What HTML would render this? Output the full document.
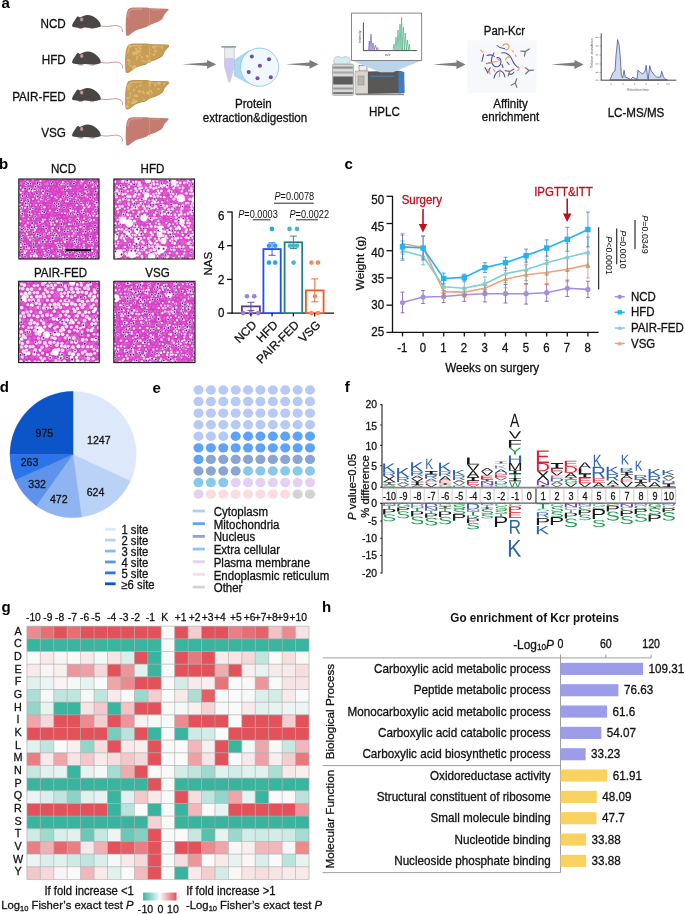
<!DOCTYPE html>
<html><head><meta charset="utf-8"><style>
html,body{margin:0;padding:0;background:#fff;}
body{width:685px;height:914px;overflow:hidden;position:relative;}
svg{position:absolute;left:0;top:0;will-change:transform;}
text{font-family:"Liberation Sans",sans-serif;}
</style></head><body>
<svg width="685" height="914" viewBox="0 0 685 914">
<text transform="translate(1.50,8.00) scale(1,1.0)" x="0" y="0" font-size="15" text-anchor="start" fill="#000" font-weight="bold" >a</text>
<text transform="translate(-1.00,168.80) scale(1,1.0)" x="0" y="0" font-size="15" text-anchor="start" fill="#000" font-weight="bold" >b</text>
<text transform="translate(344.50,169.30) scale(1,1.0)" x="0" y="0" font-size="15" text-anchor="start" fill="#000" font-weight="bold" >c</text>
<text transform="translate(-0.30,392.10) scale(1,1.0)" x="0" y="0" font-size="15" text-anchor="start" fill="#000" font-weight="bold" >d</text>
<text transform="translate(152.50,392.50) scale(1,1.0)" x="0" y="0" font-size="15" text-anchor="start" fill="#000" font-weight="bold" >e</text>
<text transform="translate(344.80,391.90) scale(1,1.0)" x="0" y="0" font-size="15" text-anchor="start" fill="#000" font-weight="bold" >f</text>
<text transform="translate(1.60,611.70) scale(1,1.0)" x="0" y="0" font-size="15" text-anchor="start" fill="#000" font-weight="bold" >g</text>
<text transform="translate(321.90,611.90) scale(1,1.0)" x="0" y="0" font-size="15" text-anchor="start" fill="#000" font-weight="bold" >h</text>
<text transform="translate(65.80,27.70) scale(1,1.08)" x="0" y="0" font-size="11.7" text-anchor="end" fill="#111" stroke="#111" stroke-width="0.28" >NCD</text>
<g transform="translate(72.0,14.6)"><path d="M28.5,11.3 C32,11.8 36,12.2 40,11.3 C44,10.6 47,11 49,12.6 C50.6,14 50.8,16 50.3,17.5" fill="none" stroke="#c4918e" stroke-width="0.9"/><path d="M0,11 C0.3,10 0.6,9 1,8.3 C1.8,7 2.4,6 3,5.3 C3.8,4 4.3,3 4.9,2.4 C5.3,1.8 5.7,1.7 6.2,1.8 C6.8,2 7.3,2.6 7.9,2.9 C9,2.2 10,1.8 11.4,1.4 C12.8,0.9 14,0.5 15.4,0.4 C17.3,0.4 18.8,0.8 20.3,1.4 C22,2.2 23.5,3.2 24.8,4.3 C26.2,5.5 27.2,6.7 27.8,7.8 C28.5,9 28.8,10.2 28.8,11.3 C28.5,12.3 27,12.6 25.8,12.8 L21.8,13.6 L12.9,12.8 L8.9,13.6 L4,12.8 L1,12.3 C0.3,12 0,11.6 0,11 Z" fill="#4b4646"/><ellipse cx="9.7" cy="4.8" rx="1.6" ry="2" fill="#c49492"/><path d="M6.5,13.7 L10.5,14.1 M18,13.8 L22,14.1" stroke="#c09392" stroke-width="0.9"/></g>
<g transform="translate(125.7,7.6)"><path d="M3.1,1.1 C5,0.2 7,0 8.3,0 L20.6,0 L25,0.6 L41.6,1.1 C42.5,1.2 43.2,1.6 42.9,2.2 C42,3.5 41,4 40.7,4.6 C39.5,6 38.6,7 38.1,8.1 C37.3,10 37,11 36.3,11.6 C35,12.8 34,13.3 32.8,13.8 L29.3,15.5 L24.1,17.3 C22.5,18 21.5,19 20.6,19.5 C18.5,20.5 17,20.7 15.3,21.2 C13.5,21.8 11.5,22.2 10.1,23 C8,24.2 7,25.2 5.7,26 C4.5,27 3.3,28.2 2.2,28.2 C1,28.4 0.5,28 0.4,27.3 C0,24 0,21 0,18.6 C0,15 0.2,12 0.4,9.8 C0.6,7 0.9,5.5 1.3,4.6 C1.8,3 2.3,1.8 3.1,1.1 Z" fill="#c57c70"/><path d="M2.2,9 C2.5,5 3.5,2.6 6,1.8 C9,1.2 13,1.3 16,1.4" stroke="#d6998f" stroke-width="1.5" fill="none" stroke-linecap="round" opacity="0.85"/><path d="M26.5,2.4 C29,1.9 32,2 34,2.2" stroke="#d6998f" stroke-width="1.1" fill="none" stroke-linecap="round" opacity="0.7"/><path d="M23.7,0.6 C24,6 23.8,12 24.1,19" stroke="#d6998f" stroke-width="0.7" fill="none" opacity="0.9"/></g>
<text transform="translate(65.80,64.25) scale(1,1.08)" x="0" y="0" font-size="11.7" text-anchor="end" fill="#111" stroke="#111" stroke-width="0.28" >HFD</text>
<g transform="translate(72.0,51.1)"><path d="M28.5,11.3 C32,11.8 36,12.2 40,11.3 C44,10.6 47,11 49,12.6 C50.6,14 50.8,16 50.3,17.5" fill="none" stroke="#c4918e" stroke-width="0.9"/><path d="M0,11 C0.3,10 0.6,9 1,8.3 C1.8,7 2.4,6 3,5.3 C3.8,4 4.3,3 4.9,2.4 C5.3,1.8 5.7,1.7 6.2,1.8 C6.8,2 7.3,2.6 7.9,2.9 C9,2.2 10,1.8 11.4,1.4 C12.8,0.9 14,0.5 15.4,0.4 C17.3,0.4 18.8,0.8 20.3,1.4 C22,2.2 23.5,3.2 24.8,4.3 C26.2,5.5 27.2,6.7 27.8,7.8 C28.5,9 28.8,10.2 28.8,11.3 C28.5,12.3 27,12.6 25.8,12.8 L21.8,13.6 L12.9,12.8 L8.9,13.6 L4,12.8 L1,12.3 C0.3,12 0,11.6 0,11 Z" fill="#4b4646"/><ellipse cx="9.7" cy="4.8" rx="1.6" ry="2" fill="#c49492"/><path d="M6.5,13.7 L10.5,14.1 M18,13.8 L22,14.1" stroke="#c09392" stroke-width="0.9"/></g>
<g transform="translate(125.7,44.1)"><path d="M3.1,1.1 C5,0.2 7,0 8.3,0 L20.6,0 L25,0.6 L41.6,1.1 C42.5,1.2 43.2,1.6 42.9,2.2 C42,3.5 41,4 40.7,4.6 C39.5,6 38.6,7 38.1,8.1 C37.3,10 37,11 36.3,11.6 C35,12.8 34,13.3 32.8,13.8 L29.3,15.5 L24.1,17.3 C22.5,18 21.5,19 20.6,19.5 C18.5,20.5 17,20.7 15.3,21.2 C13.5,21.8 11.5,22.2 10.1,23 C8,24.2 7,25.2 5.7,26 C4.5,27 3.3,28.2 2.2,28.2 C1,28.4 0.5,28 0.4,27.3 C0,24 0,21 0,18.6 C0,15 0.2,12 0.4,9.8 C0.6,7 0.9,5.5 1.3,4.6 C1.8,3 2.3,1.8 3.1,1.1 Z" fill="#c89d55" stroke="#c09550" stroke-width="1.2" stroke-linejoin="round"/><path d="M2.2,9 C2.5,5 3.5,2.6 6,1.8 C9,1.2 13,1.3 16,1.4" stroke="#dcb878" stroke-width="1.5" fill="none" stroke-linecap="round" opacity="0.85"/><path d="M26.5,2.4 C29,1.9 32,2 34,2.2" stroke="#dcb878" stroke-width="1.1" fill="none" stroke-linecap="round" opacity="0.7"/><circle cx="10.9" cy="15.4" r="1.0" fill="#dfbb72" opacity="0.85"/><circle cx="4.1" cy="1.8" r="1.5" fill="#dfbb72" opacity="0.85"/><circle cx="11.7" cy="7.5" r="1.7" fill="#dfbb72" opacity="0.85"/><circle cx="20.3" cy="17.8" r="0.8" fill="#dfbb72" opacity="0.85"/><circle cx="28.0" cy="3.1" r="1.4" fill="#dfbb72" opacity="0.85"/><circle cx="24.8" cy="9.2" r="0.6" fill="#dfbb72" opacity="0.85"/><circle cx="36.2" cy="4.0" r="0.7" fill="#dfbb72" opacity="0.85"/><circle cx="18.7" cy="17.5" r="0.9" fill="#dfbb72" opacity="0.85"/><circle cx="21.5" cy="11.3" r="1.0" fill="#dfbb72" opacity="0.85"/><circle cx="7.9" cy="23.4" r="1.7" fill="#dfbb72" opacity="0.85"/><circle cx="29.7" cy="6.9" r="1.5" fill="#dfbb72" opacity="0.85"/><circle cx="24.2" cy="8.8" r="0.7" fill="#dfbb72" opacity="0.85"/><circle cx="5.0" cy="21.9" r="1.1" fill="#dfbb72" opacity="0.85"/><circle cx="7.5" cy="9.0" r="1.4" fill="#dfbb72" opacity="0.85"/><circle cx="36.0" cy="2.6" r="1.3" fill="#dfbb72" opacity="0.85"/><circle cx="3.3" cy="19.8" r="1.0" fill="#dfbb72" opacity="0.85"/><circle cx="13.7" cy="3.5" r="1.3" fill="#dfbb72" opacity="0.85"/><circle cx="2.7" cy="6.5" r="1.0" fill="#dfbb72" opacity="0.85"/><circle cx="25.6" cy="5.5" r="0.6" fill="#dfbb72" opacity="0.85"/><circle cx="16.4" cy="13.2" r="1.2" fill="#dfbb72" opacity="0.85"/><circle cx="23.6" cy="17.3" r="1.6" fill="#dfbb72" opacity="0.85"/><circle cx="21.5" cy="12.5" r="1.4" fill="#dfbb72" opacity="0.85"/><circle cx="10.9" cy="9.2" r="1.7" fill="#dfbb72" opacity="0.85"/><circle cx="22.1" cy="15.5" r="0.6" fill="#dfbb72" opacity="0.85"/><circle cx="17.9" cy="16.3" r="0.6" fill="#dfbb72" opacity="0.85"/><circle cx="3.9" cy="17.5" r="1.1" fill="#dfbb72" opacity="0.85"/><circle cx="28.3" cy="10.5" r="1.4" fill="#dfbb72" opacity="0.85"/><circle cx="30.7" cy="2.1" r="0.7" fill="#dfbb72" opacity="0.85"/><circle cx="11.4" cy="13.1" r="1.3" fill="#dfbb72" opacity="0.85"/><circle cx="14.1" cy="10.8" r="0.9" fill="#dfbb72" opacity="0.85"/><circle cx="16.1" cy="16.7" r="0.9" fill="#dfbb72" opacity="0.85"/><circle cx="2.6" cy="16.0" r="1.4" fill="#dfbb72" opacity="0.85"/><circle cx="13.7" cy="7.2" r="1.5" fill="#dfbb72" opacity="0.85"/><circle cx="10.9" cy="6.3" r="1.1" fill="#dfbb72" opacity="0.85"/><circle cx="29.1" cy="4.1" r="1.0" fill="#dfbb72" opacity="0.85"/><circle cx="8.2" cy="10.1" r="1.3" fill="#dfbb72" opacity="0.85"/><circle cx="10.4" cy="4.6" r="1.2" fill="#dfbb72" opacity="0.85"/><circle cx="9.0" cy="22.1" r="1.5" fill="#dfbb72" opacity="0.85"/><circle cx="8.8" cy="8.6" r="1.5" fill="#dfbb72" opacity="0.85"/><circle cx="15.1" cy="4.8" r="0.9" fill="#dfbb72" opacity="0.85"/><path d="M17,20.2 C18,21.5 19,21 19.5,20" fill="#3aa060"/><path d="M23.7,0.6 C24,6 23.8,12 24.1,19" stroke="#dcb878" stroke-width="0.7" fill="none" opacity="0.9"/></g>
<text transform="translate(65.80,100.80) scale(1,1.08)" x="0" y="0" font-size="11.7" text-anchor="end" fill="#111" stroke="#111" stroke-width="0.28" >PAIR-FED</text>
<g transform="translate(72.0,87.7)"><path d="M28.5,11.3 C32,11.8 36,12.2 40,11.3 C44,10.6 47,11 49,12.6 C50.6,14 50.8,16 50.3,17.5" fill="none" stroke="#c4918e" stroke-width="0.9"/><path d="M0,11 C0.3,10 0.6,9 1,8.3 C1.8,7 2.4,6 3,5.3 C3.8,4 4.3,3 4.9,2.4 C5.3,1.8 5.7,1.7 6.2,1.8 C6.8,2 7.3,2.6 7.9,2.9 C9,2.2 10,1.8 11.4,1.4 C12.8,0.9 14,0.5 15.4,0.4 C17.3,0.4 18.8,0.8 20.3,1.4 C22,2.2 23.5,3.2 24.8,4.3 C26.2,5.5 27.2,6.7 27.8,7.8 C28.5,9 28.8,10.2 28.8,11.3 C28.5,12.3 27,12.6 25.8,12.8 L21.8,13.6 L12.9,12.8 L8.9,13.6 L4,12.8 L1,12.3 C0.3,12 0,11.6 0,11 Z" fill="#4b4646"/><ellipse cx="9.7" cy="4.8" rx="1.6" ry="2" fill="#c49492"/><path d="M6.5,13.7 L10.5,14.1 M18,13.8 L22,14.1" stroke="#c09392" stroke-width="0.9"/></g>
<g transform="translate(125.7,80.7)"><path d="M3.1,1.1 C5,0.2 7,0 8.3,0 L20.6,0 L25,0.6 L41.6,1.1 C42.5,1.2 43.2,1.6 42.9,2.2 C42,3.5 41,4 40.7,4.6 C39.5,6 38.6,7 38.1,8.1 C37.3,10 37,11 36.3,11.6 C35,12.8 34,13.3 32.8,13.8 L29.3,15.5 L24.1,17.3 C22.5,18 21.5,19 20.6,19.5 C18.5,20.5 17,20.7 15.3,21.2 C13.5,21.8 11.5,22.2 10.1,23 C8,24.2 7,25.2 5.7,26 C4.5,27 3.3,28.2 2.2,28.2 C1,28.4 0.5,28 0.4,27.3 C0,24 0,21 0,18.6 C0,15 0.2,12 0.4,9.8 C0.6,7 0.9,5.5 1.3,4.6 C1.8,3 2.3,1.8 3.1,1.1 Z" fill="#c89d55" stroke="#c09550" stroke-width="1.2" stroke-linejoin="round"/><path d="M2.2,9 C2.5,5 3.5,2.6 6,1.8 C9,1.2 13,1.3 16,1.4" stroke="#dcb878" stroke-width="1.5" fill="none" stroke-linecap="round" opacity="0.85"/><path d="M26.5,2.4 C29,1.9 32,2 34,2.2" stroke="#dcb878" stroke-width="1.1" fill="none" stroke-linecap="round" opacity="0.7"/><circle cx="32.9" cy="8.4" r="1.0" fill="#dfbb72" opacity="0.85"/><circle cx="18.0" cy="12.2" r="1.1" fill="#dfbb72" opacity="0.85"/><circle cx="1.7" cy="25.6" r="1.6" fill="#dfbb72" opacity="0.85"/><circle cx="10.3" cy="20.5" r="1.5" fill="#dfbb72" opacity="0.85"/><circle cx="12.9" cy="10.2" r="0.9" fill="#dfbb72" opacity="0.85"/><circle cx="4.2" cy="16.5" r="0.9" fill="#dfbb72" opacity="0.85"/><circle cx="33.5" cy="2.6" r="1.6" fill="#dfbb72" opacity="0.85"/><circle cx="24.3" cy="1.8" r="1.4" fill="#dfbb72" opacity="0.85"/><circle cx="8.3" cy="9.1" r="1.3" fill="#dfbb72" opacity="0.85"/><circle cx="22.2" cy="12.1" r="1.6" fill="#dfbb72" opacity="0.85"/><circle cx="25.7" cy="10.2" r="0.9" fill="#dfbb72" opacity="0.85"/><circle cx="9.3" cy="15.1" r="1.5" fill="#dfbb72" opacity="0.85"/><circle cx="8.3" cy="21.7" r="1.6" fill="#dfbb72" opacity="0.85"/><circle cx="1.8" cy="17.5" r="1.5" fill="#dfbb72" opacity="0.85"/><circle cx="3.5" cy="8.4" r="0.9" fill="#dfbb72" opacity="0.85"/><circle cx="22.3" cy="12.3" r="1.1" fill="#dfbb72" opacity="0.85"/><circle cx="32.2" cy="1.5" r="0.7" fill="#dfbb72" opacity="0.85"/><circle cx="6.5" cy="4.7" r="0.7" fill="#dfbb72" opacity="0.85"/><circle cx="4.9" cy="14.3" r="0.9" fill="#dfbb72" opacity="0.85"/><circle cx="13.9" cy="10.5" r="1.3" fill="#dfbb72" opacity="0.85"/><circle cx="24.7" cy="10.7" r="0.8" fill="#dfbb72" opacity="0.85"/><circle cx="14.5" cy="4.7" r="1.2" fill="#dfbb72" opacity="0.85"/><circle cx="4.7" cy="6.1" r="1.0" fill="#dfbb72" opacity="0.85"/><circle cx="26.1" cy="12.5" r="1.0" fill="#dfbb72" opacity="0.85"/><circle cx="18.1" cy="19.2" r="1.1" fill="#dfbb72" opacity="0.85"/><circle cx="11.2" cy="15.2" r="1.4" fill="#dfbb72" opacity="0.85"/><circle cx="4.3" cy="12.3" r="1.1" fill="#dfbb72" opacity="0.85"/><circle cx="32.7" cy="8.2" r="1.1" fill="#dfbb72" opacity="0.85"/><circle cx="6.4" cy="22.2" r="1.3" fill="#dfbb72" opacity="0.85"/><circle cx="23.8" cy="4.1" r="1.2" fill="#dfbb72" opacity="0.85"/><circle cx="1.7" cy="5.2" r="1.5" fill="#dfbb72" opacity="0.85"/><circle cx="3.3" cy="3.8" r="0.7" fill="#dfbb72" opacity="0.85"/><circle cx="2.4" cy="23.0" r="0.7" fill="#dfbb72" opacity="0.85"/><circle cx="2.9" cy="21.1" r="1.2" fill="#dfbb72" opacity="0.85"/><circle cx="29.7" cy="4.2" r="1.4" fill="#dfbb72" opacity="0.85"/><circle cx="38.4" cy="3.1" r="1.0" fill="#dfbb72" opacity="0.85"/><circle cx="11.1" cy="6.1" r="0.9" fill="#dfbb72" opacity="0.85"/><circle cx="17.1" cy="10.9" r="1.0" fill="#dfbb72" opacity="0.85"/><circle cx="15.3" cy="12.2" r="0.7" fill="#dfbb72" opacity="0.85"/><circle cx="7.8" cy="19.1" r="1.4" fill="#dfbb72" opacity="0.85"/><path d="M17,20.2 C18,21.5 19,21 19.5,20" fill="#3aa060"/><path d="M23.7,0.6 C24,6 23.8,12 24.1,19" stroke="#dcb878" stroke-width="0.7" fill="none" opacity="0.9"/></g>
<text transform="translate(65.80,137.35) scale(1,1.08)" x="0" y="0" font-size="11.7" text-anchor="end" fill="#111" stroke="#111" stroke-width="0.28" >VSG</text>
<g transform="translate(72.0,124.2)"><path d="M28.5,11.3 C32,11.8 36,12.2 40,11.3 C44,10.6 47,11 49,12.6 C50.6,14 50.8,16 50.3,17.5" fill="none" stroke="#c4918e" stroke-width="0.9"/><path d="M0,11 C0.3,10 0.6,9 1,8.3 C1.8,7 2.4,6 3,5.3 C3.8,4 4.3,3 4.9,2.4 C5.3,1.8 5.7,1.7 6.2,1.8 C6.8,2 7.3,2.6 7.9,2.9 C9,2.2 10,1.8 11.4,1.4 C12.8,0.9 14,0.5 15.4,0.4 C17.3,0.4 18.8,0.8 20.3,1.4 C22,2.2 23.5,3.2 24.8,4.3 C26.2,5.5 27.2,6.7 27.8,7.8 C28.5,9 28.8,10.2 28.8,11.3 C28.5,12.3 27,12.6 25.8,12.8 L21.8,13.6 L12.9,12.8 L8.9,13.6 L4,12.8 L1,12.3 C0.3,12 0,11.6 0,11 Z" fill="#4b4646"/><ellipse cx="9.7" cy="4.8" rx="1.6" ry="2" fill="#c49492"/><path d="M6.5,13.7 L10.5,14.1 M18,13.8 L22,14.1" stroke="#c09392" stroke-width="0.9"/></g>
<g transform="translate(125.7,117.2)"><path d="M3.1,1.1 C5,0.2 7,0 8.3,0 L20.6,0 L25,0.6 L41.6,1.1 C42.5,1.2 43.2,1.6 42.9,2.2 C42,3.5 41,4 40.7,4.6 C39.5,6 38.6,7 38.1,8.1 C37.3,10 37,11 36.3,11.6 C35,12.8 34,13.3 32.8,13.8 L29.3,15.5 L24.1,17.3 C22.5,18 21.5,19 20.6,19.5 C18.5,20.5 17,20.7 15.3,21.2 C13.5,21.8 11.5,22.2 10.1,23 C8,24.2 7,25.2 5.7,26 C4.5,27 3.3,28.2 2.2,28.2 C1,28.4 0.5,28 0.4,27.3 C0,24 0,21 0,18.6 C0,15 0.2,12 0.4,9.8 C0.6,7 0.9,5.5 1.3,4.6 C1.8,3 2.3,1.8 3.1,1.1 Z" fill="#c57c70"/><path d="M2.2,9 C2.5,5 3.5,2.6 6,1.8 C9,1.2 13,1.3 16,1.4" stroke="#d6998f" stroke-width="1.5" fill="none" stroke-linecap="round" opacity="0.85"/><path d="M26.5,2.4 C29,1.9 32,2 34,2.2" stroke="#d6998f" stroke-width="1.1" fill="none" stroke-linecap="round" opacity="0.7"/><path d="M23.7,0.6 C24,6 23.8,12 24.1,19" stroke="#d6998f" stroke-width="0.7" fill="none" opacity="0.9"/></g>
<path d="M182.6,64.2 L207.1,62.400000000000006 L207.1,59.900000000000006 L216.1,64.2 L207.1,68.8 L207.1,66.10000000000001 Z" fill="#7d7b7b"/>
<path d="M286,64.2 L309.5,62.400000000000006 L309.5,59.900000000000006 L318.5,64.2 L309.5,68.8 L309.5,66.10000000000001 Z" fill="#7d7b7b"/>
<path d="M433,64.4 L456.5,62.60000000000001 L456.5,60.10000000000001 L465.5,64.4 L456.5,69.0 L456.5,66.30000000000001 Z" fill="#7d7b7b"/>
<path d="M551,64.4 L574.5,62.60000000000001 L574.5,60.10000000000001 L583.5,64.4 L574.5,69.0 L574.5,66.30000000000001 Z" fill="#7d7b7b"/>
<path d="M233.8,60 L249,50 L249,84 L233.8,76 Z" fill="#a3d5ef" opacity="0.9"/>
<circle cx="259.6" cy="67.2" r="19.1" fill="#f1f8fd" stroke="#8cc7e6" stroke-width="0.9"/>
<circle cx="251.9" cy="56.5" r="2.05" fill="#6a54aa"/>
<circle cx="269" cy="59.3" r="2.05" fill="#6a54aa"/>
<circle cx="259.9" cy="65.7" r="2.05" fill="#6a54aa"/>
<circle cx="248.7" cy="72.1" r="2.05" fill="#6a54aa"/>
<circle cx="257.5" cy="78.2" r="2.05" fill="#6a54aa"/>
<circle cx="270.8" cy="77.3" r="2.05" fill="#6a54aa"/>
<path d="M224.6,47.6 L234.2,47.6 L234.2,66.5 L229.9,82.1 L228.9,82.1 L224.6,66.5 Z" fill="#e8eeee" stroke="#aab4b4" stroke-width="0.6"/>
<path d="M224.9,58 L233.9,58 L233.9,66.5 L229.8,81.6 L229,81.6 L224.9,66.5 Z" fill="#cec6f2"/>
<rect x="221.4" y="46" width="14.7" height="1.8" rx="0.5" fill="#9aa4a6"/>
<text transform="translate(253.30,108.20) scale(1,1.08)" x="0" y="0" font-size="11.6" text-anchor="middle" fill="#111" stroke="#111" stroke-width="0.28" >Protein</text>
<text transform="translate(255.00,122.40) scale(1,1.08)" x="0" y="0" font-size="11.6" text-anchor="middle" fill="#111" stroke="#111" stroke-width="0.28" >extraction&amp;digestion</text>
<g><path d="M334,59 C336,56 340,56 342,58 C344,56 348,56 350,59 L350,64 L334,64 Z" fill="#d6ecf4" stroke="#9ab" stroke-width="0.5"/><rect x="332.5" y="64.3" width="21" height="31" rx="1" fill="#d9d9d9" stroke="#8a8a8a" stroke-width="0.6"/><rect x="333.2" y="66.5" width="19.6" height="2.2" fill="#8f8f8f"/><rect x="333.2" y="71.5" width="19.6" height="2" fill="#a5a5a5"/><rect x="333.2" y="76.5" width="19.6" height="8" fill="#5c5c5c"/><rect x="333.2" y="87.5" width="19.6" height="2" fill="#9a9a9a"/><rect x="333.2" y="92" width="19.6" height="2" fill="#7a7a7a"/><rect x="359" y="65.5" width="8" height="5.5" fill="#eee" stroke="#666" stroke-width="0.6"/><rect x="355.1" y="71" width="13" height="23" fill="#d9d5d1" stroke="#8a8a8a" stroke-width="0.5"/><rect x="358" y="76" width="6" height="9" fill="#b8b4b0" stroke="#777" stroke-width="0.4"/><path d="M368,71.5 L399,70.8 L403.8,72 L404.4,93 L368,93.9 Z" fill="#5a5856"/><rect x="370" y="75.8" width="24" height="0.8" fill="#4a86c0"/><path d="M398.5,71 L404.3,72.2 L404.4,92.8 L398.5,93.5 Z" fill="#3f7dc2"/><rect x="356" y="93.6" width="48" height="1.6" fill="#8a8a8a"/></g>
<path d="M352,60.4 L421.5,60.4 L393,72.3 L380,72.3 Z" fill="#b9d4eb"/>
<rect x="351.6" y="13.1" width="70.1" height="47.3" fill="#fff" stroke="#6a6a6a" stroke-width="0.8"/>
<path d="M363.4,22.4 L363.4,50.6 L416.8,50.6" fill="none" stroke="#222" stroke-width="0.8"/>
<path d="M368.5,50.5 L369.3,41 L370,50 L371,34.2 L372,50 L373,43 L374,50 L375.5,45 L376.5,50 L377.5,47.5 L378.5,50.5" fill="none" stroke="#8272c2" stroke-width="0.8"/>
<path d="M393,50.5 L394,44 L395,50 L396,37 L397,50 L398,30 L399,50 L400,24 L401,50 L401.6,17.5 L402.4,50 L403.4,27 L404.3,50 L405.3,33 L406.3,50 L407.3,40 L408.3,50 L409.3,44 L410.2,50.5" fill="none" stroke="#5db68c" stroke-width="0.8"/>
<text transform="translate(360.5,43) rotate(-90)" x="0" y="0" font-size="3.3" fill="#444">Intensity</text>
<text x="385" y="55.5" font-size="3.3" font-style="italic" fill="#444">m/z</text>
<text transform="translate(384.40,116.30) scale(1,1.08)" x="0" y="0" font-size="11.6" text-anchor="middle" fill="#111" stroke="#111" stroke-width="0.28" >HPLC</text>
<text transform="translate(504.40,34.80) scale(1,1.08)" x="0" y="0" font-size="11.4" text-anchor="middle" fill="#111" stroke="#111" stroke-width="0.28" >Pan-Kcr</text>
<rect x="467.3" y="40.3" width="69.4" height="52.5" fill="#f6f8fc"/>
<path d="M483.6,54.3 L481.9,61.3" fill="none" stroke="#4651b0" stroke-width="1.05" stroke-linecap="round"/>
<path d="M487,55.4 C490,54.5 493,55 494.5,56.5" fill="none" stroke="#4651b0" stroke-width="1.05" stroke-linecap="round"/>
<path d="M494,53 C491,57 490,63 494,66 C497,68 501,66 501,62 C501,59 499,57.5 497,57.5" fill="none" stroke="#4651b0" stroke-width="1.05" stroke-linecap="round"/>
<path d="M497,45.5 C499,47.5 501.5,48.6 504.5,48.4" fill="none" stroke="#4651b0" stroke-width="1.05" stroke-linecap="round"/>
<path d="M501.7,53 C506,52 510.5,55 512,59.5 C513.5,63 515,66 518.5,67.5" fill="none" stroke="#4651b0" stroke-width="1.05" stroke-linecap="round"/>
<path d="M485,67.5 L487.8,72.8 L490.2,67.8" fill="none" stroke="#4651b0" stroke-width="1.05" stroke-linecap="round"/>
<path d="M494,78.2 C495,73 498,70.3 501,71 C503.5,72 504.5,75 504.8,77" fill="none" stroke="#4651b0" stroke-width="1.05" stroke-linecap="round"/>
<path d="M502,64.5 L503,67.5" fill="none" stroke="#4651b0" stroke-width="1.05" stroke-linecap="round"/>
<path d="M508.7,73.5 C510.5,75 512.5,74.5 513.8,72.2" fill="none" stroke="#4651b0" stroke-width="1.05" stroke-linecap="round"/>
<path d="M486.5,63.6 L491.5,62.6" fill="none" stroke="#4651b0" stroke-width="1.05" stroke-linecap="round"/>
<path d="M507,62 L509,64.5" fill="none" stroke="#4651b0" stroke-width="1.05" stroke-linecap="round"/>
<path d="M480.7,50.2 L483,52.5" fill="none" stroke="#ec9254" stroke-width="1.05" stroke-linecap="round"/>
<path d="M502.9,46 C503.5,43.5 507.5,43 508.8,45.6 C509.8,48.5 507,51 504.8,49.2" fill="none" stroke="#ec9254" stroke-width="1.05" stroke-linecap="round"/>
<path d="M487,63.8 C490,63 493.5,62 497,61.6" fill="none" stroke="#ec9254" stroke-width="1.05" stroke-linecap="round"/>
<path d="M487.9,69 L490.2,74.1" fill="none" stroke="#ec9254" stroke-width="1.05" stroke-linecap="round"/>
<path d="M497,58.4 L499.4,60.6" fill="none" stroke="#ec9254" stroke-width="1.05" stroke-linecap="round"/>
<path d="M505.6,60 C506.2,57.5 508.2,56.2 510.3,57.2" fill="none" stroke="#ec9254" stroke-width="1.05" stroke-linecap="round"/>
<path d="M515.2,55 L516.2,56.5" fill="none" stroke="#ec9254" stroke-width="1.05" stroke-linecap="round"/>
<path d="M499.4,76.8 L500,69.2" fill="none" stroke="#ec9254" stroke-width="1.05" stroke-linecap="round"/>
<path d="M517.6,66.3 C519.6,67.5 519.8,70.2 517.4,70.5" fill="none" stroke="#ec9254" stroke-width="1.05" stroke-linecap="round"/>
<path d="M512,50.5 L513.5,52" fill="none" stroke="#ec9254" stroke-width="1.05" stroke-linecap="round"/>
<path d="M493,69 L495,71.5" fill="none" stroke="#ec9254" stroke-width="1.05" stroke-linecap="round"/>
<g transform="translate(525.5,51.5) rotate(-125)" stroke="#7a7a7a" stroke-width="1.3" fill="none" stroke-linecap="round"><path d="M0,4.5 L0,0 L-3,-3.5 M0,0 L3,-3.5"/></g>
<g transform="translate(529,70.5) rotate(-95)" stroke="#7a7a7a" stroke-width="1.3" fill="none" stroke-linecap="round"><path d="M0,4.5 L0,0 L-3,-3.5 M0,0 L3,-3.5"/></g>
<g transform="translate(515.2,83) rotate(-160)" stroke="#7a7a7a" stroke-width="1.3" fill="none" stroke-linecap="round"><path d="M0,4.5 L0,0 L-3,-3.5 M0,0 L3,-3.5"/></g>
<g transform="translate(509.8,71.5) rotate(-120)" stroke="#7a7a7a" stroke-width="1.3" fill="none" stroke-linecap="round"><path d="M0,4.5 L0,0 L-3,-3.5 M0,0 L3,-3.5"/></g>
<text transform="translate(510.50,107.70) scale(1,1.08)" x="0" y="0" font-size="11.6" text-anchor="middle" fill="#111" stroke="#111" stroke-width="0.28" >Affinity</text>
<text transform="translate(510.50,121.30) scale(1,1.08)" x="0" y="0" font-size="11.6" text-anchor="middle" fill="#111" stroke="#111" stroke-width="0.28" >enrichment</text>
<path d="M609.9,79.9 L613,72.5 L615,71 L616,55.7 L617.6,39.6 L619.1,44.9 L620.2,55.7 L621.4,75.6 L622.6,77.9 L624.1,70.2 L625.2,77.1 L627.5,77.9 L630.6,79.4 L632.9,77.1 L634.4,77.9 L637,79.4 L637.9,70.2 L640.5,72.5 L642.8,74 L645.1,71 L646.2,65.2 L647.4,75.6 L648.2,79.4 L649.7,65.6 L651.3,71 L653.6,74 L656.6,77.1 L660.5,77.1 L661.7,71.3 L663.5,77.1 L665.8,79.4 L667.4,79.9 Z" fill="#cfd8ee" stroke="#3d4f94" stroke-width="0.75" stroke-linejoin="round"/>
<path d="M601.2,33.4 L601.2,80.2 L676.3,80.2" fill="none" stroke="#333" stroke-width="0.9"/>
<line x1="599.5" y1="37.5" x2="601.2" y2="37.5" stroke="#555" stroke-width="0.4"/>
<rect x="595.5" y="36.9" width="2.8" height="1.1" fill="#aaa"/>
<line x1="599.5" y1="46" x2="601.2" y2="46" stroke="#555" stroke-width="0.4"/>
<rect x="595.5" y="45.4" width="2.8" height="1.1" fill="#aaa"/>
<line x1="599.5" y1="55" x2="601.2" y2="55" stroke="#555" stroke-width="0.4"/>
<rect x="595.5" y="54.4" width="2.8" height="1.1" fill="#aaa"/>
<line x1="599.5" y1="64" x2="601.2" y2="64" stroke="#555" stroke-width="0.4"/>
<rect x="595.5" y="63.4" width="2.8" height="1.1" fill="#aaa"/>
<line x1="599.5" y1="72.5" x2="601.2" y2="72.5" stroke="#555" stroke-width="0.4"/>
<rect x="595.5" y="71.9" width="2.8" height="1.1" fill="#aaa"/>
<line x1="599.5" y1="80.2" x2="601.2" y2="80.2" stroke="#555" stroke-width="0.4"/>
<rect x="595.5" y="79.6" width="2.8" height="1.1" fill="#aaa"/>
<rect x="610.4" y="83.5" width="1.3" height="1.1" fill="#999"/>
<rect x="622.4" y="83.5" width="1.3" height="1.1" fill="#999"/>
<rect x="633.9" y="83.5" width="1.3" height="1.1" fill="#999"/>
<rect x="645.4" y="83.5" width="1.3" height="1.1" fill="#999"/>
<rect x="657.4" y="83.5" width="1.3" height="1.1" fill="#999"/>
<rect x="666" y="83.5" width="4" height="1" fill="#bbb"/>
<text transform="translate(592.6,68) rotate(-90)" x="0" y="0" font-size="3.4" fill="#666">Relative abundance</text>
<text x="627" y="90.5" font-size="3.4" fill="#666">Retention time</text>
<text transform="translate(636.00,116.50) scale(1,1.08)" x="0" y="0" font-size="11.6" text-anchor="middle" fill="#111" stroke="#111" stroke-width="0.28" >LC-MS/MS</text>
<text transform="translate(63.50,173.00) scale(1,1.08)" x="0" y="0" font-size="11.6" text-anchor="middle" fill="#111" stroke="#111" stroke-width="0.28" >NCD</text>
<text transform="translate(152.50,173.00) scale(1,1.08)" x="0" y="0" font-size="11.6" text-anchor="middle" fill="#111" stroke="#111" stroke-width="0.28" >HFD</text>
<text transform="translate(60.50,277.20) scale(1,1.08)" x="0" y="0" font-size="11.6" text-anchor="middle" fill="#111" stroke="#111" stroke-width="0.28" >PAIR-FED</text>
<text transform="translate(157.50,277.20) scale(1,1.08)" x="0" y="0" font-size="11.6" text-anchor="middle" fill="#111" stroke="#111" stroke-width="0.28" >VSG</text>
<clipPath id="clip1"><rect x="18.8" y="179" width="80.2" height="80"/></clipPath><g clip-path="url(#clip1)"><rect x="18.8" y="179" width="80.2" height="80" fill="#d63cc6"/><circle cx="17.4" cy="176.5" r="1.16" fill="#fffafe"/><circle cx="21.1" cy="175.4" r="1.01" fill="#fffafe"/><circle cx="24.4" cy="175.5" r="1.01" fill="#e062d2"/><circle cx="27.2" cy="175.3" r="0.90" fill="#e062d2"/><circle cx="30.8" cy="175.6" r="1.16" fill="#e062d2"/><circle cx="33.0" cy="175.3" r="1.19" fill="#e062d2"/><circle cx="36.6" cy="176.9" r="1.04" fill="#e062d2"/><circle cx="41.0" cy="176.8" r="0.93" fill="#e062d2"/><circle cx="43.2" cy="176.3" r="0.80" fill="#e062d2"/><circle cx="46.5" cy="176.7" r="1.02" fill="#e062d2"/><circle cx="50.5" cy="175.4" r="1.24" fill="#e062d2"/><circle cx="54.0" cy="175.3" r="1.15" fill="#e062d2"/><circle cx="55.9" cy="175.4" r="0.88" fill="#fffafe"/><circle cx="60.8" cy="175.9" r="0.96" fill="#e062d2"/><circle cx="62.7" cy="176.5" r="1.16" fill="#f8dcf1"/><circle cx="66.4" cy="176.3" r="1.21" fill="#e062d2"/><circle cx="70.0" cy="175.8" r="0.94" fill="#e062d2"/><circle cx="74.1" cy="175.6" r="0.82" fill="#fffafe"/><circle cx="76.4" cy="175.7" r="1.07" fill="#f8dcf1"/><circle cx="79.7" cy="175.4" r="1.21" fill="#e062d2"/><circle cx="83.7" cy="175.5" r="1.13" fill="#fffafe"/><circle cx="86.9" cy="175.5" r="1.00" fill="#e062d2"/><circle cx="89.4" cy="176.1" r="1.25" fill="#f8dcf1"/><circle cx="93.0" cy="176.1" r="1.13" fill="#e062d2"/><circle cx="96.1" cy="176.9" r="1.23" fill="#e062d2"/><circle cx="99.4" cy="175.5" r="0.92" fill="#f8dcf1"/><circle cx="102.7" cy="176.6" r="1.15" fill="#f8dcf1"/><circle cx="15.9" cy="178.8" r="1.12" fill="#e062d2"/><circle cx="19.2" cy="179.3" r="0.93" fill="#fffafe"/><circle cx="22.2" cy="178.2" r="1.05" fill="#e062d2"/><circle cx="25.3" cy="179.5" r="1.09" fill="#f8dcf1"/><circle cx="28.9" cy="179.4" r="1.17" fill="#e062d2"/><circle cx="32.6" cy="179.3" r="1.24" fill="#fffafe"/><circle cx="35.3" cy="178.4" r="1.18" fill="#fffafe"/><circle cx="38.9" cy="179.4" r="1.13" fill="#e062d2"/><circle cx="42.0" cy="179.3" r="0.99" fill="#e062d2"/><circle cx="45.4" cy="179.4" r="0.81" fill="#e062d2"/><circle cx="48.7" cy="178.5" r="1.11" fill="#e062d2"/><circle cx="51.1" cy="178.4" r="0.94" fill="#e062d2"/><circle cx="54.9" cy="179.2" r="1.07" fill="#e062d2"/><circle cx="57.6" cy="178.8" r="0.93" fill="#e062d2"/><circle cx="60.9" cy="179.2" r="0.84" fill="#e062d2"/><circle cx="65.1" cy="179.8" r="1.17" fill="#e062d2"/><circle cx="68.5" cy="178.8" r="0.86" fill="#e062d2"/><circle cx="72.4" cy="179.8" r="1.07" fill="#e062d2"/><circle cx="74.1" cy="178.4" r="1.05" fill="#e062d2"/><circle cx="78.0" cy="178.9" r="0.90" fill="#e062d2"/><circle cx="81.3" cy="179.8" r="1.21" fill="#e062d2"/><circle cx="84.7" cy="178.7" r="1.24" fill="#e062d2"/><circle cx="88.3" cy="178.9" r="0.93" fill="#f8dcf1"/><circle cx="90.6" cy="179.1" r="0.92" fill="#fffafe"/><circle cx="94.3" cy="178.6" r="0.87" fill="#fffafe"/><circle cx="98.2" cy="179.2" r="1.13" fill="#e062d2"/><circle cx="101.0" cy="179.1" r="0.95" fill="#e062d2"/><circle cx="17.1" cy="181.6" r="1.14" fill="#e062d2"/><circle cx="21.1" cy="182.5" r="1.05" fill="#e062d2"/><circle cx="23.6" cy="182.0" r="1.12" fill="#e062d2"/><circle cx="27.7" cy="181.7" r="0.98" fill="#f8dcf1"/><circle cx="29.6" cy="182.4" r="1.11" fill="#e062d2"/><circle cx="33.1" cy="181.8" r="1.05" fill="#e062d2"/><circle cx="36.4" cy="182.0" r="1.17" fill="#e062d2"/><circle cx="40.5" cy="181.1" r="1.13" fill="#fffafe"/><circle cx="43.9" cy="181.1" r="1.18" fill="#e062d2"/><circle cx="47.6" cy="182.2" r="0.86" fill="#e062d2"/><circle cx="49.6" cy="182.1" r="0.99" fill="#e062d2"/><circle cx="52.7" cy="181.2" r="0.97" fill="#e062d2"/><circle cx="57.4" cy="181.3" r="0.99" fill="#e062d2"/><circle cx="60.0" cy="182.6" r="0.97" fill="#e062d2"/><circle cx="62.8" cy="182.1" r="1.03" fill="#fffafe"/><circle cx="66.8" cy="181.5" r="1.05" fill="#e062d2"/><circle cx="70.0" cy="181.3" r="0.91" fill="#e062d2"/><circle cx="72.7" cy="182.2" r="1.09" fill="#e062d2"/><circle cx="75.9" cy="181.3" r="1.07" fill="#e062d2"/><circle cx="79.8" cy="181.6" r="1.16" fill="#e062d2"/><circle cx="82.4" cy="181.3" r="1.23" fill="#f8dcf1"/><circle cx="86.7" cy="182.4" r="0.86" fill="#e062d2"/><circle cx="89.3" cy="181.6" r="1.08" fill="#e062d2"/><circle cx="92.5" cy="182.4" r="1.09" fill="#f8dcf1"/><circle cx="96.9" cy="181.9" r="1.07" fill="#e062d2"/><circle cx="99.5" cy="181.2" r="0.81" fill="#e062d2"/><circle cx="103.4" cy="181.0" r="1.01" fill="#f8dcf1"/><circle cx="15.4" cy="184.7" r="0.84" fill="#e062d2"/><circle cx="19.4" cy="184.2" r="0.91" fill="#e062d2"/><circle cx="22.1" cy="184.0" r="1.22" fill="#e062d2"/><circle cx="25.7" cy="185.0" r="1.01" fill="#fffafe"/><circle cx="29.0" cy="185.1" r="0.87" fill="#e062d2"/><circle cx="31.8" cy="185.5" r="0.96" fill="#e062d2"/><circle cx="34.9" cy="185.1" r="1.12" fill="#e062d2"/><circle cx="38.8" cy="184.6" r="1.24" fill="#e062d2"/><circle cx="41.1" cy="184.8" r="1.25" fill="#e062d2"/><circle cx="44.5" cy="184.0" r="1.20" fill="#e062d2"/><circle cx="47.8" cy="184.3" r="0.82" fill="#e062d2"/><circle cx="51.5" cy="184.0" r="0.82" fill="#fffafe"/><circle cx="55.2" cy="184.1" r="0.94" fill="#e062d2"/><circle cx="59.1" cy="184.9" r="1.19" fill="#e062d2"/><circle cx="61.8" cy="184.5" r="1.08" fill="#f8dcf1"/><circle cx="64.7" cy="184.7" r="1.17" fill="#e062d2"/><circle cx="68.7" cy="185.3" r="0.94" fill="#e062d2"/><circle cx="71.5" cy="184.9" r="0.91" fill="#e062d2"/><circle cx="74.2" cy="184.2" r="0.93" fill="#e062d2"/><circle cx="78.6" cy="184.8" r="1.20" fill="#e062d2"/><circle cx="81.6" cy="184.6" r="1.17" fill="#e062d2"/><circle cx="85.2" cy="185.1" r="0.92" fill="#f8dcf1"/><circle cx="87.5" cy="184.0" r="0.88" fill="#e062d2"/><circle cx="91.0" cy="184.0" r="1.14" fill="#e062d2"/><circle cx="94.5" cy="185.3" r="1.23" fill="#e062d2"/><circle cx="97.7" cy="183.9" r="1.06" fill="#f8dcf1"/><circle cx="100.6" cy="184.8" r="0.88" fill="#f8dcf1"/><circle cx="17.9" cy="188.1" r="0.85" fill="#e062d2"/><circle cx="20.4" cy="187.5" r="1.00" fill="#f8dcf1"/><circle cx="23.8" cy="188.4" r="1.07" fill="#e062d2"/><circle cx="26.9" cy="186.9" r="1.24" fill="#e062d2"/><circle cx="30.3" cy="188.2" r="0.98" fill="#e062d2"/><circle cx="33.4" cy="188.0" r="0.91" fill="#e062d2"/><circle cx="37.5" cy="187.8" r="0.98" fill="#e062d2"/><circle cx="40.2" cy="186.9" r="0.88" fill="#e062d2"/><circle cx="44.2" cy="187.1" r="1.16" fill="#e062d2"/><circle cx="47.4" cy="187.8" r="1.16" fill="#e062d2"/><circle cx="49.6" cy="187.4" r="0.94" fill="#e062d2"/><circle cx="53.3" cy="187.6" r="1.12" fill="#e062d2"/><circle cx="57.3" cy="188.3" r="1.11" fill="#e062d2"/><circle cx="60.5" cy="187.4" r="1.07" fill="#e062d2"/><circle cx="63.0" cy="186.9" r="0.84" fill="#e062d2"/><circle cx="67.1" cy="188.0" r="0.94" fill="#fffafe"/><circle cx="70.4" cy="187.9" r="1.23" fill="#f8dcf1"/><circle cx="73.8" cy="188.0" r="1.07" fill="#e062d2"/><circle cx="77.2" cy="187.2" r="1.24" fill="#e062d2"/><circle cx="79.0" cy="187.4" r="0.88" fill="#e062d2"/><circle cx="83.8" cy="187.8" r="0.97" fill="#e062d2"/><circle cx="86.5" cy="188.0" r="0.97" fill="#f8dcf1"/><circle cx="90.0" cy="188.3" r="0.88" fill="#e062d2"/><circle cx="92.6" cy="186.9" r="1.05" fill="#f8dcf1"/><circle cx="96.7" cy="187.5" r="0.99" fill="#e062d2"/><circle cx="99.3" cy="187.3" r="1.07" fill="#fffafe"/><circle cx="103.1" cy="187.8" r="0.88" fill="#e062d2"/><circle cx="15.7" cy="190.8" r="1.13" fill="#e062d2"/><circle cx="19.4" cy="191.2" r="0.94" fill="#f8dcf1"/><circle cx="22.8" cy="190.0" r="1.11" fill="#f8dcf1"/><circle cx="24.7" cy="190.0" r="0.87" fill="#e062d2"/><circle cx="29.1" cy="190.9" r="1.17" fill="#f8dcf1"/><circle cx="32.7" cy="191.2" r="1.08" fill="#fffafe"/><circle cx="34.8" cy="190.3" r="1.01" fill="#f8dcf1"/><circle cx="37.9" cy="190.3" r="1.04" fill="#e062d2"/><circle cx="42.2" cy="190.5" r="1.23" fill="#fffafe"/><circle cx="44.9" cy="189.9" r="1.02" fill="#e062d2"/><circle cx="49.2" cy="190.3" r="0.93" fill="#e062d2"/><circle cx="52.3" cy="190.6" r="0.93" fill="#e062d2"/><circle cx="55.1" cy="189.7" r="0.99" fill="#e062d2"/><circle cx="57.7" cy="190.1" r="0.84" fill="#e062d2"/><circle cx="61.8" cy="190.3" r="1.22" fill="#e062d2"/><circle cx="65.5" cy="189.7" r="1.14" fill="#e062d2"/><circle cx="68.1" cy="190.5" r="0.82" fill="#e062d2"/><circle cx="71.5" cy="190.4" r="0.84" fill="#e062d2"/><circle cx="75.2" cy="190.5" r="0.82" fill="#e062d2"/><circle cx="78.1" cy="190.6" r="1.21" fill="#e062d2"/><circle cx="80.7" cy="189.7" r="1.15" fill="#e062d2"/><circle cx="85.3" cy="191.2" r="0.97" fill="#fffafe"/><circle cx="88.7" cy="189.9" r="1.15" fill="#e062d2"/><circle cx="92.2" cy="190.0" r="0.99" fill="#e062d2"/><circle cx="94.3" cy="190.8" r="0.86" fill="#e062d2"/><circle cx="97.3" cy="190.3" r="1.20" fill="#f8dcf1"/><circle cx="102.1" cy="190.6" r="0.86" fill="#e062d2"/><circle cx="17.9" cy="192.6" r="0.88" fill="#e062d2"/><circle cx="20.9" cy="192.8" r="1.03" fill="#fffafe"/><circle cx="23.1" cy="192.7" r="1.09" fill="#e062d2"/><circle cx="27.0" cy="193.5" r="1.23" fill="#e062d2"/><circle cx="30.0" cy="193.4" r="1.13" fill="#e062d2"/><circle cx="34.0" cy="192.5" r="1.15" fill="#e062d2"/><circle cx="37.1" cy="193.8" r="0.83" fill="#e062d2"/><circle cx="39.5" cy="193.0" r="1.00" fill="#e062d2"/><circle cx="43.3" cy="193.4" r="1.12" fill="#fffafe"/><circle cx="47.7" cy="193.0" r="0.87" fill="#fffafe"/><circle cx="50.2" cy="193.2" r="1.22" fill="#e062d2"/><circle cx="54.0" cy="192.8" r="0.96" fill="#e062d2"/><circle cx="56.3" cy="193.3" r="0.83" fill="#e062d2"/><circle cx="59.5" cy="194.1" r="0.92" fill="#e062d2"/><circle cx="63.7" cy="193.0" r="1.17" fill="#e062d2"/><circle cx="66.9" cy="192.9" r="0.92" fill="#f8dcf1"/><circle cx="70.6" cy="192.8" r="0.86" fill="#e062d2"/><circle cx="73.4" cy="192.5" r="0.82" fill="#f8dcf1"/><circle cx="77.2" cy="192.6" r="1.06" fill="#e062d2"/><circle cx="80.0" cy="193.5" r="0.90" fill="#fffafe"/><circle cx="82.5" cy="192.6" r="1.01" fill="#e062d2"/><circle cx="86.8" cy="192.6" r="1.09" fill="#f8dcf1"/><circle cx="89.4" cy="192.5" r="1.14" fill="#e062d2"/><circle cx="93.0" cy="192.8" r="0.90" fill="#e062d2"/><circle cx="95.9" cy="192.7" r="0.96" fill="#e062d2"/><circle cx="99.9" cy="193.6" r="0.88" fill="#e062d2"/><circle cx="103.3" cy="193.3" r="1.06" fill="#fffafe"/><circle cx="15.6" cy="196.9" r="1.05" fill="#e062d2"/><circle cx="19.3" cy="196.8" r="0.93" fill="#e062d2"/><circle cx="21.7" cy="196.4" r="1.09" fill="#fffafe"/><circle cx="24.7" cy="196.4" r="1.18" fill="#e062d2"/><circle cx="28.9" cy="196.6" r="0.92" fill="#e062d2"/><circle cx="31.3" cy="195.5" r="1.12" fill="#e062d2"/><circle cx="34.6" cy="195.9" r="0.88" fill="#fffafe"/><circle cx="39.3" cy="196.2" r="0.85" fill="#e062d2"/><circle cx="41.6" cy="195.6" r="1.03" fill="#fffafe"/><circle cx="45.1" cy="195.6" r="1.15" fill="#e062d2"/><circle cx="47.8" cy="197.0" r="1.04" fill="#e062d2"/><circle cx="51.7" cy="195.7" r="1.03" fill="#fffafe"/><circle cx="55.3" cy="196.9" r="0.95" fill="#f8dcf1"/><circle cx="57.8" cy="195.5" r="1.22" fill="#e062d2"/><circle cx="62.4" cy="196.3" r="1.03" fill="#e062d2"/><circle cx="64.6" cy="196.2" r="1.14" fill="#e062d2"/><circle cx="68.7" cy="195.6" r="1.25" fill="#e062d2"/><circle cx="71.8" cy="196.8" r="0.87" fill="#f8dcf1"/><circle cx="74.7" cy="195.5" r="1.12" fill="#e062d2"/><circle cx="77.9" cy="196.4" r="1.09" fill="#e062d2"/><circle cx="82.2" cy="195.9" r="0.95" fill="#f8dcf1"/><circle cx="85.6" cy="195.6" r="1.09" fill="#f8dcf1"/><circle cx="87.3" cy="197.0" r="0.94" fill="#f8dcf1"/><circle cx="91.3" cy="196.8" r="1.10" fill="#e062d2"/><circle cx="94.7" cy="196.6" r="1.08" fill="#f8dcf1"/><circle cx="98.5" cy="196.7" r="1.18" fill="#e062d2"/><circle cx="101.3" cy="195.6" r="0.89" fill="#fffafe"/><circle cx="16.7" cy="199.6" r="1.09" fill="#e062d2"/><circle cx="20.0" cy="198.7" r="0.80" fill="#e062d2"/><circle cx="24.2" cy="199.1" r="1.00" fill="#e062d2"/><circle cx="26.8" cy="199.3" r="1.14" fill="#e062d2"/><circle cx="29.6" cy="198.7" r="1.18" fill="#e062d2"/><circle cx="33.0" cy="199.0" r="1.00" fill="#f8dcf1"/><circle cx="37.0" cy="198.3" r="1.16" fill="#f8dcf1"/><circle cx="40.8" cy="199.3" r="1.12" fill="#f8dcf1"/><circle cx="42.8" cy="199.7" r="1.25" fill="#e062d2"/><circle cx="46.6" cy="198.4" r="0.90" fill="#e062d2"/><circle cx="49.8" cy="199.5" r="0.97" fill="#e062d2"/><circle cx="54.1" cy="199.4" r="0.90" fill="#e062d2"/><circle cx="56.6" cy="198.3" r="1.01" fill="#f8dcf1"/><circle cx="60.6" cy="199.4" r="1.14" fill="#f8dcf1"/><circle cx="63.8" cy="199.0" r="1.10" fill="#e062d2"/><circle cx="67.0" cy="199.0" r="0.89" fill="#e062d2"/><circle cx="69.4" cy="199.2" r="1.18" fill="#e062d2"/><circle cx="72.7" cy="198.7" r="0.80" fill="#e062d2"/><circle cx="75.9" cy="198.3" r="1.05" fill="#fffafe"/><circle cx="79.6" cy="199.8" r="0.84" fill="#e062d2"/><circle cx="83.6" cy="199.1" r="1.16" fill="#e062d2"/><circle cx="86.6" cy="199.2" r="0.88" fill="#e062d2"/><circle cx="90.3" cy="198.7" r="0.93" fill="#f8dcf1"/><circle cx="93.3" cy="199.3" r="0.84" fill="#f8dcf1"/><circle cx="96.1" cy="199.7" r="1.15" fill="#e062d2"/><circle cx="99.0" cy="199.1" r="0.84" fill="#e062d2"/><circle cx="103.2" cy="198.3" r="1.03" fill="#e062d2"/><circle cx="14.9" cy="201.6" r="1.00" fill="#e062d2"/><circle cx="18.4" cy="201.6" r="0.84" fill="#e062d2"/><circle cx="21.8" cy="201.3" r="0.96" fill="#fffafe"/><circle cx="25.7" cy="201.9" r="0.84" fill="#f8dcf1"/><circle cx="29.0" cy="201.9" r="1.19" fill="#e062d2"/><circle cx="32.5" cy="202.0" r="0.96" fill="#e062d2"/><circle cx="35.4" cy="201.9" r="1.10" fill="#e062d2"/><circle cx="38.5" cy="201.4" r="1.00" fill="#f8dcf1"/><circle cx="41.7" cy="202.1" r="1.07" fill="#e062d2"/><circle cx="45.6" cy="201.2" r="0.85" fill="#f8dcf1"/><circle cx="47.8" cy="201.3" r="1.08" fill="#e062d2"/><circle cx="51.0" cy="201.9" r="0.87" fill="#e062d2"/><circle cx="55.1" cy="202.6" r="1.18" fill="#e062d2"/><circle cx="57.9" cy="201.9" r="0.94" fill="#e062d2"/><circle cx="62.2" cy="202.7" r="1.22" fill="#e062d2"/><circle cx="65.8" cy="201.4" r="1.14" fill="#f8dcf1"/><circle cx="67.9" cy="201.4" r="0.99" fill="#fffafe"/><circle cx="71.2" cy="202.2" r="1.00" fill="#e062d2"/><circle cx="74.5" cy="201.2" r="1.17" fill="#e062d2"/><circle cx="78.2" cy="202.6" r="1.15" fill="#e062d2"/><circle cx="81.7" cy="201.4" r="1.22" fill="#e062d2"/><circle cx="84.4" cy="202.0" r="0.82" fill="#e062d2"/><circle cx="88.6" cy="201.5" r="1.01" fill="#e062d2"/><circle cx="91.1" cy="201.6" r="0.83" fill="#e062d2"/><circle cx="95.1" cy="202.7" r="1.18" fill="#f8dcf1"/><circle cx="97.3" cy="201.4" r="1.12" fill="#e062d2"/><circle cx="101.9" cy="202.3" r="1.13" fill="#fffafe"/><circle cx="17.0" cy="205.0" r="0.93" fill="#e062d2"/><circle cx="19.8" cy="204.4" r="0.97" fill="#fffafe"/><circle cx="24.3" cy="205.2" r="1.07" fill="#e062d2"/><circle cx="26.7" cy="205.1" r="1.18" fill="#f8dcf1"/><circle cx="30.5" cy="204.4" r="0.80" fill="#e062d2"/><circle cx="33.8" cy="204.5" r="1.13" fill="#e062d2"/><circle cx="36.3" cy="205.0" r="1.12" fill="#f8dcf1"/><circle cx="40.9" cy="205.1" r="1.11" fill="#e062d2"/><circle cx="42.9" cy="205.2" r="0.96" fill="#e062d2"/><circle cx="47.4" cy="204.5" r="1.05" fill="#e062d2"/><circle cx="49.8" cy="204.5" r="1.01" fill="#e062d2"/><circle cx="52.8" cy="204.8" r="1.05" fill="#e062d2"/><circle cx="56.7" cy="204.5" r="0.81" fill="#e062d2"/><circle cx="59.4" cy="204.6" r="1.11" fill="#e062d2"/><circle cx="64.0" cy="204.7" r="0.92" fill="#e062d2"/><circle cx="66.1" cy="205.1" r="1.12" fill="#e062d2"/><circle cx="70.4" cy="205.6" r="1.08" fill="#e062d2"/><circle cx="73.5" cy="204.6" r="1.11" fill="#e062d2"/><circle cx="76.7" cy="205.1" r="1.22" fill="#f8dcf1"/><circle cx="80.2" cy="204.4" r="1.08" fill="#e062d2"/><circle cx="83.1" cy="204.9" r="1.12" fill="#f8dcf1"/><circle cx="87.2" cy="204.7" r="1.05" fill="#fffafe"/><circle cx="90.1" cy="205.6" r="0.84" fill="#f8dcf1"/><circle cx="93.1" cy="205.3" r="1.19" fill="#e062d2"/><circle cx="96.5" cy="205.2" r="1.23" fill="#f8dcf1"/><circle cx="98.9" cy="204.7" r="1.21" fill="#fffafe"/><circle cx="102.7" cy="205.3" r="1.04" fill="#e062d2"/><circle cx="16.1" cy="208.1" r="1.24" fill="#e062d2"/><circle cx="19.1" cy="207.8" r="0.82" fill="#fffafe"/><circle cx="22.1" cy="207.0" r="0.89" fill="#fffafe"/><circle cx="25.0" cy="208.0" r="1.06" fill="#f8dcf1"/><circle cx="28.4" cy="207.3" r="0.96" fill="#e062d2"/><circle cx="32.4" cy="208.4" r="0.96" fill="#e062d2"/><circle cx="34.7" cy="207.7" r="0.92" fill="#e062d2"/><circle cx="37.9" cy="207.6" r="1.14" fill="#e062d2"/><circle cx="41.6" cy="208.4" r="0.82" fill="#f8dcf1"/><circle cx="44.4" cy="207.3" r="1.24" fill="#f8dcf1"/><circle cx="49.0" cy="206.9" r="0.94" fill="#e062d2"/><circle cx="52.5" cy="207.1" r="1.24" fill="#e062d2"/><circle cx="54.4" cy="207.6" r="1.03" fill="#e062d2"/><circle cx="59.1" cy="207.7" r="0.94" fill="#f8dcf1"/><circle cx="61.3" cy="208.5" r="1.08" fill="#e062d2"/><circle cx="65.3" cy="207.7" r="0.97" fill="#e062d2"/><circle cx="67.5" cy="208.0" r="0.95" fill="#e062d2"/><circle cx="71.6" cy="207.2" r="1.18" fill="#e062d2"/><circle cx="75.0" cy="207.4" r="1.12" fill="#e062d2"/><circle cx="78.9" cy="208.0" r="0.82" fill="#e062d2"/><circle cx="81.7" cy="207.2" r="0.91" fill="#e062d2"/><circle cx="84.3" cy="207.6" r="1.20" fill="#fffafe"/><circle cx="88.6" cy="207.1" r="1.23" fill="#f8dcf1"/><circle cx="92.0" cy="207.4" r="1.24" fill="#e062d2"/><circle cx="95.3" cy="208.4" r="1.13" fill="#e062d2"/><circle cx="98.3" cy="206.9" r="0.96" fill="#e062d2"/><circle cx="101.1" cy="207.3" r="0.99" fill="#fffafe"/><circle cx="17.6" cy="211.3" r="0.81" fill="#f8dcf1"/><circle cx="20.9" cy="210.8" r="1.01" fill="#f8dcf1"/><circle cx="23.2" cy="210.1" r="0.85" fill="#e062d2"/><circle cx="27.8" cy="210.3" r="0.99" fill="#e062d2"/><circle cx="30.3" cy="210.0" r="1.20" fill="#fffafe"/><circle cx="33.9" cy="210.3" r="0.93" fill="#e062d2"/><circle cx="37.0" cy="210.6" r="1.11" fill="#e062d2"/><circle cx="40.1" cy="211.1" r="1.22" fill="#e062d2"/><circle cx="44.0" cy="210.9" r="0.89" fill="#e062d2"/><circle cx="46.6" cy="210.2" r="0.81" fill="#e062d2"/><circle cx="49.9" cy="210.5" r="1.10" fill="#fffafe"/><circle cx="53.0" cy="211.4" r="0.88" fill="#e062d2"/><circle cx="56.4" cy="211.2" r="1.07" fill="#f8dcf1"/><circle cx="60.2" cy="211.0" r="0.94" fill="#e062d2"/><circle cx="64.1" cy="210.8" r="1.01" fill="#e062d2"/><circle cx="66.3" cy="209.9" r="0.85" fill="#e062d2"/><circle cx="70.7" cy="210.8" r="1.18" fill="#fffafe"/><circle cx="73.1" cy="210.5" r="0.97" fill="#f8dcf1"/><circle cx="75.9" cy="211.3" r="1.04" fill="#f8dcf1"/><circle cx="80.0" cy="210.7" r="0.85" fill="#e062d2"/><circle cx="82.9" cy="210.0" r="1.17" fill="#f8dcf1"/><circle cx="86.3" cy="210.0" r="1.14" fill="#e062d2"/><circle cx="90.1" cy="210.2" r="0.80" fill="#e062d2"/><circle cx="93.2" cy="211.4" r="0.90" fill="#f8dcf1"/><circle cx="96.5" cy="210.3" r="0.90" fill="#e062d2"/><circle cx="100.3" cy="210.8" r="1.02" fill="#e062d2"/><circle cx="102.8" cy="210.2" r="1.11" fill="#e062d2"/><circle cx="15.8" cy="213.7" r="1.02" fill="#f8dcf1"/><circle cx="18.6" cy="213.9" r="1.11" fill="#e062d2"/><circle cx="21.3" cy="213.5" r="1.19" fill="#f8dcf1"/><circle cx="26.1" cy="213.2" r="1.10" fill="#e062d2"/><circle cx="28.4" cy="213.3" r="0.86" fill="#f8dcf1"/><circle cx="31.5" cy="214.2" r="1.02" fill="#f8dcf1"/><circle cx="34.9" cy="213.2" r="1.24" fill="#e062d2"/><circle cx="39.2" cy="213.7" r="0.92" fill="#f8dcf1"/><circle cx="42.1" cy="213.0" r="1.07" fill="#fffafe"/><circle cx="44.6" cy="213.0" r="1.08" fill="#e062d2"/><circle cx="48.5" cy="212.7" r="1.05" fill="#e062d2"/><circle cx="51.9" cy="213.5" r="1.16" fill="#e062d2"/><circle cx="55.2" cy="214.0" r="0.84" fill="#e062d2"/><circle cx="59.0" cy="212.6" r="1.20" fill="#e062d2"/><circle cx="62.0" cy="213.2" r="0.85" fill="#f8dcf1"/><circle cx="65.0" cy="213.1" r="0.96" fill="#fffafe"/><circle cx="67.8" cy="214.3" r="1.24" fill="#e062d2"/><circle cx="71.6" cy="213.8" r="0.92" fill="#e062d2"/><circle cx="74.8" cy="214.1" r="0.86" fill="#fffafe"/><circle cx="77.9" cy="214.2" r="0.96" fill="#f8dcf1"/><circle cx="81.8" cy="212.9" r="0.99" fill="#e062d2"/><circle cx="85.1" cy="213.5" r="0.93" fill="#e062d2"/><circle cx="87.4" cy="213.5" r="0.91" fill="#f8dcf1"/><circle cx="92.1" cy="213.0" r="1.22" fill="#e062d2"/><circle cx="94.6" cy="213.5" r="0.92" fill="#f8dcf1"/><circle cx="98.6" cy="213.8" r="0.99" fill="#e062d2"/><circle cx="101.4" cy="212.6" r="1.01" fill="#f8dcf1"/><circle cx="17.5" cy="216.6" r="1.07" fill="#fffafe"/><circle cx="20.4" cy="216.3" r="1.22" fill="#e062d2"/><circle cx="23.4" cy="216.6" r="1.02" fill="#fffafe"/><circle cx="27.9" cy="217.1" r="0.82" fill="#e062d2"/><circle cx="30.9" cy="216.4" r="0.92" fill="#e062d2"/><circle cx="34.1" cy="215.8" r="0.88" fill="#e062d2"/><circle cx="37.6" cy="216.7" r="1.13" fill="#e062d2"/><circle cx="40.1" cy="216.1" r="1.21" fill="#e062d2"/><circle cx="43.8" cy="215.6" r="0.89" fill="#e062d2"/><circle cx="46.4" cy="215.9" r="0.97" fill="#e062d2"/><circle cx="50.9" cy="216.5" r="0.93" fill="#e062d2"/><circle cx="52.9" cy="216.1" r="0.83" fill="#e062d2"/><circle cx="57.4" cy="216.5" r="0.97" fill="#e062d2"/><circle cx="59.5" cy="216.4" r="1.02" fill="#e062d2"/><circle cx="63.9" cy="216.6" r="0.95" fill="#e062d2"/><circle cx="66.7" cy="216.0" r="1.01" fill="#e062d2"/><circle cx="70.6" cy="216.1" r="1.04" fill="#e062d2"/><circle cx="72.8" cy="215.9" r="1.22" fill="#e062d2"/><circle cx="76.2" cy="216.3" r="1.00" fill="#e062d2"/><circle cx="79.3" cy="216.7" r="0.97" fill="#e062d2"/><circle cx="83.9" cy="215.8" r="1.12" fill="#e062d2"/><circle cx="86.6" cy="217.0" r="1.10" fill="#e062d2"/><circle cx="90.1" cy="215.8" r="0.84" fill="#fffafe"/><circle cx="93.3" cy="215.6" r="1.12" fill="#fffafe"/><circle cx="96.7" cy="216.2" r="1.08" fill="#fffafe"/><circle cx="98.9" cy="215.7" r="1.23" fill="#f8dcf1"/><circle cx="102.4" cy="215.7" r="1.11" fill="#e062d2"/><circle cx="15.1" cy="219.6" r="1.15" fill="#f8dcf1"/><circle cx="18.8" cy="219.0" r="1.01" fill="#e062d2"/><circle cx="22.9" cy="219.7" r="0.86" fill="#e062d2"/><circle cx="25.1" cy="219.8" r="1.22" fill="#e062d2"/><circle cx="28.5" cy="219.1" r="1.05" fill="#f8dcf1"/><circle cx="32.6" cy="218.8" r="1.16" fill="#e062d2"/><circle cx="34.8" cy="219.8" r="1.02" fill="#e062d2"/><circle cx="38.3" cy="219.3" r="1.05" fill="#e062d2"/><circle cx="42.7" cy="219.5" r="0.92" fill="#f8dcf1"/><circle cx="45.0" cy="219.5" r="0.97" fill="#f8dcf1"/><circle cx="49.0" cy="218.9" r="0.88" fill="#e062d2"/><circle cx="51.7" cy="218.8" r="1.20" fill="#f8dcf1"/><circle cx="54.5" cy="218.7" r="0.98" fill="#e062d2"/><circle cx="59.1" cy="220.0" r="1.10" fill="#e062d2"/><circle cx="61.4" cy="219.8" r="0.99" fill="#f8dcf1"/><circle cx="65.3" cy="219.6" r="0.95" fill="#e062d2"/><circle cx="69.1" cy="218.4" r="0.93" fill="#e062d2"/><circle cx="72.2" cy="218.7" r="0.85" fill="#e062d2"/><circle cx="75.3" cy="219.1" r="1.09" fill="#e062d2"/><circle cx="78.0" cy="218.4" r="1.23" fill="#f8dcf1"/><circle cx="81.5" cy="219.6" r="1.14" fill="#e062d2"/><circle cx="84.3" cy="218.6" r="1.14" fill="#f8dcf1"/><circle cx="87.9" cy="219.6" r="0.93" fill="#e062d2"/><circle cx="90.8" cy="219.9" r="1.20" fill="#fffafe"/><circle cx="94.2" cy="219.9" r="1.06" fill="#f8dcf1"/><circle cx="98.0" cy="219.9" r="0.86" fill="#e062d2"/><circle cx="101.4" cy="219.7" r="1.25" fill="#f8dcf1"/><circle cx="17.6" cy="222.1" r="0.90" fill="#e062d2"/><circle cx="20.5" cy="221.3" r="1.09" fill="#fffafe"/><circle cx="23.7" cy="222.0" r="1.08" fill="#e062d2"/><circle cx="27.7" cy="222.7" r="1.15" fill="#f8dcf1"/><circle cx="29.9" cy="222.0" r="0.92" fill="#e062d2"/><circle cx="33.2" cy="222.6" r="1.18" fill="#e062d2"/><circle cx="37.3" cy="221.8" r="1.07" fill="#e062d2"/><circle cx="40.7" cy="222.5" r="1.05" fill="#e062d2"/><circle cx="42.8" cy="221.4" r="1.23" fill="#f8dcf1"/><circle cx="47.2" cy="222.7" r="1.09" fill="#e062d2"/><circle cx="50.9" cy="222.8" r="0.87" fill="#f8dcf1"/><circle cx="53.2" cy="222.4" r="0.92" fill="#f8dcf1"/><circle cx="56.9" cy="221.3" r="1.21" fill="#fffafe"/><circle cx="59.7" cy="222.4" r="0.85" fill="#e062d2"/><circle cx="63.3" cy="221.7" r="0.83" fill="#e062d2"/><circle cx="66.0" cy="221.3" r="1.24" fill="#e062d2"/><circle cx="69.8" cy="221.4" r="0.99" fill="#e062d2"/><circle cx="72.9" cy="222.4" r="1.18" fill="#e062d2"/><circle cx="77.3" cy="221.8" r="0.85" fill="#e062d2"/><circle cx="79.6" cy="222.3" r="1.22" fill="#e062d2"/><circle cx="83.1" cy="222.3" r="1.24" fill="#f8dcf1"/><circle cx="87.0" cy="222.1" r="0.89" fill="#e062d2"/><circle cx="89.7" cy="221.3" r="0.96" fill="#fffafe"/><circle cx="92.8" cy="222.0" r="1.11" fill="#e062d2"/><circle cx="96.5" cy="221.7" r="1.11" fill="#e062d2"/><circle cx="99.4" cy="222.3" r="0.89" fill="#e062d2"/><circle cx="102.2" cy="221.4" r="1.01" fill="#f8dcf1"/><circle cx="16.1" cy="225.4" r="1.24" fill="#e062d2"/><circle cx="18.3" cy="224.6" r="0.86" fill="#fffafe"/><circle cx="22.4" cy="224.2" r="1.06" fill="#e062d2"/><circle cx="25.4" cy="225.4" r="1.17" fill="#f8dcf1"/><circle cx="27.9" cy="224.9" r="0.81" fill="#e062d2"/><circle cx="32.4" cy="225.5" r="1.13" fill="#f8dcf1"/><circle cx="35.7" cy="225.2" r="0.90" fill="#f8dcf1"/><circle cx="38.7" cy="224.4" r="1.17" fill="#e062d2"/><circle cx="42.5" cy="225.0" r="1.06" fill="#e062d2"/><circle cx="44.4" cy="224.2" r="1.01" fill="#e062d2"/><circle cx="48.2" cy="224.5" r="1.15" fill="#e062d2"/><circle cx="51.3" cy="224.7" r="1.08" fill="#f8dcf1"/><circle cx="54.6" cy="224.7" r="1.06" fill="#fffafe"/><circle cx="59.0" cy="225.5" r="0.99" fill="#e062d2"/><circle cx="62.1" cy="224.8" r="0.88" fill="#f8dcf1"/><circle cx="65.3" cy="225.2" r="1.22" fill="#e062d2"/><circle cx="68.9" cy="224.3" r="1.07" fill="#fffafe"/><circle cx="71.0" cy="224.3" r="0.81" fill="#f8dcf1"/><circle cx="75.4" cy="225.5" r="0.81" fill="#e062d2"/><circle cx="77.8" cy="224.7" r="1.00" fill="#e062d2"/><circle cx="80.9" cy="224.3" r="1.21" fill="#e062d2"/><circle cx="84.5" cy="225.6" r="1.22" fill="#e062d2"/><circle cx="88.2" cy="224.6" r="0.98" fill="#e062d2"/><circle cx="91.9" cy="224.7" r="1.01" fill="#e062d2"/><circle cx="94.6" cy="224.7" r="1.15" fill="#e062d2"/><circle cx="97.3" cy="224.7" r="1.20" fill="#e062d2"/><circle cx="100.7" cy="224.6" r="1.06" fill="#fffafe"/><circle cx="17.9" cy="227.7" r="0.83" fill="#e062d2"/><circle cx="19.7" cy="227.1" r="1.21" fill="#f8dcf1"/><circle cx="23.2" cy="227.5" r="0.90" fill="#e062d2"/><circle cx="26.3" cy="227.8" r="0.86" fill="#f8dcf1"/><circle cx="31.0" cy="227.9" r="0.86" fill="#f8dcf1"/><circle cx="34.3" cy="227.5" r="1.13" fill="#e062d2"/><circle cx="36.4" cy="227.9" r="1.04" fill="#f8dcf1"/><circle cx="40.4" cy="227.3" r="1.03" fill="#e062d2"/><circle cx="43.0" cy="227.5" r="0.83" fill="#e062d2"/><circle cx="46.4" cy="227.2" r="1.20" fill="#e062d2"/><circle cx="50.6" cy="228.5" r="1.05" fill="#e062d2"/><circle cx="52.7" cy="228.1" r="1.18" fill="#fffafe"/><circle cx="57.0" cy="228.3" r="0.93" fill="#e062d2"/><circle cx="59.5" cy="228.6" r="1.08" fill="#e062d2"/><circle cx="63.6" cy="228.0" r="1.19" fill="#e062d2"/><circle cx="67.0" cy="227.8" r="0.89" fill="#e062d2"/><circle cx="70.4" cy="228.4" r="1.06" fill="#f8dcf1"/><circle cx="73.0" cy="228.5" r="0.92" fill="#e062d2"/><circle cx="75.8" cy="227.9" r="1.16" fill="#f8dcf1"/><circle cx="80.5" cy="227.0" r="1.21" fill="#f8dcf1"/><circle cx="83.1" cy="228.0" r="1.17" fill="#e062d2"/><circle cx="86.0" cy="227.9" r="1.03" fill="#e062d2"/><circle cx="89.4" cy="228.3" r="0.99" fill="#e062d2"/><circle cx="92.5" cy="227.1" r="0.81" fill="#e062d2"/><circle cx="95.9" cy="228.2" r="0.90" fill="#e062d2"/><circle cx="99.6" cy="227.4" r="0.82" fill="#e062d2"/><circle cx="102.4" cy="227.7" r="1.12" fill="#e062d2"/><circle cx="15.0" cy="230.8" r="0.82" fill="#fffafe"/><circle cx="18.9" cy="230.6" r="0.98" fill="#f8dcf1"/><circle cx="22.4" cy="230.6" r="0.98" fill="#f8dcf1"/><circle cx="24.9" cy="231.3" r="0.94" fill="#f8dcf1"/><circle cx="29.1" cy="230.0" r="1.07" fill="#f8dcf1"/><circle cx="32.4" cy="231.1" r="0.83" fill="#e062d2"/><circle cx="35.0" cy="230.0" r="1.19" fill="#f8dcf1"/><circle cx="38.9" cy="231.1" r="1.18" fill="#e062d2"/><circle cx="42.6" cy="231.2" r="1.03" fill="#e062d2"/><circle cx="46.0" cy="231.2" r="1.03" fill="#f8dcf1"/><circle cx="48.5" cy="230.1" r="1.08" fill="#e062d2"/><circle cx="51.9" cy="230.7" r="1.09" fill="#f8dcf1"/><circle cx="54.8" cy="231.4" r="0.95" fill="#e062d2"/><circle cx="59.2" cy="230.7" r="1.16" fill="#f8dcf1"/><circle cx="61.9" cy="231.4" r="0.81" fill="#e062d2"/><circle cx="65.1" cy="230.5" r="1.16" fill="#e062d2"/><circle cx="68.5" cy="230.7" r="0.81" fill="#fffafe"/><circle cx="72.3" cy="231.0" r="0.97" fill="#f8dcf1"/><circle cx="75.0" cy="231.1" r="1.05" fill="#e062d2"/><circle cx="77.5" cy="230.9" r="0.82" fill="#f8dcf1"/><circle cx="81.5" cy="230.9" r="0.89" fill="#e062d2"/><circle cx="84.2" cy="230.2" r="0.89" fill="#e062d2"/><circle cx="87.3" cy="231.2" r="1.06" fill="#e062d2"/><circle cx="90.8" cy="230.9" r="1.10" fill="#f8dcf1"/><circle cx="94.4" cy="230.9" r="1.13" fill="#e062d2"/><circle cx="98.8" cy="230.5" r="1.06" fill="#e062d2"/><circle cx="100.8" cy="230.0" r="1.03" fill="#e062d2"/><circle cx="16.7" cy="234.3" r="1.04" fill="#e062d2"/><circle cx="19.7" cy="234.2" r="1.18" fill="#e062d2"/><circle cx="23.0" cy="234.0" r="1.24" fill="#e062d2"/><circle cx="27.0" cy="234.2" r="1.18" fill="#fffafe"/><circle cx="30.4" cy="232.8" r="1.23" fill="#e062d2"/><circle cx="33.8" cy="233.0" r="0.96" fill="#e062d2"/><circle cx="37.3" cy="233.9" r="1.23" fill="#f8dcf1"/><circle cx="40.7" cy="233.0" r="0.95" fill="#e062d2"/><circle cx="44.2" cy="233.4" r="1.12" fill="#e062d2"/><circle cx="47.6" cy="234.3" r="0.95" fill="#f8dcf1"/><circle cx="49.5" cy="232.8" r="1.10" fill="#fffafe"/><circle cx="53.4" cy="233.0" r="1.03" fill="#e062d2"/><circle cx="56.2" cy="233.7" r="1.07" fill="#fffafe"/><circle cx="60.7" cy="232.8" r="0.99" fill="#e062d2"/><circle cx="62.7" cy="234.1" r="1.08" fill="#e062d2"/><circle cx="67.3" cy="233.9" r="1.08" fill="#e062d2"/><circle cx="69.2" cy="233.0" r="1.11" fill="#e062d2"/><circle cx="73.8" cy="233.4" r="1.13" fill="#f8dcf1"/><circle cx="76.1" cy="233.7" r="1.01" fill="#e062d2"/><circle cx="80.3" cy="234.0" r="0.97" fill="#e062d2"/><circle cx="83.2" cy="233.2" r="0.95" fill="#fffafe"/><circle cx="85.8" cy="232.9" r="1.19" fill="#e062d2"/><circle cx="89.9" cy="233.7" r="1.21" fill="#e062d2"/><circle cx="92.7" cy="232.8" r="0.93" fill="#e062d2"/><circle cx="96.5" cy="234.3" r="0.89" fill="#e062d2"/><circle cx="99.8" cy="233.9" r="1.03" fill="#e062d2"/><circle cx="103.4" cy="232.8" r="1.17" fill="#e062d2"/><circle cx="15.7" cy="236.1" r="0.84" fill="#e062d2"/><circle cx="18.9" cy="236.9" r="0.88" fill="#e062d2"/><circle cx="21.3" cy="235.9" r="0.85" fill="#e062d2"/><circle cx="25.8" cy="236.3" r="1.03" fill="#e062d2"/><circle cx="28.2" cy="237.2" r="1.15" fill="#f8dcf1"/><circle cx="32.1" cy="236.5" r="1.00" fill="#fffafe"/><circle cx="36.0" cy="235.8" r="1.04" fill="#f8dcf1"/><circle cx="38.0" cy="236.1" r="1.11" fill="#f8dcf1"/><circle cx="41.5" cy="237.0" r="1.06" fill="#e062d2"/><circle cx="45.1" cy="235.8" r="0.89" fill="#e062d2"/><circle cx="49.3" cy="236.3" r="1.08" fill="#e062d2"/><circle cx="52.3" cy="237.1" r="1.19" fill="#f8dcf1"/><circle cx="54.8" cy="236.6" r="0.95" fill="#fffafe"/><circle cx="58.1" cy="236.8" r="1.06" fill="#e062d2"/><circle cx="61.7" cy="237.0" r="1.02" fill="#e062d2"/><circle cx="65.3" cy="236.2" r="1.12" fill="#e062d2"/><circle cx="68.9" cy="236.4" r="1.10" fill="#fffafe"/><circle cx="72.4" cy="236.0" r="1.19" fill="#f8dcf1"/><circle cx="75.1" cy="235.9" r="0.81" fill="#e062d2"/><circle cx="78.0" cy="236.6" r="1.00" fill="#f8dcf1"/><circle cx="81.3" cy="236.6" r="0.90" fill="#fffafe"/><circle cx="84.2" cy="237.2" r="0.89" fill="#e062d2"/><circle cx="88.7" cy="237.1" r="1.10" fill="#e062d2"/><circle cx="91.6" cy="235.6" r="0.94" fill="#e062d2"/><circle cx="94.6" cy="236.2" r="0.81" fill="#e062d2"/><circle cx="97.4" cy="236.2" r="1.10" fill="#f8dcf1"/><circle cx="100.7" cy="236.6" r="1.07" fill="#e062d2"/><circle cx="16.9" cy="239.3" r="0.81" fill="#e062d2"/><circle cx="19.8" cy="240.0" r="1.06" fill="#e062d2"/><circle cx="23.4" cy="239.9" r="1.13" fill="#e062d2"/><circle cx="27.4" cy="238.5" r="1.00" fill="#e062d2"/><circle cx="30.0" cy="240.0" r="1.23" fill="#f8dcf1"/><circle cx="34.4" cy="239.6" r="0.90" fill="#e062d2"/><circle cx="37.1" cy="238.8" r="0.84" fill="#e062d2"/><circle cx="40.9" cy="239.9" r="1.17" fill="#e062d2"/><circle cx="43.2" cy="239.4" r="1.04" fill="#e062d2"/><circle cx="46.5" cy="239.8" r="0.91" fill="#f8dcf1"/><circle cx="50.8" cy="239.5" r="0.91" fill="#e062d2"/><circle cx="53.7" cy="238.9" r="0.88" fill="#fffafe"/><circle cx="56.5" cy="239.4" r="1.02" fill="#e062d2"/><circle cx="60.4" cy="238.8" r="0.88" fill="#e062d2"/><circle cx="63.6" cy="239.7" r="0.91" fill="#f8dcf1"/><circle cx="66.6" cy="238.7" r="0.88" fill="#f8dcf1"/><circle cx="69.2" cy="238.7" r="0.91" fill="#e062d2"/><circle cx="73.7" cy="239.1" r="0.81" fill="#e062d2"/><circle cx="76.2" cy="239.1" r="1.10" fill="#fffafe"/><circle cx="79.2" cy="238.6" r="0.95" fill="#e062d2"/><circle cx="83.9" cy="239.6" r="0.99" fill="#fffafe"/><circle cx="86.4" cy="239.2" r="1.03" fill="#e062d2"/><circle cx="90.1" cy="239.3" r="1.06" fill="#fffafe"/><circle cx="93.4" cy="239.9" r="1.13" fill="#e062d2"/><circle cx="97.1" cy="238.6" r="1.25" fill="#e062d2"/><circle cx="99.9" cy="239.8" r="0.96" fill="#e062d2"/><circle cx="102.4" cy="239.8" r="1.04" fill="#f8dcf1"/><circle cx="15.4" cy="241.6" r="1.20" fill="#e062d2"/><circle cx="19.4" cy="241.5" r="0.92" fill="#e062d2"/><circle cx="22.2" cy="242.6" r="0.86" fill="#f8dcf1"/><circle cx="25.2" cy="242.7" r="1.01" fill="#e062d2"/><circle cx="27.9" cy="242.3" r="0.90" fill="#e062d2"/><circle cx="32.3" cy="242.4" r="0.96" fill="#e062d2"/><circle cx="34.6" cy="242.3" r="1.13" fill="#e062d2"/><circle cx="39.1" cy="242.4" r="1.24" fill="#f8dcf1"/><circle cx="42.7" cy="241.7" r="0.85" fill="#e062d2"/><circle cx="44.7" cy="242.3" r="1.01" fill="#f8dcf1"/><circle cx="49.0" cy="242.5" r="0.84" fill="#e062d2"/><circle cx="51.3" cy="242.0" r="1.03" fill="#e062d2"/><circle cx="55.6" cy="243.0" r="1.18" fill="#f8dcf1"/><circle cx="58.4" cy="242.4" r="0.81" fill="#f8dcf1"/><circle cx="61.4" cy="242.3" r="0.84" fill="#fffafe"/><circle cx="64.9" cy="241.7" r="1.19" fill="#fffafe"/><circle cx="68.3" cy="241.8" r="1.12" fill="#e062d2"/><circle cx="70.8" cy="242.2" r="1.24" fill="#e062d2"/><circle cx="74.7" cy="241.5" r="0.94" fill="#fffafe"/><circle cx="77.6" cy="241.4" r="1.07" fill="#e062d2"/><circle cx="81.7" cy="241.7" r="1.22" fill="#e062d2"/><circle cx="84.9" cy="242.8" r="1.05" fill="#e062d2"/><circle cx="88.0" cy="241.9" r="1.24" fill="#fffafe"/><circle cx="90.9" cy="241.7" r="0.83" fill="#f8dcf1"/><circle cx="95.5" cy="241.5" r="1.16" fill="#e062d2"/><circle cx="98.4" cy="243.0" r="1.02" fill="#e062d2"/><circle cx="101.5" cy="243.0" r="1.11" fill="#e062d2"/><circle cx="16.6" cy="245.3" r="0.92" fill="#e062d2"/><circle cx="20.8" cy="245.4" r="1.18" fill="#fffafe"/><circle cx="23.3" cy="245.5" r="1.13" fill="#e062d2"/><circle cx="27.7" cy="245.8" r="0.99" fill="#e062d2"/><circle cx="30.6" cy="244.6" r="0.89" fill="#e062d2"/><circle cx="33.3" cy="244.3" r="1.17" fill="#e062d2"/><circle cx="37.0" cy="245.0" r="1.04" fill="#e062d2"/><circle cx="41.0" cy="244.6" r="0.99" fill="#e062d2"/><circle cx="43.3" cy="245.2" r="1.22" fill="#e062d2"/><circle cx="47.6" cy="244.2" r="1.11" fill="#e062d2"/><circle cx="50.5" cy="244.6" r="0.83" fill="#e062d2"/><circle cx="53.4" cy="245.8" r="1.03" fill="#e062d2"/><circle cx="57.2" cy="245.3" r="1.11" fill="#f8dcf1"/><circle cx="60.1" cy="245.2" r="0.96" fill="#e062d2"/><circle cx="62.9" cy="244.8" r="1.07" fill="#e062d2"/><circle cx="66.1" cy="245.0" r="0.85" fill="#e062d2"/><circle cx="69.9" cy="245.0" r="0.83" fill="#e062d2"/><circle cx="74.0" cy="245.8" r="0.98" fill="#e062d2"/><circle cx="76.2" cy="244.5" r="1.13" fill="#f8dcf1"/><circle cx="79.6" cy="245.7" r="0.84" fill="#f8dcf1"/><circle cx="83.8" cy="244.6" r="1.19" fill="#f8dcf1"/><circle cx="86.0" cy="245.3" r="0.83" fill="#e062d2"/><circle cx="90.0" cy="244.4" r="1.11" fill="#e062d2"/><circle cx="93.4" cy="244.5" r="0.95" fill="#f8dcf1"/><circle cx="97.0" cy="244.3" r="0.98" fill="#e062d2"/><circle cx="99.6" cy="244.7" r="0.87" fill="#e062d2"/><circle cx="102.2" cy="245.2" r="1.20" fill="#e062d2"/><circle cx="16.1" cy="248.7" r="1.23" fill="#f8dcf1"/><circle cx="19.3" cy="248.4" r="1.17" fill="#e062d2"/><circle cx="22.3" cy="247.8" r="1.12" fill="#e062d2"/><circle cx="26.1" cy="248.2" r="0.96" fill="#f8dcf1"/><circle cx="28.9" cy="248.3" r="1.11" fill="#f8dcf1"/><circle cx="32.4" cy="248.6" r="1.12" fill="#e062d2"/><circle cx="35.9" cy="248.3" r="0.86" fill="#f8dcf1"/><circle cx="38.1" cy="247.6" r="1.11" fill="#e062d2"/><circle cx="42.5" cy="247.6" r="1.19" fill="#fffafe"/><circle cx="45.1" cy="247.5" r="1.03" fill="#e062d2"/><circle cx="47.8" cy="247.6" r="0.84" fill="#e062d2"/><circle cx="51.9" cy="248.4" r="0.97" fill="#f8dcf1"/><circle cx="55.9" cy="247.6" r="0.95" fill="#e062d2"/><circle cx="58.6" cy="248.6" r="1.02" fill="#f8dcf1"/><circle cx="61.2" cy="248.7" r="0.83" fill="#fffafe"/><circle cx="64.3" cy="247.8" r="1.16" fill="#fffafe"/><circle cx="69.0" cy="247.8" r="1.14" fill="#e062d2"/><circle cx="71.1" cy="248.3" r="0.93" fill="#e062d2"/><circle cx="74.5" cy="247.9" r="0.80" fill="#e062d2"/><circle cx="78.6" cy="247.9" r="0.99" fill="#e062d2"/><circle cx="81.9" cy="247.5" r="0.86" fill="#f8dcf1"/><circle cx="84.1" cy="247.6" r="1.22" fill="#f8dcf1"/><circle cx="88.9" cy="248.7" r="1.15" fill="#f8dcf1"/><circle cx="92.0" cy="247.6" r="1.22" fill="#fffafe"/><circle cx="95.5" cy="248.2" r="1.11" fill="#e062d2"/><circle cx="97.3" cy="248.6" r="1.16" fill="#f8dcf1"/><circle cx="100.9" cy="248.1" r="1.02" fill="#f8dcf1"/><circle cx="17.0" cy="251.1" r="1.15" fill="#e062d2"/><circle cx="20.7" cy="250.9" r="0.85" fill="#e062d2"/><circle cx="24.2" cy="250.9" r="0.86" fill="#f8dcf1"/><circle cx="26.3" cy="251.2" r="1.01" fill="#f8dcf1"/><circle cx="30.5" cy="251.3" r="0.88" fill="#f8dcf1"/><circle cx="34.1" cy="250.7" r="0.91" fill="#e062d2"/><circle cx="37.1" cy="251.2" r="0.93" fill="#e062d2"/><circle cx="40.5" cy="250.2" r="0.93" fill="#e062d2"/><circle cx="43.9" cy="250.6" r="0.89" fill="#fffafe"/><circle cx="47.5" cy="250.7" r="0.85" fill="#e062d2"/><circle cx="49.4" cy="250.1" r="1.07" fill="#e062d2"/><circle cx="52.9" cy="250.6" r="0.91" fill="#e062d2"/><circle cx="56.9" cy="251.2" r="1.17" fill="#e062d2"/><circle cx="59.9" cy="251.4" r="0.91" fill="#e062d2"/><circle cx="63.7" cy="250.1" r="0.92" fill="#f8dcf1"/><circle cx="66.5" cy="251.4" r="1.04" fill="#f8dcf1"/><circle cx="69.1" cy="251.0" r="1.03" fill="#e062d2"/><circle cx="73.1" cy="251.0" r="1.24" fill="#f8dcf1"/><circle cx="76.2" cy="250.0" r="0.87" fill="#f8dcf1"/><circle cx="80.3" cy="250.8" r="0.89" fill="#f8dcf1"/><circle cx="83.8" cy="251.6" r="1.03" fill="#e062d2"/><circle cx="86.3" cy="251.0" r="0.97" fill="#e062d2"/><circle cx="90.2" cy="250.4" r="1.05" fill="#e062d2"/><circle cx="92.2" cy="251.0" r="0.97" fill="#fffafe"/><circle cx="95.8" cy="251.2" r="0.98" fill="#e062d2"/><circle cx="99.5" cy="250.8" r="0.82" fill="#e062d2"/><circle cx="102.5" cy="250.5" r="0.80" fill="#fffafe"/><circle cx="15.2" cy="254.5" r="1.13" fill="#e062d2"/><circle cx="19.1" cy="254.2" r="1.16" fill="#e062d2"/><circle cx="21.6" cy="254.1" r="1.24" fill="#e062d2"/><circle cx="24.8" cy="252.9" r="1.22" fill="#fffafe"/><circle cx="28.0" cy="254.1" r="1.00" fill="#e062d2"/><circle cx="32.3" cy="253.5" r="0.87" fill="#e062d2"/><circle cx="35.4" cy="254.4" r="1.20" fill="#f8dcf1"/><circle cx="38.6" cy="254.0" r="1.09" fill="#e062d2"/><circle cx="41.8" cy="253.6" r="1.02" fill="#e062d2"/><circle cx="44.9" cy="253.1" r="1.25" fill="#f8dcf1"/><circle cx="48.2" cy="253.3" r="0.89" fill="#e062d2"/><circle cx="52.0" cy="254.4" r="0.82" fill="#e062d2"/><circle cx="54.7" cy="252.9" r="1.22" fill="#e062d2"/><circle cx="57.7" cy="254.2" r="1.06" fill="#f8dcf1"/><circle cx="60.9" cy="253.9" r="0.95" fill="#e062d2"/><circle cx="65.5" cy="253.0" r="0.89" fill="#f8dcf1"/><circle cx="68.8" cy="253.8" r="0.84" fill="#e062d2"/><circle cx="71.2" cy="253.0" r="0.98" fill="#e062d2"/><circle cx="75.4" cy="254.3" r="0.98" fill="#f8dcf1"/><circle cx="79.0" cy="253.2" r="1.12" fill="#f8dcf1"/><circle cx="80.7" cy="254.2" r="1.15" fill="#e062d2"/><circle cx="84.9" cy="253.8" r="0.85" fill="#f8dcf1"/><circle cx="87.5" cy="253.8" r="0.92" fill="#e062d2"/><circle cx="91.0" cy="253.1" r="1.10" fill="#e062d2"/><circle cx="94.1" cy="252.9" r="1.22" fill="#e062d2"/><circle cx="97.5" cy="254.4" r="0.88" fill="#e062d2"/><circle cx="102.1" cy="253.6" r="1.13" fill="#f8dcf1"/><circle cx="16.9" cy="256.0" r="0.87" fill="#fffafe"/><circle cx="19.9" cy="257.3" r="0.95" fill="#f8dcf1"/><circle cx="23.7" cy="256.4" r="0.81" fill="#e062d2"/><circle cx="26.7" cy="257.1" r="1.06" fill="#e062d2"/><circle cx="30.7" cy="256.0" r="1.19" fill="#f8dcf1"/><circle cx="34.1" cy="256.1" r="1.24" fill="#f8dcf1"/><circle cx="36.6" cy="256.2" r="1.20" fill="#fffafe"/><circle cx="39.7" cy="256.2" r="1.04" fill="#e062d2"/><circle cx="43.7" cy="257.2" r="1.11" fill="#f8dcf1"/><circle cx="46.4" cy="256.8" r="0.91" fill="#e062d2"/><circle cx="49.4" cy="256.7" r="0.85" fill="#e062d2"/><circle cx="53.3" cy="256.0" r="1.20" fill="#fffafe"/><circle cx="57.1" cy="256.1" r="0.81" fill="#e062d2"/><circle cx="60.5" cy="255.9" r="0.86" fill="#e062d2"/><circle cx="63.1" cy="256.9" r="1.09" fill="#fffafe"/><circle cx="67.4" cy="256.3" r="1.05" fill="#e062d2"/><circle cx="70.6" cy="256.4" r="0.96" fill="#e062d2"/><circle cx="73.2" cy="257.3" r="1.11" fill="#e062d2"/><circle cx="76.5" cy="257.3" r="0.88" fill="#f8dcf1"/><circle cx="79.4" cy="256.2" r="0.92" fill="#e062d2"/><circle cx="83.2" cy="256.7" r="0.88" fill="#e062d2"/><circle cx="87.3" cy="256.0" r="0.84" fill="#f8dcf1"/><circle cx="89.6" cy="257.3" r="1.07" fill="#fffafe"/><circle cx="93.0" cy="255.9" r="1.15" fill="#e062d2"/><circle cx="96.4" cy="256.7" r="1.07" fill="#e062d2"/><circle cx="99.9" cy="256.1" r="1.16" fill="#fffafe"/><circle cx="102.4" cy="256.2" r="1.06" fill="#e062d2"/><circle cx="14.7" cy="259.2" r="0.97" fill="#e062d2"/><circle cx="19.3" cy="260.2" r="0.91" fill="#f8dcf1"/><circle cx="21.7" cy="259.5" r="1.13" fill="#e062d2"/><circle cx="25.0" cy="259.0" r="0.94" fill="#e062d2"/><circle cx="28.2" cy="258.7" r="1.25" fill="#e062d2"/><circle cx="32.7" cy="258.8" r="0.88" fill="#e062d2"/><circle cx="35.6" cy="258.8" r="1.04" fill="#e062d2"/><circle cx="38.9" cy="259.8" r="0.84" fill="#e062d2"/><circle cx="41.8" cy="259.7" r="1.13" fill="#f8dcf1"/><circle cx="45.1" cy="260.1" r="1.10" fill="#e062d2"/><circle cx="48.2" cy="259.1" r="1.07" fill="#fffafe"/><circle cx="52.0" cy="259.4" r="1.02" fill="#e062d2"/><circle cx="55.2" cy="258.8" r="1.02" fill="#e062d2"/><circle cx="58.4" cy="259.2" r="0.94" fill="#f8dcf1"/><circle cx="61.5" cy="259.3" r="1.11" fill="#e062d2"/><circle cx="65.6" cy="259.0" r="1.03" fill="#e062d2"/><circle cx="68.5" cy="258.9" r="0.93" fill="#e062d2"/><circle cx="71.3" cy="259.1" r="1.23" fill="#e062d2"/><circle cx="74.2" cy="259.6" r="1.07" fill="#e062d2"/><circle cx="78.3" cy="259.7" r="0.96" fill="#e062d2"/><circle cx="81.6" cy="259.4" r="0.93" fill="#fffafe"/><circle cx="85.3" cy="260.2" r="1.06" fill="#f8dcf1"/><circle cx="88.7" cy="258.6" r="0.95" fill="#f8dcf1"/><circle cx="91.7" cy="260.0" r="0.88" fill="#e062d2"/><circle cx="95.1" cy="259.6" r="1.02" fill="#e062d2"/><circle cx="98.3" cy="259.0" r="1.08" fill="#e062d2"/><circle cx="101.9" cy="260.0" r="0.99" fill="#fffafe"/><circle cx="34.6" cy="176.5" r="1.42" fill="#f3d2f1"/><circle cx="34.6" cy="176.5" r="0.82" fill="#50288a"/><circle cx="38.1" cy="177.5" r="1.32" fill="#f3d2f1"/><circle cx="38.1" cy="177.5" r="0.72" fill="#50288a"/><circle cx="39.9" cy="175.3" r="1.41" fill="#f3d2f1"/><circle cx="39.9" cy="175.3" r="0.81" fill="#50288a"/><circle cx="56.8" cy="176.8" r="1.48" fill="#f3d2f1"/><circle cx="56.8" cy="176.8" r="0.88" fill="#50288a"/><circle cx="64.2" cy="175.2" r="1.53" fill="#f3d2f1"/><circle cx="64.2" cy="175.2" r="0.93" fill="#50288a"/><circle cx="68.9" cy="176.4" r="1.43" fill="#f3d2f1"/><circle cx="68.9" cy="176.4" r="0.83" fill="#50288a"/><circle cx="92.7" cy="174.9" r="1.58" fill="#f3d2f1"/><circle cx="92.7" cy="174.9" r="0.98" fill="#50288a"/><circle cx="48.7" cy="177.6" r="1.50" fill="#f3d2f1"/><circle cx="48.7" cy="177.6" r="0.90" fill="#50288a"/><circle cx="49.5" cy="178.3" r="1.52" fill="#f3d2f1"/><circle cx="49.5" cy="178.3" r="0.92" fill="#50288a"/><circle cx="58.7" cy="178.4" r="1.55" fill="#f3d2f1"/><circle cx="58.7" cy="178.4" r="0.95" fill="#50288a"/><circle cx="74.5" cy="179.6" r="1.41" fill="#f3d2f1"/><circle cx="74.5" cy="179.6" r="0.81" fill="#50288a"/><circle cx="82.9" cy="179.7" r="1.53" fill="#f3d2f1"/><circle cx="82.9" cy="179.7" r="0.93" fill="#50288a"/><circle cx="84.6" cy="177.5" r="1.44" fill="#f3d2f1"/><circle cx="84.6" cy="177.5" r="0.84" fill="#50288a"/><circle cx="94.6" cy="178.5" r="1.39" fill="#f3d2f1"/><circle cx="94.6" cy="178.5" r="0.79" fill="#50288a"/><circle cx="16.3" cy="181.5" r="1.50" fill="#f3d2f1"/><circle cx="16.3" cy="181.5" r="0.90" fill="#50288a"/><circle cx="27.1" cy="182.8" r="1.51" fill="#f3d2f1"/><circle cx="27.1" cy="182.8" r="0.91" fill="#50288a"/><circle cx="30.6" cy="183.8" r="1.31" fill="#f3d2f1"/><circle cx="30.6" cy="183.8" r="0.71" fill="#50288a"/><circle cx="37.4" cy="183.0" r="1.51" fill="#f3d2f1"/><circle cx="37.4" cy="183.0" r="0.91" fill="#50288a"/><circle cx="52.9" cy="182.0" r="1.59" fill="#f3d2f1"/><circle cx="52.9" cy="182.0" r="0.99" fill="#50288a"/><circle cx="81.1" cy="182.9" r="1.31" fill="#f3d2f1"/><circle cx="81.1" cy="182.9" r="0.71" fill="#50288a"/><circle cx="100.8" cy="181.1" r="1.58" fill="#f3d2f1"/><circle cx="100.8" cy="181.1" r="0.98" fill="#50288a"/><circle cx="15.0" cy="184.3" r="1.43" fill="#f3d2f1"/><circle cx="15.0" cy="184.3" r="0.83" fill="#50288a"/><circle cx="18.7" cy="183.3" r="1.58" fill="#f3d2f1"/><circle cx="18.7" cy="183.3" r="0.98" fill="#50288a"/><circle cx="26.3" cy="184.3" r="1.42" fill="#f3d2f1"/><circle cx="26.3" cy="184.3" r="0.82" fill="#50288a"/><circle cx="28.1" cy="183.7" r="1.44" fill="#f3d2f1"/><circle cx="28.1" cy="183.7" r="0.84" fill="#50288a"/><circle cx="35.5" cy="186.6" r="1.50" fill="#f3d2f1"/><circle cx="35.5" cy="186.6" r="0.90" fill="#50288a"/><circle cx="39.8" cy="184.3" r="1.39" fill="#f3d2f1"/><circle cx="39.8" cy="184.3" r="0.79" fill="#50288a"/><circle cx="47.0" cy="184.0" r="1.37" fill="#f3d2f1"/><circle cx="47.0" cy="184.0" r="0.77" fill="#50288a"/><circle cx="51.5" cy="183.7" r="1.50" fill="#f3d2f1"/><circle cx="51.5" cy="183.7" r="0.90" fill="#50288a"/><circle cx="59.2" cy="184.9" r="1.40" fill="#f3d2f1"/><circle cx="59.2" cy="184.9" r="0.80" fill="#50288a"/><circle cx="64.1" cy="183.3" r="1.31" fill="#f3d2f1"/><circle cx="64.1" cy="183.3" r="0.71" fill="#50288a"/><circle cx="67.9" cy="183.9" r="1.39" fill="#f3d2f1"/><circle cx="67.9" cy="183.9" r="0.79" fill="#50288a"/><circle cx="73.9" cy="183.6" r="1.57" fill="#f3d2f1"/><circle cx="73.9" cy="183.6" r="0.97" fill="#50288a"/><circle cx="89.6" cy="182.8" r="1.52" fill="#f3d2f1"/><circle cx="89.6" cy="182.8" r="0.92" fill="#50288a"/><circle cx="94.2" cy="184.9" r="1.34" fill="#f3d2f1"/><circle cx="94.2" cy="184.9" r="0.74" fill="#50288a"/><circle cx="29.3" cy="188.4" r="1.45" fill="#f3d2f1"/><circle cx="29.3" cy="188.4" r="0.85" fill="#50288a"/><circle cx="35.0" cy="189.1" r="1.48" fill="#f3d2f1"/><circle cx="35.0" cy="189.1" r="0.88" fill="#50288a"/><circle cx="47.5" cy="188.1" r="1.35" fill="#f3d2f1"/><circle cx="47.5" cy="188.1" r="0.75" fill="#50288a"/><circle cx="67.8" cy="186.6" r="1.55" fill="#f3d2f1"/><circle cx="67.8" cy="186.6" r="0.95" fill="#50288a"/><circle cx="85.9" cy="187.2" r="1.59" fill="#f3d2f1"/><circle cx="85.9" cy="187.2" r="0.99" fill="#50288a"/><circle cx="97.8" cy="186.0" r="1.50" fill="#f3d2f1"/><circle cx="97.8" cy="186.0" r="0.90" fill="#50288a"/><circle cx="25.1" cy="188.7" r="1.54" fill="#f3d2f1"/><circle cx="25.1" cy="188.7" r="0.94" fill="#50288a"/><circle cx="31.4" cy="189.8" r="1.42" fill="#f3d2f1"/><circle cx="31.4" cy="189.8" r="0.82" fill="#50288a"/><circle cx="38.2" cy="189.9" r="1.37" fill="#f3d2f1"/><circle cx="38.2" cy="189.9" r="0.77" fill="#50288a"/><circle cx="43.1" cy="191.2" r="1.50" fill="#f3d2f1"/><circle cx="43.1" cy="191.2" r="0.90" fill="#50288a"/><circle cx="64.7" cy="189.5" r="1.56" fill="#f3d2f1"/><circle cx="64.7" cy="189.5" r="0.96" fill="#50288a"/><circle cx="95.7" cy="191.4" r="1.52" fill="#f3d2f1"/><circle cx="95.7" cy="191.4" r="0.92" fill="#50288a"/><circle cx="18.7" cy="192.2" r="1.35" fill="#f3d2f1"/><circle cx="18.7" cy="192.2" r="0.75" fill="#50288a"/><circle cx="36.8" cy="193.3" r="1.60" fill="#f3d2f1"/><circle cx="36.8" cy="193.3" r="1.00" fill="#50288a"/><circle cx="47.5" cy="193.8" r="1.57" fill="#f3d2f1"/><circle cx="47.5" cy="193.8" r="0.97" fill="#50288a"/><circle cx="78.6" cy="194.1" r="1.51" fill="#f3d2f1"/><circle cx="78.6" cy="194.1" r="0.91" fill="#50288a"/><circle cx="87.7" cy="191.8" r="1.36" fill="#f3d2f1"/><circle cx="87.7" cy="191.8" r="0.76" fill="#50288a"/><circle cx="102.5" cy="193.2" r="1.35" fill="#f3d2f1"/><circle cx="102.5" cy="193.2" r="0.75" fill="#50288a"/><circle cx="18.8" cy="198.1" r="1.34" fill="#f3d2f1"/><circle cx="18.8" cy="198.1" r="0.74" fill="#50288a"/><circle cx="22.6" cy="195.9" r="1.53" fill="#f3d2f1"/><circle cx="22.6" cy="195.9" r="0.93" fill="#50288a"/><circle cx="26.3" cy="196.1" r="1.46" fill="#f3d2f1"/><circle cx="26.3" cy="196.1" r="0.86" fill="#50288a"/><circle cx="37.7" cy="196.5" r="1.60" fill="#f3d2f1"/><circle cx="37.7" cy="196.5" r="1.00" fill="#50288a"/><circle cx="48.0" cy="198.6" r="1.35" fill="#f3d2f1"/><circle cx="48.0" cy="198.6" r="0.75" fill="#50288a"/><circle cx="63.6" cy="196.8" r="1.41" fill="#f3d2f1"/><circle cx="63.6" cy="196.8" r="0.81" fill="#50288a"/><circle cx="67.3" cy="195.4" r="1.38" fill="#f3d2f1"/><circle cx="67.3" cy="195.4" r="0.78" fill="#50288a"/><circle cx="72.1" cy="196.0" r="1.56" fill="#f3d2f1"/><circle cx="72.1" cy="196.0" r="0.96" fill="#50288a"/><circle cx="81.9" cy="195.6" r="1.53" fill="#f3d2f1"/><circle cx="81.9" cy="195.6" r="0.93" fill="#50288a"/><circle cx="94.7" cy="194.9" r="1.52" fill="#f3d2f1"/><circle cx="94.7" cy="194.9" r="0.92" fill="#50288a"/><circle cx="28.0" cy="199.6" r="1.45" fill="#f3d2f1"/><circle cx="28.0" cy="199.6" r="0.85" fill="#50288a"/><circle cx="42.2" cy="198.4" r="1.38" fill="#f3d2f1"/><circle cx="42.2" cy="198.4" r="0.78" fill="#50288a"/><circle cx="67.6" cy="199.9" r="1.42" fill="#f3d2f1"/><circle cx="67.6" cy="199.9" r="0.82" fill="#50288a"/><circle cx="69.8" cy="198.7" r="1.33" fill="#f3d2f1"/><circle cx="69.8" cy="198.7" r="0.73" fill="#50288a"/><circle cx="78.1" cy="200.1" r="1.51" fill="#f3d2f1"/><circle cx="78.1" cy="200.1" r="0.91" fill="#50288a"/><circle cx="90.4" cy="197.7" r="1.48" fill="#f3d2f1"/><circle cx="90.4" cy="197.7" r="0.88" fill="#50288a"/><circle cx="21.2" cy="200.3" r="1.46" fill="#f3d2f1"/><circle cx="21.2" cy="200.3" r="0.86" fill="#50288a"/><circle cx="28.3" cy="201.1" r="1.56" fill="#f3d2f1"/><circle cx="28.3" cy="201.1" r="0.96" fill="#50288a"/><circle cx="59.1" cy="201.5" r="1.34" fill="#f3d2f1"/><circle cx="59.1" cy="201.5" r="0.74" fill="#50288a"/><circle cx="74.5" cy="201.5" r="1.49" fill="#f3d2f1"/><circle cx="74.5" cy="201.5" r="0.89" fill="#50288a"/><circle cx="87.6" cy="203.1" r="1.33" fill="#f3d2f1"/><circle cx="87.6" cy="203.1" r="0.73" fill="#50288a"/><circle cx="94.0" cy="201.9" r="1.38" fill="#f3d2f1"/><circle cx="94.0" cy="201.9" r="0.78" fill="#50288a"/><circle cx="96.6" cy="202.6" r="1.50" fill="#f3d2f1"/><circle cx="96.6" cy="202.6" r="0.90" fill="#50288a"/><circle cx="16.8" cy="203.7" r="1.45" fill="#f3d2f1"/><circle cx="16.8" cy="203.7" r="0.85" fill="#50288a"/><circle cx="25.6" cy="203.4" r="1.56" fill="#f3d2f1"/><circle cx="25.6" cy="203.4" r="0.96" fill="#50288a"/><circle cx="29.5" cy="204.9" r="1.37" fill="#f3d2f1"/><circle cx="29.5" cy="204.9" r="0.77" fill="#50288a"/><circle cx="40.8" cy="205.2" r="1.41" fill="#f3d2f1"/><circle cx="40.8" cy="205.2" r="0.81" fill="#50288a"/><circle cx="54.3" cy="203.2" r="1.41" fill="#f3d2f1"/><circle cx="54.3" cy="203.2" r="0.81" fill="#50288a"/><circle cx="56.4" cy="205.9" r="1.39" fill="#f3d2f1"/><circle cx="56.4" cy="205.9" r="0.79" fill="#50288a"/><circle cx="58.5" cy="203.9" r="1.50" fill="#f3d2f1"/><circle cx="58.5" cy="203.9" r="0.90" fill="#50288a"/><circle cx="81.0" cy="203.5" r="1.40" fill="#f3d2f1"/><circle cx="81.0" cy="203.5" r="0.80" fill="#50288a"/><circle cx="21.4" cy="208.0" r="1.42" fill="#f3d2f1"/><circle cx="21.4" cy="208.0" r="0.82" fill="#50288a"/><circle cx="27.3" cy="206.7" r="1.54" fill="#f3d2f1"/><circle cx="27.3" cy="206.7" r="0.94" fill="#50288a"/><circle cx="32.9" cy="208.4" r="1.32" fill="#f3d2f1"/><circle cx="32.9" cy="208.4" r="0.72" fill="#50288a"/><circle cx="58.9" cy="206.4" r="1.50" fill="#f3d2f1"/><circle cx="58.9" cy="206.4" r="0.90" fill="#50288a"/><circle cx="64.0" cy="207.4" r="1.45" fill="#f3d2f1"/><circle cx="64.0" cy="207.4" r="0.85" fill="#50288a"/><circle cx="70.2" cy="208.5" r="1.42" fill="#f3d2f1"/><circle cx="70.2" cy="208.5" r="0.82" fill="#50288a"/><circle cx="95.8" cy="209.8" r="1.43" fill="#f3d2f1"/><circle cx="95.8" cy="209.8" r="0.83" fill="#50288a"/><circle cx="97.4" cy="207.0" r="1.35" fill="#f3d2f1"/><circle cx="97.4" cy="207.0" r="0.75" fill="#50288a"/><circle cx="16.6" cy="212.1" r="1.34" fill="#f3d2f1"/><circle cx="16.6" cy="212.1" r="0.74" fill="#50288a"/><circle cx="30.2" cy="209.1" r="1.52" fill="#f3d2f1"/><circle cx="30.2" cy="209.1" r="0.92" fill="#50288a"/><circle cx="42.4" cy="211.5" r="1.40" fill="#f3d2f1"/><circle cx="42.4" cy="211.5" r="0.80" fill="#50288a"/><circle cx="57.5" cy="210.5" r="1.37" fill="#f3d2f1"/><circle cx="57.5" cy="210.5" r="0.77" fill="#50288a"/><circle cx="101.7" cy="209.7" r="1.36" fill="#f3d2f1"/><circle cx="101.7" cy="209.7" r="0.76" fill="#50288a"/><circle cx="22.3" cy="213.6" r="1.49" fill="#f3d2f1"/><circle cx="22.3" cy="213.6" r="0.89" fill="#50288a"/><circle cx="29.6" cy="212.1" r="1.51" fill="#f3d2f1"/><circle cx="29.6" cy="212.1" r="0.91" fill="#50288a"/><circle cx="44.2" cy="212.2" r="1.48" fill="#f3d2f1"/><circle cx="44.2" cy="212.2" r="0.88" fill="#50288a"/><circle cx="68.6" cy="213.9" r="1.31" fill="#f3d2f1"/><circle cx="68.6" cy="213.9" r="0.71" fill="#50288a"/><circle cx="70.6" cy="213.9" r="1.43" fill="#f3d2f1"/><circle cx="70.6" cy="213.9" r="0.83" fill="#50288a"/><circle cx="74.3" cy="212.8" r="1.42" fill="#f3d2f1"/><circle cx="74.3" cy="212.8" r="0.82" fill="#50288a"/><circle cx="81.3" cy="211.8" r="1.35" fill="#f3d2f1"/><circle cx="81.3" cy="211.8" r="0.75" fill="#50288a"/><circle cx="83.8" cy="213.3" r="1.52" fill="#f3d2f1"/><circle cx="83.8" cy="213.3" r="0.92" fill="#50288a"/><circle cx="88.6" cy="215.0" r="1.42" fill="#f3d2f1"/><circle cx="88.6" cy="215.0" r="0.82" fill="#50288a"/><circle cx="98.4" cy="213.4" r="1.55" fill="#f3d2f1"/><circle cx="98.4" cy="213.4" r="0.95" fill="#50288a"/><circle cx="29.7" cy="215.2" r="1.45" fill="#f3d2f1"/><circle cx="29.7" cy="215.2" r="0.85" fill="#50288a"/><circle cx="35.2" cy="216.3" r="1.37" fill="#f3d2f1"/><circle cx="35.2" cy="216.3" r="0.77" fill="#50288a"/><circle cx="77.7" cy="214.8" r="1.56" fill="#f3d2f1"/><circle cx="77.7" cy="214.8" r="0.96" fill="#50288a"/><circle cx="33.6" cy="219.0" r="1.32" fill="#f3d2f1"/><circle cx="33.6" cy="219.0" r="0.72" fill="#50288a"/><circle cx="50.3" cy="220.5" r="1.40" fill="#f3d2f1"/><circle cx="50.3" cy="220.5" r="0.80" fill="#50288a"/><circle cx="51.0" cy="218.8" r="1.41" fill="#f3d2f1"/><circle cx="51.0" cy="218.8" r="0.81" fill="#50288a"/><circle cx="54.8" cy="218.1" r="1.33" fill="#f3d2f1"/><circle cx="54.8" cy="218.1" r="0.73" fill="#50288a"/><circle cx="77.1" cy="219.4" r="1.49" fill="#f3d2f1"/><circle cx="77.1" cy="219.4" r="0.89" fill="#50288a"/><circle cx="89.8" cy="219.7" r="1.39" fill="#f3d2f1"/><circle cx="89.8" cy="219.7" r="0.79" fill="#50288a"/><circle cx="32.1" cy="223.1" r="1.58" fill="#f3d2f1"/><circle cx="32.1" cy="223.1" r="0.98" fill="#50288a"/><circle cx="39.9" cy="222.2" r="1.57" fill="#f3d2f1"/><circle cx="39.9" cy="222.2" r="0.97" fill="#50288a"/><circle cx="62.2" cy="221.2" r="1.31" fill="#f3d2f1"/><circle cx="62.2" cy="221.2" r="0.71" fill="#50288a"/><circle cx="70.0" cy="219.8" r="1.36" fill="#f3d2f1"/><circle cx="70.0" cy="219.8" r="0.76" fill="#50288a"/><circle cx="79.5" cy="221.8" r="1.50" fill="#f3d2f1"/><circle cx="79.5" cy="221.8" r="0.90" fill="#50288a"/><circle cx="86.0" cy="221.7" r="1.51" fill="#f3d2f1"/><circle cx="86.0" cy="221.7" r="0.91" fill="#50288a"/><circle cx="14.9" cy="226.4" r="1.37" fill="#f3d2f1"/><circle cx="14.9" cy="226.4" r="0.77" fill="#50288a"/><circle cx="17.4" cy="224.9" r="1.40" fill="#f3d2f1"/><circle cx="17.4" cy="224.9" r="0.80" fill="#50288a"/><circle cx="43.5" cy="226.4" r="1.60" fill="#f3d2f1"/><circle cx="43.5" cy="226.4" r="1.00" fill="#50288a"/><circle cx="61.3" cy="223.9" r="1.58" fill="#f3d2f1"/><circle cx="61.3" cy="223.9" r="0.98" fill="#50288a"/><circle cx="74.6" cy="223.9" r="1.41" fill="#f3d2f1"/><circle cx="74.6" cy="223.9" r="0.81" fill="#50288a"/><circle cx="84.1" cy="226.3" r="1.51" fill="#f3d2f1"/><circle cx="84.1" cy="226.3" r="0.91" fill="#50288a"/><circle cx="95.0" cy="225.5" r="1.59" fill="#f3d2f1"/><circle cx="95.0" cy="225.5" r="0.99" fill="#50288a"/><circle cx="18.3" cy="228.7" r="1.50" fill="#f3d2f1"/><circle cx="18.3" cy="228.7" r="0.90" fill="#50288a"/><circle cx="23.1" cy="228.4" r="1.43" fill="#f3d2f1"/><circle cx="23.1" cy="228.4" r="0.83" fill="#50288a"/><circle cx="31.9" cy="227.2" r="1.58" fill="#f3d2f1"/><circle cx="31.9" cy="227.2" r="0.98" fill="#50288a"/><circle cx="34.3" cy="227.2" r="1.47" fill="#f3d2f1"/><circle cx="34.3" cy="227.2" r="0.87" fill="#50288a"/><circle cx="46.1" cy="228.3" r="1.50" fill="#f3d2f1"/><circle cx="46.1" cy="228.3" r="0.90" fill="#50288a"/><circle cx="58.4" cy="228.3" r="1.57" fill="#f3d2f1"/><circle cx="58.4" cy="228.3" r="0.97" fill="#50288a"/><circle cx="63.8" cy="227.0" r="1.32" fill="#f3d2f1"/><circle cx="63.8" cy="227.0" r="0.72" fill="#50288a"/><circle cx="67.2" cy="229.1" r="1.33" fill="#f3d2f1"/><circle cx="67.2" cy="229.1" r="0.73" fill="#50288a"/><circle cx="83.9" cy="229.2" r="1.32" fill="#f3d2f1"/><circle cx="83.9" cy="229.2" r="0.72" fill="#50288a"/><circle cx="91.3" cy="228.6" r="1.38" fill="#f3d2f1"/><circle cx="91.3" cy="228.6" r="0.78" fill="#50288a"/><circle cx="94.7" cy="229.7" r="1.59" fill="#f3d2f1"/><circle cx="94.7" cy="229.7" r="0.99" fill="#50288a"/><circle cx="21.9" cy="229.7" r="1.51" fill="#f3d2f1"/><circle cx="21.9" cy="229.7" r="0.91" fill="#50288a"/><circle cx="26.3" cy="231.2" r="1.41" fill="#f3d2f1"/><circle cx="26.3" cy="231.2" r="0.81" fill="#50288a"/><circle cx="27.8" cy="229.6" r="1.48" fill="#f3d2f1"/><circle cx="27.8" cy="229.6" r="0.88" fill="#50288a"/><circle cx="64.6" cy="231.4" r="1.43" fill="#f3d2f1"/><circle cx="64.6" cy="231.4" r="0.83" fill="#50288a"/><circle cx="67.8" cy="231.6" r="1.45" fill="#f3d2f1"/><circle cx="67.8" cy="231.6" r="0.85" fill="#50288a"/><circle cx="75.9" cy="229.9" r="1.40" fill="#f3d2f1"/><circle cx="75.9" cy="229.9" r="0.80" fill="#50288a"/><circle cx="77.4" cy="230.1" r="1.58" fill="#f3d2f1"/><circle cx="77.4" cy="230.1" r="0.98" fill="#50288a"/><circle cx="85.7" cy="231.7" r="1.52" fill="#f3d2f1"/><circle cx="85.7" cy="231.7" r="0.92" fill="#50288a"/><circle cx="89.6" cy="231.3" r="1.32" fill="#f3d2f1"/><circle cx="89.6" cy="231.3" r="0.72" fill="#50288a"/><circle cx="33.5" cy="232.6" r="1.48" fill="#f3d2f1"/><circle cx="33.5" cy="232.6" r="0.88" fill="#50288a"/><circle cx="37.7" cy="234.5" r="1.58" fill="#f3d2f1"/><circle cx="37.7" cy="234.5" r="0.98" fill="#50288a"/><circle cx="50.6" cy="233.4" r="1.42" fill="#f3d2f1"/><circle cx="50.6" cy="233.4" r="0.82" fill="#50288a"/><circle cx="54.7" cy="233.8" r="1.34" fill="#f3d2f1"/><circle cx="54.7" cy="233.8" r="0.74" fill="#50288a"/><circle cx="75.1" cy="232.9" r="1.32" fill="#f3d2f1"/><circle cx="75.1" cy="232.9" r="0.72" fill="#50288a"/><circle cx="22.9" cy="235.4" r="1.46" fill="#f3d2f1"/><circle cx="22.9" cy="235.4" r="0.86" fill="#50288a"/><circle cx="29.8" cy="237.7" r="1.41" fill="#f3d2f1"/><circle cx="29.8" cy="237.7" r="0.81" fill="#50288a"/><circle cx="37.3" cy="236.7" r="1.46" fill="#f3d2f1"/><circle cx="37.3" cy="236.7" r="0.86" fill="#50288a"/><circle cx="40.2" cy="235.4" r="1.51" fill="#f3d2f1"/><circle cx="40.2" cy="235.4" r="0.91" fill="#50288a"/><circle cx="44.1" cy="235.0" r="1.43" fill="#f3d2f1"/><circle cx="44.1" cy="235.0" r="0.83" fill="#50288a"/><circle cx="56.5" cy="235.7" r="1.48" fill="#f3d2f1"/><circle cx="56.5" cy="235.7" r="0.88" fill="#50288a"/><circle cx="59.4" cy="235.9" r="1.48" fill="#f3d2f1"/><circle cx="59.4" cy="235.9" r="0.88" fill="#50288a"/><circle cx="63.2" cy="237.3" r="1.47" fill="#f3d2f1"/><circle cx="63.2" cy="237.3" r="0.87" fill="#50288a"/><circle cx="64.8" cy="237.1" r="1.46" fill="#f3d2f1"/><circle cx="64.8" cy="237.1" r="0.86" fill="#50288a"/><circle cx="82.7" cy="236.8" r="1.36" fill="#f3d2f1"/><circle cx="82.7" cy="236.8" r="0.76" fill="#50288a"/><circle cx="83.0" cy="238.2" r="1.38" fill="#f3d2f1"/><circle cx="83.0" cy="238.2" r="0.78" fill="#50288a"/><circle cx="90.4" cy="236.5" r="1.50" fill="#f3d2f1"/><circle cx="90.4" cy="236.5" r="0.90" fill="#50288a"/><circle cx="15.9" cy="238.3" r="1.58" fill="#f3d2f1"/><circle cx="15.9" cy="238.3" r="0.98" fill="#50288a"/><circle cx="21.7" cy="238.4" r="1.33" fill="#f3d2f1"/><circle cx="21.7" cy="238.4" r="0.73" fill="#50288a"/><circle cx="33.1" cy="239.3" r="1.32" fill="#f3d2f1"/><circle cx="33.1" cy="239.3" r="0.72" fill="#50288a"/><circle cx="44.8" cy="239.6" r="1.44" fill="#f3d2f1"/><circle cx="44.8" cy="239.6" r="0.84" fill="#50288a"/><circle cx="52.5" cy="238.3" r="1.58" fill="#f3d2f1"/><circle cx="52.5" cy="238.3" r="0.98" fill="#50288a"/><circle cx="67.0" cy="239.4" r="1.56" fill="#f3d2f1"/><circle cx="67.0" cy="239.4" r="0.96" fill="#50288a"/><circle cx="73.0" cy="240.5" r="1.37" fill="#f3d2f1"/><circle cx="73.0" cy="240.5" r="0.77" fill="#50288a"/><circle cx="76.5" cy="239.7" r="1.48" fill="#f3d2f1"/><circle cx="76.5" cy="239.7" r="0.88" fill="#50288a"/><circle cx="98.6" cy="238.5" r="1.32" fill="#f3d2f1"/><circle cx="98.6" cy="238.5" r="0.72" fill="#50288a"/><circle cx="20.6" cy="242.4" r="1.54" fill="#f3d2f1"/><circle cx="20.6" cy="242.4" r="0.94" fill="#50288a"/><circle cx="33.2" cy="242.8" r="1.32" fill="#f3d2f1"/><circle cx="33.2" cy="242.8" r="0.72" fill="#50288a"/><circle cx="42.9" cy="241.8" r="1.58" fill="#f3d2f1"/><circle cx="42.9" cy="241.8" r="0.98" fill="#50288a"/><circle cx="50.6" cy="241.7" r="1.41" fill="#f3d2f1"/><circle cx="50.6" cy="241.7" r="0.81" fill="#50288a"/><circle cx="74.6" cy="242.7" r="1.39" fill="#f3d2f1"/><circle cx="74.6" cy="242.7" r="0.79" fill="#50288a"/><circle cx="78.7" cy="242.3" r="1.40" fill="#f3d2f1"/><circle cx="78.7" cy="242.3" r="0.80" fill="#50288a"/><circle cx="89.2" cy="242.7" r="1.33" fill="#f3d2f1"/><circle cx="89.2" cy="242.7" r="0.73" fill="#50288a"/><circle cx="92.0" cy="242.7" r="1.41" fill="#f3d2f1"/><circle cx="92.0" cy="242.7" r="0.81" fill="#50288a"/><circle cx="96.6" cy="240.3" r="1.36" fill="#f3d2f1"/><circle cx="96.6" cy="240.3" r="0.76" fill="#50288a"/><circle cx="102.8" cy="243.8" r="1.31" fill="#f3d2f1"/><circle cx="102.8" cy="243.8" r="0.71" fill="#50288a"/><circle cx="15.2" cy="245.2" r="1.44" fill="#f3d2f1"/><circle cx="15.2" cy="245.2" r="0.84" fill="#50288a"/><circle cx="24.7" cy="244.4" r="1.55" fill="#f3d2f1"/><circle cx="24.7" cy="244.4" r="0.95" fill="#50288a"/><circle cx="26.3" cy="246.9" r="1.53" fill="#f3d2f1"/><circle cx="26.3" cy="246.9" r="0.93" fill="#50288a"/><circle cx="33.5" cy="243.9" r="1.46" fill="#f3d2f1"/><circle cx="33.5" cy="243.9" r="0.86" fill="#50288a"/><circle cx="58.5" cy="245.6" r="1.34" fill="#f3d2f1"/><circle cx="58.5" cy="245.6" r="0.74" fill="#50288a"/><circle cx="62.1" cy="245.7" r="1.44" fill="#f3d2f1"/><circle cx="62.1" cy="245.7" r="0.84" fill="#50288a"/><circle cx="75.1" cy="244.6" r="1.38" fill="#f3d2f1"/><circle cx="75.1" cy="244.6" r="0.78" fill="#50288a"/><circle cx="15.7" cy="248.1" r="1.44" fill="#f3d2f1"/><circle cx="15.7" cy="248.1" r="0.84" fill="#50288a"/><circle cx="20.9" cy="247.8" r="1.56" fill="#f3d2f1"/><circle cx="20.9" cy="247.8" r="0.96" fill="#50288a"/><circle cx="27.0" cy="249.2" r="1.36" fill="#f3d2f1"/><circle cx="27.0" cy="249.2" r="0.76" fill="#50288a"/><circle cx="33.8" cy="247.2" r="1.46" fill="#f3d2f1"/><circle cx="33.8" cy="247.2" r="0.86" fill="#50288a"/><circle cx="60.0" cy="247.2" r="1.44" fill="#f3d2f1"/><circle cx="60.0" cy="247.2" r="0.84" fill="#50288a"/><circle cx="74.0" cy="248.3" r="1.43" fill="#f3d2f1"/><circle cx="74.0" cy="248.3" r="0.83" fill="#50288a"/><circle cx="82.7" cy="247.7" r="1.32" fill="#f3d2f1"/><circle cx="82.7" cy="247.7" r="0.72" fill="#50288a"/><circle cx="20.8" cy="249.6" r="1.57" fill="#f3d2f1"/><circle cx="20.8" cy="249.6" r="0.97" fill="#50288a"/><circle cx="34.6" cy="251.3" r="1.57" fill="#f3d2f1"/><circle cx="34.6" cy="251.3" r="0.97" fill="#50288a"/><circle cx="48.8" cy="250.4" r="1.37" fill="#f3d2f1"/><circle cx="48.8" cy="250.4" r="0.77" fill="#50288a"/><circle cx="57.9" cy="251.2" r="1.56" fill="#f3d2f1"/><circle cx="57.9" cy="251.2" r="0.96" fill="#50288a"/><circle cx="66.9" cy="251.0" r="1.44" fill="#f3d2f1"/><circle cx="66.9" cy="251.0" r="0.84" fill="#50288a"/><circle cx="77.1" cy="251.6" r="1.56" fill="#f3d2f1"/><circle cx="77.1" cy="251.6" r="0.96" fill="#50288a"/><circle cx="78.7" cy="250.7" r="1.39" fill="#f3d2f1"/><circle cx="78.7" cy="250.7" r="0.79" fill="#50288a"/><circle cx="99.5" cy="250.8" r="1.32" fill="#f3d2f1"/><circle cx="99.5" cy="250.8" r="0.72" fill="#50288a"/><circle cx="22.2" cy="254.7" r="1.60" fill="#f3d2f1"/><circle cx="22.2" cy="254.7" r="1.00" fill="#50288a"/><circle cx="32.1" cy="254.2" r="1.41" fill="#f3d2f1"/><circle cx="32.1" cy="254.2" r="0.81" fill="#50288a"/><circle cx="46.0" cy="254.0" r="1.31" fill="#f3d2f1"/><circle cx="46.0" cy="254.0" r="0.71" fill="#50288a"/><circle cx="49.6" cy="254.8" r="1.37" fill="#f3d2f1"/><circle cx="49.6" cy="254.8" r="0.77" fill="#50288a"/><circle cx="59.6" cy="254.2" r="1.40" fill="#f3d2f1"/><circle cx="59.6" cy="254.2" r="0.80" fill="#50288a"/><circle cx="65.7" cy="251.9" r="1.55" fill="#f3d2f1"/><circle cx="65.7" cy="251.9" r="0.95" fill="#50288a"/><circle cx="69.9" cy="252.4" r="1.59" fill="#f3d2f1"/><circle cx="69.9" cy="252.4" r="0.99" fill="#50288a"/><circle cx="79.4" cy="252.6" r="1.38" fill="#f3d2f1"/><circle cx="79.4" cy="252.6" r="0.78" fill="#50288a"/><circle cx="88.5" cy="252.5" r="1.34" fill="#f3d2f1"/><circle cx="88.5" cy="252.5" r="0.74" fill="#50288a"/><circle cx="94.6" cy="254.0" r="1.34" fill="#f3d2f1"/><circle cx="94.6" cy="254.0" r="0.74" fill="#50288a"/><circle cx="101.9" cy="253.5" r="1.60" fill="#f3d2f1"/><circle cx="101.9" cy="253.5" r="1.00" fill="#50288a"/><circle cx="25.1" cy="256.8" r="1.44" fill="#f3d2f1"/><circle cx="25.1" cy="256.8" r="0.84" fill="#50288a"/><circle cx="44.9" cy="256.3" r="1.34" fill="#f3d2f1"/><circle cx="44.9" cy="256.3" r="0.74" fill="#50288a"/><circle cx="60.0" cy="256.8" r="1.39" fill="#f3d2f1"/><circle cx="60.0" cy="256.8" r="0.79" fill="#50288a"/><circle cx="66.9" cy="257.5" r="1.45" fill="#f3d2f1"/><circle cx="66.9" cy="257.5" r="0.85" fill="#50288a"/><circle cx="76.1" cy="255.8" r="1.49" fill="#f3d2f1"/><circle cx="76.1" cy="255.8" r="0.89" fill="#50288a"/><circle cx="78.8" cy="256.4" r="1.46" fill="#f3d2f1"/><circle cx="78.8" cy="256.4" r="0.86" fill="#50288a"/><circle cx="88.0" cy="258.4" r="1.53" fill="#f3d2f1"/><circle cx="88.0" cy="258.4" r="0.93" fill="#50288a"/><circle cx="93.8" cy="256.7" r="1.43" fill="#f3d2f1"/><circle cx="93.8" cy="256.7" r="0.83" fill="#50288a"/><circle cx="31.7" cy="259.2" r="1.55" fill="#f3d2f1"/><circle cx="31.7" cy="259.2" r="0.95" fill="#50288a"/><circle cx="47.5" cy="257.8" r="1.51" fill="#f3d2f1"/><circle cx="47.5" cy="257.8" r="0.91" fill="#50288a"/><circle cx="58.5" cy="260.8" r="1.48" fill="#f3d2f1"/><circle cx="58.5" cy="260.8" r="0.88" fill="#50288a"/><circle cx="74.6" cy="260.6" r="1.33" fill="#f3d2f1"/><circle cx="74.6" cy="260.6" r="0.73" fill="#50288a"/><circle cx="79.2" cy="260.5" r="1.40" fill="#f3d2f1"/><circle cx="79.2" cy="260.5" r="0.80" fill="#50288a"/><circle cx="81.8" cy="258.8" r="1.38" fill="#f3d2f1"/><circle cx="81.8" cy="258.8" r="0.78" fill="#50288a"/><circle cx="86.9" cy="260.0" r="1.56" fill="#f3d2f1"/><circle cx="86.9" cy="260.0" r="0.96" fill="#50288a"/><circle cx="87.1" cy="258.0" r="1.56" fill="#f3d2f1"/><circle cx="87.1" cy="258.0" r="0.96" fill="#50288a"/><circle cx="95.3" cy="259.0" r="1.51" fill="#f3d2f1"/><circle cx="95.3" cy="259.0" r="0.91" fill="#50288a"/><circle cx="101.6" cy="259.3" r="1.50" fill="#f3d2f1"/><circle cx="101.6" cy="259.3" r="0.90" fill="#50288a"/></g><rect x="18.8" y="179" width="80.2" height="80" fill="none" stroke="#1a1a1a" stroke-width="1.1"/>
<clipPath id="clip2"><rect x="113.9" y="179" width="80.6" height="80"/></clipPath><g clip-path="url(#clip2)"><rect x="113.9" y="179" width="80.6" height="80" fill="#d744c8"/><circle cx="111.6" cy="175.2" r="1.05" fill="#f8dcf1"/><circle cx="116.4" cy="175.4" r="1.40" fill="#e062d2"/><circle cx="119.5" cy="176.6" r="1.31" fill="#f8dcf1"/><circle cx="123.1" cy="176.6" r="1.52" fill="#e062d2"/><circle cx="125.1" cy="175.6" r="1.35" fill="#f8dcf1"/><circle cx="129.4" cy="176.4" r="1.26" fill="#e062d2"/><circle cx="132.7" cy="176.4" r="1.26" fill="#f8dcf1"/><circle cx="136.2" cy="176.0" r="1.26" fill="#e062d2"/><circle cx="140.2" cy="176.1" r="1.30" fill="#f8dcf1"/><circle cx="142.7" cy="175.6" r="1.34" fill="#f8dcf1"/><circle cx="146.6" cy="175.8" r="1.64" fill="#f8dcf1"/><circle cx="149.0" cy="175.2" r="1.23" fill="#f8dcf1"/><circle cx="152.4" cy="176.0" r="1.08" fill="#e062d2"/><circle cx="156.8" cy="175.8" r="1.45" fill="#e062d2"/><circle cx="160.3" cy="176.3" r="1.43" fill="#f8dcf1"/><circle cx="162.5" cy="175.4" r="1.35" fill="#f8dcf1"/><circle cx="166.8" cy="176.7" r="1.32" fill="#f8dcf1"/><circle cx="170.5" cy="176.8" r="1.26" fill="#e062d2"/><circle cx="174.2" cy="176.8" r="1.56" fill="#e062d2"/><circle cx="177.5" cy="175.7" r="1.40" fill="#f8dcf1"/><circle cx="180.9" cy="175.4" r="1.11" fill="#f8dcf1"/><circle cx="183.6" cy="176.7" r="1.13" fill="#e062d2"/><circle cx="187.2" cy="176.0" r="1.35" fill="#e062d2"/><circle cx="190.9" cy="175.9" r="1.23" fill="#f8dcf1"/><circle cx="193.5" cy="175.6" r="1.03" fill="#f8dcf1"/><circle cx="197.7" cy="176.0" r="1.56" fill="#f8dcf1"/><circle cx="111.0" cy="178.7" r="1.31" fill="#f8dcf1"/><circle cx="114.4" cy="178.2" r="1.59" fill="#e062d2"/><circle cx="117.1" cy="178.2" r="1.49" fill="#e062d2"/><circle cx="120.1" cy="179.6" r="1.03" fill="#e062d2"/><circle cx="124.3" cy="179.4" r="1.08" fill="#f8dcf1"/><circle cx="128.0" cy="179.6" r="1.45" fill="#fffafe"/><circle cx="130.9" cy="179.2" r="1.53" fill="#e062d2"/><circle cx="134.9" cy="178.6" r="1.08" fill="#f8dcf1"/><circle cx="137.1" cy="178.2" r="1.33" fill="#f8dcf1"/><circle cx="141.3" cy="179.0" r="1.07" fill="#f8dcf1"/><circle cx="145.3" cy="179.0" r="1.42" fill="#f8dcf1"/><circle cx="148.2" cy="178.3" r="1.15" fill="#e062d2"/><circle cx="151.0" cy="179.7" r="1.06" fill="#e062d2"/><circle cx="154.0" cy="178.2" r="1.17" fill="#f8dcf1"/><circle cx="158.3" cy="179.4" r="1.60" fill="#e062d2"/><circle cx="161.3" cy="178.5" r="1.36" fill="#fffafe"/><circle cx="164.3" cy="178.3" r="1.26" fill="#fffafe"/><circle cx="167.6" cy="179.8" r="1.14" fill="#f8dcf1"/><circle cx="172.5" cy="179.6" r="1.22" fill="#fffafe"/><circle cx="175.6" cy="178.7" r="1.41" fill="#f8dcf1"/><circle cx="179.1" cy="179.2" r="1.05" fill="#f8dcf1"/><circle cx="182.6" cy="179.8" r="1.56" fill="#e062d2"/><circle cx="185.5" cy="179.5" r="1.56" fill="#e062d2"/><circle cx="187.9" cy="179.8" r="1.31" fill="#f8dcf1"/><circle cx="191.6" cy="178.7" r="1.42" fill="#e062d2"/><circle cx="195.3" cy="179.1" r="1.36" fill="#f8dcf1"/><circle cx="112.8" cy="181.6" r="1.36" fill="#f8dcf1"/><circle cx="115.0" cy="181.8" r="1.38" fill="#fffafe"/><circle cx="119.0" cy="181.9" r="1.03" fill="#e062d2"/><circle cx="122.6" cy="181.3" r="1.58" fill="#fffafe"/><circle cx="126.2" cy="181.7" r="1.17" fill="#f8dcf1"/><circle cx="128.4" cy="181.4" r="1.45" fill="#fffafe"/><circle cx="133.2" cy="181.9" r="1.19" fill="#f8dcf1"/><circle cx="136.1" cy="182.1" r="1.52" fill="#f8dcf1"/><circle cx="139.3" cy="182.6" r="1.61" fill="#f8dcf1"/><circle cx="143.5" cy="181.3" r="1.23" fill="#e062d2"/><circle cx="146.7" cy="182.1" r="1.37" fill="#f8dcf1"/><circle cx="149.9" cy="182.4" r="1.30" fill="#f8dcf1"/><circle cx="153.3" cy="181.3" r="1.34" fill="#f8dcf1"/><circle cx="157.2" cy="181.3" r="1.14" fill="#f8dcf1"/><circle cx="160.0" cy="182.2" r="1.07" fill="#e062d2"/><circle cx="162.9" cy="181.9" r="1.38" fill="#e062d2"/><circle cx="166.1" cy="182.7" r="1.28" fill="#e062d2"/><circle cx="169.3" cy="181.5" r="1.38" fill="#f8dcf1"/><circle cx="174.2" cy="181.4" r="1.11" fill="#e062d2"/><circle cx="177.4" cy="182.5" r="1.15" fill="#f8dcf1"/><circle cx="180.2" cy="182.7" r="1.50" fill="#f8dcf1"/><circle cx="184.4" cy="182.8" r="1.53" fill="#f8dcf1"/><circle cx="187.7" cy="182.4" r="1.38" fill="#f8dcf1"/><circle cx="189.6" cy="182.2" r="1.06" fill="#fffafe"/><circle cx="193.2" cy="181.4" r="1.32" fill="#fffafe"/><circle cx="196.5" cy="181.1" r="1.11" fill="#f8dcf1"/><circle cx="111.1" cy="184.9" r="1.28" fill="#fffafe"/><circle cx="114.4" cy="185.1" r="1.07" fill="#e062d2"/><circle cx="117.0" cy="185.7" r="1.03" fill="#f8dcf1"/><circle cx="120.4" cy="185.2" r="1.25" fill="#e062d2"/><circle cx="124.2" cy="184.6" r="1.07" fill="#e062d2"/><circle cx="127.3" cy="185.1" r="1.11" fill="#e062d2"/><circle cx="130.8" cy="184.3" r="1.29" fill="#fffafe"/><circle cx="133.5" cy="184.8" r="1.40" fill="#e062d2"/><circle cx="138.4" cy="185.7" r="1.40" fill="#f8dcf1"/><circle cx="140.4" cy="185.1" r="1.50" fill="#f8dcf1"/><circle cx="144.9" cy="185.4" r="1.54" fill="#e062d2"/><circle cx="148.5" cy="184.2" r="1.19" fill="#e062d2"/><circle cx="150.7" cy="184.8" r="1.23" fill="#f8dcf1"/><circle cx="154.0" cy="184.1" r="1.59" fill="#f8dcf1"/><circle cx="157.4" cy="184.2" r="1.35" fill="#f8dcf1"/><circle cx="161.1" cy="185.6" r="1.63" fill="#f8dcf1"/><circle cx="164.2" cy="185.2" r="1.52" fill="#fffafe"/><circle cx="168.0" cy="184.3" r="1.28" fill="#f8dcf1"/><circle cx="171.9" cy="185.6" r="1.08" fill="#f8dcf1"/><circle cx="175.3" cy="185.7" r="1.41" fill="#fffafe"/><circle cx="178.0" cy="185.5" r="1.44" fill="#f8dcf1"/><circle cx="181.3" cy="185.4" r="1.56" fill="#e062d2"/><circle cx="185.3" cy="184.8" r="1.21" fill="#e062d2"/><circle cx="189.3" cy="185.4" r="1.01" fill="#f8dcf1"/><circle cx="192.8" cy="185.4" r="1.25" fill="#e062d2"/><circle cx="196.0" cy="184.9" r="1.33" fill="#e062d2"/><circle cx="111.7" cy="187.3" r="1.08" fill="#e062d2"/><circle cx="115.6" cy="187.7" r="1.33" fill="#e062d2"/><circle cx="119.3" cy="187.1" r="1.43" fill="#fffafe"/><circle cx="123.2" cy="187.6" r="1.20" fill="#e062d2"/><circle cx="125.0" cy="188.3" r="1.55" fill="#f8dcf1"/><circle cx="128.9" cy="187.1" r="1.17" fill="#fffafe"/><circle cx="132.0" cy="188.5" r="1.01" fill="#e062d2"/><circle cx="135.5" cy="188.4" r="1.51" fill="#f8dcf1"/><circle cx="139.6" cy="188.6" r="1.52" fill="#f8dcf1"/><circle cx="142.0" cy="187.8" r="1.33" fill="#f8dcf1"/><circle cx="146.1" cy="187.9" r="1.40" fill="#f8dcf1"/><circle cx="150.4" cy="187.3" r="1.56" fill="#f8dcf1"/><circle cx="153.7" cy="188.4" r="1.56" fill="#f8dcf1"/><circle cx="156.3" cy="187.9" r="1.35" fill="#f8dcf1"/><circle cx="159.0" cy="187.3" r="1.16" fill="#f8dcf1"/><circle cx="162.4" cy="187.3" r="1.14" fill="#f8dcf1"/><circle cx="167.2" cy="187.0" r="1.46" fill="#f8dcf1"/><circle cx="169.5" cy="188.6" r="1.13" fill="#e062d2"/><circle cx="173.7" cy="188.3" r="1.29" fill="#fffafe"/><circle cx="177.3" cy="188.4" r="1.61" fill="#e062d2"/><circle cx="179.6" cy="188.1" r="1.18" fill="#f8dcf1"/><circle cx="183.0" cy="187.9" r="1.57" fill="#f8dcf1"/><circle cx="187.5" cy="187.5" r="1.07" fill="#e062d2"/><circle cx="191.2" cy="188.2" r="1.37" fill="#f8dcf1"/><circle cx="194.6" cy="188.1" r="1.10" fill="#fffafe"/><circle cx="197.0" cy="188.5" r="1.58" fill="#f8dcf1"/><circle cx="109.9" cy="191.6" r="1.46" fill="#f8dcf1"/><circle cx="114.3" cy="191.6" r="1.56" fill="#f8dcf1"/><circle cx="117.2" cy="190.7" r="1.61" fill="#f8dcf1"/><circle cx="120.8" cy="191.1" r="1.16" fill="#f8dcf1"/><circle cx="124.8" cy="191.5" r="1.19" fill="#e062d2"/><circle cx="127.8" cy="191.2" r="1.21" fill="#f8dcf1"/><circle cx="131.1" cy="190.5" r="1.07" fill="#f8dcf1"/><circle cx="135.0" cy="191.4" r="1.29" fill="#e062d2"/><circle cx="137.0" cy="190.7" r="1.24" fill="#f8dcf1"/><circle cx="141.0" cy="191.2" r="1.15" fill="#f8dcf1"/><circle cx="144.6" cy="191.0" r="1.59" fill="#fffafe"/><circle cx="148.1" cy="190.4" r="1.29" fill="#f8dcf1"/><circle cx="152.0" cy="190.5" r="1.29" fill="#e062d2"/><circle cx="154.3" cy="190.6" r="1.10" fill="#e062d2"/><circle cx="158.0" cy="190.8" r="1.41" fill="#f8dcf1"/><circle cx="161.4" cy="190.9" r="1.42" fill="#f8dcf1"/><circle cx="165.4" cy="191.4" r="1.09" fill="#e062d2"/><circle cx="168.9" cy="190.7" r="1.53" fill="#f8dcf1"/><circle cx="171.5" cy="191.4" r="1.13" fill="#f8dcf1"/><circle cx="174.9" cy="191.4" r="1.08" fill="#e062d2"/><circle cx="178.9" cy="190.0" r="1.44" fill="#e062d2"/><circle cx="181.9" cy="191.2" r="1.26" fill="#f8dcf1"/><circle cx="186.1" cy="190.6" r="1.11" fill="#e062d2"/><circle cx="189.0" cy="190.5" r="1.07" fill="#f8dcf1"/><circle cx="191.5" cy="190.6" r="1.53" fill="#f8dcf1"/><circle cx="195.7" cy="190.3" r="1.33" fill="#f8dcf1"/><circle cx="111.9" cy="193.2" r="1.54" fill="#f8dcf1"/><circle cx="115.6" cy="194.6" r="1.29" fill="#f8dcf1"/><circle cx="119.1" cy="193.5" r="1.61" fill="#f8dcf1"/><circle cx="122.9" cy="194.3" r="1.33" fill="#fffafe"/><circle cx="125.5" cy="193.8" r="1.36" fill="#f8dcf1"/><circle cx="129.1" cy="194.3" r="1.56" fill="#e062d2"/><circle cx="132.0" cy="193.6" r="1.49" fill="#e062d2"/><circle cx="135.5" cy="194.4" r="1.37" fill="#f8dcf1"/><circle cx="139.1" cy="194.6" r="1.48" fill="#f8dcf1"/><circle cx="143.3" cy="193.0" r="1.15" fill="#f8dcf1"/><circle cx="146.9" cy="194.1" r="1.10" fill="#fffafe"/><circle cx="150.1" cy="193.4" r="1.51" fill="#e062d2"/><circle cx="153.4" cy="193.9" r="1.21" fill="#f8dcf1"/><circle cx="156.3" cy="193.4" r="1.12" fill="#fffafe"/><circle cx="159.2" cy="193.3" r="1.36" fill="#fffafe"/><circle cx="164.0" cy="193.5" r="1.26" fill="#e062d2"/><circle cx="166.1" cy="193.3" r="1.60" fill="#e062d2"/><circle cx="170.6" cy="193.4" r="1.14" fill="#fffafe"/><circle cx="173.2" cy="194.1" r="1.40" fill="#f8dcf1"/><circle cx="176.2" cy="194.1" r="1.10" fill="#fffafe"/><circle cx="180.7" cy="193.5" r="1.25" fill="#e062d2"/><circle cx="183.3" cy="193.5" r="1.01" fill="#e062d2"/><circle cx="186.3" cy="193.3" r="1.54" fill="#f8dcf1"/><circle cx="190.5" cy="193.8" r="1.37" fill="#f8dcf1"/><circle cx="193.4" cy="194.0" r="1.43" fill="#f8dcf1"/><circle cx="197.8" cy="193.2" r="1.07" fill="#f8dcf1"/><circle cx="110.2" cy="197.5" r="1.19" fill="#e062d2"/><circle cx="114.0" cy="195.9" r="1.05" fill="#e062d2"/><circle cx="116.5" cy="197.2" r="1.42" fill="#f8dcf1"/><circle cx="120.1" cy="197.5" r="1.30" fill="#e062d2"/><circle cx="124.2" cy="197.4" r="1.34" fill="#e062d2"/><circle cx="127.8" cy="196.3" r="1.58" fill="#f8dcf1"/><circle cx="130.1" cy="196.8" r="1.51" fill="#fffafe"/><circle cx="134.2" cy="196.3" r="1.56" fill="#fffafe"/><circle cx="137.7" cy="197.5" r="1.01" fill="#fffafe"/><circle cx="140.6" cy="196.6" r="1.42" fill="#e062d2"/><circle cx="145.1" cy="196.9" r="1.29" fill="#f8dcf1"/><circle cx="148.6" cy="196.6" r="1.10" fill="#e062d2"/><circle cx="151.0" cy="196.0" r="1.35" fill="#f8dcf1"/><circle cx="154.3" cy="196.5" r="1.60" fill="#f8dcf1"/><circle cx="157.9" cy="196.2" r="1.46" fill="#f8dcf1"/><circle cx="160.7" cy="196.8" r="1.16" fill="#f8dcf1"/><circle cx="164.2" cy="197.4" r="1.40" fill="#fffafe"/><circle cx="167.5" cy="197.6" r="1.16" fill="#e062d2"/><circle cx="171.0" cy="196.6" r="1.45" fill="#f8dcf1"/><circle cx="175.9" cy="196.7" r="1.62" fill="#f8dcf1"/><circle cx="179.1" cy="196.3" r="1.13" fill="#fffafe"/><circle cx="181.8" cy="197.0" r="1.60" fill="#f8dcf1"/><circle cx="185.6" cy="197.0" r="1.40" fill="#e062d2"/><circle cx="188.2" cy="197.5" r="1.47" fill="#e062d2"/><circle cx="192.6" cy="197.0" r="1.55" fill="#e062d2"/><circle cx="195.0" cy="196.8" r="1.49" fill="#f8dcf1"/><circle cx="112.7" cy="200.5" r="1.34" fill="#e062d2"/><circle cx="114.8" cy="198.9" r="1.12" fill="#e062d2"/><circle cx="119.6" cy="200.3" r="1.55" fill="#f8dcf1"/><circle cx="123.2" cy="199.3" r="1.25" fill="#fffafe"/><circle cx="125.5" cy="199.3" r="1.52" fill="#e062d2"/><circle cx="128.7" cy="200.2" r="1.40" fill="#f8dcf1"/><circle cx="132.2" cy="200.1" r="1.15" fill="#f8dcf1"/><circle cx="136.3" cy="200.2" r="1.30" fill="#f8dcf1"/><circle cx="140.1" cy="199.9" r="1.04" fill="#f8dcf1"/><circle cx="143.1" cy="199.1" r="1.50" fill="#f8dcf1"/><circle cx="145.7" cy="198.9" r="1.55" fill="#fffafe"/><circle cx="149.2" cy="200.5" r="1.05" fill="#f8dcf1"/><circle cx="153.0" cy="200.5" r="1.47" fill="#f8dcf1"/><circle cx="156.2" cy="199.8" r="1.04" fill="#fffafe"/><circle cx="160.1" cy="200.1" r="1.07" fill="#e062d2"/><circle cx="163.9" cy="199.2" r="1.10" fill="#e062d2"/><circle cx="167.4" cy="200.4" r="1.02" fill="#f8dcf1"/><circle cx="169.3" cy="200.3" r="1.19" fill="#e062d2"/><circle cx="173.9" cy="199.1" r="1.65" fill="#f8dcf1"/><circle cx="177.3" cy="200.1" r="1.44" fill="#e062d2"/><circle cx="179.5" cy="199.5" r="1.61" fill="#f8dcf1"/><circle cx="184.4" cy="200.0" r="1.05" fill="#f8dcf1"/><circle cx="187.7" cy="199.0" r="1.34" fill="#e062d2"/><circle cx="189.8" cy="199.2" r="1.54" fill="#f8dcf1"/><circle cx="193.0" cy="199.0" r="1.39" fill="#e062d2"/><circle cx="196.8" cy="200.4" r="1.61" fill="#e062d2"/><circle cx="110.4" cy="202.9" r="1.62" fill="#e062d2"/><circle cx="113.8" cy="202.4" r="1.45" fill="#e062d2"/><circle cx="118.1" cy="202.1" r="1.46" fill="#f8dcf1"/><circle cx="120.2" cy="202.1" r="1.13" fill="#f8dcf1"/><circle cx="124.4" cy="203.1" r="1.55" fill="#e062d2"/><circle cx="128.3" cy="203.4" r="1.19" fill="#f8dcf1"/><circle cx="131.5" cy="202.7" r="1.19" fill="#e062d2"/><circle cx="133.7" cy="202.0" r="1.58" fill="#fffafe"/><circle cx="138.3" cy="202.0" r="1.58" fill="#e062d2"/><circle cx="140.9" cy="203.2" r="1.30" fill="#fffafe"/><circle cx="145.2" cy="202.1" r="1.09" fill="#f8dcf1"/><circle cx="148.2" cy="202.9" r="1.62" fill="#e062d2"/><circle cx="152.1" cy="202.9" r="1.16" fill="#fffafe"/><circle cx="155.1" cy="202.4" r="1.47" fill="#fffafe"/><circle cx="158.2" cy="202.4" r="1.10" fill="#f8dcf1"/><circle cx="162.1" cy="202.2" r="1.23" fill="#f8dcf1"/><circle cx="165.0" cy="202.0" r="1.01" fill="#e062d2"/><circle cx="168.5" cy="202.7" r="1.43" fill="#e062d2"/><circle cx="172.5" cy="203.4" r="1.54" fill="#e062d2"/><circle cx="175.9" cy="201.8" r="1.04" fill="#e062d2"/><circle cx="178.5" cy="202.8" r="1.16" fill="#e062d2"/><circle cx="182.5" cy="203.0" r="1.49" fill="#e062d2"/><circle cx="186.1" cy="203.4" r="1.34" fill="#f8dcf1"/><circle cx="188.1" cy="203.5" r="1.49" fill="#f8dcf1"/><circle cx="192.3" cy="203.4" r="1.29" fill="#f8dcf1"/><circle cx="196.1" cy="202.6" r="1.28" fill="#e062d2"/><circle cx="113.0" cy="206.1" r="1.27" fill="#e062d2"/><circle cx="115.8" cy="206.3" r="1.15" fill="#fffafe"/><circle cx="119.5" cy="205.9" r="1.17" fill="#f8dcf1"/><circle cx="122.3" cy="206.2" r="1.55" fill="#f8dcf1"/><circle cx="126.0" cy="204.8" r="1.10" fill="#e062d2"/><circle cx="129.0" cy="205.1" r="1.24" fill="#f8dcf1"/><circle cx="132.1" cy="206.4" r="1.11" fill="#fffafe"/><circle cx="136.1" cy="206.2" r="1.07" fill="#fffafe"/><circle cx="138.7" cy="205.3" r="1.52" fill="#f8dcf1"/><circle cx="143.4" cy="206.2" r="1.41" fill="#f8dcf1"/><circle cx="146.8" cy="206.4" r="1.03" fill="#fffafe"/><circle cx="149.4" cy="205.9" r="1.56" fill="#f8dcf1"/><circle cx="153.4" cy="205.3" r="1.55" fill="#e062d2"/><circle cx="155.8" cy="206.4" r="1.62" fill="#f8dcf1"/><circle cx="160.0" cy="205.4" r="1.31" fill="#e062d2"/><circle cx="163.3" cy="205.5" r="1.49" fill="#f8dcf1"/><circle cx="167.0" cy="206.1" r="1.54" fill="#fffafe"/><circle cx="169.6" cy="206.1" r="1.25" fill="#e062d2"/><circle cx="174.1" cy="205.6" r="1.61" fill="#f8dcf1"/><circle cx="176.6" cy="205.2" r="1.41" fill="#f8dcf1"/><circle cx="179.5" cy="206.1" r="1.01" fill="#f8dcf1"/><circle cx="182.8" cy="205.6" r="1.58" fill="#f8dcf1"/><circle cx="187.8" cy="204.9" r="1.36" fill="#e062d2"/><circle cx="191.0" cy="205.8" r="1.41" fill="#f8dcf1"/><circle cx="194.0" cy="205.7" r="1.60" fill="#f8dcf1"/><circle cx="196.8" cy="205.4" r="1.60" fill="#f8dcf1"/><circle cx="111.1" cy="208.9" r="1.59" fill="#e062d2"/><circle cx="113.1" cy="209.4" r="1.15" fill="#e062d2"/><circle cx="117.6" cy="209.2" r="1.33" fill="#fffafe"/><circle cx="119.9" cy="208.2" r="1.15" fill="#f8dcf1"/><circle cx="124.7" cy="208.7" r="1.05" fill="#f8dcf1"/><circle cx="127.9" cy="207.8" r="1.14" fill="#f8dcf1"/><circle cx="131.7" cy="209.3" r="1.48" fill="#f8dcf1"/><circle cx="134.2" cy="208.0" r="1.40" fill="#f8dcf1"/><circle cx="137.1" cy="208.4" r="1.44" fill="#f8dcf1"/><circle cx="140.8" cy="208.4" r="1.19" fill="#e062d2"/><circle cx="144.7" cy="208.4" r="1.29" fill="#f8dcf1"/><circle cx="148.1" cy="208.3" r="1.02" fill="#e062d2"/><circle cx="151.5" cy="208.3" r="1.35" fill="#f8dcf1"/><circle cx="154.0" cy="207.9" r="1.27" fill="#f8dcf1"/><circle cx="157.5" cy="208.5" r="1.05" fill="#f8dcf1"/><circle cx="161.4" cy="208.7" r="1.37" fill="#e062d2"/><circle cx="164.8" cy="208.1" r="1.29" fill="#f8dcf1"/><circle cx="168.6" cy="209.3" r="1.34" fill="#f8dcf1"/><circle cx="172.3" cy="208.9" r="1.61" fill="#f8dcf1"/><circle cx="174.7" cy="208.1" r="1.09" fill="#e062d2"/><circle cx="179.0" cy="209.2" r="1.25" fill="#e062d2"/><circle cx="182.0" cy="208.4" r="1.59" fill="#f8dcf1"/><circle cx="186.0" cy="208.7" r="1.33" fill="#e062d2"/><circle cx="188.7" cy="209.2" r="1.51" fill="#e062d2"/><circle cx="191.7" cy="208.3" r="1.17" fill="#fffafe"/><circle cx="194.9" cy="208.0" r="1.16" fill="#e062d2"/><circle cx="112.0" cy="211.8" r="1.58" fill="#fffafe"/><circle cx="115.6" cy="211.5" r="1.12" fill="#e062d2"/><circle cx="118.2" cy="212.3" r="1.13" fill="#f8dcf1"/><circle cx="123.2" cy="211.3" r="1.37" fill="#e062d2"/><circle cx="125.2" cy="211.9" r="1.39" fill="#e062d2"/><circle cx="128.6" cy="210.8" r="1.18" fill="#fffafe"/><circle cx="133.2" cy="212.1" r="1.03" fill="#f8dcf1"/><circle cx="135.2" cy="212.2" r="1.34" fill="#e062d2"/><circle cx="139.1" cy="212.0" r="1.52" fill="#f8dcf1"/><circle cx="142.6" cy="211.3" r="1.20" fill="#f8dcf1"/><circle cx="146.7" cy="210.8" r="1.65" fill="#f8dcf1"/><circle cx="149.5" cy="211.0" r="1.10" fill="#e062d2"/><circle cx="152.3" cy="211.6" r="1.47" fill="#e062d2"/><circle cx="156.1" cy="212.4" r="1.30" fill="#f8dcf1"/><circle cx="159.9" cy="210.7" r="1.44" fill="#e062d2"/><circle cx="162.4" cy="211.2" r="1.45" fill="#f8dcf1"/><circle cx="167.1" cy="211.9" r="1.12" fill="#fffafe"/><circle cx="170.3" cy="211.4" r="1.31" fill="#fffafe"/><circle cx="174.2" cy="211.9" r="1.28" fill="#e062d2"/><circle cx="177.3" cy="211.6" r="1.10" fill="#f8dcf1"/><circle cx="180.9" cy="211.7" r="1.38" fill="#f8dcf1"/><circle cx="183.6" cy="210.8" r="1.04" fill="#e062d2"/><circle cx="187.2" cy="212.3" r="1.62" fill="#e062d2"/><circle cx="190.7" cy="212.1" r="1.49" fill="#f8dcf1"/><circle cx="194.4" cy="210.9" r="1.61" fill="#f8dcf1"/><circle cx="197.7" cy="211.4" r="1.64" fill="#e062d2"/><circle cx="110.5" cy="214.6" r="1.37" fill="#e062d2"/><circle cx="113.3" cy="214.3" r="1.34" fill="#e062d2"/><circle cx="117.5" cy="213.8" r="1.18" fill="#e062d2"/><circle cx="120.5" cy="214.4" r="1.22" fill="#e062d2"/><circle cx="123.4" cy="214.0" r="1.39" fill="#fffafe"/><circle cx="127.8" cy="214.9" r="1.39" fill="#fffafe"/><circle cx="130.5" cy="214.9" r="1.09" fill="#f8dcf1"/><circle cx="133.5" cy="214.7" r="1.55" fill="#e062d2"/><circle cx="138.0" cy="214.7" r="1.38" fill="#f8dcf1"/><circle cx="140.8" cy="215.2" r="1.15" fill="#e062d2"/><circle cx="144.5" cy="215.0" r="1.49" fill="#fffafe"/><circle cx="148.6" cy="215.1" r="1.18" fill="#e062d2"/><circle cx="151.4" cy="214.1" r="1.38" fill="#e062d2"/><circle cx="154.4" cy="215.0" r="1.40" fill="#fffafe"/><circle cx="158.9" cy="214.4" r="1.14" fill="#e062d2"/><circle cx="161.9" cy="214.6" r="1.51" fill="#f8dcf1"/><circle cx="164.8" cy="213.9" r="1.46" fill="#f8dcf1"/><circle cx="168.6" cy="214.2" r="1.59" fill="#f8dcf1"/><circle cx="171.3" cy="214.9" r="1.01" fill="#fffafe"/><circle cx="175.1" cy="214.8" r="1.45" fill="#f8dcf1"/><circle cx="179.1" cy="214.9" r="1.21" fill="#fffafe"/><circle cx="181.2" cy="213.9" r="1.57" fill="#f8dcf1"/><circle cx="184.8" cy="214.4" r="1.20" fill="#f8dcf1"/><circle cx="188.1" cy="213.7" r="1.47" fill="#f8dcf1"/><circle cx="191.9" cy="214.0" r="1.22" fill="#f8dcf1"/><circle cx="196.0" cy="214.5" r="1.44" fill="#fffafe"/><circle cx="113.0" cy="216.9" r="1.44" fill="#f8dcf1"/><circle cx="115.7" cy="217.7" r="1.52" fill="#e062d2"/><circle cx="119.7" cy="217.7" r="1.29" fill="#f8dcf1"/><circle cx="121.7" cy="216.7" r="1.65" fill="#e062d2"/><circle cx="125.4" cy="217.6" r="1.19" fill="#f8dcf1"/><circle cx="129.8" cy="217.9" r="1.32" fill="#f8dcf1"/><circle cx="132.3" cy="218.1" r="1.14" fill="#f8dcf1"/><circle cx="136.3" cy="216.7" r="1.48" fill="#f8dcf1"/><circle cx="139.8" cy="218.2" r="1.38" fill="#e062d2"/><circle cx="142.7" cy="216.7" r="1.09" fill="#f8dcf1"/><circle cx="146.9" cy="217.2" r="1.62" fill="#f8dcf1"/><circle cx="149.5" cy="218.2" r="1.05" fill="#fffafe"/><circle cx="153.5" cy="218.1" r="1.39" fill="#f8dcf1"/><circle cx="156.3" cy="217.9" r="1.25" fill="#f8dcf1"/><circle cx="159.9" cy="218.0" r="1.40" fill="#e062d2"/><circle cx="162.5" cy="216.8" r="1.05" fill="#e062d2"/><circle cx="166.9" cy="217.6" r="1.07" fill="#e062d2"/><circle cx="170.2" cy="217.3" r="1.24" fill="#e062d2"/><circle cx="173.8" cy="217.5" r="1.50" fill="#e062d2"/><circle cx="176.1" cy="217.6" r="1.32" fill="#f8dcf1"/><circle cx="180.7" cy="217.6" r="1.38" fill="#e062d2"/><circle cx="183.2" cy="216.9" r="1.17" fill="#e062d2"/><circle cx="187.3" cy="217.9" r="1.02" fill="#f8dcf1"/><circle cx="191.0" cy="216.7" r="1.20" fill="#e062d2"/><circle cx="193.2" cy="217.0" r="1.08" fill="#e062d2"/><circle cx="197.8" cy="217.9" r="1.57" fill="#e062d2"/><circle cx="110.1" cy="220.1" r="1.03" fill="#f8dcf1"/><circle cx="113.4" cy="220.4" r="1.24" fill="#e062d2"/><circle cx="117.5" cy="219.8" r="1.09" fill="#fffafe"/><circle cx="120.1" cy="220.5" r="1.22" fill="#e062d2"/><circle cx="123.8" cy="220.6" r="1.40" fill="#f8dcf1"/><circle cx="126.8" cy="221.2" r="1.03" fill="#e062d2"/><circle cx="131.6" cy="220.5" r="1.22" fill="#e062d2"/><circle cx="134.5" cy="221.2" r="1.62" fill="#fffafe"/><circle cx="137.3" cy="219.7" r="1.43" fill="#e062d2"/><circle cx="141.6" cy="220.0" r="1.15" fill="#e062d2"/><circle cx="144.7" cy="220.0" r="1.52" fill="#f8dcf1"/><circle cx="147.1" cy="220.3" r="1.22" fill="#e062d2"/><circle cx="151.9" cy="220.0" r="1.13" fill="#f8dcf1"/><circle cx="155.4" cy="221.1" r="1.42" fill="#e062d2"/><circle cx="158.3" cy="221.0" r="1.19" fill="#f8dcf1"/><circle cx="162.0" cy="220.1" r="1.25" fill="#e062d2"/><circle cx="164.3" cy="221.2" r="1.04" fill="#e062d2"/><circle cx="168.1" cy="221.1" r="1.62" fill="#e062d2"/><circle cx="171.3" cy="220.6" r="1.13" fill="#e062d2"/><circle cx="175.6" cy="221.2" r="1.40" fill="#f8dcf1"/><circle cx="178.4" cy="220.4" r="1.15" fill="#e062d2"/><circle cx="181.8" cy="220.7" r="1.49" fill="#e062d2"/><circle cx="185.8" cy="220.0" r="1.53" fill="#e062d2"/><circle cx="188.3" cy="220.6" r="1.23" fill="#f8dcf1"/><circle cx="191.5" cy="220.7" r="1.04" fill="#e062d2"/><circle cx="195.1" cy="220.9" r="1.63" fill="#f8dcf1"/><circle cx="113.0" cy="223.8" r="1.54" fill="#f8dcf1"/><circle cx="115.3" cy="223.7" r="1.46" fill="#fffafe"/><circle cx="119.5" cy="223.7" r="1.30" fill="#fffafe"/><circle cx="121.8" cy="222.7" r="1.39" fill="#e062d2"/><circle cx="125.1" cy="222.8" r="1.46" fill="#e062d2"/><circle cx="129.1" cy="223.6" r="1.52" fill="#e062d2"/><circle cx="132.6" cy="224.0" r="1.11" fill="#f8dcf1"/><circle cx="136.2" cy="223.4" r="1.13" fill="#e062d2"/><circle cx="139.2" cy="223.4" r="1.12" fill="#e062d2"/><circle cx="142.9" cy="223.2" r="1.07" fill="#e062d2"/><circle cx="146.8" cy="222.7" r="1.07" fill="#e062d2"/><circle cx="150.1" cy="223.9" r="1.16" fill="#f8dcf1"/><circle cx="152.9" cy="223.5" r="1.02" fill="#e062d2"/><circle cx="155.9" cy="223.3" r="1.16" fill="#f8dcf1"/><circle cx="159.2" cy="224.0" r="1.57" fill="#f8dcf1"/><circle cx="163.2" cy="224.0" r="1.29" fill="#e062d2"/><circle cx="166.3" cy="222.7" r="1.00" fill="#f8dcf1"/><circle cx="169.6" cy="224.2" r="1.10" fill="#fffafe"/><circle cx="173.1" cy="224.2" r="1.06" fill="#f8dcf1"/><circle cx="177.1" cy="223.5" r="1.04" fill="#f8dcf1"/><circle cx="180.7" cy="223.3" r="1.62" fill="#fffafe"/><circle cx="183.6" cy="223.2" r="1.19" fill="#f8dcf1"/><circle cx="187.4" cy="223.0" r="1.31" fill="#f8dcf1"/><circle cx="189.9" cy="223.3" r="1.39" fill="#f8dcf1"/><circle cx="193.2" cy="223.3" r="1.58" fill="#e062d2"/><circle cx="196.8" cy="223.7" r="1.16" fill="#e062d2"/><circle cx="111.1" cy="226.2" r="1.56" fill="#e062d2"/><circle cx="114.0" cy="225.7" r="1.00" fill="#f8dcf1"/><circle cx="117.2" cy="226.3" r="1.06" fill="#e062d2"/><circle cx="120.8" cy="226.0" r="1.48" fill="#e062d2"/><circle cx="124.2" cy="227.1" r="1.49" fill="#e062d2"/><circle cx="128.1" cy="226.8" r="1.55" fill="#e062d2"/><circle cx="131.0" cy="225.7" r="1.53" fill="#e062d2"/><circle cx="134.1" cy="226.0" r="1.06" fill="#f8dcf1"/><circle cx="137.1" cy="226.4" r="1.34" fill="#fffafe"/><circle cx="141.8" cy="226.7" r="1.20" fill="#f8dcf1"/><circle cx="145.3" cy="226.8" r="1.31" fill="#e062d2"/><circle cx="147.5" cy="226.9" r="1.17" fill="#f8dcf1"/><circle cx="151.2" cy="226.6" r="1.54" fill="#f8dcf1"/><circle cx="155.3" cy="226.7" r="1.36" fill="#fffafe"/><circle cx="157.8" cy="227.1" r="1.30" fill="#f8dcf1"/><circle cx="162.3" cy="225.6" r="1.55" fill="#e062d2"/><circle cx="165.5" cy="225.5" r="1.18" fill="#e062d2"/><circle cx="168.6" cy="225.6" r="1.35" fill="#f8dcf1"/><circle cx="171.6" cy="227.2" r="1.14" fill="#e062d2"/><circle cx="174.8" cy="226.5" r="1.01" fill="#f8dcf1"/><circle cx="178.5" cy="227.0" r="1.59" fill="#fffafe"/><circle cx="182.6" cy="225.6" r="1.49" fill="#fffafe"/><circle cx="184.9" cy="227.0" r="1.61" fill="#f8dcf1"/><circle cx="188.6" cy="226.1" r="1.22" fill="#f8dcf1"/><circle cx="191.9" cy="226.6" r="1.48" fill="#e062d2"/><circle cx="196.1" cy="225.7" r="1.13" fill="#f8dcf1"/><circle cx="112.5" cy="230.0" r="1.35" fill="#f8dcf1"/><circle cx="116.3" cy="229.8" r="1.22" fill="#f8dcf1"/><circle cx="118.9" cy="229.0" r="1.34" fill="#fffafe"/><circle cx="121.8" cy="229.3" r="1.56" fill="#f8dcf1"/><circle cx="126.1" cy="229.2" r="1.13" fill="#f8dcf1"/><circle cx="129.0" cy="229.3" r="1.00" fill="#fffafe"/><circle cx="132.8" cy="228.6" r="1.08" fill="#f8dcf1"/><circle cx="135.3" cy="229.5" r="1.50" fill="#f8dcf1"/><circle cx="138.7" cy="229.3" r="1.27" fill="#f8dcf1"/><circle cx="142.8" cy="229.4" r="1.12" fill="#e062d2"/><circle cx="145.8" cy="229.8" r="1.08" fill="#f8dcf1"/><circle cx="150.2" cy="228.5" r="1.22" fill="#e062d2"/><circle cx="153.6" cy="229.4" r="1.51" fill="#e062d2"/><circle cx="156.4" cy="229.5" r="1.35" fill="#e062d2"/><circle cx="160.3" cy="229.4" r="1.50" fill="#f8dcf1"/><circle cx="162.9" cy="229.5" r="1.46" fill="#e062d2"/><circle cx="167.2" cy="230.0" r="1.03" fill="#fffafe"/><circle cx="170.7" cy="228.6" r="1.38" fill="#fffafe"/><circle cx="173.2" cy="229.5" r="1.43" fill="#e062d2"/><circle cx="176.3" cy="228.8" r="1.59" fill="#f8dcf1"/><circle cx="179.8" cy="228.7" r="1.36" fill="#fffafe"/><circle cx="183.7" cy="229.3" r="1.40" fill="#e062d2"/><circle cx="186.5" cy="229.9" r="1.54" fill="#f8dcf1"/><circle cx="190.4" cy="229.6" r="1.45" fill="#f8dcf1"/><circle cx="193.8" cy="229.2" r="1.00" fill="#e062d2"/><circle cx="197.7" cy="230.0" r="1.36" fill="#f8dcf1"/><circle cx="111.0" cy="231.9" r="1.46" fill="#f8dcf1"/><circle cx="113.1" cy="232.4" r="1.37" fill="#e062d2"/><circle cx="117.9" cy="233.0" r="1.20" fill="#fffafe"/><circle cx="120.4" cy="231.8" r="1.56" fill="#e062d2"/><circle cx="124.6" cy="231.5" r="1.59" fill="#f8dcf1"/><circle cx="127.4" cy="231.7" r="1.62" fill="#e062d2"/><circle cx="130.5" cy="231.7" r="1.34" fill="#f8dcf1"/><circle cx="133.7" cy="232.4" r="1.24" fill="#e062d2"/><circle cx="137.3" cy="233.0" r="1.54" fill="#f8dcf1"/><circle cx="140.8" cy="232.6" r="1.26" fill="#f8dcf1"/><circle cx="145.1" cy="231.7" r="1.46" fill="#fffafe"/><circle cx="148.5" cy="232.4" r="1.48" fill="#e062d2"/><circle cx="151.0" cy="232.8" r="1.43" fill="#fffafe"/><circle cx="154.7" cy="231.9" r="1.14" fill="#f8dcf1"/><circle cx="157.7" cy="232.0" r="1.45" fill="#f8dcf1"/><circle cx="161.8" cy="231.4" r="1.29" fill="#f8dcf1"/><circle cx="164.7" cy="231.7" r="1.57" fill="#fffafe"/><circle cx="168.9" cy="232.4" r="1.59" fill="#fffafe"/><circle cx="170.9" cy="232.5" r="1.26" fill="#f8dcf1"/><circle cx="175.1" cy="232.2" r="1.02" fill="#fffafe"/><circle cx="178.0" cy="232.7" r="1.09" fill="#f8dcf1"/><circle cx="182.0" cy="232.2" r="1.07" fill="#f8dcf1"/><circle cx="185.7" cy="231.9" r="1.41" fill="#fffafe"/><circle cx="189.3" cy="233.0" r="1.52" fill="#e062d2"/><circle cx="192.6" cy="232.3" r="1.03" fill="#fffafe"/><circle cx="195.4" cy="231.8" r="1.31" fill="#fffafe"/><circle cx="113.0" cy="235.6" r="1.37" fill="#e062d2"/><circle cx="115.0" cy="235.4" r="1.60" fill="#fffafe"/><circle cx="118.2" cy="234.6" r="1.47" fill="#e062d2"/><circle cx="122.2" cy="235.8" r="1.46" fill="#fffafe"/><circle cx="126.3" cy="236.0" r="1.61" fill="#f8dcf1"/><circle cx="129.7" cy="235.8" r="1.36" fill="#f8dcf1"/><circle cx="132.6" cy="234.7" r="1.02" fill="#fffafe"/><circle cx="135.2" cy="235.3" r="1.44" fill="#f8dcf1"/><circle cx="139.4" cy="234.9" r="1.36" fill="#fffafe"/><circle cx="142.4" cy="234.4" r="1.21" fill="#fffafe"/><circle cx="146.5" cy="234.8" r="1.43" fill="#e062d2"/><circle cx="150.1" cy="235.9" r="1.62" fill="#e062d2"/><circle cx="152.4" cy="234.7" r="1.53" fill="#f8dcf1"/><circle cx="157.0" cy="235.1" r="1.61" fill="#e062d2"/><circle cx="159.9" cy="235.5" r="1.56" fill="#f8dcf1"/><circle cx="163.0" cy="235.6" r="1.62" fill="#f8dcf1"/><circle cx="166.1" cy="236.0" r="1.24" fill="#fffafe"/><circle cx="170.7" cy="234.7" r="1.65" fill="#f8dcf1"/><circle cx="174.0" cy="235.8" r="1.20" fill="#f8dcf1"/><circle cx="176.5" cy="235.1" r="1.00" fill="#e062d2"/><circle cx="180.4" cy="234.6" r="1.31" fill="#e062d2"/><circle cx="182.8" cy="234.8" r="1.17" fill="#fffafe"/><circle cx="187.5" cy="235.9" r="1.08" fill="#f8dcf1"/><circle cx="191.0" cy="235.5" r="1.62" fill="#f8dcf1"/><circle cx="193.3" cy="234.7" r="1.17" fill="#f8dcf1"/><circle cx="197.4" cy="234.8" r="1.45" fill="#fffafe"/><circle cx="111.3" cy="238.1" r="1.06" fill="#fffafe"/><circle cx="114.4" cy="238.2" r="1.22" fill="#f8dcf1"/><circle cx="117.0" cy="238.5" r="1.04" fill="#e062d2"/><circle cx="120.9" cy="237.9" r="1.29" fill="#f8dcf1"/><circle cx="123.9" cy="238.7" r="1.37" fill="#fffafe"/><circle cx="127.2" cy="238.3" r="1.49" fill="#e062d2"/><circle cx="131.5" cy="237.5" r="1.32" fill="#fffafe"/><circle cx="134.9" cy="238.3" r="1.14" fill="#fffafe"/><circle cx="138.3" cy="239.0" r="1.38" fill="#fffafe"/><circle cx="140.7" cy="238.4" r="1.64" fill="#f8dcf1"/><circle cx="144.4" cy="237.7" r="1.21" fill="#f8dcf1"/><circle cx="148.4" cy="238.4" r="1.54" fill="#f8dcf1"/><circle cx="150.8" cy="237.4" r="1.05" fill="#f8dcf1"/><circle cx="155.0" cy="238.7" r="1.27" fill="#f8dcf1"/><circle cx="158.8" cy="238.5" r="1.17" fill="#fffafe"/><circle cx="162.0" cy="237.8" r="1.11" fill="#e062d2"/><circle cx="165.6" cy="237.7" r="1.33" fill="#f8dcf1"/><circle cx="167.6" cy="238.2" r="1.02" fill="#f8dcf1"/><circle cx="172.1" cy="238.9" r="1.32" fill="#f8dcf1"/><circle cx="175.6" cy="238.7" r="1.58" fill="#f8dcf1"/><circle cx="178.0" cy="238.1" r="1.51" fill="#f8dcf1"/><circle cx="181.4" cy="238.1" r="1.23" fill="#f8dcf1"/><circle cx="185.9" cy="237.6" r="1.35" fill="#fffafe"/><circle cx="188.5" cy="238.0" r="1.29" fill="#fffafe"/><circle cx="192.3" cy="238.0" r="1.09" fill="#f8dcf1"/><circle cx="195.5" cy="238.4" r="1.06" fill="#fffafe"/><circle cx="111.9" cy="240.3" r="1.08" fill="#e062d2"/><circle cx="115.4" cy="241.8" r="1.49" fill="#e062d2"/><circle cx="118.3" cy="241.6" r="1.15" fill="#f8dcf1"/><circle cx="122.9" cy="241.0" r="1.47" fill="#e062d2"/><circle cx="125.2" cy="241.0" r="1.21" fill="#fffafe"/><circle cx="129.1" cy="240.8" r="1.54" fill="#e062d2"/><circle cx="133.4" cy="240.6" r="1.41" fill="#e062d2"/><circle cx="135.5" cy="241.8" r="1.07" fill="#f8dcf1"/><circle cx="138.6" cy="240.3" r="1.53" fill="#f8dcf1"/><circle cx="142.2" cy="241.9" r="1.62" fill="#f8dcf1"/><circle cx="145.7" cy="241.6" r="1.34" fill="#e062d2"/><circle cx="149.6" cy="241.6" r="1.50" fill="#fffafe"/><circle cx="153.8" cy="240.6" r="1.11" fill="#e062d2"/><circle cx="156.6" cy="241.0" r="1.25" fill="#fffafe"/><circle cx="159.5" cy="240.3" r="1.11" fill="#f8dcf1"/><circle cx="162.5" cy="240.7" r="1.43" fill="#e062d2"/><circle cx="167.0" cy="240.8" r="1.26" fill="#e062d2"/><circle cx="170.3" cy="240.8" r="1.19" fill="#f8dcf1"/><circle cx="172.6" cy="241.6" r="1.01" fill="#f8dcf1"/><circle cx="176.3" cy="240.5" r="1.04" fill="#f8dcf1"/><circle cx="180.8" cy="241.2" r="1.22" fill="#e062d2"/><circle cx="183.5" cy="241.7" r="1.58" fill="#e062d2"/><circle cx="186.5" cy="241.9" r="1.20" fill="#e062d2"/><circle cx="190.1" cy="241.8" r="1.28" fill="#f8dcf1"/><circle cx="194.3" cy="241.0" r="1.64" fill="#f8dcf1"/><circle cx="196.6" cy="240.7" r="1.09" fill="#fffafe"/><circle cx="110.9" cy="244.8" r="1.30" fill="#e062d2"/><circle cx="114.7" cy="243.8" r="1.26" fill="#f8dcf1"/><circle cx="117.8" cy="243.6" r="1.09" fill="#fffafe"/><circle cx="121.0" cy="243.6" r="1.58" fill="#e062d2"/><circle cx="124.0" cy="243.7" r="1.01" fill="#e062d2"/><circle cx="126.8" cy="243.4" r="1.46" fill="#e062d2"/><circle cx="130.1" cy="243.9" r="1.16" fill="#f8dcf1"/><circle cx="134.3" cy="243.9" r="1.17" fill="#f8dcf1"/><circle cx="137.4" cy="243.2" r="1.50" fill="#f8dcf1"/><circle cx="140.8" cy="243.8" r="1.50" fill="#e062d2"/><circle cx="143.7" cy="243.4" r="1.15" fill="#fffafe"/><circle cx="148.2" cy="244.8" r="1.38" fill="#e062d2"/><circle cx="151.1" cy="243.3" r="1.46" fill="#fffafe"/><circle cx="154.9" cy="243.4" r="1.30" fill="#f8dcf1"/><circle cx="157.7" cy="244.4" r="1.52" fill="#f8dcf1"/><circle cx="160.9" cy="244.6" r="1.18" fill="#e062d2"/><circle cx="164.8" cy="244.6" r="1.25" fill="#e062d2"/><circle cx="167.8" cy="244.2" r="1.62" fill="#e062d2"/><circle cx="172.2" cy="243.3" r="1.07" fill="#f8dcf1"/><circle cx="174.7" cy="243.4" r="1.37" fill="#fffafe"/><circle cx="178.2" cy="243.9" r="1.09" fill="#e062d2"/><circle cx="182.3" cy="243.2" r="1.57" fill="#e062d2"/><circle cx="185.9" cy="243.8" r="1.29" fill="#e062d2"/><circle cx="188.4" cy="243.5" r="1.63" fill="#fffafe"/><circle cx="191.3" cy="243.2" r="1.59" fill="#e062d2"/><circle cx="194.7" cy="244.3" r="1.10" fill="#fffafe"/><circle cx="112.5" cy="246.7" r="1.64" fill="#e062d2"/><circle cx="116.1" cy="246.3" r="1.28" fill="#f8dcf1"/><circle cx="119.0" cy="247.0" r="1.23" fill="#e062d2"/><circle cx="123.1" cy="247.2" r="1.20" fill="#e062d2"/><circle cx="125.0" cy="246.9" r="1.06" fill="#fffafe"/><circle cx="129.8" cy="246.7" r="1.59" fill="#e062d2"/><circle cx="132.8" cy="246.9" r="1.37" fill="#f8dcf1"/><circle cx="135.5" cy="247.2" r="1.06" fill="#e062d2"/><circle cx="138.7" cy="246.8" r="1.19" fill="#f8dcf1"/><circle cx="142.4" cy="246.4" r="1.14" fill="#f8dcf1"/><circle cx="145.5" cy="247.7" r="1.58" fill="#f8dcf1"/><circle cx="149.3" cy="246.6" r="1.29" fill="#f8dcf1"/><circle cx="152.7" cy="246.6" r="1.53" fill="#f8dcf1"/><circle cx="156.6" cy="246.9" r="1.59" fill="#f8dcf1"/><circle cx="159.4" cy="246.6" r="1.34" fill="#f8dcf1"/><circle cx="163.5" cy="247.6" r="1.64" fill="#fffafe"/><circle cx="165.9" cy="247.7" r="1.36" fill="#fffafe"/><circle cx="170.6" cy="247.3" r="1.51" fill="#e062d2"/><circle cx="174.1" cy="247.0" r="1.10" fill="#f8dcf1"/><circle cx="176.6" cy="247.3" r="1.02" fill="#f8dcf1"/><circle cx="179.5" cy="246.6" r="1.61" fill="#f8dcf1"/><circle cx="183.5" cy="246.8" r="1.18" fill="#fffafe"/><circle cx="186.4" cy="246.9" r="1.25" fill="#e062d2"/><circle cx="190.5" cy="247.0" r="1.58" fill="#fffafe"/><circle cx="193.4" cy="247.6" r="1.25" fill="#fffafe"/><circle cx="196.8" cy="247.1" r="1.20" fill="#f8dcf1"/><circle cx="111.1" cy="249.5" r="1.39" fill="#fffafe"/><circle cx="113.8" cy="250.3" r="1.43" fill="#e062d2"/><circle cx="117.9" cy="249.8" r="1.26" fill="#e062d2"/><circle cx="121.2" cy="250.8" r="1.48" fill="#f8dcf1"/><circle cx="123.9" cy="250.1" r="1.12" fill="#f8dcf1"/><circle cx="126.8" cy="250.1" r="1.01" fill="#e062d2"/><circle cx="130.2" cy="249.8" r="1.34" fill="#f8dcf1"/><circle cx="133.6" cy="249.7" r="1.23" fill="#f8dcf1"/><circle cx="137.9" cy="250.0" r="1.54" fill="#f8dcf1"/><circle cx="141.8" cy="250.6" r="1.20" fill="#f8dcf1"/><circle cx="144.3" cy="250.1" r="1.09" fill="#fffafe"/><circle cx="148.6" cy="249.6" r="1.15" fill="#e062d2"/><circle cx="151.0" cy="250.3" r="1.51" fill="#f8dcf1"/><circle cx="154.3" cy="249.7" r="1.63" fill="#fffafe"/><circle cx="157.8" cy="249.2" r="1.45" fill="#f8dcf1"/><circle cx="161.4" cy="249.2" r="1.05" fill="#e062d2"/><circle cx="164.7" cy="249.7" r="1.37" fill="#fffafe"/><circle cx="168.2" cy="249.5" r="1.41" fill="#e062d2"/><circle cx="171.5" cy="249.5" r="1.19" fill="#f8dcf1"/><circle cx="174.3" cy="250.1" r="1.42" fill="#f8dcf1"/><circle cx="177.7" cy="250.6" r="1.08" fill="#e062d2"/><circle cx="181.6" cy="249.5" r="1.50" fill="#e062d2"/><circle cx="184.7" cy="250.3" r="1.15" fill="#fffafe"/><circle cx="188.2" cy="249.7" r="1.45" fill="#e062d2"/><circle cx="192.5" cy="250.8" r="1.42" fill="#e062d2"/><circle cx="195.0" cy="249.3" r="1.52" fill="#fffafe"/><circle cx="111.9" cy="253.5" r="1.34" fill="#f8dcf1"/><circle cx="115.8" cy="252.3" r="1.50" fill="#e062d2"/><circle cx="118.5" cy="253.0" r="1.49" fill="#fffafe"/><circle cx="122.8" cy="253.5" r="1.52" fill="#e062d2"/><circle cx="125.8" cy="253.6" r="1.54" fill="#fffafe"/><circle cx="130.0" cy="253.0" r="1.11" fill="#f8dcf1"/><circle cx="132.4" cy="252.9" r="1.13" fill="#e062d2"/><circle cx="136.6" cy="252.3" r="1.07" fill="#f8dcf1"/><circle cx="139.8" cy="253.1" r="1.64" fill="#f8dcf1"/><circle cx="142.2" cy="252.2" r="1.40" fill="#e062d2"/><circle cx="146.6" cy="252.6" r="1.43" fill="#fffafe"/><circle cx="149.2" cy="252.3" r="1.09" fill="#f8dcf1"/><circle cx="153.7" cy="253.2" r="1.27" fill="#f8dcf1"/><circle cx="156.3" cy="253.1" r="1.56" fill="#fffafe"/><circle cx="159.2" cy="253.8" r="1.30" fill="#fffafe"/><circle cx="164.0" cy="253.0" r="1.39" fill="#e062d2"/><circle cx="167.3" cy="253.3" r="1.05" fill="#e062d2"/><circle cx="169.7" cy="253.1" r="1.19" fill="#fffafe"/><circle cx="173.1" cy="253.3" r="1.42" fill="#e062d2"/><circle cx="177.0" cy="253.3" r="1.36" fill="#f8dcf1"/><circle cx="179.7" cy="253.1" r="1.27" fill="#e062d2"/><circle cx="184.3" cy="253.7" r="1.41" fill="#f8dcf1"/><circle cx="186.9" cy="253.3" r="1.29" fill="#e062d2"/><circle cx="190.1" cy="253.3" r="1.20" fill="#e062d2"/><circle cx="193.6" cy="252.5" r="1.37" fill="#e062d2"/><circle cx="197.6" cy="252.7" r="1.43" fill="#f8dcf1"/><circle cx="109.9" cy="256.7" r="1.20" fill="#e062d2"/><circle cx="113.8" cy="255.4" r="1.23" fill="#e062d2"/><circle cx="118.0" cy="256.0" r="1.60" fill="#e062d2"/><circle cx="121.0" cy="256.1" r="1.00" fill="#fffafe"/><circle cx="123.3" cy="255.3" r="1.23" fill="#e062d2"/><circle cx="127.1" cy="255.7" r="1.12" fill="#fffafe"/><circle cx="131.6" cy="255.8" r="1.23" fill="#e062d2"/><circle cx="134.6" cy="256.0" r="1.56" fill="#f8dcf1"/><circle cx="137.5" cy="255.3" r="1.37" fill="#fffafe"/><circle cx="141.9" cy="256.3" r="1.43" fill="#f8dcf1"/><circle cx="145.3" cy="255.3" r="1.03" fill="#e062d2"/><circle cx="147.7" cy="256.3" r="1.52" fill="#e062d2"/><circle cx="151.5" cy="255.4" r="1.47" fill="#e062d2"/><circle cx="154.8" cy="255.2" r="1.41" fill="#e062d2"/><circle cx="157.5" cy="256.1" r="1.07" fill="#f8dcf1"/><circle cx="161.4" cy="256.4" r="1.11" fill="#e062d2"/><circle cx="164.5" cy="255.5" r="1.38" fill="#e062d2"/><circle cx="167.9" cy="256.5" r="1.60" fill="#f8dcf1"/><circle cx="171.9" cy="256.5" r="1.10" fill="#e062d2"/><circle cx="175.3" cy="256.3" r="1.21" fill="#e062d2"/><circle cx="179.0" cy="256.4" r="1.08" fill="#fffafe"/><circle cx="182.3" cy="256.2" r="1.47" fill="#f8dcf1"/><circle cx="185.7" cy="255.2" r="1.50" fill="#e062d2"/><circle cx="188.6" cy="256.4" r="1.45" fill="#e062d2"/><circle cx="192.5" cy="255.6" r="1.62" fill="#e062d2"/><circle cx="196.2" cy="255.4" r="1.55" fill="#fffafe"/><circle cx="112.7" cy="259.1" r="1.52" fill="#f8dcf1"/><circle cx="116.3" cy="258.2" r="1.61" fill="#fffafe"/><circle cx="118.6" cy="258.7" r="1.15" fill="#e062d2"/><circle cx="122.5" cy="259.3" r="1.37" fill="#f8dcf1"/><circle cx="125.7" cy="259.4" r="1.65" fill="#f8dcf1"/><circle cx="129.1" cy="258.7" r="1.62" fill="#e062d2"/><circle cx="132.1" cy="259.1" r="1.58" fill="#f8dcf1"/><circle cx="136.4" cy="259.7" r="1.61" fill="#f8dcf1"/><circle cx="138.9" cy="259.1" r="1.33" fill="#f8dcf1"/><circle cx="142.2" cy="258.7" r="1.41" fill="#fffafe"/><circle cx="146.4" cy="258.9" r="1.39" fill="#f8dcf1"/><circle cx="150.1" cy="258.8" r="1.38" fill="#f8dcf1"/><circle cx="152.8" cy="259.0" r="1.63" fill="#fffafe"/><circle cx="155.9" cy="259.2" r="1.19" fill="#fffafe"/><circle cx="160.2" cy="259.2" r="1.15" fill="#f8dcf1"/><circle cx="162.6" cy="258.9" r="1.24" fill="#f8dcf1"/><circle cx="166.9" cy="258.4" r="1.31" fill="#fffafe"/><circle cx="170.7" cy="259.2" r="1.23" fill="#e062d2"/><circle cx="173.8" cy="258.3" r="1.42" fill="#f8dcf1"/><circle cx="177.4" cy="259.1" r="1.13" fill="#fffafe"/><circle cx="180.2" cy="259.2" r="1.50" fill="#fffafe"/><circle cx="182.9" cy="258.3" r="1.35" fill="#e062d2"/><circle cx="186.5" cy="259.2" r="1.47" fill="#e062d2"/><circle cx="190.4" cy="258.4" r="1.42" fill="#f8dcf1"/><circle cx="194.1" cy="258.8" r="1.21" fill="#fffafe"/><circle cx="197.9" cy="259.5" r="1.35" fill="#e062d2"/><circle cx="110.0" cy="261.8" r="1.37" fill="#e062d2"/><circle cx="114.7" cy="262.6" r="1.32" fill="#f8dcf1"/><circle cx="116.7" cy="262.3" r="1.47" fill="#e062d2"/><circle cx="121.4" cy="262.3" r="1.15" fill="#f8dcf1"/><circle cx="124.5" cy="262.5" r="1.55" fill="#f8dcf1"/><circle cx="127.2" cy="261.6" r="1.44" fill="#f8dcf1"/><circle cx="130.7" cy="262.2" r="1.63" fill="#e062d2"/><circle cx="133.5" cy="261.5" r="1.50" fill="#f8dcf1"/><circle cx="137.9" cy="262.1" r="1.47" fill="#f8dcf1"/><circle cx="140.8" cy="262.4" r="1.58" fill="#e062d2"/><circle cx="144.9" cy="262.4" r="1.51" fill="#f8dcf1"/><circle cx="147.1" cy="261.2" r="1.50" fill="#f8dcf1"/><circle cx="152.1" cy="261.2" r="1.05" fill="#fffafe"/><circle cx="154.8" cy="261.8" r="1.54" fill="#e062d2"/><circle cx="158.8" cy="262.0" r="1.52" fill="#e062d2"/><circle cx="161.3" cy="261.2" r="1.64" fill="#f8dcf1"/><circle cx="164.6" cy="262.0" r="1.29" fill="#e062d2"/><circle cx="168.0" cy="261.0" r="1.45" fill="#f8dcf1"/><circle cx="172.0" cy="261.2" r="1.01" fill="#f8dcf1"/><circle cx="174.8" cy="262.2" r="1.58" fill="#fffafe"/><circle cx="179.2" cy="261.9" r="1.41" fill="#e062d2"/><circle cx="182.1" cy="261.1" r="1.05" fill="#f8dcf1"/><circle cx="185.2" cy="261.7" r="1.63" fill="#e062d2"/><circle cx="187.9" cy="261.9" r="1.20" fill="#e062d2"/><circle cx="192.2" cy="261.8" r="1.42" fill="#fffafe"/><circle cx="195.7" cy="261.5" r="1.41" fill="#fffafe"/><circle cx="173.9" cy="182.6" r="2.9" fill="#fff8fe"/><circle cx="182.0" cy="220.5" r="2.7" fill="#fff8fe"/><circle cx="151.6" cy="256.6" r="3.7" fill="#fff8fe"/><circle cx="118.7" cy="253.8" r="4.2" fill="#fff8fe"/><circle cx="129.0" cy="223.1" r="3.9" fill="#fff8fe"/><circle cx="160.8" cy="249.6" r="3.9" fill="#fff8fe"/><circle cx="146.7" cy="195.1" r="2.8" fill="#fff8fe"/><circle cx="143.6" cy="218.1" r="3.3" fill="#fff8fe"/><circle cx="161.0" cy="228.6" r="3.0" fill="#fff8fe"/><circle cx="136.9" cy="240.4" r="2.7" fill="#fff8fe"/><circle cx="131.8" cy="254.1" r="4.1" fill="#fff8fe"/><circle cx="163.4" cy="240.9" r="3.1" fill="#fff8fe"/><circle cx="159.7" cy="234.6" r="2.8" fill="#fff8fe"/><circle cx="180.8" cy="198.3" r="4.0" fill="#fff8fe"/><circle cx="114.9" cy="237.1" r="3.4" fill="#fff8fe"/><circle cx="194.2" cy="199.8" r="2.8" fill="#fff8fe"/><circle cx="148.0" cy="180.2" r="2.9" fill="#fff8fe"/><circle cx="122.8" cy="220.3" r="3.8" fill="#fff8fe"/><circle cx="136.6" cy="230.5" r="2.7" fill="#fff8fe"/><circle cx="128.0" cy="233.1" r="2.5" fill="#fff8fe"/><circle cx="119.9" cy="177.4" r="1.55" fill="#f3d2f1"/><circle cx="119.9" cy="177.4" r="0.95" fill="#50288a"/><circle cx="163.3" cy="176.9" r="1.53" fill="#f3d2f1"/><circle cx="163.3" cy="176.9" r="0.93" fill="#50288a"/><circle cx="166.9" cy="177.5" r="1.55" fill="#f3d2f1"/><circle cx="166.9" cy="177.5" r="0.95" fill="#50288a"/><circle cx="184.7" cy="176.0" r="1.47" fill="#f3d2f1"/><circle cx="184.7" cy="176.0" r="0.87" fill="#50288a"/><circle cx="191.7" cy="175.4" r="1.53" fill="#f3d2f1"/><circle cx="191.7" cy="175.4" r="0.93" fill="#50288a"/><circle cx="112.6" cy="179.8" r="1.41" fill="#f3d2f1"/><circle cx="112.6" cy="179.8" r="0.81" fill="#50288a"/><circle cx="127.3" cy="180.6" r="1.48" fill="#f3d2f1"/><circle cx="127.3" cy="180.6" r="0.88" fill="#50288a"/><circle cx="150.3" cy="183.2" r="1.34" fill="#f3d2f1"/><circle cx="150.3" cy="183.2" r="0.74" fill="#50288a"/><circle cx="157.0" cy="179.8" r="1.39" fill="#f3d2f1"/><circle cx="157.0" cy="179.8" r="0.79" fill="#50288a"/><circle cx="161.4" cy="183.1" r="1.38" fill="#f3d2f1"/><circle cx="161.4" cy="183.1" r="0.78" fill="#50288a"/><circle cx="169.8" cy="180.7" r="1.56" fill="#f3d2f1"/><circle cx="169.8" cy="180.7" r="0.96" fill="#50288a"/><circle cx="188.9" cy="183.0" r="1.40" fill="#f3d2f1"/><circle cx="188.9" cy="183.0" r="0.80" fill="#50288a"/><circle cx="120.7" cy="185.8" r="1.51" fill="#f3d2f1"/><circle cx="120.7" cy="185.8" r="0.91" fill="#50288a"/><circle cx="129.0" cy="184.3" r="1.38" fill="#f3d2f1"/><circle cx="129.0" cy="184.3" r="0.78" fill="#50288a"/><circle cx="134.1" cy="184.5" r="1.59" fill="#f3d2f1"/><circle cx="134.1" cy="184.5" r="0.99" fill="#50288a"/><circle cx="167.4" cy="185.5" r="1.34" fill="#f3d2f1"/><circle cx="167.4" cy="185.5" r="0.74" fill="#50288a"/><circle cx="192.5" cy="184.3" r="1.54" fill="#f3d2f1"/><circle cx="192.5" cy="184.3" r="0.94" fill="#50288a"/><circle cx="123.8" cy="187.5" r="1.42" fill="#f3d2f1"/><circle cx="123.8" cy="187.5" r="0.82" fill="#50288a"/><circle cx="114.8" cy="190.1" r="1.41" fill="#f3d2f1"/><circle cx="114.8" cy="190.1" r="0.81" fill="#50288a"/><circle cx="121.6" cy="191.4" r="1.46" fill="#f3d2f1"/><circle cx="121.6" cy="191.4" r="0.86" fill="#50288a"/><circle cx="135.2" cy="192.2" r="1.41" fill="#f3d2f1"/><circle cx="135.2" cy="192.2" r="0.81" fill="#50288a"/><circle cx="145.4" cy="191.1" r="1.44" fill="#f3d2f1"/><circle cx="145.4" cy="191.1" r="0.84" fill="#50288a"/><circle cx="170.5" cy="192.1" r="1.36" fill="#f3d2f1"/><circle cx="170.5" cy="192.1" r="0.76" fill="#50288a"/><circle cx="117.2" cy="194.1" r="1.49" fill="#f3d2f1"/><circle cx="117.2" cy="194.1" r="0.89" fill="#50288a"/><circle cx="175.1" cy="194.1" r="1.41" fill="#f3d2f1"/><circle cx="175.1" cy="194.1" r="0.81" fill="#50288a"/><circle cx="125.4" cy="198.5" r="1.32" fill="#f3d2f1"/><circle cx="125.4" cy="198.5" r="0.72" fill="#50288a"/><circle cx="194.9" cy="196.6" r="1.51" fill="#f3d2f1"/><circle cx="194.9" cy="196.6" r="0.91" fill="#50288a"/><circle cx="141.9" cy="199.4" r="1.49" fill="#f3d2f1"/><circle cx="141.9" cy="199.4" r="0.89" fill="#50288a"/><circle cx="154.6" cy="198.9" r="1.50" fill="#f3d2f1"/><circle cx="154.6" cy="198.9" r="0.90" fill="#50288a"/><circle cx="112.2" cy="200.9" r="1.43" fill="#f3d2f1"/><circle cx="112.2" cy="200.9" r="0.83" fill="#50288a"/><circle cx="119.9" cy="201.9" r="1.36" fill="#f3d2f1"/><circle cx="119.9" cy="201.9" r="0.76" fill="#50288a"/><circle cx="134.5" cy="203.4" r="1.41" fill="#f3d2f1"/><circle cx="134.5" cy="203.4" r="0.81" fill="#50288a"/><circle cx="142.4" cy="204.0" r="1.41" fill="#f3d2f1"/><circle cx="142.4" cy="204.0" r="0.81" fill="#50288a"/><circle cx="111.8" cy="206.5" r="1.43" fill="#f3d2f1"/><circle cx="111.8" cy="206.5" r="0.83" fill="#50288a"/><circle cx="150.6" cy="205.0" r="1.58" fill="#f3d2f1"/><circle cx="150.6" cy="205.0" r="0.98" fill="#50288a"/><circle cx="153.2" cy="204.8" r="1.45" fill="#f3d2f1"/><circle cx="153.2" cy="204.8" r="0.85" fill="#50288a"/><circle cx="161.1" cy="205.6" r="1.52" fill="#f3d2f1"/><circle cx="161.1" cy="205.6" r="0.92" fill="#50288a"/><circle cx="171.1" cy="204.5" r="1.49" fill="#f3d2f1"/><circle cx="171.1" cy="204.5" r="0.89" fill="#50288a"/><circle cx="182.4" cy="206.4" r="1.31" fill="#f3d2f1"/><circle cx="182.4" cy="206.4" r="0.71" fill="#50288a"/><circle cx="198.3" cy="206.3" r="1.35" fill="#f3d2f1"/><circle cx="198.3" cy="206.3" r="0.75" fill="#50288a"/><circle cx="135.4" cy="207.2" r="1.37" fill="#f3d2f1"/><circle cx="135.4" cy="207.2" r="0.77" fill="#50288a"/><circle cx="149.2" cy="208.7" r="1.37" fill="#f3d2f1"/><circle cx="149.2" cy="208.7" r="0.77" fill="#50288a"/><circle cx="170.9" cy="210.5" r="1.31" fill="#f3d2f1"/><circle cx="170.9" cy="210.5" r="0.71" fill="#50288a"/><circle cx="174.9" cy="208.2" r="1.35" fill="#f3d2f1"/><circle cx="174.9" cy="208.2" r="0.75" fill="#50288a"/><circle cx="193.4" cy="209.4" r="1.42" fill="#f3d2f1"/><circle cx="193.4" cy="209.4" r="0.82" fill="#50288a"/><circle cx="126.6" cy="212.2" r="1.50" fill="#f3d2f1"/><circle cx="126.6" cy="212.2" r="0.90" fill="#50288a"/><circle cx="157.2" cy="211.7" r="1.34" fill="#f3d2f1"/><circle cx="157.2" cy="211.7" r="0.74" fill="#50288a"/><circle cx="164.0" cy="211.8" r="1.45" fill="#f3d2f1"/><circle cx="164.0" cy="211.8" r="0.85" fill="#50288a"/><circle cx="192.7" cy="210.4" r="1.36" fill="#f3d2f1"/><circle cx="192.7" cy="210.4" r="0.76" fill="#50288a"/><circle cx="123.6" cy="214.7" r="1.43" fill="#f3d2f1"/><circle cx="123.6" cy="214.7" r="0.83" fill="#50288a"/><circle cx="137.8" cy="216.3" r="1.52" fill="#f3d2f1"/><circle cx="137.8" cy="216.3" r="0.92" fill="#50288a"/><circle cx="148.0" cy="213.9" r="1.50" fill="#f3d2f1"/><circle cx="148.0" cy="213.9" r="0.90" fill="#50288a"/><circle cx="160.6" cy="213.1" r="1.41" fill="#f3d2f1"/><circle cx="160.6" cy="213.1" r="0.81" fill="#50288a"/><circle cx="168.3" cy="212.8" r="1.58" fill="#f3d2f1"/><circle cx="168.3" cy="212.8" r="0.98" fill="#50288a"/><circle cx="113.8" cy="216.6" r="1.33" fill="#f3d2f1"/><circle cx="113.8" cy="216.6" r="0.73" fill="#50288a"/><circle cx="150.6" cy="218.3" r="1.41" fill="#f3d2f1"/><circle cx="150.6" cy="218.3" r="0.81" fill="#50288a"/><circle cx="160.0" cy="218.2" r="1.31" fill="#f3d2f1"/><circle cx="160.0" cy="218.2" r="0.71" fill="#50288a"/><circle cx="171.0" cy="218.5" r="1.32" fill="#f3d2f1"/><circle cx="171.0" cy="218.5" r="0.72" fill="#50288a"/><circle cx="179.0" cy="217.3" r="1.41" fill="#f3d2f1"/><circle cx="179.0" cy="217.3" r="0.81" fill="#50288a"/><circle cx="183.3" cy="218.4" r="1.40" fill="#f3d2f1"/><circle cx="183.3" cy="218.4" r="0.80" fill="#50288a"/><circle cx="178.7" cy="220.6" r="1.43" fill="#f3d2f1"/><circle cx="178.7" cy="220.6" r="0.83" fill="#50288a"/><circle cx="114.8" cy="225.2" r="1.59" fill="#f3d2f1"/><circle cx="114.8" cy="225.2" r="0.99" fill="#50288a"/><circle cx="147.0" cy="222.8" r="1.42" fill="#f3d2f1"/><circle cx="147.0" cy="222.8" r="0.82" fill="#50288a"/><circle cx="120.2" cy="224.3" r="1.36" fill="#f3d2f1"/><circle cx="120.2" cy="224.3" r="0.76" fill="#50288a"/><circle cx="135.7" cy="224.9" r="1.42" fill="#f3d2f1"/><circle cx="135.7" cy="224.9" r="0.82" fill="#50288a"/><circle cx="129.0" cy="228.5" r="1.59" fill="#f3d2f1"/><circle cx="129.0" cy="228.5" r="0.99" fill="#50288a"/><circle cx="137.2" cy="229.5" r="1.56" fill="#f3d2f1"/><circle cx="137.2" cy="229.5" r="0.96" fill="#50288a"/><circle cx="143.8" cy="228.6" r="1.43" fill="#f3d2f1"/><circle cx="143.8" cy="228.6" r="0.83" fill="#50288a"/><circle cx="163.0" cy="228.9" r="1.42" fill="#f3d2f1"/><circle cx="163.0" cy="228.9" r="0.82" fill="#50288a"/><circle cx="169.2" cy="230.1" r="1.46" fill="#f3d2f1"/><circle cx="169.2" cy="230.1" r="0.86" fill="#50288a"/><circle cx="172.4" cy="230.9" r="1.50" fill="#f3d2f1"/><circle cx="172.4" cy="230.9" r="0.90" fill="#50288a"/><circle cx="111.1" cy="231.0" r="1.32" fill="#f3d2f1"/><circle cx="111.1" cy="231.0" r="0.72" fill="#50288a"/><circle cx="129.3" cy="231.8" r="1.34" fill="#f3d2f1"/><circle cx="129.3" cy="231.8" r="0.74" fill="#50288a"/><circle cx="158.1" cy="230.5" r="1.45" fill="#f3d2f1"/><circle cx="158.1" cy="230.5" r="0.85" fill="#50288a"/><circle cx="117.1" cy="234.3" r="1.48" fill="#f3d2f1"/><circle cx="117.1" cy="234.3" r="0.88" fill="#50288a"/><circle cx="127.0" cy="236.3" r="1.53" fill="#f3d2f1"/><circle cx="127.0" cy="236.3" r="0.93" fill="#50288a"/><circle cx="141.5" cy="233.8" r="1.56" fill="#f3d2f1"/><circle cx="141.5" cy="233.8" r="0.96" fill="#50288a"/><circle cx="170.3" cy="234.4" r="1.56" fill="#f3d2f1"/><circle cx="170.3" cy="234.4" r="0.96" fill="#50288a"/><circle cx="173.4" cy="236.5" r="1.33" fill="#f3d2f1"/><circle cx="173.4" cy="236.5" r="0.73" fill="#50288a"/><circle cx="188.4" cy="235.8" r="1.56" fill="#f3d2f1"/><circle cx="188.4" cy="235.8" r="0.96" fill="#50288a"/><circle cx="112.2" cy="238.8" r="1.34" fill="#f3d2f1"/><circle cx="112.2" cy="238.8" r="0.74" fill="#50288a"/><circle cx="113.3" cy="241.7" r="1.42" fill="#f3d2f1"/><circle cx="113.3" cy="241.7" r="0.82" fill="#50288a"/><circle cx="138.5" cy="238.9" r="1.59" fill="#f3d2f1"/><circle cx="138.5" cy="238.9" r="0.99" fill="#50288a"/><circle cx="129.4" cy="245.0" r="1.38" fill="#f3d2f1"/><circle cx="129.4" cy="245.0" r="0.78" fill="#50288a"/><circle cx="136.5" cy="244.0" r="1.51" fill="#f3d2f1"/><circle cx="136.5" cy="244.0" r="0.91" fill="#50288a"/><circle cx="147.3" cy="244.4" r="1.60" fill="#f3d2f1"/><circle cx="147.3" cy="244.4" r="1.00" fill="#50288a"/><circle cx="191.2" cy="243.4" r="1.30" fill="#f3d2f1"/><circle cx="191.2" cy="243.4" r="0.70" fill="#50288a"/><circle cx="136.8" cy="248.4" r="1.38" fill="#f3d2f1"/><circle cx="136.8" cy="248.4" r="0.78" fill="#50288a"/><circle cx="142.8" cy="247.5" r="1.42" fill="#f3d2f1"/><circle cx="142.8" cy="247.5" r="0.82" fill="#50288a"/><circle cx="163.6" cy="248.7" r="1.52" fill="#f3d2f1"/><circle cx="163.6" cy="248.7" r="0.92" fill="#50288a"/><circle cx="115.3" cy="251.3" r="1.47" fill="#f3d2f1"/><circle cx="115.3" cy="251.3" r="0.87" fill="#50288a"/><circle cx="126.7" cy="250.1" r="1.55" fill="#f3d2f1"/><circle cx="126.7" cy="250.1" r="0.95" fill="#50288a"/><circle cx="131.4" cy="250.6" r="1.48" fill="#f3d2f1"/><circle cx="131.4" cy="250.6" r="0.88" fill="#50288a"/><circle cx="158.8" cy="248.5" r="1.53" fill="#f3d2f1"/><circle cx="158.8" cy="248.5" r="0.93" fill="#50288a"/><circle cx="171.9" cy="248.3" r="1.42" fill="#f3d2f1"/><circle cx="171.9" cy="248.3" r="0.82" fill="#50288a"/><circle cx="181.7" cy="248.5" r="1.33" fill="#f3d2f1"/><circle cx="181.7" cy="248.5" r="0.73" fill="#50288a"/><circle cx="135.4" cy="250.7" r="1.57" fill="#f3d2f1"/><circle cx="135.4" cy="250.7" r="0.97" fill="#50288a"/><circle cx="191.1" cy="252.6" r="1.33" fill="#f3d2f1"/><circle cx="191.1" cy="252.6" r="0.73" fill="#50288a"/><circle cx="121.6" cy="254.5" r="1.51" fill="#f3d2f1"/><circle cx="121.6" cy="254.5" r="0.91" fill="#50288a"/><circle cx="165.4" cy="255.0" r="1.47" fill="#f3d2f1"/><circle cx="165.4" cy="255.0" r="0.87" fill="#50288a"/><circle cx="157.2" cy="258.1" r="1.44" fill="#f3d2f1"/><circle cx="157.2" cy="258.1" r="0.84" fill="#50288a"/><circle cx="163.4" cy="258.0" r="1.39" fill="#f3d2f1"/><circle cx="163.4" cy="258.0" r="0.79" fill="#50288a"/><circle cx="108.7" cy="263.5" r="1.46" fill="#f3d2f1"/><circle cx="108.7" cy="263.5" r="0.86" fill="#50288a"/><circle cx="117.6" cy="261.9" r="1.56" fill="#f3d2f1"/><circle cx="117.6" cy="261.9" r="0.96" fill="#50288a"/><circle cx="120.6" cy="261.9" r="1.32" fill="#f3d2f1"/><circle cx="120.6" cy="261.9" r="0.72" fill="#50288a"/><circle cx="126.8" cy="261.7" r="1.48" fill="#f3d2f1"/><circle cx="126.8" cy="261.7" r="0.88" fill="#50288a"/></g><rect x="113.9" y="179" width="80.6" height="80" fill="none" stroke="#1a1a1a" stroke-width="1.1"/>
<clipPath id="clip3"><rect x="18.6" y="281.3" width="80.6" height="81.3"/></clipPath><g clip-path="url(#clip3)"><rect x="18.6" y="281.3" width="80.6" height="81.3" fill="#d640c6"/><circle cx="17.4" cy="277.9" r="2.04" fill="#e062d2"/><circle cx="19.9" cy="278.4" r="1.65" fill="#fffafe"/><circle cx="24.6" cy="277.9" r="1.67" fill="#f8dcf1"/><circle cx="30.6" cy="277.6" r="1.94" fill="#f8dcf1"/><circle cx="34.9" cy="276.4" r="1.66" fill="#fffafe"/><circle cx="39.2" cy="277.6" r="1.70" fill="#fffafe"/><circle cx="42.3" cy="276.8" r="1.62" fill="#f8dcf1"/><circle cx="47.0" cy="277.5" r="1.76" fill="#f8dcf1"/><circle cx="51.7" cy="278.0" r="1.59" fill="#f8dcf1"/><circle cx="57.1" cy="277.4" r="1.79" fill="#e062d2"/><circle cx="61.1" cy="276.4" r="1.56" fill="#f8dcf1"/><circle cx="64.8" cy="277.5" r="1.64" fill="#f8dcf1"/><circle cx="68.5" cy="278.1" r="1.73" fill="#f8dcf1"/><circle cx="73.9" cy="278.1" r="1.49" fill="#f8dcf1"/><circle cx="78.1" cy="278.1" r="1.52" fill="#f8dcf1"/><circle cx="82.3" cy="278.0" r="1.41" fill="#e062d2"/><circle cx="87.9" cy="278.5" r="1.66" fill="#f8dcf1"/><circle cx="91.2" cy="276.7" r="1.49" fill="#f8dcf1"/><circle cx="94.5" cy="277.4" r="1.54" fill="#f8dcf1"/><circle cx="99.3" cy="278.0" r="1.71" fill="#f8dcf1"/><circle cx="103.8" cy="278.0" r="1.81" fill="#f8dcf1"/><circle cx="14.7" cy="282.3" r="1.83" fill="#f8dcf1"/><circle cx="18.5" cy="281.2" r="1.41" fill="#f8dcf1"/><circle cx="22.4" cy="280.6" r="1.80" fill="#f8dcf1"/><circle cx="28.3" cy="280.9" r="1.60" fill="#f8dcf1"/><circle cx="30.9" cy="280.7" r="1.57" fill="#fffafe"/><circle cx="36.2" cy="281.6" r="1.80" fill="#e062d2"/><circle cx="39.8" cy="280.7" r="1.58" fill="#f8dcf1"/><circle cx="45.2" cy="282.1" r="1.79" fill="#f8dcf1"/><circle cx="49.8" cy="282.2" r="1.45" fill="#f8dcf1"/><circle cx="53.7" cy="281.5" r="1.45" fill="#f8dcf1"/><circle cx="58.3" cy="282.0" r="2.02" fill="#f8dcf1"/><circle cx="61.6" cy="280.9" r="1.84" fill="#f8dcf1"/><circle cx="67.4" cy="280.4" r="1.69" fill="#fffafe"/><circle cx="71.4" cy="280.3" r="1.98" fill="#f8dcf1"/><circle cx="74.8" cy="280.2" r="1.98" fill="#fffafe"/><circle cx="80.7" cy="281.6" r="1.59" fill="#f8dcf1"/><circle cx="83.7" cy="281.1" r="1.60" fill="#f8dcf1"/><circle cx="89.5" cy="281.6" r="1.90" fill="#e062d2"/><circle cx="93.9" cy="280.5" r="1.76" fill="#f8dcf1"/><circle cx="97.3" cy="281.4" r="1.46" fill="#f8dcf1"/><circle cx="102.1" cy="281.0" r="1.58" fill="#fffafe"/><circle cx="15.3" cy="284.8" r="1.60" fill="#fffafe"/><circle cx="21.5" cy="284.1" r="1.66" fill="#f8dcf1"/><circle cx="24.3" cy="285.1" r="1.87" fill="#fffafe"/><circle cx="28.8" cy="285.5" r="1.56" fill="#e062d2"/><circle cx="34.2" cy="285.6" r="1.58" fill="#fffafe"/><circle cx="37.7" cy="285.4" r="1.48" fill="#f8dcf1"/><circle cx="42.9" cy="284.1" r="2.00" fill="#f8dcf1"/><circle cx="48.0" cy="286.1" r="1.77" fill="#f8dcf1"/><circle cx="51.5" cy="285.1" r="1.43" fill="#f8dcf1"/><circle cx="55.3" cy="285.0" r="1.52" fill="#fffafe"/><circle cx="61.5" cy="284.6" r="1.42" fill="#f8dcf1"/><circle cx="65.5" cy="286.2" r="1.89" fill="#f8dcf1"/><circle cx="70.1" cy="284.2" r="1.98" fill="#e062d2"/><circle cx="72.7" cy="285.2" r="1.87" fill="#e062d2"/><circle cx="77.4" cy="284.7" r="1.41" fill="#fffafe"/><circle cx="81.4" cy="284.9" r="1.80" fill="#f8dcf1"/><circle cx="87.7" cy="285.4" r="2.01" fill="#f8dcf1"/><circle cx="90.7" cy="284.3" r="1.43" fill="#f8dcf1"/><circle cx="96.5" cy="286.1" r="1.71" fill="#e062d2"/><circle cx="100.1" cy="285.7" r="1.41" fill="#f8dcf1"/><circle cx="104.0" cy="285.8" r="1.43" fill="#fffafe"/><circle cx="14.2" cy="288.5" r="1.62" fill="#f8dcf1"/><circle cx="18.9" cy="288.1" r="1.92" fill="#f8dcf1"/><circle cx="22.7" cy="288.6" r="1.93" fill="#f8dcf1"/><circle cx="27.7" cy="289.3" r="1.88" fill="#f8dcf1"/><circle cx="31.6" cy="289.1" r="1.90" fill="#f8dcf1"/><circle cx="35.6" cy="288.9" r="1.53" fill="#e062d2"/><circle cx="39.9" cy="289.1" r="1.48" fill="#f8dcf1"/><circle cx="45.3" cy="289.8" r="1.71" fill="#f8dcf1"/><circle cx="49.5" cy="288.7" r="1.83" fill="#e062d2"/><circle cx="52.9" cy="287.9" r="1.83" fill="#f8dcf1"/><circle cx="58.7" cy="289.7" r="1.89" fill="#fffafe"/><circle cx="61.6" cy="289.6" r="1.67" fill="#f8dcf1"/><circle cx="66.2" cy="289.5" r="1.42" fill="#f8dcf1"/><circle cx="71.5" cy="288.9" r="2.05" fill="#f8dcf1"/><circle cx="76.6" cy="288.6" r="1.98" fill="#f8dcf1"/><circle cx="79.6" cy="289.6" r="1.49" fill="#f8dcf1"/><circle cx="84.8" cy="288.1" r="1.89" fill="#f8dcf1"/><circle cx="88.4" cy="288.8" r="1.90" fill="#f8dcf1"/><circle cx="94.2" cy="289.9" r="1.57" fill="#f8dcf1"/><circle cx="98.8" cy="288.3" r="1.67" fill="#f8dcf1"/><circle cx="101.4" cy="288.0" r="1.48" fill="#f8dcf1"/><circle cx="16.3" cy="291.7" r="1.46" fill="#f8dcf1"/><circle cx="21.4" cy="293.8" r="1.59" fill="#f8dcf1"/><circle cx="25.6" cy="293.3" r="1.91" fill="#fffafe"/><circle cx="29.7" cy="293.0" r="1.91" fill="#f8dcf1"/><circle cx="34.1" cy="292.6" r="1.59" fill="#f8dcf1"/><circle cx="37.5" cy="292.7" r="1.83" fill="#f8dcf1"/><circle cx="43.6" cy="293.6" r="1.68" fill="#f8dcf1"/><circle cx="47.6" cy="291.9" r="1.74" fill="#f8dcf1"/><circle cx="52.0" cy="292.3" r="1.74" fill="#f8dcf1"/><circle cx="56.5" cy="292.5" r="2.00" fill="#e062d2"/><circle cx="61.1" cy="293.6" r="1.59" fill="#f8dcf1"/><circle cx="64.6" cy="293.1" r="1.63" fill="#f8dcf1"/><circle cx="68.6" cy="292.9" r="2.03" fill="#f8dcf1"/><circle cx="73.1" cy="292.3" r="1.82" fill="#f8dcf1"/><circle cx="78.0" cy="292.3" r="1.93" fill="#f8dcf1"/><circle cx="82.1" cy="292.2" r="1.58" fill="#f8dcf1"/><circle cx="86.3" cy="292.7" r="1.94" fill="#fffafe"/><circle cx="91.0" cy="293.5" r="1.50" fill="#f8dcf1"/><circle cx="94.7" cy="292.2" r="1.78" fill="#fffafe"/><circle cx="99.5" cy="292.4" r="2.01" fill="#e062d2"/><circle cx="104.3" cy="292.6" r="1.61" fill="#f8dcf1"/><circle cx="14.0" cy="297.7" r="1.90" fill="#fffafe"/><circle cx="18.4" cy="295.9" r="1.46" fill="#e062d2"/><circle cx="24.0" cy="296.2" r="1.85" fill="#f8dcf1"/><circle cx="27.1" cy="296.2" r="1.86" fill="#f8dcf1"/><circle cx="31.4" cy="297.0" r="1.48" fill="#fffafe"/><circle cx="37.0" cy="296.7" r="1.88" fill="#fffafe"/><circle cx="40.4" cy="296.4" r="2.02" fill="#f8dcf1"/><circle cx="44.7" cy="296.7" r="1.89" fill="#f8dcf1"/><circle cx="49.2" cy="296.0" r="1.83" fill="#f8dcf1"/><circle cx="54.8" cy="296.0" r="2.04" fill="#e062d2"/><circle cx="58.1" cy="296.0" r="1.93" fill="#e062d2"/><circle cx="62.0" cy="296.3" r="1.64" fill="#fffafe"/><circle cx="67.6" cy="296.0" r="1.50" fill="#fffafe"/><circle cx="71.8" cy="297.0" r="1.76" fill="#f8dcf1"/><circle cx="75.2" cy="295.7" r="1.49" fill="#f8dcf1"/><circle cx="79.7" cy="296.1" r="1.56" fill="#e062d2"/><circle cx="85.0" cy="297.6" r="1.53" fill="#fffafe"/><circle cx="89.7" cy="295.8" r="1.86" fill="#f8dcf1"/><circle cx="94.2" cy="296.8" r="2.03" fill="#fffafe"/><circle cx="98.5" cy="295.6" r="1.64" fill="#f8dcf1"/><circle cx="101.4" cy="297.5" r="1.85" fill="#f8dcf1"/><circle cx="16.7" cy="300.9" r="1.86" fill="#e062d2"/><circle cx="21.3" cy="300.8" r="1.86" fill="#e062d2"/><circle cx="25.5" cy="301.1" r="1.43" fill="#fffafe"/><circle cx="29.2" cy="299.9" r="1.61" fill="#f8dcf1"/><circle cx="33.0" cy="300.2" r="1.98" fill="#f8dcf1"/><circle cx="38.6" cy="300.4" r="1.78" fill="#f8dcf1"/><circle cx="42.1" cy="300.7" r="2.02" fill="#e062d2"/><circle cx="47.4" cy="300.2" r="1.58" fill="#f8dcf1"/><circle cx="52.2" cy="300.4" r="1.77" fill="#f8dcf1"/><circle cx="56.1" cy="299.6" r="1.63" fill="#e062d2"/><circle cx="60.8" cy="301.1" r="1.48" fill="#fffafe"/><circle cx="65.3" cy="300.5" r="1.85" fill="#f8dcf1"/><circle cx="68.8" cy="300.9" r="1.65" fill="#f8dcf1"/><circle cx="73.7" cy="301.5" r="1.46" fill="#e062d2"/><circle cx="78.5" cy="300.2" r="1.97" fill="#f8dcf1"/><circle cx="82.3" cy="301.5" r="1.82" fill="#fffafe"/><circle cx="87.7" cy="301.2" r="1.82" fill="#f8dcf1"/><circle cx="92.2" cy="300.0" r="1.93" fill="#fffafe"/><circle cx="96.3" cy="301.2" r="1.84" fill="#f8dcf1"/><circle cx="99.7" cy="299.5" r="1.76" fill="#e062d2"/><circle cx="105.3" cy="300.4" r="1.67" fill="#f8dcf1"/><circle cx="14.2" cy="304.7" r="1.94" fill="#fffafe"/><circle cx="17.5" cy="304.5" r="1.60" fill="#fffafe"/><circle cx="23.7" cy="303.7" r="1.52" fill="#e062d2"/><circle cx="27.8" cy="304.8" r="1.45" fill="#f8dcf1"/><circle cx="31.7" cy="305.2" r="2.01" fill="#fffafe"/><circle cx="36.3" cy="303.3" r="1.79" fill="#f8dcf1"/><circle cx="39.7" cy="303.9" r="1.54" fill="#f8dcf1"/><circle cx="44.8" cy="305.1" r="1.75" fill="#f8dcf1"/><circle cx="50.1" cy="304.5" r="1.57" fill="#fffafe"/><circle cx="54.6" cy="304.3" r="1.97" fill="#f8dcf1"/><circle cx="58.4" cy="304.2" r="1.94" fill="#f8dcf1"/><circle cx="63.4" cy="303.8" r="1.54" fill="#f8dcf1"/><circle cx="66.9" cy="304.6" r="2.02" fill="#fffafe"/><circle cx="71.9" cy="303.6" r="2.03" fill="#f8dcf1"/><circle cx="75.3" cy="304.6" r="1.86" fill="#f8dcf1"/><circle cx="80.0" cy="304.5" r="1.45" fill="#fffafe"/><circle cx="84.2" cy="304.5" r="1.83" fill="#f8dcf1"/><circle cx="88.7" cy="303.9" r="1.99" fill="#e062d2"/><circle cx="93.5" cy="304.8" r="1.50" fill="#f8dcf1"/><circle cx="97.4" cy="304.3" r="2.01" fill="#e062d2"/><circle cx="102.5" cy="304.3" r="1.47" fill="#e062d2"/><circle cx="15.7" cy="308.4" r="1.65" fill="#f8dcf1"/><circle cx="21.7" cy="307.7" r="1.83" fill="#f8dcf1"/><circle cx="25.9" cy="309.1" r="1.59" fill="#e062d2"/><circle cx="30.7" cy="307.8" r="1.88" fill="#e062d2"/><circle cx="35.0" cy="308.4" r="2.02" fill="#e062d2"/><circle cx="37.9" cy="307.4" r="1.42" fill="#fffafe"/><circle cx="43.7" cy="308.0" r="1.84" fill="#f8dcf1"/><circle cx="47.5" cy="307.7" r="1.57" fill="#f8dcf1"/><circle cx="51.0" cy="307.4" r="1.73" fill="#f8dcf1"/><circle cx="55.9" cy="307.3" r="1.86" fill="#f8dcf1"/><circle cx="60.4" cy="307.3" r="1.87" fill="#f8dcf1"/><circle cx="64.4" cy="307.9" r="1.68" fill="#e062d2"/><circle cx="69.6" cy="308.4" r="2.02" fill="#e062d2"/><circle cx="73.5" cy="308.9" r="1.46" fill="#f8dcf1"/><circle cx="77.6" cy="308.5" r="1.70" fill="#f8dcf1"/><circle cx="82.4" cy="307.3" r="1.93" fill="#f8dcf1"/><circle cx="87.5" cy="308.5" r="1.88" fill="#e062d2"/><circle cx="91.2" cy="307.0" r="2.03" fill="#f8dcf1"/><circle cx="95.3" cy="309.0" r="1.89" fill="#fffafe"/><circle cx="100.1" cy="308.8" r="1.49" fill="#f8dcf1"/><circle cx="105.1" cy="307.8" r="1.51" fill="#fffafe"/><circle cx="15.0" cy="311.8" r="1.99" fill="#e062d2"/><circle cx="19.1" cy="311.1" r="1.85" fill="#e062d2"/><circle cx="23.3" cy="313.0" r="1.97" fill="#f8dcf1"/><circle cx="27.1" cy="311.9" r="1.66" fill="#f8dcf1"/><circle cx="31.0" cy="311.6" r="1.48" fill="#fffafe"/><circle cx="35.8" cy="312.4" r="1.82" fill="#e062d2"/><circle cx="40.5" cy="312.3" r="1.84" fill="#fffafe"/><circle cx="44.6" cy="310.9" r="1.57" fill="#e062d2"/><circle cx="48.4" cy="312.5" r="1.58" fill="#e062d2"/><circle cx="54.2" cy="311.2" r="1.72" fill="#f8dcf1"/><circle cx="58.2" cy="312.4" r="1.62" fill="#e062d2"/><circle cx="63.2" cy="311.6" r="1.62" fill="#f8dcf1"/><circle cx="67.3" cy="311.4" r="2.01" fill="#f8dcf1"/><circle cx="71.8" cy="312.6" r="1.66" fill="#e062d2"/><circle cx="74.8" cy="311.1" r="1.90" fill="#fffafe"/><circle cx="79.2" cy="312.6" r="1.95" fill="#f8dcf1"/><circle cx="85.5" cy="312.1" r="1.84" fill="#fffafe"/><circle cx="89.0" cy="312.4" r="1.46" fill="#fffafe"/><circle cx="93.6" cy="311.5" r="1.82" fill="#fffafe"/><circle cx="98.4" cy="313.0" r="1.59" fill="#f8dcf1"/><circle cx="103.1" cy="311.1" r="1.53" fill="#fffafe"/><circle cx="15.3" cy="315.4" r="1.53" fill="#f8dcf1"/><circle cx="20.3" cy="316.0" r="1.87" fill="#f8dcf1"/><circle cx="24.4" cy="316.7" r="1.75" fill="#f8dcf1"/><circle cx="29.1" cy="315.2" r="1.87" fill="#f8dcf1"/><circle cx="33.6" cy="315.7" r="1.40" fill="#f8dcf1"/><circle cx="37.6" cy="316.5" r="2.01" fill="#f8dcf1"/><circle cx="42.5" cy="315.7" r="1.70" fill="#f8dcf1"/><circle cx="47.0" cy="315.0" r="2.02" fill="#f8dcf1"/><circle cx="51.3" cy="315.2" r="1.65" fill="#f8dcf1"/><circle cx="56.3" cy="316.4" r="1.88" fill="#e062d2"/><circle cx="60.4" cy="315.5" r="1.89" fill="#f8dcf1"/><circle cx="65.8" cy="315.0" r="1.45" fill="#fffafe"/><circle cx="68.9" cy="316.3" r="1.62" fill="#f8dcf1"/><circle cx="74.7" cy="316.5" r="1.74" fill="#e062d2"/><circle cx="77.1" cy="315.9" r="2.01" fill="#f8dcf1"/><circle cx="82.8" cy="315.0" r="1.85" fill="#f8dcf1"/><circle cx="86.9" cy="316.8" r="1.96" fill="#f8dcf1"/><circle cx="91.6" cy="316.8" r="2.02" fill="#e062d2"/><circle cx="95.5" cy="315.9" r="1.76" fill="#e062d2"/><circle cx="100.9" cy="315.8" r="2.04" fill="#e062d2"/><circle cx="105.4" cy="316.4" r="1.48" fill="#f8dcf1"/><circle cx="14.2" cy="320.3" r="2.03" fill="#f8dcf1"/><circle cx="19.5" cy="319.9" r="1.79" fill="#f8dcf1"/><circle cx="23.2" cy="319.7" r="1.93" fill="#e062d2"/><circle cx="27.9" cy="320.3" r="1.51" fill="#e062d2"/><circle cx="31.3" cy="320.2" r="1.58" fill="#fffafe"/><circle cx="37.3" cy="320.3" r="1.71" fill="#e062d2"/><circle cx="41.2" cy="320.5" r="1.48" fill="#f8dcf1"/><circle cx="45.9" cy="320.7" r="1.66" fill="#e062d2"/><circle cx="50.1" cy="318.9" r="1.69" fill="#e062d2"/><circle cx="53.6" cy="318.8" r="2.00" fill="#f8dcf1"/><circle cx="57.4" cy="319.3" r="1.84" fill="#fffafe"/><circle cx="63.2" cy="319.9" r="1.52" fill="#f8dcf1"/><circle cx="67.1" cy="320.1" r="1.90" fill="#fffafe"/><circle cx="71.5" cy="320.4" r="1.89" fill="#f8dcf1"/><circle cx="75.9" cy="319.7" r="1.56" fill="#fffafe"/><circle cx="81.1" cy="319.4" r="1.70" fill="#e062d2"/><circle cx="84.5" cy="320.6" r="2.00" fill="#f8dcf1"/><circle cx="89.4" cy="318.9" r="1.67" fill="#fffafe"/><circle cx="94.0" cy="320.2" r="1.65" fill="#f8dcf1"/><circle cx="98.1" cy="319.8" r="1.93" fill="#f8dcf1"/><circle cx="102.8" cy="318.8" r="1.79" fill="#f8dcf1"/><circle cx="17.3" cy="322.9" r="1.51" fill="#f8dcf1"/><circle cx="19.7" cy="324.1" r="1.59" fill="#e062d2"/><circle cx="25.7" cy="323.8" r="1.69" fill="#e062d2"/><circle cx="30.3" cy="323.5" r="2.04" fill="#f8dcf1"/><circle cx="34.3" cy="322.7" r="1.77" fill="#fffafe"/><circle cx="37.6" cy="323.9" r="1.74" fill="#f8dcf1"/><circle cx="43.6" cy="323.1" r="1.87" fill="#f8dcf1"/><circle cx="47.4" cy="324.4" r="1.69" fill="#e062d2"/><circle cx="51.1" cy="324.5" r="1.67" fill="#f8dcf1"/><circle cx="54.9" cy="323.6" r="1.82" fill="#e062d2"/><circle cx="60.7" cy="322.4" r="1.41" fill="#f8dcf1"/><circle cx="64.9" cy="323.4" r="2.01" fill="#f8dcf1"/><circle cx="70.2" cy="323.0" r="1.62" fill="#f8dcf1"/><circle cx="73.2" cy="322.7" r="1.59" fill="#fffafe"/><circle cx="78.7" cy="322.7" r="1.52" fill="#f8dcf1"/><circle cx="83.4" cy="324.2" r="1.76" fill="#f8dcf1"/><circle cx="86.2" cy="324.0" r="1.54" fill="#e062d2"/><circle cx="92.0" cy="324.1" r="1.97" fill="#fffafe"/><circle cx="95.6" cy="323.6" r="1.66" fill="#f8dcf1"/><circle cx="100.2" cy="323.9" r="1.89" fill="#f8dcf1"/><circle cx="105.1" cy="323.6" r="1.90" fill="#e062d2"/><circle cx="14.9" cy="326.5" r="1.46" fill="#f8dcf1"/><circle cx="18.7" cy="326.4" r="1.58" fill="#f8dcf1"/><circle cx="23.1" cy="326.4" r="1.43" fill="#f8dcf1"/><circle cx="28.5" cy="327.7" r="1.43" fill="#f8dcf1"/><circle cx="31.7" cy="327.6" r="1.44" fill="#fffafe"/><circle cx="36.2" cy="327.1" r="1.89" fill="#f8dcf1"/><circle cx="40.2" cy="328.3" r="2.04" fill="#f8dcf1"/><circle cx="44.7" cy="326.9" r="1.61" fill="#fffafe"/><circle cx="49.7" cy="326.2" r="1.57" fill="#f8dcf1"/><circle cx="54.8" cy="327.9" r="1.77" fill="#f8dcf1"/><circle cx="57.3" cy="326.8" r="1.54" fill="#f8dcf1"/><circle cx="62.5" cy="328.1" r="2.00" fill="#fffafe"/><circle cx="66.5" cy="326.6" r="1.80" fill="#f8dcf1"/><circle cx="71.4" cy="327.3" r="1.46" fill="#f8dcf1"/><circle cx="76.7" cy="326.8" r="1.80" fill="#f8dcf1"/><circle cx="80.6" cy="328.1" r="1.47" fill="#f8dcf1"/><circle cx="83.5" cy="326.6" r="1.82" fill="#f8dcf1"/><circle cx="89.2" cy="326.7" r="1.46" fill="#e062d2"/><circle cx="93.0" cy="328.3" r="1.67" fill="#f8dcf1"/><circle cx="98.4" cy="327.7" r="1.68" fill="#f8dcf1"/><circle cx="101.2" cy="327.4" r="1.68" fill="#e062d2"/><circle cx="16.9" cy="331.7" r="2.01" fill="#f8dcf1"/><circle cx="21.3" cy="331.9" r="1.97" fill="#f8dcf1"/><circle cx="26.2" cy="330.3" r="1.44" fill="#f8dcf1"/><circle cx="29.4" cy="331.7" r="1.82" fill="#f8dcf1"/><circle cx="34.9" cy="330.7" r="1.65" fill="#f8dcf1"/><circle cx="38.8" cy="330.1" r="1.91" fill="#f8dcf1"/><circle cx="43.3" cy="330.4" r="1.64" fill="#f8dcf1"/><circle cx="47.6" cy="330.3" r="2.04" fill="#e062d2"/><circle cx="50.8" cy="331.9" r="1.75" fill="#e062d2"/><circle cx="55.8" cy="331.9" r="1.77" fill="#f8dcf1"/><circle cx="60.8" cy="330.8" r="2.05" fill="#f8dcf1"/><circle cx="64.0" cy="330.1" r="1.44" fill="#fffafe"/><circle cx="69.4" cy="331.5" r="1.86" fill="#f8dcf1"/><circle cx="74.4" cy="330.3" r="1.43" fill="#f8dcf1"/><circle cx="77.7" cy="331.1" r="1.68" fill="#f8dcf1"/><circle cx="82.0" cy="331.8" r="1.49" fill="#f8dcf1"/><circle cx="87.8" cy="330.1" r="1.64" fill="#f8dcf1"/><circle cx="91.4" cy="330.4" r="1.85" fill="#fffafe"/><circle cx="94.6" cy="330.4" r="1.66" fill="#e062d2"/><circle cx="100.0" cy="332.1" r="1.88" fill="#e062d2"/><circle cx="104.4" cy="331.2" r="1.77" fill="#fffafe"/><circle cx="13.8" cy="335.9" r="1.40" fill="#f8dcf1"/><circle cx="19.2" cy="335.7" r="1.62" fill="#f8dcf1"/><circle cx="23.6" cy="335.9" r="2.04" fill="#f8dcf1"/><circle cx="27.5" cy="334.7" r="1.57" fill="#e062d2"/><circle cx="30.8" cy="334.4" r="1.65" fill="#e062d2"/><circle cx="36.2" cy="333.8" r="1.77" fill="#f8dcf1"/><circle cx="39.5" cy="333.9" r="2.02" fill="#f8dcf1"/><circle cx="45.0" cy="334.7" r="1.41" fill="#f8dcf1"/><circle cx="48.7" cy="334.0" r="1.47" fill="#f8dcf1"/><circle cx="54.5" cy="334.3" r="1.73" fill="#fffafe"/><circle cx="58.2" cy="334.5" r="2.03" fill="#fffafe"/><circle cx="62.6" cy="334.2" r="1.78" fill="#fffafe"/><circle cx="67.3" cy="335.5" r="1.41" fill="#f8dcf1"/><circle cx="72.1" cy="335.9" r="1.71" fill="#e062d2"/><circle cx="75.6" cy="335.8" r="1.83" fill="#e062d2"/><circle cx="79.5" cy="334.1" r="1.41" fill="#e062d2"/><circle cx="83.9" cy="335.8" r="1.47" fill="#e062d2"/><circle cx="88.3" cy="335.5" r="1.49" fill="#f8dcf1"/><circle cx="94.1" cy="334.2" r="1.41" fill="#f8dcf1"/><circle cx="98.2" cy="334.6" r="1.63" fill="#fffafe"/><circle cx="103.1" cy="334.3" r="1.47" fill="#f8dcf1"/><circle cx="16.3" cy="339.6" r="1.95" fill="#f8dcf1"/><circle cx="21.7" cy="339.0" r="1.87" fill="#fffafe"/><circle cx="25.4" cy="337.7" r="1.63" fill="#f8dcf1"/><circle cx="29.5" cy="338.9" r="1.84" fill="#e062d2"/><circle cx="34.2" cy="337.9" r="1.61" fill="#e062d2"/><circle cx="38.4" cy="338.2" r="1.64" fill="#f8dcf1"/><circle cx="42.7" cy="338.3" r="1.81" fill="#f8dcf1"/><circle cx="46.7" cy="339.0" r="1.93" fill="#e062d2"/><circle cx="51.9" cy="337.7" r="1.59" fill="#f8dcf1"/><circle cx="54.9" cy="338.3" r="1.90" fill="#fffafe"/><circle cx="59.7" cy="339.1" r="1.97" fill="#e062d2"/><circle cx="65.2" cy="337.9" r="1.68" fill="#f8dcf1"/><circle cx="69.3" cy="338.0" r="1.65" fill="#f8dcf1"/><circle cx="73.8" cy="338.0" r="1.99" fill="#f8dcf1"/><circle cx="77.8" cy="338.7" r="2.01" fill="#e062d2"/><circle cx="82.6" cy="339.8" r="1.94" fill="#fffafe"/><circle cx="86.4" cy="339.8" r="1.68" fill="#f8dcf1"/><circle cx="92.1" cy="339.4" r="1.58" fill="#fffafe"/><circle cx="95.4" cy="339.6" r="1.94" fill="#f8dcf1"/><circle cx="100.6" cy="338.0" r="1.62" fill="#f8dcf1"/><circle cx="104.2" cy="338.1" r="2.00" fill="#f8dcf1"/><circle cx="15.2" cy="343.3" r="1.85" fill="#f8dcf1"/><circle cx="18.7" cy="341.9" r="2.04" fill="#f8dcf1"/><circle cx="22.3" cy="343.5" r="1.84" fill="#f8dcf1"/><circle cx="27.8" cy="342.1" r="1.90" fill="#f8dcf1"/><circle cx="31.5" cy="342.9" r="1.68" fill="#e062d2"/><circle cx="36.5" cy="343.4" r="1.40" fill="#f8dcf1"/><circle cx="39.8" cy="342.1" r="1.97" fill="#f8dcf1"/><circle cx="44.9" cy="343.1" r="2.02" fill="#f8dcf1"/><circle cx="50.1" cy="342.5" r="1.92" fill="#f8dcf1"/><circle cx="54.1" cy="342.2" r="1.53" fill="#fffafe"/><circle cx="58.0" cy="343.0" r="1.56" fill="#f8dcf1"/><circle cx="62.0" cy="343.3" r="1.61" fill="#f8dcf1"/><circle cx="67.1" cy="342.8" r="1.91" fill="#e062d2"/><circle cx="71.8" cy="342.2" r="1.55" fill="#f8dcf1"/><circle cx="75.9" cy="342.0" r="1.95" fill="#fffafe"/><circle cx="79.3" cy="341.9" r="1.42" fill="#e062d2"/><circle cx="85.6" cy="342.4" r="1.92" fill="#e062d2"/><circle cx="89.1" cy="343.6" r="1.58" fill="#e062d2"/><circle cx="93.1" cy="343.3" r="1.97" fill="#e062d2"/><circle cx="98.5" cy="341.5" r="1.92" fill="#e062d2"/><circle cx="101.3" cy="342.2" r="1.58" fill="#f8dcf1"/><circle cx="15.5" cy="345.3" r="1.88" fill="#e062d2"/><circle cx="21.7" cy="347.0" r="1.84" fill="#f8dcf1"/><circle cx="26.2" cy="346.3" r="1.91" fill="#fffafe"/><circle cx="30.1" cy="346.8" r="1.78" fill="#f8dcf1"/><circle cx="32.9" cy="346.5" r="1.80" fill="#f8dcf1"/><circle cx="38.6" cy="345.3" r="1.44" fill="#e062d2"/><circle cx="42.1" cy="347.2" r="1.76" fill="#f8dcf1"/><circle cx="46.7" cy="346.0" r="1.68" fill="#f8dcf1"/><circle cx="51.4" cy="345.5" r="1.45" fill="#e062d2"/><circle cx="56.8" cy="345.3" r="1.86" fill="#f8dcf1"/><circle cx="61.5" cy="346.0" r="1.53" fill="#fffafe"/><circle cx="65.0" cy="346.4" r="1.87" fill="#f8dcf1"/><circle cx="68.3" cy="346.4" r="1.57" fill="#f8dcf1"/><circle cx="73.0" cy="347.2" r="1.87" fill="#f8dcf1"/><circle cx="78.4" cy="346.2" r="1.99" fill="#fffafe"/><circle cx="83.0" cy="346.7" r="1.74" fill="#f8dcf1"/><circle cx="87.8" cy="347.1" r="1.74" fill="#fffafe"/><circle cx="91.6" cy="346.7" r="1.65" fill="#f8dcf1"/><circle cx="95.8" cy="346.8" r="2.05" fill="#e062d2"/><circle cx="99.5" cy="347.0" r="1.47" fill="#fffafe"/><circle cx="104.4" cy="347.0" r="1.43" fill="#e062d2"/><circle cx="13.9" cy="351.1" r="1.44" fill="#e062d2"/><circle cx="18.1" cy="351.0" r="1.82" fill="#e062d2"/><circle cx="23.6" cy="351.2" r="1.98" fill="#f8dcf1"/><circle cx="26.5" cy="350.0" r="1.54" fill="#f8dcf1"/><circle cx="31.5" cy="351.2" r="1.95" fill="#e062d2"/><circle cx="35.3" cy="350.1" r="2.04" fill="#f8dcf1"/><circle cx="40.1" cy="350.1" r="1.60" fill="#fffafe"/><circle cx="45.4" cy="349.8" r="1.62" fill="#e062d2"/><circle cx="48.5" cy="349.2" r="1.72" fill="#e062d2"/><circle cx="54.2" cy="350.1" r="1.45" fill="#fffafe"/><circle cx="58.4" cy="349.7" r="2.03" fill="#f8dcf1"/><circle cx="62.4" cy="350.2" r="1.93" fill="#f8dcf1"/><circle cx="67.2" cy="350.1" r="1.90" fill="#e062d2"/><circle cx="70.4" cy="351.0" r="1.68" fill="#e062d2"/><circle cx="75.1" cy="350.8" r="1.90" fill="#fffafe"/><circle cx="81.2" cy="350.4" r="1.95" fill="#e062d2"/><circle cx="85.1" cy="351.3" r="1.70" fill="#f8dcf1"/><circle cx="88.1" cy="349.2" r="1.48" fill="#e062d2"/><circle cx="93.9" cy="349.3" r="1.52" fill="#f8dcf1"/><circle cx="98.0" cy="350.5" r="1.86" fill="#f8dcf1"/><circle cx="101.1" cy="350.3" r="1.77" fill="#fffafe"/><circle cx="16.1" cy="353.0" r="1.66" fill="#f8dcf1"/><circle cx="19.9" cy="354.6" r="1.59" fill="#f8dcf1"/><circle cx="25.6" cy="354.0" r="1.93" fill="#fffafe"/><circle cx="28.5" cy="353.3" r="1.99" fill="#fffafe"/><circle cx="34.3" cy="353.7" r="2.03" fill="#fffafe"/><circle cx="38.2" cy="355.1" r="1.72" fill="#f8dcf1"/><circle cx="42.5" cy="353.1" r="1.63" fill="#f8dcf1"/><circle cx="47.4" cy="354.8" r="1.49" fill="#fffafe"/><circle cx="52.3" cy="353.3" r="1.86" fill="#fffafe"/><circle cx="56.5" cy="353.9" r="1.53" fill="#f8dcf1"/><circle cx="61.2" cy="354.1" r="1.58" fill="#f8dcf1"/><circle cx="63.8" cy="354.9" r="1.93" fill="#e062d2"/><circle cx="69.7" cy="353.3" r="2.05" fill="#f8dcf1"/><circle cx="73.0" cy="354.3" r="1.93" fill="#fffafe"/><circle cx="78.3" cy="354.6" r="1.78" fill="#f8dcf1"/><circle cx="82.5" cy="353.1" r="1.81" fill="#f8dcf1"/><circle cx="87.3" cy="354.3" r="1.84" fill="#f8dcf1"/><circle cx="90.7" cy="354.4" r="1.97" fill="#f8dcf1"/><circle cx="94.8" cy="353.2" r="1.52" fill="#f8dcf1"/><circle cx="100.4" cy="353.9" r="1.69" fill="#f8dcf1"/><circle cx="103.4" cy="354.8" r="2.03" fill="#f8dcf1"/><circle cx="13.6" cy="358.8" r="1.44" fill="#f8dcf1"/><circle cx="18.1" cy="357.7" r="1.42" fill="#f8dcf1"/><circle cx="22.3" cy="357.1" r="1.64" fill="#f8dcf1"/><circle cx="26.5" cy="357.6" r="1.41" fill="#e062d2"/><circle cx="32.1" cy="357.1" r="1.66" fill="#e062d2"/><circle cx="36.9" cy="356.8" r="1.87" fill="#e062d2"/><circle cx="40.8" cy="357.8" r="1.63" fill="#fffafe"/><circle cx="44.6" cy="358.5" r="1.61" fill="#f8dcf1"/><circle cx="50.3" cy="357.7" r="1.90" fill="#f8dcf1"/><circle cx="53.1" cy="358.5" r="1.55" fill="#e062d2"/><circle cx="59.1" cy="357.6" r="1.88" fill="#f8dcf1"/><circle cx="61.8" cy="357.4" r="1.53" fill="#f8dcf1"/><circle cx="67.0" cy="357.6" r="1.42" fill="#e062d2"/><circle cx="71.6" cy="357.4" r="1.80" fill="#fffafe"/><circle cx="76.5" cy="357.4" r="1.54" fill="#fffafe"/><circle cx="80.2" cy="357.3" r="1.81" fill="#e062d2"/><circle cx="84.0" cy="358.5" r="2.02" fill="#e062d2"/><circle cx="88.4" cy="358.5" r="2.03" fill="#f8dcf1"/><circle cx="93.1" cy="358.7" r="1.72" fill="#f8dcf1"/><circle cx="98.3" cy="356.9" r="1.70" fill="#e062d2"/><circle cx="101.2" cy="359.0" r="1.64" fill="#f8dcf1"/><circle cx="17.2" cy="362.3" r="1.48" fill="#f8dcf1"/><circle cx="20.7" cy="361.6" r="1.77" fill="#f8dcf1"/><circle cx="25.6" cy="362.4" r="1.68" fill="#f8dcf1"/><circle cx="29.1" cy="361.6" r="1.57" fill="#fffafe"/><circle cx="35.0" cy="361.6" r="1.43" fill="#f8dcf1"/><circle cx="38.8" cy="362.5" r="2.04" fill="#f8dcf1"/><circle cx="42.5" cy="360.8" r="1.43" fill="#fffafe"/><circle cx="47.1" cy="362.5" r="1.43" fill="#fffafe"/><circle cx="52.5" cy="362.7" r="1.48" fill="#e062d2"/><circle cx="55.9" cy="360.7" r="1.78" fill="#f8dcf1"/><circle cx="59.6" cy="362.3" r="1.94" fill="#f8dcf1"/><circle cx="64.4" cy="361.5" r="1.98" fill="#fffafe"/><circle cx="69.5" cy="362.6" r="1.63" fill="#e062d2"/><circle cx="72.5" cy="360.9" r="1.67" fill="#fffafe"/><circle cx="77.6" cy="361.0" r="2.05" fill="#fffafe"/><circle cx="82.3" cy="361.6" r="1.94" fill="#f8dcf1"/><circle cx="87.3" cy="362.3" r="1.88" fill="#f8dcf1"/><circle cx="91.5" cy="361.6" r="2.04" fill="#e062d2"/><circle cx="96.2" cy="362.4" r="1.99" fill="#f8dcf1"/><circle cx="99.0" cy="361.4" r="1.77" fill="#f8dcf1"/><circle cx="104.1" cy="360.8" r="1.71" fill="#e062d2"/><circle cx="14.3" cy="364.8" r="1.84" fill="#fffafe"/><circle cx="18.2" cy="364.5" r="1.83" fill="#f8dcf1"/><circle cx="22.9" cy="365.8" r="2.00" fill="#f8dcf1"/><circle cx="28.1" cy="366.3" r="1.84" fill="#f8dcf1"/><circle cx="32.4" cy="365.9" r="1.89" fill="#fffafe"/><circle cx="36.6" cy="366.3" r="1.43" fill="#f8dcf1"/><circle cx="39.9" cy="364.8" r="1.71" fill="#f8dcf1"/><circle cx="45.6" cy="366.3" r="1.80" fill="#fffafe"/><circle cx="50.4" cy="365.3" r="1.94" fill="#f8dcf1"/><circle cx="54.5" cy="366.0" r="1.79" fill="#f8dcf1"/><circle cx="57.9" cy="366.4" r="1.75" fill="#f8dcf1"/><circle cx="62.1" cy="365.5" r="1.80" fill="#e062d2"/><circle cx="67.4" cy="364.4" r="1.50" fill="#f8dcf1"/><circle cx="72.4" cy="364.5" r="2.00" fill="#f8dcf1"/><circle cx="75.7" cy="366.6" r="1.47" fill="#f8dcf1"/><circle cx="80.9" cy="365.6" r="1.88" fill="#fffafe"/><circle cx="85.5" cy="366.0" r="1.61" fill="#e062d2"/><circle cx="89.7" cy="366.5" r="1.99" fill="#f8dcf1"/><circle cx="92.8" cy="364.7" r="1.77" fill="#f8dcf1"/><circle cx="96.9" cy="364.8" r="1.48" fill="#f8dcf1"/><circle cx="102.8" cy="364.4" r="1.52" fill="#f8dcf1"/><circle cx="55.3" cy="352.0" r="3.5" fill="#fff8fe"/><circle cx="24.0" cy="298.6" r="2.7" fill="#fff8fe"/><circle cx="39.6" cy="329.9" r="3.4" fill="#fff8fe"/><circle cx="72.2" cy="282.8" r="3.0" fill="#fff8fe"/><circle cx="46.4" cy="334.8" r="3.5" fill="#fff8fe"/><circle cx="26.5" cy="279.3" r="1.31" fill="#f3d2f1"/><circle cx="26.5" cy="279.3" r="0.71" fill="#50288a"/><circle cx="29.3" cy="278.5" r="1.41" fill="#f3d2f1"/><circle cx="29.3" cy="278.5" r="0.81" fill="#50288a"/><circle cx="41.4" cy="277.5" r="1.50" fill="#f3d2f1"/><circle cx="41.4" cy="277.5" r="0.90" fill="#50288a"/><circle cx="66.5" cy="279.0" r="1.54" fill="#f3d2f1"/><circle cx="66.5" cy="279.0" r="0.94" fill="#50288a"/><circle cx="91.3" cy="277.5" r="1.56" fill="#f3d2f1"/><circle cx="91.3" cy="277.5" r="0.96" fill="#50288a"/><circle cx="97.7" cy="280.2" r="1.47" fill="#f3d2f1"/><circle cx="97.7" cy="280.2" r="0.87" fill="#50288a"/><circle cx="74.1" cy="278.6" r="1.47" fill="#f3d2f1"/><circle cx="74.1" cy="278.6" r="0.87" fill="#50288a"/><circle cx="90.2" cy="282.5" r="1.51" fill="#f3d2f1"/><circle cx="90.2" cy="282.5" r="0.91" fill="#50288a"/><circle cx="94.5" cy="278.9" r="1.42" fill="#f3d2f1"/><circle cx="94.5" cy="278.9" r="0.82" fill="#50288a"/><circle cx="45.8" cy="286.8" r="1.41" fill="#f3d2f1"/><circle cx="45.8" cy="286.8" r="0.81" fill="#50288a"/><circle cx="61.3" cy="284.9" r="1.52" fill="#f3d2f1"/><circle cx="61.3" cy="284.9" r="0.92" fill="#50288a"/><circle cx="67.5" cy="285.9" r="1.45" fill="#f3d2f1"/><circle cx="67.5" cy="285.9" r="0.85" fill="#50288a"/><circle cx="51.1" cy="287.4" r="1.30" fill="#f3d2f1"/><circle cx="51.1" cy="287.4" r="0.70" fill="#50288a"/><circle cx="79.9" cy="290.3" r="1.33" fill="#f3d2f1"/><circle cx="79.9" cy="290.3" r="0.73" fill="#50288a"/><circle cx="97.7" cy="288.6" r="1.34" fill="#f3d2f1"/><circle cx="97.7" cy="288.6" r="0.74" fill="#50288a"/><circle cx="102.6" cy="288.2" r="1.37" fill="#f3d2f1"/><circle cx="102.6" cy="288.2" r="0.77" fill="#50288a"/><circle cx="69.9" cy="294.2" r="1.58" fill="#f3d2f1"/><circle cx="69.9" cy="294.2" r="0.98" fill="#50288a"/><circle cx="80.9" cy="297.0" r="1.59" fill="#f3d2f1"/><circle cx="80.9" cy="297.0" r="0.99" fill="#50288a"/><circle cx="84.6" cy="298.0" r="1.30" fill="#f3d2f1"/><circle cx="84.6" cy="298.0" r="0.70" fill="#50288a"/><circle cx="14.7" cy="299.6" r="1.41" fill="#f3d2f1"/><circle cx="14.7" cy="299.6" r="0.81" fill="#50288a"/><circle cx="21.2" cy="299.7" r="1.54" fill="#f3d2f1"/><circle cx="21.2" cy="299.7" r="0.94" fill="#50288a"/><circle cx="33.1" cy="301.3" r="1.50" fill="#f3d2f1"/><circle cx="33.1" cy="301.3" r="0.90" fill="#50288a"/><circle cx="67.1" cy="300.0" r="1.45" fill="#f3d2f1"/><circle cx="67.1" cy="300.0" r="0.85" fill="#50288a"/><circle cx="100.7" cy="306.1" r="1.38" fill="#f3d2f1"/><circle cx="100.7" cy="306.1" r="0.78" fill="#50288a"/><circle cx="39.9" cy="308.0" r="1.43" fill="#f3d2f1"/><circle cx="39.9" cy="308.0" r="0.83" fill="#50288a"/><circle cx="46.5" cy="308.9" r="1.38" fill="#f3d2f1"/><circle cx="46.5" cy="308.9" r="0.78" fill="#50288a"/><circle cx="51.9" cy="306.7" r="1.54" fill="#f3d2f1"/><circle cx="51.9" cy="306.7" r="0.94" fill="#50288a"/><circle cx="94.2" cy="317.1" r="1.48" fill="#f3d2f1"/><circle cx="94.2" cy="317.1" r="0.88" fill="#50288a"/><circle cx="42.5" cy="319.8" r="1.31" fill="#f3d2f1"/><circle cx="42.5" cy="319.8" r="0.71" fill="#50288a"/><circle cx="58.7" cy="318.6" r="1.47" fill="#f3d2f1"/><circle cx="58.7" cy="318.6" r="0.87" fill="#50288a"/><circle cx="76.0" cy="317.8" r="1.45" fill="#f3d2f1"/><circle cx="76.0" cy="317.8" r="0.85" fill="#50288a"/><circle cx="95.3" cy="318.8" r="1.37" fill="#f3d2f1"/><circle cx="95.3" cy="318.8" r="0.77" fill="#50288a"/><circle cx="98.7" cy="318.9" r="1.47" fill="#f3d2f1"/><circle cx="98.7" cy="318.9" r="0.87" fill="#50288a"/><circle cx="21.4" cy="322.2" r="1.60" fill="#f3d2f1"/><circle cx="21.4" cy="322.2" r="1.00" fill="#50288a"/><circle cx="62.3" cy="321.6" r="1.57" fill="#f3d2f1"/><circle cx="62.3" cy="321.6" r="0.97" fill="#50288a"/><circle cx="66.1" cy="322.1" r="1.50" fill="#f3d2f1"/><circle cx="66.1" cy="322.1" r="0.90" fill="#50288a"/><circle cx="83.3" cy="325.2" r="1.50" fill="#f3d2f1"/><circle cx="83.3" cy="325.2" r="0.90" fill="#50288a"/><circle cx="93.8" cy="325.6" r="1.41" fill="#f3d2f1"/><circle cx="93.8" cy="325.6" r="0.81" fill="#50288a"/><circle cx="104.5" cy="323.5" r="1.49" fill="#f3d2f1"/><circle cx="104.5" cy="323.5" r="0.89" fill="#50288a"/><circle cx="15.9" cy="327.8" r="1.48" fill="#f3d2f1"/><circle cx="15.9" cy="327.8" r="0.88" fill="#50288a"/><circle cx="78.5" cy="329.4" r="1.37" fill="#f3d2f1"/><circle cx="78.5" cy="329.4" r="0.77" fill="#50288a"/><circle cx="27.4" cy="331.8" r="1.45" fill="#f3d2f1"/><circle cx="27.4" cy="331.8" r="0.85" fill="#50288a"/><circle cx="29.4" cy="331.9" r="1.36" fill="#f3d2f1"/><circle cx="29.4" cy="331.9" r="0.76" fill="#50288a"/><circle cx="37.4" cy="329.8" r="1.37" fill="#f3d2f1"/><circle cx="37.4" cy="329.8" r="0.77" fill="#50288a"/><circle cx="51.1" cy="333.3" r="1.53" fill="#f3d2f1"/><circle cx="51.1" cy="333.3" r="0.93" fill="#50288a"/><circle cx="102.3" cy="329.3" r="1.58" fill="#f3d2f1"/><circle cx="102.3" cy="329.3" r="0.98" fill="#50288a"/><circle cx="25.5" cy="334.4" r="1.43" fill="#f3d2f1"/><circle cx="25.5" cy="334.4" r="0.83" fill="#50288a"/><circle cx="50.6" cy="333.7" r="1.41" fill="#f3d2f1"/><circle cx="50.6" cy="333.7" r="0.81" fill="#50288a"/><circle cx="54.9" cy="332.4" r="1.54" fill="#f3d2f1"/><circle cx="54.9" cy="332.4" r="0.94" fill="#50288a"/><circle cx="81.6" cy="334.4" r="1.52" fill="#f3d2f1"/><circle cx="81.6" cy="334.4" r="0.92" fill="#50288a"/><circle cx="43.5" cy="337.9" r="1.56" fill="#f3d2f1"/><circle cx="43.5" cy="337.9" r="0.96" fill="#50288a"/><circle cx="69.7" cy="339.7" r="1.57" fill="#f3d2f1"/><circle cx="69.7" cy="339.7" r="0.97" fill="#50288a"/><circle cx="96.0" cy="338.3" r="1.45" fill="#f3d2f1"/><circle cx="96.0" cy="338.3" r="0.85" fill="#50288a"/><circle cx="99.1" cy="339.6" r="1.60" fill="#f3d2f1"/><circle cx="99.1" cy="339.6" r="1.00" fill="#50288a"/><circle cx="15.0" cy="342.6" r="1.56" fill="#f3d2f1"/><circle cx="15.0" cy="342.6" r="0.96" fill="#50288a"/><circle cx="35.4" cy="342.3" r="1.35" fill="#f3d2f1"/><circle cx="35.4" cy="342.3" r="0.75" fill="#50288a"/><circle cx="76.1" cy="341.1" r="1.43" fill="#f3d2f1"/><circle cx="76.1" cy="341.1" r="0.83" fill="#50288a"/><circle cx="84.8" cy="343.8" r="1.59" fill="#f3d2f1"/><circle cx="84.8" cy="343.8" r="0.99" fill="#50288a"/><circle cx="100.1" cy="342.2" r="1.60" fill="#f3d2f1"/><circle cx="100.1" cy="342.2" r="1.00" fill="#50288a"/><circle cx="28.1" cy="348.1" r="1.42" fill="#f3d2f1"/><circle cx="28.1" cy="348.1" r="0.82" fill="#50288a"/><circle cx="50.9" cy="345.5" r="1.37" fill="#f3d2f1"/><circle cx="50.9" cy="345.5" r="0.77" fill="#50288a"/><circle cx="69.1" cy="347.8" r="1.51" fill="#f3d2f1"/><circle cx="69.1" cy="347.8" r="0.91" fill="#50288a"/><circle cx="101.5" cy="347.5" r="1.48" fill="#f3d2f1"/><circle cx="101.5" cy="347.5" r="0.88" fill="#50288a"/><circle cx="102.5" cy="346.6" r="1.58" fill="#f3d2f1"/><circle cx="102.5" cy="346.6" r="0.98" fill="#50288a"/><circle cx="14.6" cy="350.5" r="1.31" fill="#f3d2f1"/><circle cx="14.6" cy="350.5" r="0.71" fill="#50288a"/><circle cx="67.7" cy="348.2" r="1.40" fill="#f3d2f1"/><circle cx="67.7" cy="348.2" r="0.80" fill="#50288a"/><circle cx="75.0" cy="350.2" r="1.34" fill="#f3d2f1"/><circle cx="75.0" cy="350.2" r="0.74" fill="#50288a"/><circle cx="24.3" cy="354.6" r="1.44" fill="#f3d2f1"/><circle cx="24.3" cy="354.6" r="0.84" fill="#50288a"/><circle cx="34.4" cy="352.1" r="1.55" fill="#f3d2f1"/><circle cx="34.4" cy="352.1" r="0.95" fill="#50288a"/><circle cx="62.1" cy="354.7" r="1.45" fill="#f3d2f1"/><circle cx="62.1" cy="354.7" r="0.85" fill="#50288a"/><circle cx="85.9" cy="356.4" r="1.44" fill="#f3d2f1"/><circle cx="85.9" cy="356.4" r="0.84" fill="#50288a"/><circle cx="20.5" cy="354.9" r="1.47" fill="#f3d2f1"/><circle cx="20.5" cy="354.9" r="0.87" fill="#50288a"/><circle cx="50.1" cy="357.8" r="1.48" fill="#f3d2f1"/><circle cx="50.1" cy="357.8" r="0.88" fill="#50288a"/><circle cx="57.9" cy="356.9" r="1.48" fill="#f3d2f1"/><circle cx="57.9" cy="356.9" r="0.88" fill="#50288a"/><circle cx="60.8" cy="358.1" r="1.57" fill="#f3d2f1"/><circle cx="60.8" cy="358.1" r="0.97" fill="#50288a"/><circle cx="67.0" cy="357.5" r="1.54" fill="#f3d2f1"/><circle cx="67.0" cy="357.5" r="0.94" fill="#50288a"/><circle cx="100.3" cy="359.3" r="1.42" fill="#f3d2f1"/><circle cx="100.3" cy="359.3" r="0.82" fill="#50288a"/><circle cx="23.9" cy="361.2" r="1.50" fill="#f3d2f1"/><circle cx="23.9" cy="361.2" r="0.90" fill="#50288a"/><circle cx="28.1" cy="362.4" r="1.38" fill="#f3d2f1"/><circle cx="28.1" cy="362.4" r="0.78" fill="#50288a"/><circle cx="71.5" cy="362.6" r="1.54" fill="#f3d2f1"/><circle cx="71.5" cy="362.6" r="0.94" fill="#50288a"/><circle cx="72.1" cy="359.6" r="1.60" fill="#f3d2f1"/><circle cx="72.1" cy="359.6" r="1.00" fill="#50288a"/><circle cx="79.6" cy="362.7" r="1.56" fill="#f3d2f1"/><circle cx="79.6" cy="362.7" r="0.96" fill="#50288a"/><circle cx="89.5" cy="363.4" r="1.52" fill="#f3d2f1"/><circle cx="89.5" cy="363.4" r="0.92" fill="#50288a"/><circle cx="55.6" cy="367.6" r="1.48" fill="#f3d2f1"/><circle cx="55.6" cy="367.6" r="0.88" fill="#50288a"/><circle cx="57.4" cy="368.6" r="1.50" fill="#f3d2f1"/><circle cx="57.4" cy="368.6" r="0.90" fill="#50288a"/><circle cx="96.7" cy="364.6" r="1.58" fill="#f3d2f1"/><circle cx="96.7" cy="364.6" r="0.98" fill="#50288a"/></g><rect x="18.6" y="281.3" width="80.6" height="81.3" fill="none" stroke="#1a1a1a" stroke-width="1.1"/>
<clipPath id="clip4"><rect x="113.8" y="281.3" width="81.2" height="81.3"/></clipPath><g clip-path="url(#clip4)"><rect x="113.8" y="281.3" width="81.2" height="81.3" fill="#d63ec6"/><circle cx="112.4" cy="279.0" r="1.21" fill="#e062d2"/><circle cx="115.0" cy="278.9" r="1.21" fill="#fffafe"/><circle cx="119.6" cy="277.6" r="1.00" fill="#f8dcf1"/><circle cx="123.1" cy="279.0" r="1.12" fill="#f8dcf1"/><circle cx="125.3" cy="278.9" r="1.00" fill="#f8dcf1"/><circle cx="129.7" cy="279.0" r="1.19" fill="#e062d2"/><circle cx="132.9" cy="277.7" r="1.25" fill="#fffafe"/><circle cx="135.3" cy="277.6" r="1.06" fill="#e062d2"/><circle cx="139.1" cy="278.0" r="1.35" fill="#f8dcf1"/><circle cx="143.0" cy="277.6" r="1.02" fill="#f8dcf1"/><circle cx="146.4" cy="277.6" r="1.07" fill="#fffafe"/><circle cx="149.2" cy="278.0" r="0.97" fill="#e062d2"/><circle cx="152.8" cy="278.3" r="1.22" fill="#f8dcf1"/><circle cx="156.2" cy="277.5" r="0.99" fill="#e062d2"/><circle cx="159.6" cy="279.1" r="1.08" fill="#e062d2"/><circle cx="163.4" cy="278.2" r="0.92" fill="#fffafe"/><circle cx="166.8" cy="278.4" r="1.00" fill="#e062d2"/><circle cx="169.9" cy="279.0" r="0.93" fill="#f8dcf1"/><circle cx="173.4" cy="278.1" r="1.11" fill="#e062d2"/><circle cx="176.6" cy="278.1" r="0.93" fill="#fffafe"/><circle cx="180.4" cy="278.9" r="1.31" fill="#e062d2"/><circle cx="184.3" cy="278.5" r="0.99" fill="#e062d2"/><circle cx="187.1" cy="278.2" r="1.10" fill="#f8dcf1"/><circle cx="189.5" cy="278.2" r="1.01" fill="#fffafe"/><circle cx="193.0" cy="277.7" r="1.26" fill="#e062d2"/><circle cx="197.7" cy="277.8" r="1.09" fill="#e062d2"/><circle cx="110.8" cy="281.9" r="1.13" fill="#e062d2"/><circle cx="113.4" cy="281.8" r="1.10" fill="#e062d2"/><circle cx="116.6" cy="281.2" r="1.32" fill="#fffafe"/><circle cx="121.1" cy="280.7" r="1.02" fill="#e062d2"/><circle cx="124.1" cy="280.6" r="1.23" fill="#e062d2"/><circle cx="126.6" cy="280.9" r="1.18" fill="#e062d2"/><circle cx="130.6" cy="281.9" r="0.93" fill="#e062d2"/><circle cx="134.6" cy="281.3" r="1.20" fill="#e062d2"/><circle cx="138.4" cy="281.8" r="0.99" fill="#e062d2"/><circle cx="141.8" cy="280.8" r="1.13" fill="#e062d2"/><circle cx="144.6" cy="280.9" r="0.91" fill="#e062d2"/><circle cx="148.6" cy="281.6" r="1.15" fill="#e062d2"/><circle cx="150.7" cy="281.6" r="0.92" fill="#f8dcf1"/><circle cx="155.3" cy="280.7" r="0.94" fill="#e062d2"/><circle cx="158.1" cy="281.6" r="1.23" fill="#e062d2"/><circle cx="161.4" cy="281.1" r="1.27" fill="#f8dcf1"/><circle cx="164.4" cy="282.1" r="0.98" fill="#e062d2"/><circle cx="168.1" cy="281.3" r="0.99" fill="#e062d2"/><circle cx="171.2" cy="281.0" r="1.19" fill="#f8dcf1"/><circle cx="175.6" cy="280.9" r="1.08" fill="#e062d2"/><circle cx="177.9" cy="280.7" r="1.27" fill="#e062d2"/><circle cx="181.4" cy="280.6" r="1.09" fill="#e062d2"/><circle cx="185.0" cy="282.0" r="0.95" fill="#e062d2"/><circle cx="188.5" cy="281.1" r="1.18" fill="#fffafe"/><circle cx="191.2" cy="280.6" r="1.19" fill="#e062d2"/><circle cx="194.6" cy="281.3" r="1.29" fill="#fffafe"/><circle cx="111.5" cy="285.0" r="1.27" fill="#f8dcf1"/><circle cx="115.2" cy="284.8" r="1.12" fill="#f8dcf1"/><circle cx="119.0" cy="283.8" r="0.93" fill="#e062d2"/><circle cx="122.6" cy="283.7" r="0.99" fill="#e062d2"/><circle cx="126.5" cy="283.9" r="1.11" fill="#f8dcf1"/><circle cx="129.3" cy="283.5" r="1.18" fill="#fffafe"/><circle cx="132.2" cy="283.9" r="1.14" fill="#e062d2"/><circle cx="136.6" cy="284.5" r="1.11" fill="#f8dcf1"/><circle cx="139.0" cy="284.0" r="0.95" fill="#e062d2"/><circle cx="142.1" cy="283.5" r="1.29" fill="#f8dcf1"/><circle cx="146.9" cy="283.5" r="0.93" fill="#e062d2"/><circle cx="149.8" cy="285.0" r="0.99" fill="#fffafe"/><circle cx="152.6" cy="283.5" r="0.91" fill="#e062d2"/><circle cx="156.8" cy="284.7" r="1.19" fill="#e062d2"/><circle cx="159.4" cy="283.6" r="1.01" fill="#e062d2"/><circle cx="163.8" cy="284.9" r="1.14" fill="#fffafe"/><circle cx="166.6" cy="284.5" r="0.96" fill="#f8dcf1"/><circle cx="170.7" cy="284.6" r="1.01" fill="#e062d2"/><circle cx="174.1" cy="283.7" r="0.90" fill="#fffafe"/><circle cx="176.1" cy="284.2" r="1.01" fill="#fffafe"/><circle cx="179.3" cy="283.7" r="1.03" fill="#e062d2"/><circle cx="182.8" cy="284.1" r="1.20" fill="#f8dcf1"/><circle cx="187.3" cy="284.4" r="1.00" fill="#f8dcf1"/><circle cx="190.2" cy="284.3" r="1.01" fill="#fffafe"/><circle cx="193.4" cy="285.1" r="0.94" fill="#f8dcf1"/><circle cx="196.7" cy="284.4" r="1.12" fill="#e062d2"/><circle cx="110.0" cy="286.8" r="1.09" fill="#e062d2"/><circle cx="113.4" cy="286.4" r="1.34" fill="#e062d2"/><circle cx="117.8" cy="286.4" r="1.04" fill="#e062d2"/><circle cx="120.2" cy="286.4" r="1.25" fill="#e062d2"/><circle cx="123.7" cy="286.9" r="1.01" fill="#e062d2"/><circle cx="126.7" cy="288.0" r="1.16" fill="#e062d2"/><circle cx="131.6" cy="287.1" r="0.99" fill="#fffafe"/><circle cx="135.0" cy="287.5" r="0.94" fill="#e062d2"/><circle cx="136.9" cy="287.5" r="0.95" fill="#e062d2"/><circle cx="141.5" cy="287.4" r="1.01" fill="#fffafe"/><circle cx="143.6" cy="287.8" r="1.31" fill="#e062d2"/><circle cx="148.3" cy="287.7" r="1.13" fill="#f8dcf1"/><circle cx="150.8" cy="286.5" r="1.31" fill="#e062d2"/><circle cx="155.1" cy="287.5" r="1.06" fill="#e062d2"/><circle cx="158.1" cy="287.0" r="1.19" fill="#fffafe"/><circle cx="161.9" cy="287.0" r="1.32" fill="#f8dcf1"/><circle cx="165.4" cy="287.2" r="0.95" fill="#e062d2"/><circle cx="168.1" cy="288.0" r="1.01" fill="#fffafe"/><circle cx="172.0" cy="287.8" r="0.91" fill="#e062d2"/><circle cx="175.3" cy="287.0" r="1.12" fill="#e062d2"/><circle cx="179.1" cy="287.3" r="1.10" fill="#fffafe"/><circle cx="182.0" cy="286.6" r="1.31" fill="#e062d2"/><circle cx="185.1" cy="287.7" r="1.34" fill="#e062d2"/><circle cx="188.9" cy="286.9" r="0.92" fill="#e062d2"/><circle cx="192.0" cy="286.6" r="1.15" fill="#e062d2"/><circle cx="195.5" cy="287.1" r="0.98" fill="#e062d2"/><circle cx="112.5" cy="289.4" r="1.05" fill="#e062d2"/><circle cx="115.6" cy="290.3" r="1.24" fill="#fffafe"/><circle cx="119.4" cy="289.7" r="1.04" fill="#f8dcf1"/><circle cx="122.2" cy="291.0" r="1.00" fill="#e062d2"/><circle cx="125.0" cy="289.6" r="1.17" fill="#f8dcf1"/><circle cx="128.9" cy="290.5" r="1.32" fill="#e062d2"/><circle cx="132.7" cy="290.9" r="1.24" fill="#f8dcf1"/><circle cx="135.9" cy="289.9" r="1.02" fill="#e062d2"/><circle cx="139.5" cy="290.2" r="1.10" fill="#e062d2"/><circle cx="143.5" cy="290.4" r="1.08" fill="#f8dcf1"/><circle cx="146.6" cy="290.2" r="1.20" fill="#f8dcf1"/><circle cx="148.7" cy="289.9" r="1.26" fill="#f8dcf1"/><circle cx="153.4" cy="290.8" r="1.12" fill="#e062d2"/><circle cx="157.0" cy="289.8" r="1.28" fill="#e062d2"/><circle cx="159.4" cy="290.3" r="1.20" fill="#f8dcf1"/><circle cx="163.1" cy="289.4" r="1.28" fill="#fffafe"/><circle cx="166.2" cy="290.9" r="1.04" fill="#e062d2"/><circle cx="169.8" cy="289.4" r="0.96" fill="#fffafe"/><circle cx="173.6" cy="290.1" r="0.96" fill="#e062d2"/><circle cx="176.0" cy="290.6" r="1.24" fill="#f8dcf1"/><circle cx="179.7" cy="290.4" r="0.98" fill="#e062d2"/><circle cx="183.0" cy="290.8" r="0.93" fill="#f8dcf1"/><circle cx="187.3" cy="290.6" r="1.18" fill="#e062d2"/><circle cx="189.7" cy="289.5" r="0.91" fill="#fffafe"/><circle cx="194.0" cy="289.7" r="1.14" fill="#e062d2"/><circle cx="196.9" cy="290.2" r="1.34" fill="#e062d2"/><circle cx="111.0" cy="292.6" r="1.35" fill="#e062d2"/><circle cx="113.5" cy="292.3" r="1.25" fill="#e062d2"/><circle cx="118.0" cy="292.4" r="1.27" fill="#e062d2"/><circle cx="120.6" cy="293.6" r="1.06" fill="#f8dcf1"/><circle cx="124.8" cy="293.6" r="1.13" fill="#f8dcf1"/><circle cx="126.9" cy="293.6" r="1.17" fill="#e062d2"/><circle cx="130.6" cy="293.7" r="1.21" fill="#e062d2"/><circle cx="134.4" cy="292.4" r="0.99" fill="#f8dcf1"/><circle cx="137.0" cy="293.1" r="1.29" fill="#f8dcf1"/><circle cx="140.2" cy="292.3" r="1.04" fill="#e062d2"/><circle cx="145.2" cy="292.9" r="0.95" fill="#fffafe"/><circle cx="147.3" cy="293.6" r="1.24" fill="#f8dcf1"/><circle cx="150.5" cy="293.8" r="1.15" fill="#e062d2"/><circle cx="154.4" cy="293.3" r="0.92" fill="#e062d2"/><circle cx="157.9" cy="292.3" r="1.02" fill="#fffafe"/><circle cx="161.2" cy="293.9" r="0.95" fill="#e062d2"/><circle cx="165.4" cy="293.9" r="1.05" fill="#fffafe"/><circle cx="167.4" cy="292.3" r="1.34" fill="#e062d2"/><circle cx="171.4" cy="294.0" r="0.99" fill="#f8dcf1"/><circle cx="174.5" cy="294.0" r="1.24" fill="#e062d2"/><circle cx="179.1" cy="293.7" r="0.97" fill="#e062d2"/><circle cx="181.7" cy="292.4" r="1.14" fill="#e062d2"/><circle cx="184.9" cy="293.8" r="1.12" fill="#f8dcf1"/><circle cx="188.3" cy="292.5" r="1.35" fill="#f8dcf1"/><circle cx="191.5" cy="292.8" r="1.23" fill="#f8dcf1"/><circle cx="195.0" cy="293.5" r="1.22" fill="#f8dcf1"/><circle cx="111.4" cy="296.6" r="1.08" fill="#fffafe"/><circle cx="115.6" cy="296.8" r="1.14" fill="#e062d2"/><circle cx="118.2" cy="295.5" r="1.33" fill="#e062d2"/><circle cx="121.8" cy="296.7" r="0.99" fill="#f8dcf1"/><circle cx="125.5" cy="296.7" r="1.06" fill="#f8dcf1"/><circle cx="129.3" cy="296.6" r="1.33" fill="#e062d2"/><circle cx="132.3" cy="296.1" r="0.94" fill="#f8dcf1"/><circle cx="135.3" cy="296.3" r="0.92" fill="#fffafe"/><circle cx="139.4" cy="296.2" r="0.92" fill="#fffafe"/><circle cx="143.1" cy="295.9" r="1.25" fill="#e062d2"/><circle cx="145.5" cy="295.5" r="1.17" fill="#e062d2"/><circle cx="148.9" cy="295.3" r="1.32" fill="#e062d2"/><circle cx="152.2" cy="296.3" r="0.92" fill="#f8dcf1"/><circle cx="155.8" cy="295.7" r="1.17" fill="#fffafe"/><circle cx="160.2" cy="295.3" r="1.26" fill="#e062d2"/><circle cx="162.3" cy="296.5" r="0.95" fill="#e062d2"/><circle cx="166.6" cy="295.6" r="1.30" fill="#f8dcf1"/><circle cx="170.0" cy="295.4" r="1.11" fill="#e062d2"/><circle cx="173.8" cy="296.2" r="1.14" fill="#e062d2"/><circle cx="177.2" cy="295.9" r="1.17" fill="#e062d2"/><circle cx="180.9" cy="296.7" r="1.29" fill="#e062d2"/><circle cx="184.3" cy="296.1" r="1.30" fill="#e062d2"/><circle cx="187.3" cy="296.8" r="1.14" fill="#e062d2"/><circle cx="190.7" cy="296.1" r="1.33" fill="#e062d2"/><circle cx="192.9" cy="296.3" r="1.23" fill="#fffafe"/><circle cx="197.3" cy="295.8" r="0.93" fill="#e062d2"/><circle cx="110.2" cy="299.2" r="1.15" fill="#f8dcf1"/><circle cx="113.5" cy="298.3" r="1.33" fill="#e062d2"/><circle cx="117.1" cy="298.2" r="1.10" fill="#f8dcf1"/><circle cx="120.0" cy="299.1" r="0.97" fill="#f8dcf1"/><circle cx="123.3" cy="298.5" r="1.20" fill="#e062d2"/><circle cx="128.0" cy="298.7" r="1.30" fill="#e062d2"/><circle cx="131.0" cy="298.9" r="1.29" fill="#e062d2"/><circle cx="135.0" cy="298.7" r="1.01" fill="#e062d2"/><circle cx="137.0" cy="298.4" r="1.27" fill="#f8dcf1"/><circle cx="141.0" cy="299.9" r="0.95" fill="#fffafe"/><circle cx="145.0" cy="299.7" r="1.32" fill="#e062d2"/><circle cx="148.1" cy="299.4" r="0.93" fill="#f8dcf1"/><circle cx="151.1" cy="298.4" r="0.95" fill="#f8dcf1"/><circle cx="154.5" cy="298.4" r="0.95" fill="#e062d2"/><circle cx="158.0" cy="298.9" r="1.08" fill="#e062d2"/><circle cx="161.5" cy="298.7" r="0.99" fill="#e062d2"/><circle cx="164.6" cy="299.3" r="1.11" fill="#e062d2"/><circle cx="167.6" cy="299.7" r="1.15" fill="#e062d2"/><circle cx="170.9" cy="298.8" r="1.27" fill="#e062d2"/><circle cx="174.3" cy="298.5" r="1.07" fill="#e062d2"/><circle cx="177.8" cy="299.7" r="1.03" fill="#e062d2"/><circle cx="182.2" cy="298.6" r="1.09" fill="#e062d2"/><circle cx="184.6" cy="299.7" r="1.23" fill="#f8dcf1"/><circle cx="188.4" cy="298.8" r="0.92" fill="#f8dcf1"/><circle cx="191.2" cy="298.8" r="1.05" fill="#e062d2"/><circle cx="194.6" cy="298.7" r="1.15" fill="#e062d2"/><circle cx="111.8" cy="302.8" r="1.15" fill="#f8dcf1"/><circle cx="116.1" cy="302.3" r="1.11" fill="#e062d2"/><circle cx="119.4" cy="302.0" r="1.11" fill="#e062d2"/><circle cx="122.8" cy="302.6" r="0.93" fill="#f8dcf1"/><circle cx="125.5" cy="302.8" r="1.09" fill="#e062d2"/><circle cx="129.4" cy="301.2" r="0.92" fill="#e062d2"/><circle cx="132.3" cy="301.9" r="1.25" fill="#e062d2"/><circle cx="135.1" cy="301.5" r="0.95" fill="#f8dcf1"/><circle cx="140.1" cy="302.0" r="1.12" fill="#e062d2"/><circle cx="143.0" cy="302.0" r="1.19" fill="#f8dcf1"/><circle cx="145.6" cy="301.3" r="1.04" fill="#e062d2"/><circle cx="150.0" cy="301.9" r="1.24" fill="#fffafe"/><circle cx="152.1" cy="301.4" r="1.22" fill="#e062d2"/><circle cx="155.8" cy="302.8" r="1.32" fill="#e062d2"/><circle cx="159.0" cy="301.8" r="1.30" fill="#e062d2"/><circle cx="162.8" cy="302.8" r="0.91" fill="#fffafe"/><circle cx="166.6" cy="302.2" r="1.01" fill="#e062d2"/><circle cx="169.3" cy="301.7" r="1.22" fill="#fffafe"/><circle cx="173.0" cy="302.2" r="1.12" fill="#f8dcf1"/><circle cx="176.4" cy="302.8" r="1.10" fill="#e062d2"/><circle cx="179.6" cy="302.1" r="1.10" fill="#e062d2"/><circle cx="183.3" cy="301.8" r="0.95" fill="#e062d2"/><circle cx="187.1" cy="302.8" r="1.24" fill="#e062d2"/><circle cx="190.4" cy="302.6" r="0.90" fill="#e062d2"/><circle cx="193.3" cy="302.3" r="1.06" fill="#e062d2"/><circle cx="196.9" cy="301.7" r="1.05" fill="#e062d2"/><circle cx="109.8" cy="304.3" r="1.13" fill="#fffafe"/><circle cx="113.5" cy="304.5" r="1.16" fill="#f8dcf1"/><circle cx="116.7" cy="305.3" r="1.23" fill="#e062d2"/><circle cx="120.5" cy="305.2" r="1.32" fill="#fffafe"/><circle cx="124.3" cy="304.8" r="1.26" fill="#e062d2"/><circle cx="127.9" cy="304.8" r="1.30" fill="#e062d2"/><circle cx="131.1" cy="304.9" r="1.04" fill="#f8dcf1"/><circle cx="134.8" cy="304.1" r="1.16" fill="#e062d2"/><circle cx="138.0" cy="304.8" r="1.07" fill="#e062d2"/><circle cx="140.8" cy="305.0" r="1.19" fill="#f8dcf1"/><circle cx="145.2" cy="305.2" r="1.33" fill="#e062d2"/><circle cx="147.3" cy="304.4" r="1.01" fill="#e062d2"/><circle cx="150.4" cy="305.4" r="1.02" fill="#e062d2"/><circle cx="154.3" cy="305.8" r="1.00" fill="#e062d2"/><circle cx="157.2" cy="305.6" r="1.02" fill="#e062d2"/><circle cx="161.1" cy="305.5" r="1.21" fill="#f8dcf1"/><circle cx="164.9" cy="305.5" r="1.10" fill="#f8dcf1"/><circle cx="167.9" cy="305.7" r="1.23" fill="#f8dcf1"/><circle cx="171.7" cy="304.4" r="1.27" fill="#e062d2"/><circle cx="174.6" cy="304.2" r="1.16" fill="#e062d2"/><circle cx="178.1" cy="304.2" r="1.11" fill="#e062d2"/><circle cx="182.3" cy="304.4" r="0.92" fill="#fffafe"/><circle cx="185.6" cy="305.7" r="1.22" fill="#e062d2"/><circle cx="188.0" cy="304.2" r="1.11" fill="#f8dcf1"/><circle cx="191.2" cy="305.4" r="1.17" fill="#f8dcf1"/><circle cx="195.0" cy="304.6" r="0.93" fill="#f8dcf1"/><circle cx="111.9" cy="308.5" r="0.91" fill="#fffafe"/><circle cx="115.1" cy="308.8" r="0.91" fill="#e062d2"/><circle cx="118.1" cy="308.0" r="1.11" fill="#e062d2"/><circle cx="122.1" cy="308.1" r="1.28" fill="#e062d2"/><circle cx="126.5" cy="307.4" r="1.30" fill="#e062d2"/><circle cx="129.1" cy="307.4" r="1.27" fill="#f8dcf1"/><circle cx="133.1" cy="307.7" r="0.96" fill="#e062d2"/><circle cx="136.4" cy="308.7" r="1.31" fill="#e062d2"/><circle cx="138.9" cy="308.6" r="1.13" fill="#e062d2"/><circle cx="142.2" cy="307.3" r="1.16" fill="#f8dcf1"/><circle cx="146.9" cy="308.0" r="1.10" fill="#f8dcf1"/><circle cx="149.0" cy="307.9" r="1.08" fill="#e062d2"/><circle cx="153.0" cy="307.2" r="1.01" fill="#e062d2"/><circle cx="156.9" cy="307.9" r="1.29" fill="#e062d2"/><circle cx="158.9" cy="308.1" r="1.15" fill="#f8dcf1"/><circle cx="163.1" cy="308.2" r="1.20" fill="#f8dcf1"/><circle cx="165.7" cy="307.9" r="1.16" fill="#f8dcf1"/><circle cx="169.6" cy="307.6" r="1.08" fill="#e062d2"/><circle cx="172.7" cy="308.4" r="1.24" fill="#f8dcf1"/><circle cx="176.3" cy="307.5" r="1.26" fill="#f8dcf1"/><circle cx="179.9" cy="307.8" r="1.09" fill="#e062d2"/><circle cx="183.1" cy="308.0" r="0.96" fill="#fffafe"/><circle cx="187.0" cy="308.3" r="1.17" fill="#f8dcf1"/><circle cx="189.8" cy="308.6" r="1.27" fill="#f8dcf1"/><circle cx="194.4" cy="307.6" r="1.11" fill="#e062d2"/><circle cx="197.5" cy="308.2" r="0.93" fill="#f8dcf1"/><circle cx="110.1" cy="311.6" r="0.92" fill="#e062d2"/><circle cx="114.0" cy="311.4" r="1.07" fill="#f8dcf1"/><circle cx="117.5" cy="311.1" r="1.34" fill="#e062d2"/><circle cx="120.4" cy="310.8" r="1.16" fill="#e062d2"/><circle cx="123.9" cy="310.6" r="1.00" fill="#fffafe"/><circle cx="128.2" cy="310.6" r="1.12" fill="#f8dcf1"/><circle cx="130.5" cy="311.7" r="0.95" fill="#e062d2"/><circle cx="134.2" cy="310.4" r="1.31" fill="#fffafe"/><circle cx="137.2" cy="311.3" r="0.99" fill="#f8dcf1"/><circle cx="140.6" cy="310.8" r="1.23" fill="#e062d2"/><circle cx="145.1" cy="310.8" r="1.26" fill="#e062d2"/><circle cx="147.5" cy="311.0" r="1.06" fill="#e062d2"/><circle cx="150.6" cy="311.2" r="1.27" fill="#e062d2"/><circle cx="155.2" cy="311.2" r="1.34" fill="#e062d2"/><circle cx="158.0" cy="311.5" r="1.00" fill="#e062d2"/><circle cx="160.7" cy="310.5" r="0.98" fill="#e062d2"/><circle cx="165.1" cy="311.5" r="1.35" fill="#f8dcf1"/><circle cx="168.4" cy="311.7" r="1.21" fill="#f8dcf1"/><circle cx="171.5" cy="311.5" r="1.25" fill="#fffafe"/><circle cx="175.2" cy="310.4" r="1.01" fill="#e062d2"/><circle cx="178.7" cy="310.4" r="1.17" fill="#e062d2"/><circle cx="181.3" cy="311.2" r="1.09" fill="#f8dcf1"/><circle cx="185.5" cy="311.6" r="1.15" fill="#e062d2"/><circle cx="188.3" cy="310.9" r="1.30" fill="#e062d2"/><circle cx="192.5" cy="310.2" r="1.14" fill="#e062d2"/><circle cx="195.1" cy="310.4" r="1.01" fill="#f8dcf1"/><circle cx="112.7" cy="314.1" r="1.00" fill="#e062d2"/><circle cx="115.0" cy="313.9" r="1.05" fill="#f8dcf1"/><circle cx="119.6" cy="313.3" r="1.25" fill="#e062d2"/><circle cx="121.8" cy="314.1" r="1.14" fill="#f8dcf1"/><circle cx="125.2" cy="314.1" r="1.02" fill="#f8dcf1"/><circle cx="129.5" cy="313.1" r="1.15" fill="#f8dcf1"/><circle cx="132.3" cy="313.3" r="1.34" fill="#f8dcf1"/><circle cx="136.4" cy="313.8" r="1.17" fill="#f8dcf1"/><circle cx="139.1" cy="314.3" r="1.27" fill="#f8dcf1"/><circle cx="142.7" cy="313.6" r="1.12" fill="#fffafe"/><circle cx="146.5" cy="313.3" r="1.13" fill="#e062d2"/><circle cx="149.1" cy="314.5" r="1.01" fill="#fffafe"/><circle cx="152.8" cy="313.7" r="1.32" fill="#f8dcf1"/><circle cx="157.1" cy="313.9" r="1.08" fill="#e062d2"/><circle cx="160.5" cy="314.1" r="1.05" fill="#e062d2"/><circle cx="162.4" cy="313.1" r="1.23" fill="#fffafe"/><circle cx="166.7" cy="313.2" r="1.14" fill="#e062d2"/><circle cx="169.6" cy="314.3" r="1.14" fill="#f8dcf1"/><circle cx="173.5" cy="313.3" r="1.32" fill="#f8dcf1"/><circle cx="176.0" cy="314.1" r="1.28" fill="#e062d2"/><circle cx="179.7" cy="314.0" r="1.14" fill="#e062d2"/><circle cx="183.2" cy="313.3" r="1.12" fill="#fffafe"/><circle cx="186.5" cy="313.5" r="1.24" fill="#fffafe"/><circle cx="191.1" cy="314.2" r="1.23" fill="#e062d2"/><circle cx="194.2" cy="313.8" r="1.24" fill="#e062d2"/><circle cx="197.5" cy="314.2" r="1.11" fill="#e062d2"/><circle cx="110.5" cy="317.5" r="1.06" fill="#e062d2"/><circle cx="113.2" cy="316.6" r="1.26" fill="#e062d2"/><circle cx="117.9" cy="316.9" r="0.99" fill="#e062d2"/><circle cx="120.9" cy="316.1" r="1.02" fill="#f8dcf1"/><circle cx="123.2" cy="316.0" r="1.12" fill="#fffafe"/><circle cx="127.4" cy="316.4" r="1.19" fill="#e062d2"/><circle cx="130.1" cy="317.3" r="1.31" fill="#f8dcf1"/><circle cx="134.2" cy="317.3" r="1.01" fill="#e062d2"/><circle cx="137.5" cy="316.2" r="1.31" fill="#e062d2"/><circle cx="141.4" cy="317.2" r="1.05" fill="#f8dcf1"/><circle cx="145.1" cy="317.0" r="0.95" fill="#e062d2"/><circle cx="148.6" cy="317.2" r="0.96" fill="#fffafe"/><circle cx="152.0" cy="317.6" r="1.25" fill="#f8dcf1"/><circle cx="154.6" cy="317.0" r="0.96" fill="#e062d2"/><circle cx="158.3" cy="317.0" r="1.24" fill="#f8dcf1"/><circle cx="160.9" cy="316.8" r="1.05" fill="#e062d2"/><circle cx="164.3" cy="317.6" r="1.07" fill="#e062d2"/><circle cx="167.5" cy="317.2" r="1.04" fill="#fffafe"/><circle cx="170.9" cy="317.5" r="0.92" fill="#fffafe"/><circle cx="175.6" cy="316.1" r="1.09" fill="#f8dcf1"/><circle cx="178.8" cy="317.3" r="1.00" fill="#f8dcf1"/><circle cx="181.3" cy="317.0" r="1.21" fill="#fffafe"/><circle cx="185.4" cy="316.8" r="0.91" fill="#e062d2"/><circle cx="187.8" cy="316.9" r="1.26" fill="#e062d2"/><circle cx="192.1" cy="316.1" r="1.13" fill="#e062d2"/><circle cx="195.6" cy="316.0" r="0.96" fill="#fffafe"/><circle cx="111.9" cy="318.9" r="0.97" fill="#fffafe"/><circle cx="115.6" cy="318.9" r="1.17" fill="#e062d2"/><circle cx="118.1" cy="319.6" r="1.09" fill="#e062d2"/><circle cx="122.2" cy="319.1" r="1.32" fill="#f8dcf1"/><circle cx="125.7" cy="319.7" r="0.93" fill="#e062d2"/><circle cx="128.8" cy="319.7" r="1.04" fill="#e062d2"/><circle cx="132.9" cy="319.3" r="0.94" fill="#f8dcf1"/><circle cx="135.2" cy="318.9" r="1.34" fill="#f8dcf1"/><circle cx="139.6" cy="319.2" r="1.06" fill="#fffafe"/><circle cx="142.1" cy="319.0" r="0.91" fill="#fffafe"/><circle cx="146.3" cy="320.3" r="1.09" fill="#fffafe"/><circle cx="149.5" cy="319.7" r="0.90" fill="#fffafe"/><circle cx="152.6" cy="319.2" r="1.30" fill="#e062d2"/><circle cx="156.6" cy="320.0" r="1.07" fill="#e062d2"/><circle cx="159.4" cy="319.6" r="1.34" fill="#f8dcf1"/><circle cx="163.6" cy="318.9" r="1.03" fill="#e062d2"/><circle cx="167.2" cy="319.8" r="1.08" fill="#e062d2"/><circle cx="170.5" cy="320.6" r="1.30" fill="#e062d2"/><circle cx="173.3" cy="320.1" r="1.02" fill="#e062d2"/><circle cx="177.0" cy="319.9" r="1.23" fill="#fffafe"/><circle cx="180.7" cy="319.3" r="1.31" fill="#e062d2"/><circle cx="183.8" cy="320.1" r="1.03" fill="#fffafe"/><circle cx="186.7" cy="319.0" r="1.14" fill="#e062d2"/><circle cx="190.8" cy="320.4" r="1.16" fill="#f8dcf1"/><circle cx="194.2" cy="320.2" r="1.23" fill="#fffafe"/><circle cx="197.7" cy="320.3" r="0.97" fill="#fffafe"/><circle cx="110.9" cy="322.8" r="1.14" fill="#f8dcf1"/><circle cx="113.2" cy="322.1" r="1.35" fill="#e062d2"/><circle cx="117.0" cy="322.6" r="1.29" fill="#e062d2"/><circle cx="121.1" cy="323.4" r="0.94" fill="#e062d2"/><circle cx="123.3" cy="322.7" r="1.20" fill="#e062d2"/><circle cx="126.8" cy="322.8" r="1.28" fill="#f8dcf1"/><circle cx="131.5" cy="323.3" r="1.10" fill="#e062d2"/><circle cx="134.3" cy="321.9" r="1.03" fill="#fffafe"/><circle cx="137.8" cy="322.4" r="1.02" fill="#e062d2"/><circle cx="141.2" cy="322.4" r="1.30" fill="#f8dcf1"/><circle cx="143.9" cy="322.2" r="1.18" fill="#e062d2"/><circle cx="148.3" cy="322.5" r="1.27" fill="#e062d2"/><circle cx="150.5" cy="323.5" r="1.29" fill="#e062d2"/><circle cx="154.1" cy="323.5" r="0.91" fill="#e062d2"/><circle cx="158.7" cy="322.8" r="1.09" fill="#e062d2"/><circle cx="161.8" cy="323.1" r="1.03" fill="#fffafe"/><circle cx="165.1" cy="323.3" r="1.17" fill="#e062d2"/><circle cx="168.2" cy="322.3" r="1.34" fill="#e062d2"/><circle cx="171.4" cy="322.3" r="0.93" fill="#e062d2"/><circle cx="174.8" cy="322.4" r="0.99" fill="#f8dcf1"/><circle cx="178.6" cy="322.7" r="0.97" fill="#e062d2"/><circle cx="182.5" cy="322.4" r="0.91" fill="#e062d2"/><circle cx="185.0" cy="322.8" r="1.07" fill="#e062d2"/><circle cx="188.3" cy="322.3" r="1.15" fill="#fffafe"/><circle cx="192.2" cy="322.8" r="1.11" fill="#e062d2"/><circle cx="195.6" cy="323.2" r="0.92" fill="#e062d2"/><circle cx="111.3" cy="325.0" r="1.29" fill="#fffafe"/><circle cx="114.7" cy="326.4" r="1.27" fill="#e062d2"/><circle cx="118.2" cy="325.3" r="1.01" fill="#e062d2"/><circle cx="122.0" cy="325.9" r="1.14" fill="#f8dcf1"/><circle cx="125.9" cy="325.9" r="1.01" fill="#e062d2"/><circle cx="129.9" cy="326.4" r="0.95" fill="#fffafe"/><circle cx="132.4" cy="325.1" r="1.29" fill="#e062d2"/><circle cx="136.4" cy="326.4" r="1.30" fill="#e062d2"/><circle cx="138.6" cy="325.3" r="1.06" fill="#e062d2"/><circle cx="142.6" cy="325.1" r="1.33" fill="#e062d2"/><circle cx="146.1" cy="325.1" r="1.13" fill="#e062d2"/><circle cx="150.0" cy="325.3" r="1.30" fill="#e062d2"/><circle cx="152.3" cy="325.2" r="0.93" fill="#e062d2"/><circle cx="156.0" cy="325.5" r="1.28" fill="#fffafe"/><circle cx="160.2" cy="324.9" r="1.24" fill="#e062d2"/><circle cx="163.5" cy="325.8" r="1.25" fill="#e062d2"/><circle cx="166.8" cy="325.5" r="1.20" fill="#f8dcf1"/><circle cx="169.8" cy="325.1" r="1.15" fill="#f8dcf1"/><circle cx="173.4" cy="326.1" r="1.05" fill="#fffafe"/><circle cx="176.0" cy="326.4" r="0.92" fill="#f8dcf1"/><circle cx="180.4" cy="326.3" r="1.05" fill="#f8dcf1"/><circle cx="183.3" cy="325.4" r="0.95" fill="#f8dcf1"/><circle cx="187.6" cy="326.2" r="0.93" fill="#e062d2"/><circle cx="190.5" cy="325.4" r="1.00" fill="#e062d2"/><circle cx="193.4" cy="325.1" r="1.14" fill="#e062d2"/><circle cx="197.3" cy="326.5" r="1.03" fill="#e062d2"/><circle cx="110.2" cy="327.8" r="0.91" fill="#e062d2"/><circle cx="114.4" cy="328.6" r="1.10" fill="#e062d2"/><circle cx="117.9" cy="329.0" r="1.31" fill="#e062d2"/><circle cx="119.9" cy="328.0" r="1.02" fill="#e062d2"/><circle cx="124.0" cy="328.9" r="1.18" fill="#e062d2"/><circle cx="127.5" cy="328.6" r="1.19" fill="#fffafe"/><circle cx="130.9" cy="329.0" r="1.27" fill="#e062d2"/><circle cx="133.9" cy="328.4" r="1.25" fill="#f8dcf1"/><circle cx="137.7" cy="328.6" r="1.22" fill="#e062d2"/><circle cx="140.2" cy="327.9" r="1.15" fill="#f8dcf1"/><circle cx="144.5" cy="328.5" r="1.05" fill="#e062d2"/><circle cx="147.4" cy="328.1" r="1.29" fill="#f8dcf1"/><circle cx="150.8" cy="328.7" r="0.93" fill="#fffafe"/><circle cx="155.0" cy="328.1" r="1.26" fill="#e062d2"/><circle cx="158.5" cy="328.2" r="1.24" fill="#fffafe"/><circle cx="161.2" cy="329.3" r="0.98" fill="#e062d2"/><circle cx="165.3" cy="328.2" r="1.03" fill="#fffafe"/><circle cx="168.0" cy="329.1" r="1.12" fill="#e062d2"/><circle cx="171.2" cy="328.4" r="1.11" fill="#e062d2"/><circle cx="175.7" cy="328.9" r="0.99" fill="#f8dcf1"/><circle cx="179.1" cy="328.2" r="1.29" fill="#f8dcf1"/><circle cx="182.0" cy="328.2" r="1.20" fill="#e062d2"/><circle cx="185.4" cy="328.9" r="1.19" fill="#fffafe"/><circle cx="188.4" cy="328.0" r="1.17" fill="#fffafe"/><circle cx="191.5" cy="328.7" r="1.00" fill="#e062d2"/><circle cx="195.1" cy="329.0" r="1.01" fill="#f8dcf1"/><circle cx="112.0" cy="332.0" r="1.23" fill="#f8dcf1"/><circle cx="115.6" cy="331.3" r="0.93" fill="#e062d2"/><circle cx="118.6" cy="331.4" r="1.06" fill="#e062d2"/><circle cx="122.9" cy="332.2" r="1.11" fill="#e062d2"/><circle cx="125.3" cy="330.8" r="1.14" fill="#e062d2"/><circle cx="129.6" cy="331.3" r="0.95" fill="#f8dcf1"/><circle cx="131.9" cy="332.0" r="1.06" fill="#fffafe"/><circle cx="135.6" cy="331.7" r="1.13" fill="#e062d2"/><circle cx="140.1" cy="332.1" r="1.20" fill="#e062d2"/><circle cx="143.2" cy="331.0" r="1.20" fill="#fffafe"/><circle cx="146.4" cy="331.7" r="1.28" fill="#e062d2"/><circle cx="149.8" cy="331.8" r="1.28" fill="#e062d2"/><circle cx="152.7" cy="330.9" r="1.13" fill="#e062d2"/><circle cx="156.7" cy="332.0" r="1.08" fill="#e062d2"/><circle cx="160.2" cy="331.7" r="1.12" fill="#e062d2"/><circle cx="163.5" cy="331.1" r="1.16" fill="#f8dcf1"/><circle cx="166.6" cy="331.7" r="1.32" fill="#e062d2"/><circle cx="170.2" cy="332.2" r="1.07" fill="#e062d2"/><circle cx="174.0" cy="330.9" r="1.04" fill="#f8dcf1"/><circle cx="176.8" cy="331.0" r="1.14" fill="#fffafe"/><circle cx="179.4" cy="332.2" r="1.05" fill="#f8dcf1"/><circle cx="183.3" cy="331.4" r="1.07" fill="#f8dcf1"/><circle cx="186.1" cy="331.8" r="0.97" fill="#f8dcf1"/><circle cx="191.1" cy="331.2" r="1.10" fill="#e062d2"/><circle cx="194.0" cy="331.1" r="0.92" fill="#f8dcf1"/><circle cx="197.3" cy="331.5" r="1.21" fill="#fffafe"/><circle cx="110.5" cy="334.9" r="0.92" fill="#fffafe"/><circle cx="113.1" cy="335.3" r="0.92" fill="#e062d2"/><circle cx="117.4" cy="335.3" r="1.03" fill="#e062d2"/><circle cx="119.8" cy="334.0" r="1.00" fill="#e062d2"/><circle cx="123.6" cy="333.7" r="1.21" fill="#e062d2"/><circle cx="126.8" cy="333.9" r="1.24" fill="#f8dcf1"/><circle cx="131.6" cy="333.8" r="1.23" fill="#f8dcf1"/><circle cx="133.9" cy="334.4" r="1.11" fill="#e062d2"/><circle cx="137.4" cy="334.3" r="1.21" fill="#f8dcf1"/><circle cx="141.3" cy="333.8" r="1.15" fill="#e062d2"/><circle cx="143.6" cy="335.4" r="0.91" fill="#e062d2"/><circle cx="147.5" cy="333.8" r="0.92" fill="#f8dcf1"/><circle cx="150.8" cy="335.4" r="1.30" fill="#f8dcf1"/><circle cx="153.8" cy="335.2" r="1.11" fill="#e062d2"/><circle cx="158.8" cy="334.1" r="1.03" fill="#fffafe"/><circle cx="161.8" cy="334.6" r="0.94" fill="#e062d2"/><circle cx="164.6" cy="334.1" r="1.27" fill="#e062d2"/><circle cx="169.0" cy="334.2" r="0.91" fill="#f8dcf1"/><circle cx="170.8" cy="334.4" r="1.32" fill="#fffafe"/><circle cx="175.7" cy="333.8" r="1.03" fill="#f8dcf1"/><circle cx="179.0" cy="334.9" r="1.03" fill="#e062d2"/><circle cx="181.5" cy="333.8" r="0.91" fill="#f8dcf1"/><circle cx="184.9" cy="334.3" r="1.34" fill="#f8dcf1"/><circle cx="189.3" cy="334.3" r="0.96" fill="#e062d2"/><circle cx="191.7" cy="335.3" r="1.14" fill="#fffafe"/><circle cx="194.7" cy="334.7" r="1.06" fill="#e062d2"/><circle cx="112.1" cy="337.8" r="1.33" fill="#e062d2"/><circle cx="116.1" cy="337.1" r="1.33" fill="#e062d2"/><circle cx="119.3" cy="336.8" r="1.22" fill="#e062d2"/><circle cx="122.3" cy="338.1" r="1.33" fill="#e062d2"/><circle cx="125.1" cy="337.6" r="1.32" fill="#e062d2"/><circle cx="129.1" cy="337.5" r="1.30" fill="#e062d2"/><circle cx="132.9" cy="338.3" r="0.96" fill="#f8dcf1"/><circle cx="135.6" cy="337.2" r="1.10" fill="#fffafe"/><circle cx="139.3" cy="337.9" r="1.01" fill="#e062d2"/><circle cx="142.7" cy="337.6" r="0.96" fill="#f8dcf1"/><circle cx="146.8" cy="337.0" r="1.04" fill="#e062d2"/><circle cx="149.7" cy="338.3" r="0.99" fill="#f8dcf1"/><circle cx="153.1" cy="337.3" r="1.31" fill="#f8dcf1"/><circle cx="156.4" cy="338.3" r="1.15" fill="#e062d2"/><circle cx="158.9" cy="337.3" r="1.09" fill="#e062d2"/><circle cx="163.6" cy="337.2" r="0.90" fill="#f8dcf1"/><circle cx="167.2" cy="338.2" r="1.25" fill="#e062d2"/><circle cx="169.1" cy="338.2" r="0.94" fill="#f8dcf1"/><circle cx="172.9" cy="337.4" r="1.14" fill="#e062d2"/><circle cx="175.9" cy="336.9" r="1.21" fill="#fffafe"/><circle cx="179.4" cy="337.6" r="1.00" fill="#e062d2"/><circle cx="184.3" cy="337.4" r="1.14" fill="#fffafe"/><circle cx="186.4" cy="337.2" r="1.25" fill="#e062d2"/><circle cx="190.4" cy="337.3" r="1.32" fill="#fffafe"/><circle cx="193.1" cy="336.8" r="0.97" fill="#e062d2"/><circle cx="197.7" cy="337.0" r="1.32" fill="#e062d2"/><circle cx="110.9" cy="341.2" r="1.03" fill="#f8dcf1"/><circle cx="113.1" cy="340.6" r="1.26" fill="#e062d2"/><circle cx="116.4" cy="340.1" r="0.98" fill="#e062d2"/><circle cx="120.9" cy="340.8" r="1.31" fill="#f8dcf1"/><circle cx="123.2" cy="340.8" r="1.08" fill="#e062d2"/><circle cx="126.7" cy="340.9" r="1.18" fill="#f8dcf1"/><circle cx="130.3" cy="339.8" r="1.33" fill="#e062d2"/><circle cx="133.9" cy="341.2" r="1.15" fill="#e062d2"/><circle cx="137.9" cy="340.0" r="0.92" fill="#f8dcf1"/><circle cx="140.4" cy="340.4" r="1.33" fill="#f8dcf1"/><circle cx="144.9" cy="341.1" r="1.16" fill="#e062d2"/><circle cx="147.5" cy="339.9" r="1.22" fill="#e062d2"/><circle cx="151.9" cy="341.2" r="1.18" fill="#e062d2"/><circle cx="154.3" cy="340.5" r="0.99" fill="#f8dcf1"/><circle cx="157.8" cy="341.0" r="0.93" fill="#e062d2"/><circle cx="161.5" cy="339.7" r="1.33" fill="#f8dcf1"/><circle cx="164.6" cy="341.2" r="1.00" fill="#e062d2"/><circle cx="168.9" cy="339.9" r="1.05" fill="#f8dcf1"/><circle cx="172.4" cy="340.7" r="1.21" fill="#f8dcf1"/><circle cx="174.8" cy="341.1" r="0.91" fill="#e062d2"/><circle cx="178.7" cy="339.9" r="1.30" fill="#e062d2"/><circle cx="182.0" cy="341.2" r="1.14" fill="#fffafe"/><circle cx="184.4" cy="340.2" r="1.13" fill="#fffafe"/><circle cx="188.1" cy="340.4" r="1.30" fill="#e062d2"/><circle cx="191.2" cy="341.2" r="1.00" fill="#e062d2"/><circle cx="195.2" cy="340.9" r="1.16" fill="#fffafe"/><circle cx="111.8" cy="344.1" r="1.28" fill="#e062d2"/><circle cx="114.9" cy="343.7" r="0.95" fill="#f8dcf1"/><circle cx="118.4" cy="343.0" r="1.02" fill="#e062d2"/><circle cx="122.5" cy="344.1" r="1.20" fill="#e062d2"/><circle cx="125.3" cy="343.4" r="1.32" fill="#e062d2"/><circle cx="128.5" cy="343.6" r="1.28" fill="#e062d2"/><circle cx="133.1" cy="342.6" r="0.92" fill="#e062d2"/><circle cx="136.0" cy="344.1" r="1.27" fill="#e062d2"/><circle cx="138.9" cy="342.6" r="1.14" fill="#e062d2"/><circle cx="143.0" cy="342.8" r="1.23" fill="#fffafe"/><circle cx="146.2" cy="342.8" r="1.23" fill="#e062d2"/><circle cx="148.8" cy="344.2" r="1.14" fill="#f8dcf1"/><circle cx="153.6" cy="343.3" r="0.99" fill="#e062d2"/><circle cx="156.7" cy="343.7" r="1.04" fill="#e062d2"/><circle cx="159.5" cy="343.8" r="0.94" fill="#f8dcf1"/><circle cx="162.7" cy="344.1" r="1.03" fill="#fffafe"/><circle cx="166.2" cy="344.1" r="0.93" fill="#e062d2"/><circle cx="170.5" cy="343.5" r="1.28" fill="#e062d2"/><circle cx="173.7" cy="343.1" r="1.28" fill="#f8dcf1"/><circle cx="176.9" cy="343.8" r="1.00" fill="#fffafe"/><circle cx="180.6" cy="343.8" r="1.27" fill="#f8dcf1"/><circle cx="184.1" cy="343.1" r="1.34" fill="#e062d2"/><circle cx="186.2" cy="342.6" r="1.12" fill="#fffafe"/><circle cx="190.0" cy="342.9" r="0.91" fill="#f8dcf1"/><circle cx="192.9" cy="343.1" r="0.91" fill="#e062d2"/><circle cx="196.3" cy="343.3" r="1.13" fill="#f8dcf1"/><circle cx="110.3" cy="345.6" r="0.91" fill="#e062d2"/><circle cx="114.6" cy="346.9" r="1.25" fill="#e062d2"/><circle cx="118.0" cy="346.3" r="1.02" fill="#f8dcf1"/><circle cx="121.0" cy="346.3" r="1.24" fill="#f8dcf1"/><circle cx="124.6" cy="346.6" r="1.05" fill="#f8dcf1"/><circle cx="126.8" cy="346.0" r="1.11" fill="#e062d2"/><circle cx="131.1" cy="346.3" r="1.13" fill="#e062d2"/><circle cx="133.9" cy="345.8" r="1.20" fill="#f8dcf1"/><circle cx="138.1" cy="346.3" r="1.01" fill="#f8dcf1"/><circle cx="140.3" cy="346.0" r="1.26" fill="#f8dcf1"/><circle cx="144.7" cy="345.9" r="0.97" fill="#fffafe"/><circle cx="147.9" cy="346.3" r="0.91" fill="#e062d2"/><circle cx="150.7" cy="346.5" r="1.22" fill="#e062d2"/><circle cx="154.1" cy="346.6" r="1.23" fill="#e062d2"/><circle cx="158.3" cy="346.6" r="0.99" fill="#e062d2"/><circle cx="161.8" cy="347.2" r="1.31" fill="#e062d2"/><circle cx="165.4" cy="346.8" r="0.96" fill="#e062d2"/><circle cx="168.6" cy="346.1" r="1.23" fill="#e062d2"/><circle cx="172.0" cy="346.2" r="1.04" fill="#e062d2"/><circle cx="174.4" cy="347.1" r="0.93" fill="#e062d2"/><circle cx="178.8" cy="346.3" r="1.20" fill="#e062d2"/><circle cx="182.2" cy="346.9" r="1.13" fill="#f8dcf1"/><circle cx="185.6" cy="345.8" r="1.08" fill="#fffafe"/><circle cx="188.0" cy="347.2" r="0.96" fill="#fffafe"/><circle cx="192.1" cy="346.3" r="1.24" fill="#f8dcf1"/><circle cx="195.5" cy="347.1" r="1.14" fill="#f8dcf1"/><circle cx="111.9" cy="349.7" r="1.28" fill="#e062d2"/><circle cx="114.8" cy="348.6" r="1.25" fill="#fffafe"/><circle cx="118.1" cy="349.5" r="1.29" fill="#fffafe"/><circle cx="122.1" cy="348.9" r="0.92" fill="#e062d2"/><circle cx="125.1" cy="350.1" r="1.34" fill="#fffafe"/><circle cx="128.5" cy="350.0" r="1.07" fill="#f8dcf1"/><circle cx="132.9" cy="349.8" r="1.19" fill="#f8dcf1"/><circle cx="135.6" cy="349.9" r="1.26" fill="#e062d2"/><circle cx="139.4" cy="349.2" r="1.04" fill="#f8dcf1"/><circle cx="142.7" cy="349.0" r="1.33" fill="#e062d2"/><circle cx="146.1" cy="349.2" r="0.99" fill="#f8dcf1"/><circle cx="149.3" cy="348.5" r="1.25" fill="#e062d2"/><circle cx="153.4" cy="349.6" r="1.23" fill="#f8dcf1"/><circle cx="156.9" cy="348.8" r="1.07" fill="#f8dcf1"/><circle cx="160.1" cy="349.6" r="1.34" fill="#e062d2"/><circle cx="162.6" cy="349.3" r="0.97" fill="#fffafe"/><circle cx="166.6" cy="349.1" r="1.20" fill="#e062d2"/><circle cx="170.6" cy="348.9" r="0.90" fill="#fffafe"/><circle cx="173.1" cy="348.9" r="1.01" fill="#e062d2"/><circle cx="176.3" cy="349.8" r="0.91" fill="#e062d2"/><circle cx="179.9" cy="349.4" r="0.91" fill="#f8dcf1"/><circle cx="184.0" cy="349.5" r="1.20" fill="#e062d2"/><circle cx="186.1" cy="349.3" r="0.92" fill="#f8dcf1"/><circle cx="189.5" cy="350.2" r="1.14" fill="#e062d2"/><circle cx="194.5" cy="349.6" r="1.26" fill="#f8dcf1"/><circle cx="197.6" cy="349.3" r="1.04" fill="#fffafe"/><circle cx="110.3" cy="353.0" r="1.05" fill="#f8dcf1"/><circle cx="113.7" cy="353.0" r="1.24" fill="#fffafe"/><circle cx="116.8" cy="352.3" r="1.06" fill="#e062d2"/><circle cx="121.0" cy="352.0" r="1.17" fill="#e062d2"/><circle cx="124.6" cy="351.6" r="0.95" fill="#f8dcf1"/><circle cx="126.8" cy="352.1" r="1.02" fill="#e062d2"/><circle cx="131.1" cy="353.0" r="1.21" fill="#e062d2"/><circle cx="133.4" cy="352.1" r="1.23" fill="#f8dcf1"/><circle cx="137.9" cy="351.7" r="1.24" fill="#f8dcf1"/><circle cx="140.8" cy="352.1" r="1.09" fill="#e062d2"/><circle cx="145.2" cy="352.9" r="1.20" fill="#f8dcf1"/><circle cx="147.0" cy="351.5" r="0.94" fill="#e062d2"/><circle cx="151.3" cy="352.9" r="1.22" fill="#e062d2"/><circle cx="155.1" cy="351.7" r="1.08" fill="#e062d2"/><circle cx="158.6" cy="352.0" r="1.28" fill="#e062d2"/><circle cx="160.9" cy="352.8" r="1.32" fill="#fffafe"/><circle cx="164.2" cy="351.7" r="1.18" fill="#fffafe"/><circle cx="167.8" cy="352.6" r="1.20" fill="#fffafe"/><circle cx="171.3" cy="351.9" r="1.32" fill="#fffafe"/><circle cx="174.3" cy="352.5" r="1.34" fill="#e062d2"/><circle cx="177.6" cy="352.2" r="1.22" fill="#f8dcf1"/><circle cx="181.5" cy="351.8" r="1.02" fill="#f8dcf1"/><circle cx="185.1" cy="351.5" r="0.96" fill="#e062d2"/><circle cx="188.0" cy="352.4" r="1.28" fill="#e062d2"/><circle cx="191.9" cy="351.9" r="0.96" fill="#e062d2"/><circle cx="195.1" cy="352.2" r="1.33" fill="#f8dcf1"/><circle cx="111.5" cy="355.7" r="1.22" fill="#f8dcf1"/><circle cx="115.7" cy="354.7" r="1.12" fill="#e062d2"/><circle cx="119.1" cy="356.0" r="1.09" fill="#f8dcf1"/><circle cx="122.1" cy="355.9" r="1.32" fill="#e062d2"/><circle cx="126.3" cy="355.7" r="1.23" fill="#f8dcf1"/><circle cx="129.4" cy="355.3" r="1.29" fill="#e062d2"/><circle cx="133.2" cy="355.8" r="1.03" fill="#f8dcf1"/><circle cx="136.3" cy="355.2" r="1.18" fill="#e062d2"/><circle cx="138.6" cy="354.5" r="1.24" fill="#e062d2"/><circle cx="143.0" cy="356.0" r="1.29" fill="#fffafe"/><circle cx="146.0" cy="354.8" r="0.92" fill="#e062d2"/><circle cx="149.5" cy="354.5" r="0.96" fill="#e062d2"/><circle cx="153.6" cy="355.2" r="1.24" fill="#e062d2"/><circle cx="156.3" cy="355.8" r="1.28" fill="#f8dcf1"/><circle cx="159.0" cy="355.4" r="1.14" fill="#f8dcf1"/><circle cx="162.8" cy="355.2" r="1.19" fill="#e062d2"/><circle cx="167.1" cy="355.1" r="1.20" fill="#fffafe"/><circle cx="170.7" cy="354.8" r="1.25" fill="#f8dcf1"/><circle cx="172.6" cy="354.6" r="1.16" fill="#fffafe"/><circle cx="175.9" cy="355.0" r="1.34" fill="#fffafe"/><circle cx="180.2" cy="356.0" r="1.25" fill="#e062d2"/><circle cx="183.4" cy="354.7" r="0.99" fill="#fffafe"/><circle cx="186.3" cy="355.1" r="1.35" fill="#f8dcf1"/><circle cx="189.9" cy="355.6" r="1.22" fill="#e062d2"/><circle cx="194.1" cy="354.9" r="1.15" fill="#f8dcf1"/><circle cx="196.8" cy="355.2" r="1.13" fill="#e062d2"/><circle cx="110.3" cy="357.9" r="1.32" fill="#e062d2"/><circle cx="113.8" cy="358.6" r="1.20" fill="#f8dcf1"/><circle cx="117.5" cy="358.9" r="1.00" fill="#e062d2"/><circle cx="120.3" cy="358.5" r="1.18" fill="#e062d2"/><circle cx="123.9" cy="358.9" r="1.20" fill="#f8dcf1"/><circle cx="127.6" cy="358.6" r="1.35" fill="#f8dcf1"/><circle cx="131.0" cy="357.4" r="1.30" fill="#e062d2"/><circle cx="134.2" cy="358.4" r="1.10" fill="#e062d2"/><circle cx="137.9" cy="358.6" r="1.21" fill="#e062d2"/><circle cx="140.9" cy="358.0" r="1.20" fill="#e062d2"/><circle cx="144.0" cy="358.6" r="1.27" fill="#f8dcf1"/><circle cx="147.5" cy="359.0" r="1.28" fill="#fffafe"/><circle cx="150.5" cy="358.1" r="1.33" fill="#f8dcf1"/><circle cx="154.6" cy="358.7" r="1.30" fill="#fffafe"/><circle cx="157.6" cy="359.0" r="1.03" fill="#e062d2"/><circle cx="161.2" cy="358.7" r="1.16" fill="#f8dcf1"/><circle cx="165.1" cy="358.0" r="1.00" fill="#e062d2"/><circle cx="167.4" cy="358.3" r="0.97" fill="#e062d2"/><circle cx="171.3" cy="357.6" r="1.20" fill="#e062d2"/><circle cx="175.4" cy="358.8" r="0.95" fill="#fffafe"/><circle cx="178.5" cy="357.8" r="1.23" fill="#e062d2"/><circle cx="181.5" cy="357.7" r="0.93" fill="#fffafe"/><circle cx="184.9" cy="358.3" r="0.93" fill="#e062d2"/><circle cx="188.9" cy="357.6" r="1.07" fill="#e062d2"/><circle cx="192.5" cy="358.5" r="1.04" fill="#f8dcf1"/><circle cx="194.9" cy="358.2" r="1.35" fill="#e062d2"/><circle cx="111.9" cy="360.8" r="1.17" fill="#f8dcf1"/><circle cx="115.6" cy="361.1" r="1.17" fill="#e062d2"/><circle cx="119.6" cy="361.9" r="1.34" fill="#f8dcf1"/><circle cx="122.7" cy="360.6" r="1.22" fill="#fffafe"/><circle cx="126.3" cy="361.8" r="0.96" fill="#e062d2"/><circle cx="128.3" cy="361.6" r="1.32" fill="#e062d2"/><circle cx="133.3" cy="361.6" r="1.15" fill="#fffafe"/><circle cx="136.3" cy="361.9" r="1.08" fill="#f8dcf1"/><circle cx="139.9" cy="360.6" r="1.03" fill="#e062d2"/><circle cx="141.9" cy="361.3" r="1.17" fill="#fffafe"/><circle cx="145.8" cy="361.5" r="0.90" fill="#e062d2"/><circle cx="150.3" cy="361.8" r="1.16" fill="#f8dcf1"/><circle cx="153.4" cy="361.6" r="1.28" fill="#e062d2"/><circle cx="156.2" cy="360.4" r="1.09" fill="#e062d2"/><circle cx="160.2" cy="360.4" r="1.14" fill="#fffafe"/><circle cx="163.8" cy="361.8" r="1.31" fill="#fffafe"/><circle cx="166.0" cy="361.3" r="1.07" fill="#f8dcf1"/><circle cx="170.0" cy="361.9" r="1.10" fill="#e062d2"/><circle cx="172.5" cy="360.6" r="1.32" fill="#f8dcf1"/><circle cx="177.2" cy="361.3" r="1.33" fill="#e062d2"/><circle cx="180.4" cy="360.4" r="1.22" fill="#e062d2"/><circle cx="183.6" cy="361.0" r="1.08" fill="#e062d2"/><circle cx="186.3" cy="360.9" r="1.29" fill="#e062d2"/><circle cx="190.5" cy="361.6" r="1.21" fill="#e062d2"/><circle cx="193.8" cy="361.9" r="1.06" fill="#f8dcf1"/><circle cx="196.7" cy="362.0" r="0.96" fill="#f8dcf1"/><circle cx="110.6" cy="363.4" r="1.02" fill="#e062d2"/><circle cx="114.4" cy="364.3" r="1.00" fill="#f8dcf1"/><circle cx="116.9" cy="364.6" r="1.21" fill="#f8dcf1"/><circle cx="120.4" cy="363.8" r="1.20" fill="#f8dcf1"/><circle cx="123.6" cy="364.1" r="1.33" fill="#e062d2"/><circle cx="128.1" cy="364.4" r="1.11" fill="#f8dcf1"/><circle cx="130.4" cy="364.1" r="0.92" fill="#fffafe"/><circle cx="134.2" cy="364.5" r="0.95" fill="#f8dcf1"/><circle cx="137.4" cy="364.8" r="1.30" fill="#f8dcf1"/><circle cx="140.2" cy="364.6" r="0.93" fill="#e062d2"/><circle cx="143.7" cy="363.4" r="1.22" fill="#f8dcf1"/><circle cx="148.4" cy="364.7" r="1.28" fill="#f8dcf1"/><circle cx="151.0" cy="364.5" r="1.13" fill="#f8dcf1"/><circle cx="154.8" cy="364.3" r="1.01" fill="#f8dcf1"/><circle cx="158.5" cy="364.6" r="0.92" fill="#f8dcf1"/><circle cx="160.9" cy="363.5" r="1.07" fill="#fffafe"/><circle cx="165.4" cy="363.8" r="1.34" fill="#fffafe"/><circle cx="167.7" cy="363.8" r="0.91" fill="#e062d2"/><circle cx="172.2" cy="364.0" r="0.91" fill="#e062d2"/><circle cx="174.4" cy="364.1" r="1.16" fill="#e062d2"/><circle cx="178.3" cy="364.6" r="1.01" fill="#f8dcf1"/><circle cx="182.1" cy="363.6" r="0.90" fill="#fffafe"/><circle cx="185.4" cy="364.8" r="0.95" fill="#f8dcf1"/><circle cx="188.8" cy="364.6" r="1.32" fill="#f8dcf1"/><circle cx="192.3" cy="364.2" r="1.11" fill="#e062d2"/><circle cx="194.9" cy="364.2" r="1.35" fill="#e062d2"/><circle cx="169.5" cy="295.1" r="2.8" fill="#fff8fe"/><circle cx="115.6" cy="298.1" r="3.9" fill="#fff8fe"/><circle cx="118.2" cy="278.0" r="1.31" fill="#f3d2f1"/><circle cx="118.2" cy="278.0" r="0.71" fill="#50288a"/><circle cx="149.1" cy="277.9" r="1.37" fill="#f3d2f1"/><circle cx="149.1" cy="277.9" r="0.77" fill="#50288a"/><circle cx="154.3" cy="277.0" r="1.53" fill="#f3d2f1"/><circle cx="154.3" cy="277.0" r="0.93" fill="#50288a"/><circle cx="159.5" cy="279.4" r="1.51" fill="#f3d2f1"/><circle cx="159.5" cy="279.4" r="0.91" fill="#50288a"/><circle cx="193.8" cy="278.2" r="1.43" fill="#f3d2f1"/><circle cx="193.8" cy="278.2" r="0.83" fill="#50288a"/><circle cx="111.8" cy="281.1" r="1.58" fill="#f3d2f1"/><circle cx="111.8" cy="281.1" r="0.98" fill="#50288a"/><circle cx="150.3" cy="280.5" r="1.60" fill="#f3d2f1"/><circle cx="150.3" cy="280.5" r="1.00" fill="#50288a"/><circle cx="187.3" cy="281.7" r="1.52" fill="#f3d2f1"/><circle cx="187.3" cy="281.7" r="0.92" fill="#50288a"/><circle cx="127.8" cy="283.2" r="1.56" fill="#f3d2f1"/><circle cx="127.8" cy="283.2" r="0.96" fill="#50288a"/><circle cx="140.5" cy="284.9" r="1.57" fill="#f3d2f1"/><circle cx="140.5" cy="284.9" r="0.97" fill="#50288a"/><circle cx="148.9" cy="284.4" r="1.35" fill="#f3d2f1"/><circle cx="148.9" cy="284.4" r="0.75" fill="#50288a"/><circle cx="155.9" cy="285.9" r="1.31" fill="#f3d2f1"/><circle cx="155.9" cy="285.9" r="0.71" fill="#50288a"/><circle cx="158.0" cy="283.8" r="1.59" fill="#f3d2f1"/><circle cx="158.0" cy="283.8" r="0.99" fill="#50288a"/><circle cx="165.4" cy="286.1" r="1.56" fill="#f3d2f1"/><circle cx="165.4" cy="286.1" r="0.96" fill="#50288a"/><circle cx="176.7" cy="282.6" r="1.36" fill="#f3d2f1"/><circle cx="176.7" cy="282.6" r="0.76" fill="#50288a"/><circle cx="191.6" cy="284.4" r="1.53" fill="#f3d2f1"/><circle cx="191.6" cy="284.4" r="0.93" fill="#50288a"/><circle cx="196.4" cy="285.5" r="1.42" fill="#f3d2f1"/><circle cx="196.4" cy="285.5" r="0.82" fill="#50288a"/><circle cx="112.2" cy="285.6" r="1.48" fill="#f3d2f1"/><circle cx="112.2" cy="285.6" r="0.88" fill="#50288a"/><circle cx="118.9" cy="285.7" r="1.52" fill="#f3d2f1"/><circle cx="118.9" cy="285.7" r="0.92" fill="#50288a"/><circle cx="127.7" cy="289.0" r="1.34" fill="#f3d2f1"/><circle cx="127.7" cy="289.0" r="0.74" fill="#50288a"/><circle cx="137.5" cy="286.8" r="1.53" fill="#f3d2f1"/><circle cx="137.5" cy="286.8" r="0.93" fill="#50288a"/><circle cx="157.6" cy="287.1" r="1.44" fill="#f3d2f1"/><circle cx="157.6" cy="287.1" r="0.84" fill="#50288a"/><circle cx="174.1" cy="286.4" r="1.48" fill="#f3d2f1"/><circle cx="174.1" cy="286.4" r="0.88" fill="#50288a"/><circle cx="113.7" cy="289.7" r="1.50" fill="#f3d2f1"/><circle cx="113.7" cy="289.7" r="0.90" fill="#50288a"/><circle cx="130.0" cy="289.7" r="1.51" fill="#f3d2f1"/><circle cx="130.0" cy="289.7" r="0.91" fill="#50288a"/><circle cx="131.2" cy="289.5" r="1.55" fill="#f3d2f1"/><circle cx="131.2" cy="289.5" r="0.95" fill="#50288a"/><circle cx="138.3" cy="291.1" r="1.56" fill="#f3d2f1"/><circle cx="138.3" cy="291.1" r="0.96" fill="#50288a"/><circle cx="146.3" cy="291.7" r="1.33" fill="#f3d2f1"/><circle cx="146.3" cy="291.7" r="0.73" fill="#50288a"/><circle cx="154.4" cy="289.1" r="1.37" fill="#f3d2f1"/><circle cx="154.4" cy="289.1" r="0.77" fill="#50288a"/><circle cx="164.2" cy="288.9" r="1.37" fill="#f3d2f1"/><circle cx="164.2" cy="288.9" r="0.77" fill="#50288a"/><circle cx="164.9" cy="289.9" r="1.46" fill="#f3d2f1"/><circle cx="164.9" cy="289.9" r="0.86" fill="#50288a"/><circle cx="174.9" cy="289.1" r="1.37" fill="#f3d2f1"/><circle cx="174.9" cy="289.1" r="0.77" fill="#50288a"/><circle cx="176.0" cy="292.2" r="1.43" fill="#f3d2f1"/><circle cx="176.0" cy="292.2" r="0.83" fill="#50288a"/><circle cx="187.3" cy="289.5" r="1.37" fill="#f3d2f1"/><circle cx="187.3" cy="289.5" r="0.77" fill="#50288a"/><circle cx="192.8" cy="289.3" r="1.40" fill="#f3d2f1"/><circle cx="192.8" cy="289.3" r="0.80" fill="#50288a"/><circle cx="128.3" cy="294.0" r="1.40" fill="#f3d2f1"/><circle cx="128.3" cy="294.0" r="0.80" fill="#50288a"/><circle cx="134.6" cy="293.7" r="1.41" fill="#f3d2f1"/><circle cx="134.6" cy="293.7" r="0.81" fill="#50288a"/><circle cx="135.8" cy="292.5" r="1.48" fill="#f3d2f1"/><circle cx="135.8" cy="292.5" r="0.88" fill="#50288a"/><circle cx="140.6" cy="291.3" r="1.39" fill="#f3d2f1"/><circle cx="140.6" cy="291.3" r="0.79" fill="#50288a"/><circle cx="151.8" cy="294.5" r="1.54" fill="#f3d2f1"/><circle cx="151.8" cy="294.5" r="0.94" fill="#50288a"/><circle cx="155.0" cy="294.8" r="1.43" fill="#f3d2f1"/><circle cx="155.0" cy="294.8" r="0.83" fill="#50288a"/><circle cx="158.6" cy="293.7" r="1.49" fill="#f3d2f1"/><circle cx="158.6" cy="293.7" r="0.89" fill="#50288a"/><circle cx="168.0" cy="292.3" r="1.38" fill="#f3d2f1"/><circle cx="168.0" cy="292.3" r="0.78" fill="#50288a"/><circle cx="169.8" cy="292.5" r="1.50" fill="#f3d2f1"/><circle cx="169.8" cy="292.5" r="0.90" fill="#50288a"/><circle cx="173.7" cy="294.4" r="1.42" fill="#f3d2f1"/><circle cx="173.7" cy="294.4" r="0.82" fill="#50288a"/><circle cx="181.4" cy="291.6" r="1.46" fill="#f3d2f1"/><circle cx="181.4" cy="291.6" r="0.86" fill="#50288a"/><circle cx="190.6" cy="291.4" r="1.44" fill="#f3d2f1"/><circle cx="190.6" cy="291.4" r="0.84" fill="#50288a"/><circle cx="112.4" cy="295.6" r="1.45" fill="#f3d2f1"/><circle cx="112.4" cy="295.6" r="0.85" fill="#50288a"/><circle cx="127.6" cy="298.2" r="1.58" fill="#f3d2f1"/><circle cx="127.6" cy="298.2" r="0.98" fill="#50288a"/><circle cx="131.4" cy="297.0" r="1.31" fill="#f3d2f1"/><circle cx="131.4" cy="297.0" r="0.71" fill="#50288a"/><circle cx="134.6" cy="297.5" r="1.52" fill="#f3d2f1"/><circle cx="134.6" cy="297.5" r="0.92" fill="#50288a"/><circle cx="140.1" cy="297.2" r="1.57" fill="#f3d2f1"/><circle cx="140.1" cy="297.2" r="0.97" fill="#50288a"/><circle cx="160.4" cy="296.1" r="1.51" fill="#f3d2f1"/><circle cx="160.4" cy="296.1" r="0.91" fill="#50288a"/><circle cx="162.3" cy="296.9" r="1.30" fill="#f3d2f1"/><circle cx="162.3" cy="296.9" r="0.70" fill="#50288a"/><circle cx="168.6" cy="296.8" r="1.39" fill="#f3d2f1"/><circle cx="168.6" cy="296.8" r="0.79" fill="#50288a"/><circle cx="189.6" cy="297.0" r="1.39" fill="#f3d2f1"/><circle cx="189.6" cy="297.0" r="0.79" fill="#50288a"/><circle cx="114.5" cy="299.3" r="1.43" fill="#f3d2f1"/><circle cx="114.5" cy="299.3" r="0.83" fill="#50288a"/><circle cx="130.6" cy="298.7" r="1.31" fill="#f3d2f1"/><circle cx="130.6" cy="298.7" r="0.71" fill="#50288a"/><circle cx="152.7" cy="299.7" r="1.43" fill="#f3d2f1"/><circle cx="152.7" cy="299.7" r="0.83" fill="#50288a"/><circle cx="157.5" cy="299.3" r="1.32" fill="#f3d2f1"/><circle cx="157.5" cy="299.3" r="0.72" fill="#50288a"/><circle cx="183.1" cy="301.3" r="1.32" fill="#f3d2f1"/><circle cx="183.1" cy="301.3" r="0.72" fill="#50288a"/><circle cx="112.4" cy="302.8" r="1.35" fill="#f3d2f1"/><circle cx="112.4" cy="302.8" r="0.75" fill="#50288a"/><circle cx="127.8" cy="301.2" r="1.43" fill="#f3d2f1"/><circle cx="127.8" cy="301.2" r="0.83" fill="#50288a"/><circle cx="140.5" cy="301.5" r="1.38" fill="#f3d2f1"/><circle cx="140.5" cy="301.5" r="0.78" fill="#50288a"/><circle cx="144.7" cy="300.8" r="1.50" fill="#f3d2f1"/><circle cx="144.7" cy="300.8" r="0.90" fill="#50288a"/><circle cx="182.3" cy="303.1" r="1.49" fill="#f3d2f1"/><circle cx="182.3" cy="303.1" r="0.89" fill="#50288a"/><circle cx="111.9" cy="304.6" r="1.51" fill="#f3d2f1"/><circle cx="111.9" cy="304.6" r="0.91" fill="#50288a"/><circle cx="123.8" cy="305.3" r="1.38" fill="#f3d2f1"/><circle cx="123.8" cy="305.3" r="0.78" fill="#50288a"/><circle cx="134.5" cy="303.0" r="1.37" fill="#f3d2f1"/><circle cx="134.5" cy="303.0" r="0.77" fill="#50288a"/><circle cx="145.5" cy="305.2" r="1.54" fill="#f3d2f1"/><circle cx="145.5" cy="305.2" r="0.94" fill="#50288a"/><circle cx="175.7" cy="304.1" r="1.31" fill="#f3d2f1"/><circle cx="175.7" cy="304.1" r="0.71" fill="#50288a"/><circle cx="184.9" cy="304.7" r="1.50" fill="#f3d2f1"/><circle cx="184.9" cy="304.7" r="0.90" fill="#50288a"/><circle cx="113.7" cy="309.8" r="1.51" fill="#f3d2f1"/><circle cx="113.7" cy="309.8" r="0.91" fill="#50288a"/><circle cx="121.8" cy="309.2" r="1.51" fill="#f3d2f1"/><circle cx="121.8" cy="309.2" r="0.91" fill="#50288a"/><circle cx="126.9" cy="306.5" r="1.38" fill="#f3d2f1"/><circle cx="126.9" cy="306.5" r="0.78" fill="#50288a"/><circle cx="170.0" cy="306.3" r="1.36" fill="#f3d2f1"/><circle cx="170.0" cy="306.3" r="0.76" fill="#50288a"/><circle cx="182.8" cy="306.5" r="1.35" fill="#f3d2f1"/><circle cx="182.8" cy="306.5" r="0.75" fill="#50288a"/><circle cx="188.6" cy="306.7" r="1.36" fill="#f3d2f1"/><circle cx="188.6" cy="306.7" r="0.76" fill="#50288a"/><circle cx="188.5" cy="309.3" r="1.60" fill="#f3d2f1"/><circle cx="188.5" cy="309.3" r="1.00" fill="#50288a"/><circle cx="132.0" cy="310.7" r="1.54" fill="#f3d2f1"/><circle cx="132.0" cy="310.7" r="0.94" fill="#50288a"/><circle cx="146.6" cy="311.6" r="1.44" fill="#f3d2f1"/><circle cx="146.6" cy="311.6" r="0.84" fill="#50288a"/><circle cx="174.7" cy="309.2" r="1.52" fill="#f3d2f1"/><circle cx="174.7" cy="309.2" r="0.92" fill="#50288a"/><circle cx="182.7" cy="309.7" r="1.36" fill="#f3d2f1"/><circle cx="182.7" cy="309.7" r="0.76" fill="#50288a"/><circle cx="118.9" cy="312.8" r="1.56" fill="#f3d2f1"/><circle cx="118.9" cy="312.8" r="0.96" fill="#50288a"/><circle cx="123.5" cy="313.9" r="1.32" fill="#f3d2f1"/><circle cx="123.5" cy="313.9" r="0.72" fill="#50288a"/><circle cx="128.7" cy="313.0" r="1.54" fill="#f3d2f1"/><circle cx="128.7" cy="313.0" r="0.94" fill="#50288a"/><circle cx="144.8" cy="311.6" r="1.37" fill="#f3d2f1"/><circle cx="144.8" cy="311.6" r="0.77" fill="#50288a"/><circle cx="149.7" cy="314.8" r="1.31" fill="#f3d2f1"/><circle cx="149.7" cy="314.8" r="0.71" fill="#50288a"/><circle cx="174.5" cy="312.1" r="1.49" fill="#f3d2f1"/><circle cx="174.5" cy="312.1" r="0.89" fill="#50288a"/><circle cx="183.3" cy="313.0" r="1.33" fill="#f3d2f1"/><circle cx="183.3" cy="313.0" r="0.73" fill="#50288a"/><circle cx="110.7" cy="316.1" r="1.33" fill="#f3d2f1"/><circle cx="110.7" cy="316.1" r="0.73" fill="#50288a"/><circle cx="114.7" cy="317.5" r="1.41" fill="#f3d2f1"/><circle cx="114.7" cy="317.5" r="0.81" fill="#50288a"/><circle cx="128.3" cy="315.8" r="1.59" fill="#f3d2f1"/><circle cx="128.3" cy="315.8" r="0.99" fill="#50288a"/><circle cx="152.8" cy="317.0" r="1.44" fill="#f3d2f1"/><circle cx="152.8" cy="317.0" r="0.84" fill="#50288a"/><circle cx="181.3" cy="316.9" r="1.53" fill="#f3d2f1"/><circle cx="181.3" cy="316.9" r="0.93" fill="#50288a"/><circle cx="193.7" cy="315.4" r="1.42" fill="#f3d2f1"/><circle cx="193.7" cy="315.4" r="0.82" fill="#50288a"/><circle cx="112.5" cy="318.0" r="1.51" fill="#f3d2f1"/><circle cx="112.5" cy="318.0" r="0.91" fill="#50288a"/><circle cx="135.7" cy="318.5" r="1.37" fill="#f3d2f1"/><circle cx="135.7" cy="318.5" r="0.77" fill="#50288a"/><circle cx="145.0" cy="318.7" r="1.39" fill="#f3d2f1"/><circle cx="145.0" cy="318.7" r="0.79" fill="#50288a"/><circle cx="158.5" cy="319.0" r="1.57" fill="#f3d2f1"/><circle cx="158.5" cy="319.0" r="0.97" fill="#50288a"/><circle cx="168.1" cy="319.6" r="1.52" fill="#f3d2f1"/><circle cx="168.1" cy="319.6" r="0.92" fill="#50288a"/><circle cx="182.4" cy="319.0" r="1.49" fill="#f3d2f1"/><circle cx="182.4" cy="319.0" r="0.89" fill="#50288a"/><circle cx="190.6" cy="321.3" r="1.57" fill="#f3d2f1"/><circle cx="190.6" cy="321.3" r="0.97" fill="#50288a"/><circle cx="195.4" cy="321.7" r="1.42" fill="#f3d2f1"/><circle cx="195.4" cy="321.7" r="0.82" fill="#50288a"/><circle cx="124.7" cy="322.6" r="1.54" fill="#f3d2f1"/><circle cx="124.7" cy="322.6" r="0.94" fill="#50288a"/><circle cx="131.2" cy="323.7" r="1.41" fill="#f3d2f1"/><circle cx="131.2" cy="323.7" r="0.81" fill="#50288a"/><circle cx="133.6" cy="323.2" r="1.57" fill="#f3d2f1"/><circle cx="133.6" cy="323.2" r="0.97" fill="#50288a"/><circle cx="148.4" cy="323.3" r="1.32" fill="#f3d2f1"/><circle cx="148.4" cy="323.3" r="0.72" fill="#50288a"/><circle cx="159.2" cy="322.1" r="1.40" fill="#f3d2f1"/><circle cx="159.2" cy="322.1" r="0.80" fill="#50288a"/><circle cx="189.8" cy="322.3" r="1.56" fill="#f3d2f1"/><circle cx="189.8" cy="322.3" r="0.96" fill="#50288a"/><circle cx="115.0" cy="324.9" r="1.58" fill="#f3d2f1"/><circle cx="115.0" cy="324.9" r="0.98" fill="#50288a"/><circle cx="124.8" cy="324.2" r="1.40" fill="#f3d2f1"/><circle cx="124.8" cy="324.2" r="0.80" fill="#50288a"/><circle cx="129.2" cy="326.4" r="1.57" fill="#f3d2f1"/><circle cx="129.2" cy="326.4" r="0.97" fill="#50288a"/><circle cx="143.0" cy="324.6" r="1.44" fill="#f3d2f1"/><circle cx="143.0" cy="324.6" r="0.84" fill="#50288a"/><circle cx="156.9" cy="325.0" r="1.48" fill="#f3d2f1"/><circle cx="156.9" cy="325.0" r="0.88" fill="#50288a"/><circle cx="167.6" cy="325.1" r="1.34" fill="#f3d2f1"/><circle cx="167.6" cy="325.1" r="0.74" fill="#50288a"/><circle cx="190.0" cy="324.4" r="1.44" fill="#f3d2f1"/><circle cx="190.0" cy="324.4" r="0.84" fill="#50288a"/><circle cx="114.6" cy="330.2" r="1.58" fill="#f3d2f1"/><circle cx="114.6" cy="330.2" r="0.98" fill="#50288a"/><circle cx="126.4" cy="329.2" r="1.44" fill="#f3d2f1"/><circle cx="126.4" cy="329.2" r="0.84" fill="#50288a"/><circle cx="152.0" cy="329.4" r="1.42" fill="#f3d2f1"/><circle cx="152.0" cy="329.4" r="0.82" fill="#50288a"/><circle cx="164.4" cy="328.4" r="1.40" fill="#f3d2f1"/><circle cx="164.4" cy="328.4" r="0.80" fill="#50288a"/><circle cx="168.4" cy="327.9" r="1.58" fill="#f3d2f1"/><circle cx="168.4" cy="327.9" r="0.98" fill="#50288a"/><circle cx="175.7" cy="327.6" r="1.38" fill="#f3d2f1"/><circle cx="175.7" cy="327.6" r="0.78" fill="#50288a"/><circle cx="179.6" cy="326.6" r="1.52" fill="#f3d2f1"/><circle cx="179.6" cy="326.6" r="0.92" fill="#50288a"/><circle cx="185.0" cy="328.2" r="1.36" fill="#f3d2f1"/><circle cx="185.0" cy="328.2" r="0.76" fill="#50288a"/><circle cx="187.3" cy="327.1" r="1.58" fill="#f3d2f1"/><circle cx="187.3" cy="327.1" r="0.98" fill="#50288a"/><circle cx="123.0" cy="332.0" r="1.42" fill="#f3d2f1"/><circle cx="123.0" cy="332.0" r="0.82" fill="#50288a"/><circle cx="150.5" cy="330.3" r="1.35" fill="#f3d2f1"/><circle cx="150.5" cy="330.3" r="0.75" fill="#50288a"/><circle cx="153.8" cy="329.6" r="1.37" fill="#f3d2f1"/><circle cx="153.8" cy="329.6" r="0.77" fill="#50288a"/><circle cx="160.6" cy="331.7" r="1.32" fill="#f3d2f1"/><circle cx="160.6" cy="331.7" r="0.72" fill="#50288a"/><circle cx="176.4" cy="332.7" r="1.31" fill="#f3d2f1"/><circle cx="176.4" cy="332.7" r="0.71" fill="#50288a"/><circle cx="186.4" cy="330.4" r="1.47" fill="#f3d2f1"/><circle cx="186.4" cy="330.4" r="0.87" fill="#50288a"/><circle cx="189.9" cy="330.0" r="1.44" fill="#f3d2f1"/><circle cx="189.9" cy="330.0" r="0.84" fill="#50288a"/><circle cx="113.6" cy="335.1" r="1.42" fill="#f3d2f1"/><circle cx="113.6" cy="335.1" r="0.82" fill="#50288a"/><circle cx="117.9" cy="334.3" r="1.37" fill="#f3d2f1"/><circle cx="117.9" cy="334.3" r="0.77" fill="#50288a"/><circle cx="123.6" cy="332.4" r="1.51" fill="#f3d2f1"/><circle cx="123.6" cy="332.4" r="0.91" fill="#50288a"/><circle cx="128.2" cy="332.7" r="1.56" fill="#f3d2f1"/><circle cx="128.2" cy="332.7" r="0.96" fill="#50288a"/><circle cx="137.2" cy="335.7" r="1.50" fill="#f3d2f1"/><circle cx="137.2" cy="335.7" r="0.90" fill="#50288a"/><circle cx="159.8" cy="335.2" r="1.39" fill="#f3d2f1"/><circle cx="159.8" cy="335.2" r="0.79" fill="#50288a"/><circle cx="175.2" cy="333.3" r="1.52" fill="#f3d2f1"/><circle cx="175.2" cy="333.3" r="0.92" fill="#50288a"/><circle cx="190.2" cy="335.0" r="1.38" fill="#f3d2f1"/><circle cx="190.2" cy="335.0" r="0.78" fill="#50288a"/><circle cx="110.6" cy="338.6" r="1.54" fill="#f3d2f1"/><circle cx="110.6" cy="338.6" r="0.94" fill="#50288a"/><circle cx="125.7" cy="336.3" r="1.44" fill="#f3d2f1"/><circle cx="125.7" cy="336.3" r="0.84" fill="#50288a"/><circle cx="152.4" cy="338.6" r="1.36" fill="#f3d2f1"/><circle cx="152.4" cy="338.6" r="0.76" fill="#50288a"/><circle cx="198.4" cy="336.6" r="1.50" fill="#f3d2f1"/><circle cx="198.4" cy="336.6" r="0.90" fill="#50288a"/><circle cx="137.3" cy="341.1" r="1.44" fill="#f3d2f1"/><circle cx="137.3" cy="341.1" r="0.84" fill="#50288a"/><circle cx="147.8" cy="340.8" r="1.30" fill="#f3d2f1"/><circle cx="147.8" cy="340.8" r="0.70" fill="#50288a"/><circle cx="178.5" cy="341.2" r="1.41" fill="#f3d2f1"/><circle cx="178.5" cy="341.2" r="0.81" fill="#50288a"/><circle cx="192.8" cy="339.9" r="1.50" fill="#f3d2f1"/><circle cx="192.8" cy="339.9" r="0.90" fill="#50288a"/><circle cx="195.2" cy="340.8" r="1.52" fill="#f3d2f1"/><circle cx="195.2" cy="340.8" r="0.92" fill="#50288a"/><circle cx="134.7" cy="341.8" r="1.34" fill="#f3d2f1"/><circle cx="134.7" cy="341.8" r="0.74" fill="#50288a"/><circle cx="144.9" cy="342.6" r="1.59" fill="#f3d2f1"/><circle cx="144.9" cy="342.6" r="0.99" fill="#50288a"/><circle cx="167.1" cy="345.6" r="1.38" fill="#f3d2f1"/><circle cx="167.1" cy="345.6" r="0.78" fill="#50288a"/><circle cx="176.0" cy="345.5" r="1.49" fill="#f3d2f1"/><circle cx="176.0" cy="345.5" r="0.89" fill="#50288a"/><circle cx="188.7" cy="341.7" r="1.44" fill="#f3d2f1"/><circle cx="188.7" cy="341.7" r="0.84" fill="#50288a"/><circle cx="133.9" cy="344.4" r="1.39" fill="#f3d2f1"/><circle cx="133.9" cy="344.4" r="0.79" fill="#50288a"/><circle cx="166.4" cy="346.2" r="1.35" fill="#f3d2f1"/><circle cx="166.4" cy="346.2" r="0.75" fill="#50288a"/><circle cx="169.7" cy="346.2" r="1.35" fill="#f3d2f1"/><circle cx="169.7" cy="346.2" r="0.75" fill="#50288a"/><circle cx="178.9" cy="346.7" r="1.36" fill="#f3d2f1"/><circle cx="178.9" cy="346.7" r="0.76" fill="#50288a"/><circle cx="183.0" cy="347.8" r="1.42" fill="#f3d2f1"/><circle cx="183.0" cy="347.8" r="0.82" fill="#50288a"/><circle cx="193.8" cy="344.8" r="1.40" fill="#f3d2f1"/><circle cx="193.8" cy="344.8" r="0.80" fill="#50288a"/><circle cx="113.6" cy="350.2" r="1.42" fill="#f3d2f1"/><circle cx="113.6" cy="350.2" r="0.82" fill="#50288a"/><circle cx="131.5" cy="348.7" r="1.33" fill="#f3d2f1"/><circle cx="131.5" cy="348.7" r="0.73" fill="#50288a"/><circle cx="165.3" cy="347.4" r="1.43" fill="#f3d2f1"/><circle cx="165.3" cy="347.4" r="0.83" fill="#50288a"/><circle cx="114.3" cy="353.1" r="1.47" fill="#f3d2f1"/><circle cx="114.3" cy="353.1" r="0.87" fill="#50288a"/><circle cx="117.7" cy="351.3" r="1.37" fill="#f3d2f1"/><circle cx="117.7" cy="351.3" r="0.77" fill="#50288a"/><circle cx="126.3" cy="350.3" r="1.33" fill="#f3d2f1"/><circle cx="126.3" cy="350.3" r="0.73" fill="#50288a"/><circle cx="127.2" cy="352.4" r="1.45" fill="#f3d2f1"/><circle cx="127.2" cy="352.4" r="0.85" fill="#50288a"/><circle cx="139.6" cy="352.8" r="1.44" fill="#f3d2f1"/><circle cx="139.6" cy="352.8" r="0.84" fill="#50288a"/><circle cx="146.0" cy="351.3" r="1.50" fill="#f3d2f1"/><circle cx="146.0" cy="351.3" r="0.90" fill="#50288a"/><circle cx="152.2" cy="352.1" r="1.46" fill="#f3d2f1"/><circle cx="152.2" cy="352.1" r="0.86" fill="#50288a"/><circle cx="157.1" cy="353.5" r="1.45" fill="#f3d2f1"/><circle cx="157.1" cy="353.5" r="0.85" fill="#50288a"/><circle cx="195.8" cy="351.5" r="1.54" fill="#f3d2f1"/><circle cx="195.8" cy="351.5" r="0.94" fill="#50288a"/><circle cx="130.6" cy="354.8" r="1.53" fill="#f3d2f1"/><circle cx="130.6" cy="354.8" r="0.93" fill="#50288a"/><circle cx="133.6" cy="354.7" r="1.60" fill="#f3d2f1"/><circle cx="133.6" cy="354.7" r="1.00" fill="#50288a"/><circle cx="140.3" cy="354.9" r="1.51" fill="#f3d2f1"/><circle cx="140.3" cy="354.9" r="0.91" fill="#50288a"/><circle cx="144.3" cy="355.2" r="1.31" fill="#f3d2f1"/><circle cx="144.3" cy="355.2" r="0.71" fill="#50288a"/><circle cx="180.3" cy="355.0" r="1.33" fill="#f3d2f1"/><circle cx="180.3" cy="355.0" r="0.73" fill="#50288a"/><circle cx="187.3" cy="354.8" r="1.41" fill="#f3d2f1"/><circle cx="187.3" cy="354.8" r="0.81" fill="#50288a"/><circle cx="188.4" cy="356.3" r="1.32" fill="#f3d2f1"/><circle cx="188.4" cy="356.3" r="0.72" fill="#50288a"/><circle cx="194.3" cy="353.2" r="1.60" fill="#f3d2f1"/><circle cx="194.3" cy="353.2" r="1.00" fill="#50288a"/><circle cx="109.7" cy="357.2" r="1.58" fill="#f3d2f1"/><circle cx="109.7" cy="357.2" r="0.98" fill="#50288a"/><circle cx="115.1" cy="357.4" r="1.38" fill="#f3d2f1"/><circle cx="115.1" cy="357.4" r="0.78" fill="#50288a"/><circle cx="152.1" cy="358.9" r="1.50" fill="#f3d2f1"/><circle cx="152.1" cy="358.9" r="0.90" fill="#50288a"/><circle cx="168.7" cy="357.4" r="1.52" fill="#f3d2f1"/><circle cx="168.7" cy="357.4" r="0.92" fill="#50288a"/><circle cx="136.5" cy="360.3" r="1.52" fill="#f3d2f1"/><circle cx="136.5" cy="360.3" r="0.92" fill="#50288a"/><circle cx="146.3" cy="360.7" r="1.54" fill="#f3d2f1"/><circle cx="146.3" cy="360.7" r="0.94" fill="#50288a"/><circle cx="155.8" cy="359.6" r="1.58" fill="#f3d2f1"/><circle cx="155.8" cy="359.6" r="0.98" fill="#50288a"/><circle cx="163.8" cy="360.6" r="1.42" fill="#f3d2f1"/><circle cx="163.8" cy="360.6" r="0.82" fill="#50288a"/><circle cx="166.7" cy="362.1" r="1.39" fill="#f3d2f1"/><circle cx="166.7" cy="362.1" r="0.79" fill="#50288a"/><circle cx="170.8" cy="359.2" r="1.59" fill="#f3d2f1"/><circle cx="170.8" cy="359.2" r="0.99" fill="#50288a"/><circle cx="175.5" cy="361.9" r="1.56" fill="#f3d2f1"/><circle cx="175.5" cy="361.9" r="0.96" fill="#50288a"/><circle cx="195.4" cy="360.5" r="1.59" fill="#f3d2f1"/><circle cx="195.4" cy="360.5" r="0.99" fill="#50288a"/><circle cx="158.7" cy="365.7" r="1.60" fill="#f3d2f1"/><circle cx="158.7" cy="365.7" r="1.00" fill="#50288a"/><circle cx="163.7" cy="363.6" r="1.48" fill="#f3d2f1"/><circle cx="163.7" cy="363.6" r="0.88" fill="#50288a"/><circle cx="167.0" cy="362.4" r="1.55" fill="#f3d2f1"/><circle cx="167.0" cy="362.4" r="0.95" fill="#50288a"/><circle cx="172.7" cy="363.8" r="1.52" fill="#f3d2f1"/><circle cx="172.7" cy="363.8" r="0.92" fill="#50288a"/><circle cx="178.8" cy="366.3" r="1.54" fill="#f3d2f1"/><circle cx="178.8" cy="366.3" r="0.94" fill="#50288a"/><circle cx="186.4" cy="365.9" r="1.47" fill="#f3d2f1"/><circle cx="186.4" cy="365.9" r="0.87" fill="#50288a"/><circle cx="191.1" cy="363.0" r="1.33" fill="#f3d2f1"/><circle cx="191.1" cy="363.0" r="0.73" fill="#50288a"/></g><rect x="113.8" y="281.3" width="81.2" height="81.3" fill="none" stroke="#1a1a1a" stroke-width="1.1"/>
<line x1="65.60" y1="250.20" x2="91.00" y2="250.20" stroke="#000" stroke-width="2" />
<line x1="232.10" y1="211.50" x2="232.10" y2="313.70" stroke="#111" stroke-width="1.3" />
<line x1="231.50" y1="313.10" x2="334.00" y2="313.10" stroke="#111" stroke-width="1.3" />
<line x1="227.10" y1="313.10" x2="232.10" y2="313.10" stroke="#111" stroke-width="1.3" />
<text transform="translate(224.50,316.70) scale(1,1.08)" x="0" y="0" font-size="11.6" text-anchor="end" fill="#111" stroke="#111" stroke-width="0.28" >0</text>
<line x1="227.10" y1="279.40" x2="232.10" y2="279.40" stroke="#111" stroke-width="1.3" />
<text transform="translate(224.50,284.10) scale(1,1.08)" x="0" y="0" font-size="11.6" text-anchor="end" fill="#111" stroke="#111" stroke-width="0.28" >2</text>
<line x1="227.10" y1="245.70" x2="232.10" y2="245.70" stroke="#111" stroke-width="1.3" />
<text transform="translate(224.50,250.30) scale(1,1.08)" x="0" y="0" font-size="11.6" text-anchor="end" fill="#111" stroke="#111" stroke-width="0.28" >4</text>
<line x1="227.10" y1="212.00" x2="232.10" y2="212.00" stroke="#111" stroke-width="1.3" />
<text transform="translate(224.50,220.00) scale(1,1.08)" x="0" y="0" font-size="11.6" text-anchor="end" fill="#111" stroke="#111" stroke-width="0.28" >6</text>
<text x="0" y="0" font-size="11.5" text-anchor="middle" fill="#111" transform="translate(212.3,263.7) rotate(-90)" stroke="#111" stroke-width="0.28">NAS</text>
<rect x="241.9" y="306.4" width="18.0" height="6.7" fill="#fff" stroke="#5a3d92" stroke-width="1.8"/>
<line x1="250.90" y1="302.32" x2="250.90" y2="310.40" stroke="#5a3d92" stroke-width="0.9" />
<line x1="247.40" y1="302.32" x2="254.40" y2="302.32" stroke="#5a3d92" stroke-width="0.9" />
<line x1="247.40" y1="310.40" x2="254.40" y2="310.40" stroke="#5a3d92" stroke-width="0.9" />
<circle cx="243.1" cy="313.1" r="2.3" fill="#9b80d4"/>
<circle cx="250.7" cy="313.1" r="2.3" fill="#9b80d4"/>
<circle cx="258.2" cy="313.1" r="2.3" fill="#9b80d4"/>
<circle cx="247" cy="296.2" r="2.3" fill="#9b80d4"/>
<circle cx="254.2" cy="296.2" r="2.3" fill="#9b80d4"/>
<line x1="250.90" y1="313.10" x2="250.90" y2="316.60" stroke="#111" stroke-width="1.2" />
<text x="0" y="0" font-size="11.9" text-anchor="end" fill="#111" transform="translate(257.4,325.6) rotate(-45)" stroke="#111" stroke-width="0.28">NCD</text>
<rect x="263.4" y="249.1" width="17.3" height="64.0" fill="#fff" stroke="#2150ee" stroke-width="1.8"/>
<line x1="272.05" y1="242.84" x2="272.05" y2="255.30" stroke="#2150ee" stroke-width="0.9" />
<line x1="268.55" y1="242.84" x2="275.55" y2="242.84" stroke="#2150ee" stroke-width="0.9" />
<line x1="268.55" y1="255.30" x2="275.55" y2="255.30" stroke="#2150ee" stroke-width="0.9" />
<circle cx="271.9" cy="228.9" r="2.3" fill="#1fa6ef"/>
<circle cx="269" cy="245.7" r="2.3" fill="#1fa6ef"/>
<circle cx="275.2" cy="245.7" r="2.3" fill="#1fa6ef"/>
<circle cx="269" cy="262.6" r="2.3" fill="#1fa6ef"/>
<circle cx="275.2" cy="262.6" r="2.3" fill="#1fa6ef"/>
<line x1="272.05" y1="313.10" x2="272.05" y2="316.60" stroke="#111" stroke-width="1.2" />
<text x="0" y="0" font-size="11.9" text-anchor="end" fill="#111" transform="translate(278.5,325.6) rotate(-45)" stroke="#111" stroke-width="0.28">HFD</text>
<rect x="284.6" y="242.3" width="17.6" height="70.8" fill="#fff" stroke="#267f84" stroke-width="1.8"/>
<line x1="293.40" y1="236.10" x2="293.40" y2="248.56" stroke="#267f84" stroke-width="0.9" />
<line x1="289.90" y1="236.10" x2="296.90" y2="236.10" stroke="#267f84" stroke-width="0.9" />
<line x1="289.90" y1="248.56" x2="296.90" y2="248.56" stroke="#267f84" stroke-width="0.9" />
<circle cx="289.5" cy="228.9" r="2.3" fill="#4cb6c0"/>
<circle cx="297" cy="228.9" r="2.3" fill="#4cb6c0"/>
<circle cx="290" cy="245.7" r="2.3" fill="#4cb6c0"/>
<circle cx="293.6" cy="245.7" r="2.3" fill="#4cb6c0"/>
<circle cx="297" cy="245.7" r="2.3" fill="#4cb6c0"/>
<circle cx="293.6" cy="262.6" r="2.3" fill="#4cb6c0"/>
<line x1="293.40" y1="313.10" x2="293.40" y2="316.60" stroke="#111" stroke-width="1.2" />
<text x="0" y="0" font-size="11.9" text-anchor="end" fill="#111" transform="translate(299.9,325.6) rotate(-45)" stroke="#111" stroke-width="0.28">PAIR-FED</text>
<rect x="305.9" y="290.4" width="17.7" height="22.7" fill="#fff" stroke="#f25a1f" stroke-width="1.8"/>
<line x1="314.75" y1="278.89" x2="314.75" y2="301.81" stroke="#f25a1f" stroke-width="0.9" />
<line x1="311.25" y1="278.89" x2="318.25" y2="278.89" stroke="#f25a1f" stroke-width="0.9" />
<line x1="311.25" y1="301.81" x2="318.25" y2="301.81" stroke="#f25a1f" stroke-width="0.9" />
<circle cx="311.4" cy="262.6" r="2.3" fill="#f48a5e"/>
<circle cx="318" cy="262.6" r="2.3" fill="#f48a5e"/>
<circle cx="314.9" cy="296.2" r="2.3" fill="#f48a5e"/>
<circle cx="311.4" cy="313.1" r="2.3" fill="#f48a5e"/>
<circle cx="318" cy="313.1" r="2.3" fill="#f48a5e"/>
<line x1="314.75" y1="313.10" x2="314.75" y2="316.60" stroke="#111" stroke-width="1.2" />
<text x="0" y="0" font-size="11.9" text-anchor="end" fill="#111" transform="translate(321.2,325.6) rotate(-45)" stroke="#111" stroke-width="0.28">VSG</text>
<text transform="translate(258,217.70000000000002) scale(1,1.2)" x="0" y="0" font-size="9.2" text-anchor="middle" fill="#111"><tspan font-style="italic">P</tspan>=0.0003</text>
<line x1="252.70" y1="219.80" x2="270.50" y2="219.80" stroke="#111" stroke-width="0.9" />
<text transform="translate(294.3,200.20000000000002) scale(1,1.2)" x="0" y="0" font-size="9.2" text-anchor="middle" fill="#111"><tspan font-style="italic">P</tspan>=0.0078</text>
<line x1="274.00" y1="203.20" x2="313.80" y2="203.20" stroke="#111" stroke-width="0.9" />
<text transform="translate(309.2,217.70000000000002) scale(1,1.2)" x="0" y="0" font-size="9.2" text-anchor="middle" fill="#111"><tspan font-style="italic">P</tspan>=0.0022</text>
<line x1="296.00" y1="219.80" x2="318.00" y2="219.80" stroke="#111" stroke-width="0.9" />
<line x1="392.50" y1="195.80" x2="392.50" y2="333.00" stroke="#111" stroke-width="1.3" />
<line x1="391.90" y1="332.40" x2="598.60" y2="332.40" stroke="#111" stroke-width="1.3" />
<line x1="386.50" y1="332.40" x2="392.50" y2="332.40" stroke="#111" stroke-width="1.3" />
<text transform="translate(384.20,335.70) scale(1,1.08)" x="0" y="0" font-size="11.6" text-anchor="end" fill="#111" stroke="#111" stroke-width="0.28" >25</text>
<line x1="386.50" y1="305.18" x2="392.50" y2="305.18" stroke="#111" stroke-width="1.3" />
<text transform="translate(384.20,309.40) scale(1,1.08)" x="0" y="0" font-size="11.6" text-anchor="end" fill="#111" stroke="#111" stroke-width="0.28" >30</text>
<line x1="386.50" y1="277.96" x2="392.50" y2="277.96" stroke="#111" stroke-width="1.3" />
<text transform="translate(384.20,283.10) scale(1,1.08)" x="0" y="0" font-size="11.6" text-anchor="end" fill="#111" stroke="#111" stroke-width="0.28" >35</text>
<line x1="386.50" y1="250.74" x2="392.50" y2="250.74" stroke="#111" stroke-width="1.3" />
<text transform="translate(384.20,256.80) scale(1,1.08)" x="0" y="0" font-size="11.6" text-anchor="end" fill="#111" stroke="#111" stroke-width="0.28" >40</text>
<line x1="386.50" y1="223.52" x2="392.50" y2="223.52" stroke="#111" stroke-width="1.3" />
<text transform="translate(384.20,230.50) scale(1,1.08)" x="0" y="0" font-size="11.6" text-anchor="end" fill="#111" stroke="#111" stroke-width="0.28" >45</text>
<line x1="386.50" y1="196.30" x2="392.50" y2="196.30" stroke="#111" stroke-width="1.3" />
<text transform="translate(384.20,204.20) scale(1,1.08)" x="0" y="0" font-size="11.6" text-anchor="end" fill="#111" stroke="#111" stroke-width="0.28" >50</text>
<line x1="402.50" y1="332.40" x2="402.50" y2="336.40" stroke="#111" stroke-width="1.3" />
<text transform="translate(402.20,352.00) scale(1,1.08)" x="0" y="0" font-size="11.4" text-anchor="middle" fill="#111" stroke="#111" stroke-width="0.28" >-1</text>
<line x1="423.10" y1="332.40" x2="423.10" y2="336.40" stroke="#111" stroke-width="1.3" />
<text transform="translate(422.80,352.00) scale(1,1.08)" x="0" y="0" font-size="11.4" text-anchor="middle" fill="#111" stroke="#111" stroke-width="0.28" >0</text>
<line x1="443.70" y1="332.40" x2="443.70" y2="336.40" stroke="#111" stroke-width="1.3" />
<text transform="translate(443.40,352.00) scale(1,1.08)" x="0" y="0" font-size="11.4" text-anchor="middle" fill="#111" stroke="#111" stroke-width="0.28" >1</text>
<line x1="464.30" y1="332.40" x2="464.30" y2="336.40" stroke="#111" stroke-width="1.3" />
<text transform="translate(464.00,352.00) scale(1,1.08)" x="0" y="0" font-size="11.4" text-anchor="middle" fill="#111" stroke="#111" stroke-width="0.28" >2</text>
<line x1="484.90" y1="332.40" x2="484.90" y2="336.40" stroke="#111" stroke-width="1.3" />
<text transform="translate(484.60,352.00) scale(1,1.08)" x="0" y="0" font-size="11.4" text-anchor="middle" fill="#111" stroke="#111" stroke-width="0.28" >3</text>
<line x1="505.50" y1="332.40" x2="505.50" y2="336.40" stroke="#111" stroke-width="1.3" />
<text transform="translate(505.20,352.00) scale(1,1.08)" x="0" y="0" font-size="11.4" text-anchor="middle" fill="#111" stroke="#111" stroke-width="0.28" >4</text>
<line x1="526.10" y1="332.40" x2="526.10" y2="336.40" stroke="#111" stroke-width="1.3" />
<text transform="translate(525.80,352.00) scale(1,1.08)" x="0" y="0" font-size="11.4" text-anchor="middle" fill="#111" stroke="#111" stroke-width="0.28" >5</text>
<line x1="546.70" y1="332.40" x2="546.70" y2="336.40" stroke="#111" stroke-width="1.3" />
<text transform="translate(546.40,352.00) scale(1,1.08)" x="0" y="0" font-size="11.4" text-anchor="middle" fill="#111" stroke="#111" stroke-width="0.28" >6</text>
<line x1="567.30" y1="332.40" x2="567.30" y2="336.40" stroke="#111" stroke-width="1.3" />
<text transform="translate(567.00,352.00) scale(1,1.08)" x="0" y="0" font-size="11.4" text-anchor="middle" fill="#111" stroke="#111" stroke-width="0.28" >7</text>
<line x1="587.90" y1="332.40" x2="587.90" y2="336.40" stroke="#111" stroke-width="1.3" />
<text transform="translate(587.60,352.00) scale(1,1.08)" x="0" y="0" font-size="11.4" text-anchor="middle" fill="#111" stroke="#111" stroke-width="0.28" >8</text>
<text transform="translate(492.20,371.80) scale(1,1.08)" x="0" y="0" font-size="11.7" text-anchor="middle" fill="#111" stroke="#111" stroke-width="0.28" >Weeks on surgery</text>
<text x="0" y="0" font-size="11.8" text-anchor="middle" fill="#111" transform="translate(364.3,263.2) rotate(-90)" stroke="#111" stroke-width="0.28">Weight (g)</text>
<line x1="402.50" y1="292.11" x2="402.50" y2="312.80" stroke="#5b3d9a" stroke-width="0.8" opacity="0.85"/>
<line x1="400.50" y1="292.11" x2="404.50" y2="292.11" stroke="#5b3d9a" stroke-width="0.8" opacity="0.85"/>
<line x1="400.50" y1="312.80" x2="404.50" y2="312.80" stroke="#5b3d9a" stroke-width="0.8" opacity="0.85"/>
<line x1="423.10" y1="290.48" x2="423.10" y2="303.55" stroke="#5b3d9a" stroke-width="0.8" opacity="0.85"/>
<line x1="421.10" y1="290.48" x2="425.10" y2="290.48" stroke="#5b3d9a" stroke-width="0.8" opacity="0.85"/>
<line x1="421.10" y1="303.55" x2="425.10" y2="303.55" stroke="#5b3d9a" stroke-width="0.8" opacity="0.85"/>
<line x1="443.70" y1="290.48" x2="443.70" y2="302.46" stroke="#5b3d9a" stroke-width="0.8" opacity="0.85"/>
<line x1="441.70" y1="290.48" x2="445.70" y2="290.48" stroke="#5b3d9a" stroke-width="0.8" opacity="0.85"/>
<line x1="441.70" y1="302.46" x2="445.70" y2="302.46" stroke="#5b3d9a" stroke-width="0.8" opacity="0.85"/>
<line x1="464.30" y1="288.30" x2="464.30" y2="301.37" stroke="#5b3d9a" stroke-width="0.8" opacity="0.85"/>
<line x1="462.30" y1="288.30" x2="466.30" y2="288.30" stroke="#5b3d9a" stroke-width="0.8" opacity="0.85"/>
<line x1="462.30" y1="301.37" x2="466.30" y2="301.37" stroke="#5b3d9a" stroke-width="0.8" opacity="0.85"/>
<line x1="484.90" y1="285.58" x2="484.90" y2="301.91" stroke="#5b3d9a" stroke-width="0.8" opacity="0.85"/>
<line x1="482.90" y1="285.58" x2="486.90" y2="285.58" stroke="#5b3d9a" stroke-width="0.8" opacity="0.85"/>
<line x1="482.90" y1="301.91" x2="486.90" y2="301.91" stroke="#5b3d9a" stroke-width="0.8" opacity="0.85"/>
<line x1="505.50" y1="284.49" x2="505.50" y2="303.00" stroke="#5b3d9a" stroke-width="0.8" opacity="0.85"/>
<line x1="503.50" y1="284.49" x2="507.50" y2="284.49" stroke="#5b3d9a" stroke-width="0.8" opacity="0.85"/>
<line x1="503.50" y1="303.00" x2="507.50" y2="303.00" stroke="#5b3d9a" stroke-width="0.8" opacity="0.85"/>
<line x1="526.10" y1="283.40" x2="526.10" y2="304.09" stroke="#5b3d9a" stroke-width="0.8" opacity="0.85"/>
<line x1="524.10" y1="283.40" x2="528.10" y2="283.40" stroke="#5b3d9a" stroke-width="0.8" opacity="0.85"/>
<line x1="524.10" y1="304.09" x2="528.10" y2="304.09" stroke="#5b3d9a" stroke-width="0.8" opacity="0.85"/>
<line x1="546.70" y1="283.95" x2="546.70" y2="301.37" stroke="#5b3d9a" stroke-width="0.8" opacity="0.85"/>
<line x1="544.70" y1="283.95" x2="548.70" y2="283.95" stroke="#5b3d9a" stroke-width="0.8" opacity="0.85"/>
<line x1="544.70" y1="301.37" x2="548.70" y2="301.37" stroke="#5b3d9a" stroke-width="0.8" opacity="0.85"/>
<line x1="567.30" y1="280.14" x2="567.30" y2="296.47" stroke="#5b3d9a" stroke-width="0.8" opacity="0.85"/>
<line x1="565.30" y1="280.14" x2="569.30" y2="280.14" stroke="#5b3d9a" stroke-width="0.8" opacity="0.85"/>
<line x1="565.30" y1="296.47" x2="569.30" y2="296.47" stroke="#5b3d9a" stroke-width="0.8" opacity="0.85"/>
<line x1="587.90" y1="281.23" x2="587.90" y2="297.56" stroke="#5b3d9a" stroke-width="0.8" opacity="0.85"/>
<line x1="585.90" y1="281.23" x2="589.90" y2="281.23" stroke="#5b3d9a" stroke-width="0.8" opacity="0.85"/>
<line x1="585.90" y1="297.56" x2="589.90" y2="297.56" stroke="#5b3d9a" stroke-width="0.8" opacity="0.85"/>
<polyline points="402.5,302.5 423.1,297.0 443.7,296.5 464.3,294.8 484.9,293.7 505.5,293.7 526.1,293.7 546.7,292.7 567.3,288.3 587.9,289.4" fill="none" stroke="#a58ee0" stroke-width="1.6"/>
<circle cx="402.5" cy="302.5" r="2.6" fill="#a58ee0"/>
<circle cx="423.1" cy="297.0" r="2.6" fill="#a58ee0"/>
<circle cx="443.7" cy="296.5" r="2.6" fill="#a58ee0"/>
<circle cx="464.3" cy="294.8" r="2.6" fill="#a58ee0"/>
<circle cx="484.9" cy="293.7" r="2.6" fill="#a58ee0"/>
<circle cx="505.5" cy="293.7" r="2.6" fill="#a58ee0"/>
<circle cx="526.1" cy="293.7" r="2.6" fill="#a58ee0"/>
<circle cx="546.7" cy="292.7" r="2.6" fill="#a58ee0"/>
<circle cx="567.3" cy="288.3" r="2.6" fill="#a58ee0"/>
<circle cx="587.9" cy="289.4" r="2.6" fill="#a58ee0"/>
<line x1="402.50" y1="233.32" x2="402.50" y2="254.01" stroke="#f07040" stroke-width="0.8" opacity="0.85"/>
<line x1="400.50" y1="233.32" x2="404.50" y2="233.32" stroke="#f07040" stroke-width="0.8" opacity="0.85"/>
<line x1="400.50" y1="254.01" x2="404.50" y2="254.01" stroke="#f07040" stroke-width="0.8" opacity="0.85"/>
<line x1="423.10" y1="236.04" x2="423.10" y2="258.91" stroke="#f07040" stroke-width="0.8" opacity="0.85"/>
<line x1="421.10" y1="236.04" x2="425.10" y2="236.04" stroke="#f07040" stroke-width="0.8" opacity="0.85"/>
<line x1="421.10" y1="258.91" x2="425.10" y2="258.91" stroke="#f07040" stroke-width="0.8" opacity="0.85"/>
<line x1="443.70" y1="286.13" x2="443.70" y2="297.01" stroke="#f07040" stroke-width="0.8" opacity="0.85"/>
<line x1="441.70" y1="286.13" x2="445.70" y2="286.13" stroke="#f07040" stroke-width="0.8" opacity="0.85"/>
<line x1="441.70" y1="297.01" x2="445.70" y2="297.01" stroke="#f07040" stroke-width="0.8" opacity="0.85"/>
<line x1="464.30" y1="287.21" x2="464.30" y2="297.01" stroke="#f07040" stroke-width="0.8" opacity="0.85"/>
<line x1="462.30" y1="287.21" x2="466.30" y2="287.21" stroke="#f07040" stroke-width="0.8" opacity="0.85"/>
<line x1="462.30" y1="297.01" x2="466.30" y2="297.01" stroke="#f07040" stroke-width="0.8" opacity="0.85"/>
<line x1="484.90" y1="282.86" x2="484.90" y2="293.75" stroke="#f07040" stroke-width="0.8" opacity="0.85"/>
<line x1="482.90" y1="282.86" x2="486.90" y2="282.86" stroke="#f07040" stroke-width="0.8" opacity="0.85"/>
<line x1="482.90" y1="293.75" x2="486.90" y2="293.75" stroke="#f07040" stroke-width="0.8" opacity="0.85"/>
<line x1="505.50" y1="270.34" x2="505.50" y2="287.76" stroke="#f07040" stroke-width="0.8" opacity="0.85"/>
<line x1="503.50" y1="270.34" x2="507.50" y2="270.34" stroke="#f07040" stroke-width="0.8" opacity="0.85"/>
<line x1="503.50" y1="287.76" x2="507.50" y2="287.76" stroke="#f07040" stroke-width="0.8" opacity="0.85"/>
<line x1="526.10" y1="264.89" x2="526.10" y2="284.49" stroke="#f07040" stroke-width="0.8" opacity="0.85"/>
<line x1="524.10" y1="264.89" x2="528.10" y2="264.89" stroke="#f07040" stroke-width="0.8" opacity="0.85"/>
<line x1="524.10" y1="284.49" x2="528.10" y2="284.49" stroke="#f07040" stroke-width="0.8" opacity="0.85"/>
<line x1="546.70" y1="260.54" x2="546.70" y2="284.49" stroke="#f07040" stroke-width="0.8" opacity="0.85"/>
<line x1="544.70" y1="260.54" x2="548.70" y2="260.54" stroke="#f07040" stroke-width="0.8" opacity="0.85"/>
<line x1="544.70" y1="284.49" x2="548.70" y2="284.49" stroke="#f07040" stroke-width="0.8" opacity="0.85"/>
<line x1="567.30" y1="256.73" x2="567.30" y2="281.77" stroke="#f07040" stroke-width="0.8" opacity="0.85"/>
<line x1="565.30" y1="256.73" x2="569.30" y2="256.73" stroke="#f07040" stroke-width="0.8" opacity="0.85"/>
<line x1="565.30" y1="281.77" x2="569.30" y2="281.77" stroke="#f07040" stroke-width="0.8" opacity="0.85"/>
<line x1="587.90" y1="251.83" x2="587.90" y2="277.96" stroke="#f07040" stroke-width="0.8" opacity="0.85"/>
<line x1="585.90" y1="251.83" x2="589.90" y2="251.83" stroke="#f07040" stroke-width="0.8" opacity="0.85"/>
<line x1="585.90" y1="277.96" x2="589.90" y2="277.96" stroke="#f07040" stroke-width="0.8" opacity="0.85"/>
<polyline points="402.5,243.7 423.1,247.5 443.7,291.6 464.3,292.1 484.9,288.3 505.5,279.0 526.1,274.7 546.7,272.5 567.3,269.2 587.9,264.9" fill="none" stroke="#f3a07c" stroke-width="1.6"/>
<path d="M399.9,245.7 L402.5,241.1 L405.1,245.7 Z" fill="#f3a07c"/>
<path d="M420.5,249.5 L423.1,244.9 L425.7,249.5 Z" fill="#f3a07c"/>
<path d="M441.1,293.6 L443.7,289.0 L446.3,293.6 Z" fill="#f3a07c"/>
<path d="M461.7,294.1 L464.3,289.5 L466.9,294.1 Z" fill="#f3a07c"/>
<path d="M482.3,290.3 L484.9,285.7 L487.5,290.3 Z" fill="#f3a07c"/>
<path d="M502.9,281.0 L505.5,276.4 L508.1,281.0 Z" fill="#f3a07c"/>
<path d="M523.5,276.7 L526.1,272.1 L528.7,276.7 Z" fill="#f3a07c"/>
<path d="M544.1,274.5 L546.7,269.9 L549.3,274.5 Z" fill="#f3a07c"/>
<path d="M564.7,271.2 L567.3,266.6 L569.9,271.2 Z" fill="#f3a07c"/>
<path d="M585.3,266.9 L587.9,262.3 L590.5,266.9 Z" fill="#f3a07c"/>
<line x1="402.50" y1="240.94" x2="402.50" y2="260.54" stroke="#3fa6b0" stroke-width="0.8" opacity="0.85"/>
<line x1="400.50" y1="240.94" x2="404.50" y2="240.94" stroke="#3fa6b0" stroke-width="0.8" opacity="0.85"/>
<line x1="400.50" y1="260.54" x2="404.50" y2="260.54" stroke="#3fa6b0" stroke-width="0.8" opacity="0.85"/>
<line x1="423.10" y1="247.47" x2="423.10" y2="264.89" stroke="#3fa6b0" stroke-width="0.8" opacity="0.85"/>
<line x1="421.10" y1="247.47" x2="425.10" y2="247.47" stroke="#3fa6b0" stroke-width="0.8" opacity="0.85"/>
<line x1="421.10" y1="264.89" x2="425.10" y2="264.89" stroke="#3fa6b0" stroke-width="0.8" opacity="0.85"/>
<line x1="443.70" y1="279.59" x2="443.70" y2="293.75" stroke="#3fa6b0" stroke-width="0.8" opacity="0.85"/>
<line x1="441.70" y1="279.59" x2="445.70" y2="279.59" stroke="#3fa6b0" stroke-width="0.8" opacity="0.85"/>
<line x1="441.70" y1="293.75" x2="445.70" y2="293.75" stroke="#3fa6b0" stroke-width="0.8" opacity="0.85"/>
<line x1="464.30" y1="281.77" x2="464.30" y2="294.84" stroke="#3fa6b0" stroke-width="0.8" opacity="0.85"/>
<line x1="462.30" y1="281.77" x2="466.30" y2="281.77" stroke="#3fa6b0" stroke-width="0.8" opacity="0.85"/>
<line x1="462.30" y1="294.84" x2="466.30" y2="294.84" stroke="#3fa6b0" stroke-width="0.8" opacity="0.85"/>
<line x1="484.90" y1="276.87" x2="484.90" y2="291.03" stroke="#3fa6b0" stroke-width="0.8" opacity="0.85"/>
<line x1="482.90" y1="276.87" x2="486.90" y2="276.87" stroke="#3fa6b0" stroke-width="0.8" opacity="0.85"/>
<line x1="482.90" y1="291.03" x2="486.90" y2="291.03" stroke="#3fa6b0" stroke-width="0.8" opacity="0.85"/>
<line x1="505.50" y1="264.35" x2="505.50" y2="282.86" stroke="#3fa6b0" stroke-width="0.8" opacity="0.85"/>
<line x1="503.50" y1="264.35" x2="507.50" y2="264.35" stroke="#3fa6b0" stroke-width="0.8" opacity="0.85"/>
<line x1="503.50" y1="282.86" x2="507.50" y2="282.86" stroke="#3fa6b0" stroke-width="0.8" opacity="0.85"/>
<line x1="526.10" y1="258.91" x2="526.10" y2="280.68" stroke="#3fa6b0" stroke-width="0.8" opacity="0.85"/>
<line x1="524.10" y1="258.91" x2="528.10" y2="258.91" stroke="#3fa6b0" stroke-width="0.8" opacity="0.85"/>
<line x1="524.10" y1="280.68" x2="528.10" y2="280.68" stroke="#3fa6b0" stroke-width="0.8" opacity="0.85"/>
<line x1="546.70" y1="250.20" x2="546.70" y2="275.24" stroke="#3fa6b0" stroke-width="0.8" opacity="0.85"/>
<line x1="544.70" y1="250.20" x2="548.70" y2="250.20" stroke="#3fa6b0" stroke-width="0.8" opacity="0.85"/>
<line x1="544.70" y1="275.24" x2="548.70" y2="275.24" stroke="#3fa6b0" stroke-width="0.8" opacity="0.85"/>
<line x1="567.30" y1="243.12" x2="567.30" y2="271.43" stroke="#3fa6b0" stroke-width="0.8" opacity="0.85"/>
<line x1="565.30" y1="243.12" x2="569.30" y2="243.12" stroke="#3fa6b0" stroke-width="0.8" opacity="0.85"/>
<line x1="565.30" y1="271.43" x2="569.30" y2="271.43" stroke="#3fa6b0" stroke-width="0.8" opacity="0.85"/>
<line x1="587.90" y1="237.13" x2="587.90" y2="267.62" stroke="#3fa6b0" stroke-width="0.8" opacity="0.85"/>
<line x1="585.90" y1="237.13" x2="589.90" y2="237.13" stroke="#3fa6b0" stroke-width="0.8" opacity="0.85"/>
<line x1="585.90" y1="267.62" x2="589.90" y2="267.62" stroke="#3fa6b0" stroke-width="0.8" opacity="0.85"/>
<polyline points="402.5,250.7 423.1,256.2 443.7,286.7 464.3,288.3 484.9,283.9 505.5,273.6 526.1,269.8 546.7,262.7 567.3,257.3 587.9,252.4" fill="none" stroke="#7ccfd3" stroke-width="1.6"/>
<path d="M399.9,252.7 L402.5,248.1 L405.1,252.7 Z" fill="#7ccfd3"/>
<path d="M420.5,258.2 L423.1,253.6 L425.7,258.2 Z" fill="#7ccfd3"/>
<path d="M441.1,288.7 L443.7,284.1 L446.3,288.7 Z" fill="#7ccfd3"/>
<path d="M461.7,290.3 L464.3,285.7 L466.9,290.3 Z" fill="#7ccfd3"/>
<path d="M482.3,285.9 L484.9,281.3 L487.5,285.9 Z" fill="#7ccfd3"/>
<path d="M502.9,275.6 L505.5,271.0 L508.1,275.6 Z" fill="#7ccfd3"/>
<path d="M523.5,271.8 L526.1,267.2 L528.7,271.8 Z" fill="#7ccfd3"/>
<path d="M544.1,264.7 L546.7,260.1 L549.3,264.7 Z" fill="#7ccfd3"/>
<path d="M564.7,259.3 L567.3,254.7 L569.9,259.3 Z" fill="#7ccfd3"/>
<path d="M585.3,254.4 L587.9,249.8 L590.5,254.4 Z" fill="#7ccfd3"/>
<line x1="402.50" y1="234.95" x2="402.50" y2="258.91" stroke="#1f6fe0" stroke-width="0.8" opacity="0.85"/>
<line x1="400.50" y1="234.95" x2="404.50" y2="234.95" stroke="#1f6fe0" stroke-width="0.8" opacity="0.85"/>
<line x1="400.50" y1="258.91" x2="404.50" y2="258.91" stroke="#1f6fe0" stroke-width="0.8" opacity="0.85"/>
<line x1="423.10" y1="236.04" x2="423.10" y2="259.99" stroke="#1f6fe0" stroke-width="0.8" opacity="0.85"/>
<line x1="421.10" y1="236.04" x2="425.10" y2="236.04" stroke="#1f6fe0" stroke-width="0.8" opacity="0.85"/>
<line x1="421.10" y1="259.99" x2="425.10" y2="259.99" stroke="#1f6fe0" stroke-width="0.8" opacity="0.85"/>
<line x1="443.70" y1="273.06" x2="443.70" y2="283.95" stroke="#1f6fe0" stroke-width="0.8" opacity="0.85"/>
<line x1="441.70" y1="273.06" x2="445.70" y2="273.06" stroke="#1f6fe0" stroke-width="0.8" opacity="0.85"/>
<line x1="441.70" y1="283.95" x2="445.70" y2="283.95" stroke="#1f6fe0" stroke-width="0.8" opacity="0.85"/>
<line x1="464.30" y1="274.15" x2="464.30" y2="280.68" stroke="#1f6fe0" stroke-width="0.8" opacity="0.85"/>
<line x1="462.30" y1="274.15" x2="466.30" y2="274.15" stroke="#1f6fe0" stroke-width="0.8" opacity="0.85"/>
<line x1="462.30" y1="280.68" x2="466.30" y2="280.68" stroke="#1f6fe0" stroke-width="0.8" opacity="0.85"/>
<line x1="484.90" y1="262.72" x2="484.90" y2="272.52" stroke="#1f6fe0" stroke-width="0.8" opacity="0.85"/>
<line x1="482.90" y1="262.72" x2="486.90" y2="262.72" stroke="#1f6fe0" stroke-width="0.8" opacity="0.85"/>
<line x1="482.90" y1="272.52" x2="486.90" y2="272.52" stroke="#1f6fe0" stroke-width="0.8" opacity="0.85"/>
<line x1="505.50" y1="257.27" x2="505.50" y2="268.16" stroke="#1f6fe0" stroke-width="0.8" opacity="0.85"/>
<line x1="503.50" y1="257.27" x2="507.50" y2="257.27" stroke="#1f6fe0" stroke-width="0.8" opacity="0.85"/>
<line x1="503.50" y1="268.16" x2="507.50" y2="268.16" stroke="#1f6fe0" stroke-width="0.8" opacity="0.85"/>
<line x1="526.10" y1="249.11" x2="526.10" y2="262.17" stroke="#1f6fe0" stroke-width="0.8" opacity="0.85"/>
<line x1="524.10" y1="249.11" x2="528.10" y2="249.11" stroke="#1f6fe0" stroke-width="0.8" opacity="0.85"/>
<line x1="524.10" y1="262.17" x2="528.10" y2="262.17" stroke="#1f6fe0" stroke-width="0.8" opacity="0.85"/>
<line x1="546.70" y1="239.85" x2="546.70" y2="256.18" stroke="#1f6fe0" stroke-width="0.8" opacity="0.85"/>
<line x1="544.70" y1="239.85" x2="548.70" y2="239.85" stroke="#1f6fe0" stroke-width="0.8" opacity="0.85"/>
<line x1="544.70" y1="256.18" x2="548.70" y2="256.18" stroke="#1f6fe0" stroke-width="0.8" opacity="0.85"/>
<line x1="567.30" y1="227.33" x2="567.30" y2="251.28" stroke="#1f6fe0" stroke-width="0.8" opacity="0.85"/>
<line x1="565.30" y1="227.33" x2="569.30" y2="227.33" stroke="#1f6fe0" stroke-width="0.8" opacity="0.85"/>
<line x1="565.30" y1="251.28" x2="569.30" y2="251.28" stroke="#1f6fe0" stroke-width="0.8" opacity="0.85"/>
<line x1="587.90" y1="212.09" x2="587.90" y2="246.93" stroke="#1f6fe0" stroke-width="0.8" opacity="0.85"/>
<line x1="585.90" y1="212.09" x2="589.90" y2="212.09" stroke="#1f6fe0" stroke-width="0.8" opacity="0.85"/>
<line x1="585.90" y1="246.93" x2="589.90" y2="246.93" stroke="#1f6fe0" stroke-width="0.8" opacity="0.85"/>
<polyline points="402.5,246.9 423.1,248.0 443.7,278.5 464.3,277.4 484.9,267.6 505.5,262.7 526.1,255.6 546.7,248.0 567.3,239.3 587.9,229.5" fill="none" stroke="#22b4f2" stroke-width="1.6"/>
<rect x="399.8" y="244.2" width="5.4" height="5.4" fill="#22b4f2"/>
<rect x="420.4" y="245.3" width="5.4" height="5.4" fill="#22b4f2"/>
<rect x="441.0" y="275.8" width="5.4" height="5.4" fill="#22b4f2"/>
<rect x="461.6" y="274.7" width="5.4" height="5.4" fill="#22b4f2"/>
<rect x="482.2" y="264.9" width="5.4" height="5.4" fill="#22b4f2"/>
<rect x="502.8" y="260.0" width="5.4" height="5.4" fill="#22b4f2"/>
<rect x="523.4" y="252.9" width="5.4" height="5.4" fill="#22b4f2"/>
<rect x="544.0" y="245.3" width="5.4" height="5.4" fill="#22b4f2"/>
<rect x="564.6" y="236.6" width="5.4" height="5.4" fill="#22b4f2"/>
<rect x="585.2" y="226.8" width="5.4" height="5.4" fill="#22b4f2"/>
<text transform="translate(421.80,203.80) scale(1,1.08)" x="0" y="0" font-size="11.5" text-anchor="middle" fill="#c0101e" stroke="#c0101e" stroke-width="0.28" >Surgery</text>
<line x1="423.00" y1="209.00" x2="423.00" y2="226.00" stroke="#c0101e" stroke-width="1.6" />
<path d="M418.8,224 L427.2,224 L423,232.5 Z" fill="#c0101e"/>
<text transform="translate(563.50,196.20) scale(1,1.08)" x="0" y="0" font-size="11.5" text-anchor="middle" fill="#c0101e" stroke="#c0101e" stroke-width="0.28" >IPGTT&amp;ITT</text>
<line x1="567.20" y1="198.50" x2="567.20" y2="215.00" stroke="#c0101e" stroke-width="1.6" />
<path d="M563,213.5 L571.4,213.5 L567.2,222 Z" fill="#c0101e"/>
<line x1="598.60" y1="227.30" x2="598.60" y2="289.40" stroke="#333" stroke-width="1.25" />
<line x1="616.70" y1="228.60" x2="616.70" y2="264.30" stroke="#333" stroke-width="1.25" />
<line x1="635.00" y1="220.00" x2="635.00" y2="248.90" stroke="#333" stroke-width="1.25" />
<text x="0" y="0" font-size="9.6" text-anchor="middle" fill="#111" transform="translate(605.8,255.6) rotate(90) scale(0.93,1)"><tspan font-style="italic">P</tspan>&lt;0.0001</text>
<text x="0" y="0" font-size="9.6" text-anchor="middle" fill="#111" transform="translate(620.0999999999999,249.4) rotate(90) scale(0.93,1)"><tspan font-style="italic">P</tspan>=0.0010</text>
<text x="0" y="0" font-size="9.6" text-anchor="middle" fill="#111" transform="translate(641.5999999999999,234.5) rotate(90) scale(0.93,1)"><tspan font-style="italic">P</tspan>=0.0349</text>
<line x1="614.80" y1="296.70" x2="624.80" y2="296.70" stroke="#a58ee0" stroke-width="1.5" />
<circle cx="619.8" cy="296.7" r="2.2" fill="#a58ee0"/>
<text transform="translate(631.00,300.80) scale(1,1.08)" x="0" y="0" font-size="11.5" text-anchor="start" fill="#111" stroke="#111" stroke-width="0.28" >NCD</text>
<line x1="614.80" y1="312.30" x2="624.80" y2="312.30" stroke="#22b4f2" stroke-width="1.5" />
<rect x="617.5999999999999" y="310.1" width="4.4" height="4.4" fill="#22b4f2"/>
<text transform="translate(631.00,316.40) scale(1,1.08)" x="0" y="0" font-size="11.5" text-anchor="start" fill="#111" stroke="#111" stroke-width="0.28" >HFD</text>
<line x1="614.80" y1="328.00" x2="624.80" y2="328.00" stroke="#7ccfd3" stroke-width="1.5" />
<path d="M617.5,329.8 L619.8,325.7 L622.0999999999999,329.8 Z" fill="#7ccfd3"/>
<text transform="translate(631.00,332.10) scale(1,1.08)" x="0" y="0" font-size="11.5" text-anchor="start" fill="#111" stroke="#111" stroke-width="0.28" >PAIR-FED</text>
<line x1="614.80" y1="343.40" x2="624.80" y2="343.40" stroke="#f3a07c" stroke-width="1.5" />
<path d="M617.5,345.2 L619.8,341.09999999999997 L622.0999999999999,345.2 Z" fill="#f3a07c"/>
<text transform="translate(631.00,347.50) scale(1,1.08)" x="0" y="0" font-size="11.5" text-anchor="start" fill="#111" stroke="#111" stroke-width="0.28" >VSG</text>
<path d="M73.1,454.5 L73.10,391.30 A63.2,63.2 0 0 1 130.51,480.93 Z" fill="#dde8fa" stroke="#dde8fa" stroke-width="0.3"/>
<path d="M73.1,454.5 L130.51,480.93 A63.2,63.2 0 0 1 81.75,517.11 Z" fill="#bbd2f7" stroke="#bbd2f7" stroke-width="0.3"/>
<path d="M73.1,454.5 L81.75,517.11 A63.2,63.2 0 0 1 36.35,505.91 Z" fill="#8fb4f1" stroke="#8fb4f1" stroke-width="0.3"/>
<path d="M73.1,454.5 L36.35,505.91 A63.2,63.2 0 0 1 15.32,480.10 Z" fill="#5e92eb" stroke="#5e92eb" stroke-width="0.3"/>
<path d="M73.1,454.5 L15.32,480.10 A63.2,63.2 0 0 1 9.90,454.17 Z" fill="#2b74ea" stroke="#2b74ea" stroke-width="0.3"/>
<path d="M73.1,454.5 L9.90,454.17 A63.2,63.2 0 0 1 73.10,391.30 Z" fill="#0c55c8" stroke="#0c55c8" stroke-width="0.3"/>
<text transform="translate(98.80,444.30) scale(1,1.08)" x="0" y="0" font-size="10.6" text-anchor="middle" fill="#111" stroke="#111" stroke-width="0.28" >1247</text>
<text transform="translate(95.50,495.80) scale(1,1.08)" x="0" y="0" font-size="10.6" text-anchor="middle" fill="#111" stroke="#111" stroke-width="0.28" >624</text>
<text transform="translate(58.80,502.70) scale(1,1.08)" x="0" y="0" font-size="10.6" text-anchor="middle" fill="#111" stroke="#111" stroke-width="0.28" >472</text>
<text transform="translate(37.10,488.40) scale(1,1.08)" x="0" y="0" font-size="10.6" text-anchor="middle" fill="#111" stroke="#111" stroke-width="0.28" >332</text>
<text transform="translate(29.50,466.40) scale(1,1.08)" x="0" y="0" font-size="10.6" text-anchor="middle" fill="#111" stroke="#111" stroke-width="0.28" >263</text>
<text transform="translate(44.40,437.10) scale(1,1.08)" x="0" y="0" font-size="10.6" text-anchor="middle" fill="#111" stroke="#111" stroke-width="0.28" >975</text>
<rect x="105.00" y="527.80" width="10.60" height="2.80" fill="#dde8fa" />
<text transform="translate(121.40,534.00) scale(1,1.08)" x="0" y="0" font-size="11.3" text-anchor="start" fill="#111" stroke="#111" stroke-width="0.28" >1 site</text>
<rect x="105.00" y="538.72" width="10.60" height="2.80" fill="#bbd2f7" />
<text transform="translate(121.40,544.92) scale(1,1.08)" x="0" y="0" font-size="11.3" text-anchor="start" fill="#111" stroke="#111" stroke-width="0.28" >2 site</text>
<rect x="105.00" y="549.64" width="10.60" height="2.80" fill="#8fb4f1" />
<text transform="translate(121.40,555.84) scale(1,1.08)" x="0" y="0" font-size="11.3" text-anchor="start" fill="#111" stroke="#111" stroke-width="0.28" >3 site</text>
<rect x="105.00" y="560.56" width="10.60" height="2.80" fill="#5e92eb" />
<text transform="translate(121.40,566.76) scale(1,1.08)" x="0" y="0" font-size="11.3" text-anchor="start" fill="#111" stroke="#111" stroke-width="0.28" >4 site</text>
<rect x="105.00" y="571.48" width="10.60" height="2.80" fill="#2b74ea" />
<text transform="translate(121.40,577.68) scale(1,1.08)" x="0" y="0" font-size="11.3" text-anchor="start" fill="#111" stroke="#111" stroke-width="0.28" >5 site</text>
<rect x="105.00" y="582.40" width="10.60" height="2.80" fill="#0c55c8" />
<text transform="translate(121.40,588.60) scale(1,1.08)" x="0" y="0" font-size="11.3" text-anchor="start" fill="#111" stroke="#111" stroke-width="0.28" >&#8805;6 site</text>
<ellipse cx="198.50" cy="390.00" rx="5.05" ry="4.7" fill="#b7c9f7"/>
<ellipse cx="210.89" cy="390.00" rx="5.05" ry="4.7" fill="#b7c9f7"/>
<ellipse cx="223.28" cy="390.00" rx="5.05" ry="4.7" fill="#b7c9f7"/>
<ellipse cx="235.67" cy="390.00" rx="5.05" ry="4.7" fill="#b7c9f7"/>
<ellipse cx="248.06" cy="390.00" rx="5.05" ry="4.7" fill="#b7c9f7"/>
<ellipse cx="260.45" cy="390.00" rx="5.05" ry="4.7" fill="#b7c9f7"/>
<ellipse cx="272.84" cy="390.00" rx="5.05" ry="4.7" fill="#b7c9f7"/>
<ellipse cx="285.23" cy="390.00" rx="5.05" ry="4.7" fill="#b7c9f7"/>
<ellipse cx="297.62" cy="390.00" rx="5.05" ry="4.7" fill="#b7c9f7"/>
<ellipse cx="310.01" cy="390.00" rx="5.05" ry="4.7" fill="#b7c9f7"/>
<ellipse cx="198.50" cy="401.57" rx="5.05" ry="4.7" fill="#b7c9f7"/>
<ellipse cx="210.89" cy="401.57" rx="5.05" ry="4.7" fill="#b7c9f7"/>
<ellipse cx="223.28" cy="401.57" rx="5.05" ry="4.7" fill="#b7c9f7"/>
<ellipse cx="235.67" cy="401.57" rx="5.05" ry="4.7" fill="#b7c9f7"/>
<ellipse cx="248.06" cy="401.57" rx="5.05" ry="4.7" fill="#b7c9f7"/>
<ellipse cx="260.45" cy="401.57" rx="5.05" ry="4.7" fill="#b7c9f7"/>
<ellipse cx="272.84" cy="401.57" rx="5.05" ry="4.7" fill="#b7c9f7"/>
<ellipse cx="285.23" cy="401.57" rx="5.05" ry="4.7" fill="#b7c9f7"/>
<ellipse cx="297.62" cy="401.57" rx="5.05" ry="4.7" fill="#b7c9f7"/>
<ellipse cx="310.01" cy="401.57" rx="5.05" ry="4.7" fill="#b7c9f7"/>
<ellipse cx="198.50" cy="413.14" rx="5.05" ry="4.7" fill="#b7c9f7"/>
<ellipse cx="210.89" cy="413.14" rx="5.05" ry="4.7" fill="#b7c9f7"/>
<ellipse cx="223.28" cy="413.14" rx="5.05" ry="4.7" fill="#b7c9f7"/>
<ellipse cx="235.67" cy="413.14" rx="5.05" ry="4.7" fill="#b7c9f7"/>
<ellipse cx="248.06" cy="413.14" rx="5.05" ry="4.7" fill="#b7c9f7"/>
<ellipse cx="260.45" cy="413.14" rx="5.05" ry="4.7" fill="#b7c9f7"/>
<ellipse cx="272.84" cy="413.14" rx="5.05" ry="4.7" fill="#b7c9f7"/>
<ellipse cx="285.23" cy="413.14" rx="5.05" ry="4.7" fill="#b7c9f7"/>
<ellipse cx="297.62" cy="413.14" rx="5.05" ry="4.7" fill="#b7c9f7"/>
<ellipse cx="310.01" cy="413.14" rx="5.05" ry="4.7" fill="#b7c9f7"/>
<ellipse cx="198.50" cy="424.71" rx="5.05" ry="4.7" fill="#b7c9f7"/>
<ellipse cx="210.89" cy="424.71" rx="5.05" ry="4.7" fill="#b7c9f7"/>
<ellipse cx="223.28" cy="424.71" rx="5.05" ry="4.7" fill="#b7c9f7"/>
<ellipse cx="235.67" cy="424.71" rx="5.05" ry="4.7" fill="#b7c9f7"/>
<ellipse cx="248.06" cy="424.71" rx="5.05" ry="4.7" fill="#b7c9f7"/>
<ellipse cx="260.45" cy="424.71" rx="5.05" ry="4.7" fill="#b7c9f7"/>
<ellipse cx="272.84" cy="424.71" rx="5.05" ry="4.7" fill="#b7c9f7"/>
<ellipse cx="285.23" cy="424.71" rx="5.05" ry="4.7" fill="#b7c9f7"/>
<ellipse cx="297.62" cy="424.71" rx="5.05" ry="4.7" fill="#b7c9f7"/>
<ellipse cx="310.01" cy="424.71" rx="5.05" ry="4.7" fill="#b7c9f7"/>
<ellipse cx="198.50" cy="436.28" rx="5.05" ry="4.7" fill="#b7c9f7"/>
<ellipse cx="210.89" cy="436.28" rx="5.05" ry="4.7" fill="#b7c9f7"/>
<ellipse cx="223.28" cy="436.28" rx="5.05" ry="4.7" fill="#b7c9f7"/>
<ellipse cx="235.67" cy="436.28" rx="5.05" ry="4.7" fill="#5ea3f7"/>
<ellipse cx="248.06" cy="436.28" rx="5.05" ry="4.7" fill="#5ea3f7"/>
<ellipse cx="260.45" cy="436.28" rx="5.05" ry="4.7" fill="#5ea3f7"/>
<ellipse cx="272.84" cy="436.28" rx="5.05" ry="4.7" fill="#5ea3f7"/>
<ellipse cx="285.23" cy="436.28" rx="5.05" ry="4.7" fill="#5ea3f7"/>
<ellipse cx="297.62" cy="436.28" rx="5.05" ry="4.7" fill="#5ea3f7"/>
<ellipse cx="310.01" cy="436.28" rx="5.05" ry="4.7" fill="#5ea3f7"/>
<ellipse cx="198.50" cy="447.85" rx="5.05" ry="4.7" fill="#5ea3f7"/>
<ellipse cx="210.89" cy="447.85" rx="5.05" ry="4.7" fill="#5ea3f7"/>
<ellipse cx="223.28" cy="447.85" rx="5.05" ry="4.7" fill="#5ea3f7"/>
<ellipse cx="235.67" cy="447.85" rx="5.05" ry="4.7" fill="#5ea3f7"/>
<ellipse cx="248.06" cy="447.85" rx="5.05" ry="4.7" fill="#5ea3f7"/>
<ellipse cx="260.45" cy="447.85" rx="5.05" ry="4.7" fill="#5ea3f7"/>
<ellipse cx="272.84" cy="447.85" rx="5.05" ry="4.7" fill="#5ea3f7"/>
<ellipse cx="285.23" cy="447.85" rx="5.05" ry="4.7" fill="#5ea3f7"/>
<ellipse cx="297.62" cy="447.85" rx="5.05" ry="4.7" fill="#5ea3f7"/>
<ellipse cx="310.01" cy="447.85" rx="5.05" ry="4.7" fill="#5ea3f7"/>
<ellipse cx="198.50" cy="459.42" rx="5.05" ry="4.7" fill="#5ea3f7"/>
<ellipse cx="210.89" cy="459.42" rx="5.05" ry="4.7" fill="#88a5d4"/>
<ellipse cx="223.28" cy="459.42" rx="5.05" ry="4.7" fill="#88a5d4"/>
<ellipse cx="235.67" cy="459.42" rx="5.05" ry="4.7" fill="#88a5d4"/>
<ellipse cx="248.06" cy="459.42" rx="5.05" ry="4.7" fill="#88a5d4"/>
<ellipse cx="260.45" cy="459.42" rx="5.05" ry="4.7" fill="#88a5d4"/>
<ellipse cx="272.84" cy="459.42" rx="5.05" ry="4.7" fill="#88a5d4"/>
<ellipse cx="285.23" cy="459.42" rx="5.05" ry="4.7" fill="#88a5d4"/>
<ellipse cx="297.62" cy="459.42" rx="5.05" ry="4.7" fill="#88a5d4"/>
<ellipse cx="310.01" cy="459.42" rx="5.05" ry="4.7" fill="#88a5d4"/>
<ellipse cx="198.50" cy="470.99" rx="5.05" ry="4.7" fill="#88a5d4"/>
<ellipse cx="210.89" cy="470.99" rx="5.05" ry="4.7" fill="#88a5d4"/>
<ellipse cx="223.28" cy="470.99" rx="5.05" ry="4.7" fill="#88a5d4"/>
<ellipse cx="235.67" cy="470.99" rx="5.05" ry="4.7" fill="#88a5d4"/>
<ellipse cx="248.06" cy="470.99" rx="5.05" ry="4.7" fill="#88c8ec"/>
<ellipse cx="260.45" cy="470.99" rx="5.05" ry="4.7" fill="#88c8ec"/>
<ellipse cx="272.84" cy="470.99" rx="5.05" ry="4.7" fill="#88c8ec"/>
<ellipse cx="285.23" cy="470.99" rx="5.05" ry="4.7" fill="#88c8ec"/>
<ellipse cx="297.62" cy="470.99" rx="5.05" ry="4.7" fill="#88c8ec"/>
<ellipse cx="310.01" cy="470.99" rx="5.05" ry="4.7" fill="#88c8ec"/>
<ellipse cx="198.50" cy="482.56" rx="5.05" ry="4.7" fill="#88c8ec"/>
<ellipse cx="210.89" cy="482.56" rx="5.05" ry="4.7" fill="#88c8ec"/>
<ellipse cx="223.28" cy="482.56" rx="5.05" ry="4.7" fill="#88c8ec"/>
<ellipse cx="235.67" cy="482.56" rx="5.05" ry="4.7" fill="#e4d0f3"/>
<ellipse cx="248.06" cy="482.56" rx="5.05" ry="4.7" fill="#e4d0f3"/>
<ellipse cx="260.45" cy="482.56" rx="5.05" ry="4.7" fill="#e4d0f3"/>
<ellipse cx="272.84" cy="482.56" rx="5.05" ry="4.7" fill="#e4d0f3"/>
<ellipse cx="285.23" cy="482.56" rx="5.05" ry="4.7" fill="#e4d0f3"/>
<ellipse cx="297.62" cy="482.56" rx="5.05" ry="4.7" fill="#e4d0f3"/>
<ellipse cx="310.01" cy="482.56" rx="5.05" ry="4.7" fill="#e4d0f3"/>
<ellipse cx="198.50" cy="494.13" rx="5.05" ry="4.7" fill="#e4d0f3"/>
<ellipse cx="210.89" cy="494.13" rx="5.05" ry="4.7" fill="#fcdcdf"/>
<ellipse cx="223.28" cy="494.13" rx="5.05" ry="4.7" fill="#fcdcdf"/>
<ellipse cx="235.67" cy="494.13" rx="5.05" ry="4.7" fill="#fcdcdf"/>
<ellipse cx="248.06" cy="494.13" rx="5.05" ry="4.7" fill="#fcdcdf"/>
<ellipse cx="260.45" cy="494.13" rx="5.05" ry="4.7" fill="#fcdcdf"/>
<ellipse cx="272.84" cy="494.13" rx="5.05" ry="4.7" fill="#fcdcdf"/>
<ellipse cx="285.23" cy="494.13" rx="5.05" ry="4.7" fill="#fcdcdf"/>
<ellipse cx="297.62" cy="494.13" rx="5.05" ry="4.7" fill="#d3d3d3"/>
<ellipse cx="310.01" cy="494.13" rx="5.05" ry="4.7" fill="#d3d3d3"/>
<rect x="192.70" y="509.60" width="12.20" height="2.80" fill="#b7c9f7" />
<text transform="translate(213.70,516.10) scale(1,1.08)" x="0" y="0" font-size="11.5" text-anchor="start" fill="#111" stroke="#111" stroke-width="0.28" >Cytoplasm</text>
<rect x="192.70" y="522.28" width="12.20" height="2.80" fill="#5ea3f7" />
<text transform="translate(213.70,528.78) scale(1,1.08)" x="0" y="0" font-size="11.5" text-anchor="start" fill="#111" stroke="#111" stroke-width="0.28" >Mitochondria</text>
<rect x="192.70" y="534.96" width="12.20" height="2.80" fill="#88a5d4" />
<text transform="translate(213.70,541.46) scale(1,1.08)" x="0" y="0" font-size="11.5" text-anchor="start" fill="#111" stroke="#111" stroke-width="0.28" >Nucleus</text>
<rect x="192.70" y="547.64" width="12.20" height="2.80" fill="#88c8ec" />
<text transform="translate(213.70,554.14) scale(1,1.08)" x="0" y="0" font-size="11.5" text-anchor="start" fill="#111" stroke="#111" stroke-width="0.28" >Extra cellular</text>
<rect x="192.70" y="560.32" width="12.20" height="2.80" fill="#e4d0f3" />
<text transform="translate(213.70,566.82) scale(1,1.08)" x="0" y="0" font-size="11.5" text-anchor="start" fill="#111" stroke="#111" stroke-width="0.28" >Plasma membrane</text>
<rect x="192.70" y="573.00" width="12.20" height="2.80" fill="#fcdcdf" />
<text transform="translate(213.70,579.50) scale(1,1.08)" x="0" y="0" font-size="11.5" text-anchor="start" fill="#111" stroke="#111" stroke-width="0.28" >Endoplasmic reticulum</text>
<rect x="192.70" y="585.68" width="12.20" height="2.80" fill="#d3d3d3" />
<text transform="translate(213.70,592.18) scale(1,1.08)" x="0" y="0" font-size="11.5" text-anchor="start" fill="#111" stroke="#111" stroke-width="0.28" >Other</text>
<defs><path id="gA" d="M1167 0 1006 412H364L202 0H4L579 1409H796L1362 0ZM685 1265 676 1237Q651 1154 602 1024L422 561H949L768 1026Q740 1095 712 1182Z"/><path id="gC" d="M792 1274Q558 1274 428.0 1123.5Q298 973 298 711Q298 452 433.5 294.5Q569 137 800 137Q1096 137 1245 430L1401 352Q1314 170 1156.5 75.0Q999 -20 791 -20Q578 -20 422.5 68.5Q267 157 185.5 321.5Q104 486 104 711Q104 1048 286.0 1239.0Q468 1430 790 1430Q1015 1430 1166.0 1342.0Q1317 1254 1388 1081L1207 1021Q1158 1144 1049.5 1209.0Q941 1274 792 1274Z"/><path id="gD" d="M1381 719Q1381 501 1296.0 337.5Q1211 174 1055.0 87.0Q899 0 695 0H168V1409H634Q992 1409 1186.5 1229.5Q1381 1050 1381 719ZM1189 719Q1189 981 1045.5 1118.5Q902 1256 630 1256H359V153H673Q828 153 945.5 221.0Q1063 289 1126.0 417.0Q1189 545 1189 719Z"/><path id="gE" d="M168 0V1409H1237V1253H359V801H1177V647H359V156H1278V0Z"/><path id="gF" d="M359 1253V729H1145V571H359V0H168V1409H1169V1253Z"/><path id="gG" d="M103 711Q103 1054 287.0 1242.0Q471 1430 804 1430Q1038 1430 1184.0 1351.0Q1330 1272 1409 1098L1227 1044Q1167 1164 1061.5 1219.0Q956 1274 799 1274Q555 1274 426.0 1126.5Q297 979 297 711Q297 444 434.0 289.5Q571 135 813 135Q951 135 1070.5 177.0Q1190 219 1264 291V545H843V705H1440V219Q1328 105 1165.5 42.5Q1003 -20 813 -20Q592 -20 432.0 68.0Q272 156 187.5 321.5Q103 487 103 711Z"/><path id="gH" d="M1121 0V653H359V0H168V1409H359V813H1121V1409H1312V0Z"/><path id="gK" d="M1106 0 543 680 359 540V0H168V1409H359V703L1038 1409H1263L663 797L1343 0Z"/><path id="gL" d="M168 0V1409H359V156H1071V0Z"/><path id="gM" d="M1366 0V940Q1366 1096 1375 1240Q1326 1061 1287 960L923 0H789L420 960L364 1130L331 1240L334 1129L338 940V0H168V1409H419L794 432Q814 373 832.5 305.5Q851 238 857 208Q865 248 890.5 329.5Q916 411 925 432L1293 1409H1538V0Z"/><path id="gN" d="M1082 0 328 1200 333 1103 338 936V0H168V1409H390L1152 201Q1140 397 1140 485V1409H1312V0Z"/><path id="gP" d="M1258 985Q1258 785 1127.5 667.0Q997 549 773 549H359V0H168V1409H761Q998 1409 1128.0 1298.0Q1258 1187 1258 985ZM1066 983Q1066 1256 738 1256H359V700H746Q1066 700 1066 983Z"/><path id="gR" d="M1164 0 798 585H359V0H168V1409H831Q1069 1409 1198.5 1302.5Q1328 1196 1328 1006Q1328 849 1236.5 742.0Q1145 635 984 607L1384 0ZM1136 1004Q1136 1127 1052.5 1191.5Q969 1256 812 1256H359V736H820Q971 736 1053.5 806.5Q1136 877 1136 1004Z"/><path id="gS" d="M1272 389Q1272 194 1119.5 87.0Q967 -20 690 -20Q175 -20 93 338L278 375Q310 248 414.0 188.5Q518 129 697 129Q882 129 982.5 192.5Q1083 256 1083 379Q1083 448 1051.5 491.0Q1020 534 963.0 562.0Q906 590 827.0 609.0Q748 628 652 650Q485 687 398.5 724.0Q312 761 262.0 806.5Q212 852 185.5 913.0Q159 974 159 1053Q159 1234 297.5 1332.0Q436 1430 694 1430Q934 1430 1061.0 1356.5Q1188 1283 1239 1106L1051 1073Q1020 1185 933.0 1235.5Q846 1286 692 1286Q523 1286 434.0 1230.0Q345 1174 345 1063Q345 998 379.5 955.5Q414 913 479.0 883.5Q544 854 738 811Q803 796 867.5 780.5Q932 765 991.0 743.5Q1050 722 1101.5 693.0Q1153 664 1191.0 622.0Q1229 580 1250.5 523.0Q1272 466 1272 389Z"/><path id="gT" d="M720 1253V0H530V1253H46V1409H1204V1253Z"/><path id="gV" d="M782 0H584L9 1409H210L600 417L684 168L768 417L1156 1409H1357Z"/><path id="gW" d="M1511 0H1283L1039 895Q1015 979 969 1196Q943 1080 925.0 1002.0Q907 924 652 0H424L9 1409H208L461 514Q506 346 544 168Q568 278 599.5 408.0Q631 538 877 1409H1060L1305 532Q1361 317 1393 168L1402 203Q1429 318 1446.0 390.5Q1463 463 1727 1409H1926Z"/><path id="gX" d="M1112 0 689 616 257 0H46L582 732L87 1409H298L690 856L1071 1409H1282L800 739L1323 0Z"/><path id="gY" d="M777 584V0H587V584L45 1409H255L684 738L1111 1409H1321Z"/><path id="gI" d="M100 0L1266 0L1266 260L820 260L820 1149L1266 1149L1266 1409L100 1409L100 1149L546 1149L546 260L100 260Z"/></defs>
<use href="#gK" fill="#2d62ad" transform="matrix(0.01036,0,0,-0.00632,381.46,472.40)"/>
<use href="#gR" fill="#2d62ad" transform="matrix(0.01001,0,0,-0.00270,381.52,476.20)"/>
<use href="#gX" fill="#1a1a1a" transform="matrix(0.00953,0,0,-0.00419,382.76,482.10)"/>
<use href="#gI" fill="#1a1a1a" opacity="0.75" transform="matrix(0.01044,0,0,-0.00170,382.16,484.50)"/>
<use href="#gA" fill="#1a1a1a" opacity="0.75" transform="matrix(0.00896,0,0,-0.00106,383.16,486.00)"/>
<use href="#gG" fill="#1d9a4c" opacity="0.75" transform="matrix(0.00910,0,0,-0.00078,382.26,487.10)"/>
<use href="#gK" fill="#2d62ad" transform="matrix(0.01036,0,0,-0.00632,395.43,477.00)"/>
<use href="#gR" fill="#2d62ad" transform="matrix(0.01001,0,0,-0.00348,395.49,481.90)"/>
<use href="#gA" fill="#1a1a1a" opacity="0.75" transform="matrix(0.00896,0,0,-0.00185,397.13,484.50)"/>
<use href="#gV" fill="#1a1a1a" opacity="0.75" transform="matrix(0.00903,0,0,-0.00185,397.09,487.10)"/>
<use href="#gK" fill="#2d62ad" transform="matrix(0.01036,0,0,-0.00660,409.40,471.50)"/>
<use href="#gR" fill="#2d62ad" transform="matrix(0.01001,0,0,-0.00298,409.46,475.70)"/>
<use href="#gA" fill="#1a1a1a" transform="matrix(0.00896,0,0,-0.00213,411.10,478.70)"/>
<use href="#gV" fill="#1a1a1a" transform="matrix(0.00903,0,0,-0.00213,411.06,481.70)"/>
<use href="#gI" fill="#1a1a1a" transform="matrix(0.01044,0,0,-0.00234,410.10,485.00)"/>
<use href="#gA" fill="#1a1a1a" opacity="0.75" transform="matrix(0.00896,0,0,-0.00149,411.10,487.10)"/>
<use href="#gK" fill="#2d62ad" transform="matrix(0.00579,0,0,-0.00724,425.24,469.00)"/>
<use href="#gI" fill="#1a1a1a" transform="matrix(0.01044,0,0,-0.00248,424.07,474.50)"/>
<use href="#gR" fill="#2d62ad" transform="matrix(0.01001,0,0,-0.00298,423.43,478.70)"/>
<use href="#gA" fill="#1a1a1a" opacity="0.75" transform="matrix(0.00896,0,0,-0.00199,425.07,481.50)"/>
<use href="#gC" fill="#e3202f" opacity="0.75" transform="matrix(0.00938,0,0,-0.00177,424.13,484.00)"/>
<use href="#gV" fill="#1a1a1a" transform="matrix(0.00903,0,0,-0.00220,425.03,487.10)"/>
<use href="#gK" fill="#2d62ad" transform="matrix(0.01036,0,0,-0.00632,437.34,471.60)"/>
<use href="#gR" fill="#2d62ad" transform="matrix(0.01001,0,0,-0.00326,437.40,476.20)"/>
<use href="#gA" fill="#1a1a1a" transform="matrix(0.00896,0,0,-0.00305,439.04,480.50)"/>
<use href="#gE" fill="#e3202f" opacity="0.75" transform="matrix(0.01096,0,0,-0.00177,437.24,483.00)"/>
<use href="#gI" fill="#1a1a1a" opacity="0.75" transform="matrix(0.01044,0,0,-0.00142,438.04,485.00)"/>
<use href="#gG" fill="#1d9a4c" opacity="0.75" transform="matrix(0.00910,0,0,-0.00149,438.14,487.10)"/>
<use href="#gK" fill="#2d62ad" transform="matrix(0.01036,0,0,-0.00390,451.31,475.40)"/>
<use href="#gR" fill="#2d62ad" transform="matrix(0.01001,0,0,-0.00334,451.37,480.10)"/>
<use href="#gA" fill="#1a1a1a" opacity="0.75" transform="matrix(0.00896,0,0,-0.00192,453.01,482.80)"/>
<use href="#gV" fill="#1a1a1a" opacity="0.75" transform="matrix(0.00903,0,0,-0.00199,452.97,485.60)"/>
<use href="#gD" fill="#2d62ad" opacity="0.75" transform="matrix(0.01003,0,0,-0.00106,451.36,487.10)"/>
<use href="#gL" fill="#1a1a1a" transform="matrix(0.01348,0,0,-0.00483,464.76,464.40)"/>
<use href="#gV" fill="#1a1a1a" transform="matrix(0.00903,0,0,-0.00454,466.94,470.80)"/>
<use href="#gA" fill="#1a1a1a" transform="matrix(0.00896,0,0,-0.00447,466.98,477.10)"/>
<use href="#gI" fill="#1a1a1a" transform="matrix(0.01044,0,0,-0.00270,465.98,480.90)"/>
<use href="#gE" fill="#e3202f" transform="matrix(0.01096,0,0,-0.00270,465.18,484.70)"/>
<use href="#gV" fill="#1a1a1a" opacity="0.75" transform="matrix(0.00903,0,0,-0.00170,466.94,487.10)"/>
<use href="#gA" fill="#1a1a1a" transform="matrix(0.00896,0,0,-0.00227,480.95,471.20)"/>
<use href="#gV" fill="#1a1a1a" transform="matrix(0.00903,0,0,-0.00326,480.91,475.80)"/>
<use href="#gE" fill="#e3202f" transform="matrix(0.01096,0,0,-0.00241,479.15,479.20)"/>
<use href="#gI" fill="#1a1a1a" opacity="0.75" transform="matrix(0.01044,0,0,-0.00163,479.95,481.50)"/>
<use href="#gN" fill="#6a3cc0" transform="matrix(0.01064,0,0,-0.00248,479.20,485.00)"/>
<use href="#gD" fill="#2d62ad" opacity="0.75" transform="matrix(0.01003,0,0,-0.00149,479.30,487.10)"/>
<use href="#gI" fill="#1a1a1a" opacity="0.75" transform="matrix(0.01044,0,0,-0.00142,493.92,463.50)"/>
<use href="#gK" fill="#2d62ad" opacity="0.75" transform="matrix(0.01036,0,0,-0.00206,493.22,468.40)"/>
<use href="#gA" fill="#1a1a1a" transform="matrix(0.00896,0,0,-0.00241,494.92,472.80)"/>
<use href="#gN" fill="#6a3cc0" opacity="0.75" transform="matrix(0.01064,0,0,-0.00142,493.17,474.80)"/>
<use href="#gE" fill="#e3202f" transform="matrix(0.01096,0,0,-0.00213,493.12,477.80)"/>
<use href="#gV" fill="#1a1a1a" opacity="0.75" transform="matrix(0.00903,0,0,-0.00170,494.88,480.20)"/>
<use href="#gD" fill="#2d62ad" transform="matrix(0.01003,0,0,-0.00213,493.27,484.20)"/>
<use href="#gG" fill="#1d9a4c" opacity="0.75" transform="matrix(0.00910,0,0,-0.00206,494.02,487.10)"/>
<use href="#gA" fill="#1a1a1a" transform="matrix(0.00685,0,0,-0.00944,510.00,427.10)"/>
<use href="#gV" fill="#1a1a1a" transform="matrix(0.00903,0,0,-0.00504,508.85,438.40)"/>
<use href="#gF" fill="#1a1a1a" transform="matrix(0.01216,0,0,-0.00554,506.89,447.70)"/>
<use href="#gY" fill="#1d9a4c" transform="matrix(0.00954,0,0,-0.00490,508.50,454.60)"/>
<use href="#gH" fill="#2d62ad" transform="matrix(0.01064,0,0,-0.00525,507.14,463.00)"/>
<use href="#gM" fill="#1a1a1a" transform="matrix(0.00888,0,0,-0.00525,507.44,470.40)"/>
<use href="#gI" fill="#1a1a1a" transform="matrix(0.01044,0,0,-0.00256,507.89,474.00)"/>
<use href="#gT" fill="#1d9a4c" transform="matrix(0.01051,0,0,-0.00284,508.45,478.00)"/>
<use href="#gI" fill="#1a1a1a" transform="matrix(0.01044,0,0,-0.00227,507.89,481.20)"/>
<use href="#gW" fill="#1d9a4c" transform="matrix(0.00635,0,0,-0.00419,508.87,487.10)"/>
<use href="#gE" fill="#e3202f" transform="matrix(0.01096,0,0,-0.00894,535.03,463.00)"/>
<use href="#gD" fill="#e3202f" transform="matrix(0.01003,0,0,-0.00582,535.18,471.20)"/>
<use href="#gX" fill="#1a1a1a" transform="matrix(0.00953,0,0,-0.00660,536.43,480.50)"/>
<use href="#gN" fill="#6a3cc0" transform="matrix(0.01064,0,0,-0.00312,535.08,484.90)"/>
<use href="#gI" fill="#1a1a1a" opacity="0.75" transform="matrix(0.01044,0,0,-0.00156,535.83,487.10)"/>
<use href="#gI" fill="#1a1a1a" transform="matrix(0.01044,0,0,-0.00405,549.80,468.70)"/>
<use href="#gE" fill="#e3202f" transform="matrix(0.01096,0,0,-0.00220,549.00,471.80)"/>
<use href="#gV" fill="#1a1a1a" transform="matrix(0.00903,0,0,-0.00270,550.76,475.60)"/>
<use href="#gE" fill="#e3202f" opacity="0.75" transform="matrix(0.01096,0,0,-0.00170,549.00,478.00)"/>
<use href="#gD" fill="#2d62ad" transform="matrix(0.01003,0,0,-0.00256,549.15,481.60)"/>
<use href="#gA" fill="#1a1a1a" opacity="0.75" transform="matrix(0.00896,0,0,-0.00192,550.80,484.30)"/>
<use href="#gV" fill="#1a1a1a" opacity="0.75" transform="matrix(0.00903,0,0,-0.00199,550.76,487.10)"/>
<use href="#gE" fill="#e3202f" transform="matrix(0.01096,0,0,-0.00390,562.97,466.30)"/>
<use href="#gD" fill="#e3202f" transform="matrix(0.01003,0,0,-0.00461,563.12,472.80)"/>
<use href="#gA" fill="#1a1a1a" transform="matrix(0.00896,0,0,-0.00312,564.77,477.20)"/>
<use href="#gI" fill="#1a1a1a" opacity="0.75" transform="matrix(0.01044,0,0,-0.00163,563.77,479.50)"/>
<use href="#gG" fill="#1d9a4c" transform="matrix(0.00910,0,0,-0.00263,563.87,483.20)"/>
<use href="#gV" fill="#1a1a1a" transform="matrix(0.00903,0,0,-0.00277,564.73,487.10)"/>
<use href="#gA" fill="#1a1a1a" transform="matrix(0.00896,0,0,-0.00412,578.74,468.20)"/>
<use href="#gL" fill="#1a1a1a" transform="matrix(0.01348,0,0,-0.00405,576.52,473.90)"/>
<use href="#gI" fill="#1a1a1a" transform="matrix(0.01044,0,0,-0.00277,577.74,477.80)"/>
<use href="#gE" fill="#e3202f" transform="matrix(0.01096,0,0,-0.00383,576.94,483.20)"/>
<use href="#gV" fill="#1a1a1a" transform="matrix(0.00903,0,0,-0.00277,578.70,487.10)"/>
<use href="#gK" fill="#2d62ad" transform="matrix(0.00647,0,0,-0.00852,592.76,466.80)"/>
<use href="#gR" fill="#2d62ad" transform="matrix(0.01001,0,0,-0.00816,591.07,478.30)"/>
<use href="#gE" fill="#e3202f" transform="matrix(0.01096,0,0,-0.00312,590.91,482.70)"/>
<use href="#gA" fill="#1a1a1a" transform="matrix(0.00896,0,0,-0.00312,592.71,487.10)"/>
<use href="#gK" fill="#2d62ad" transform="matrix(0.01036,0,0,-0.00511,604.98,474.00)"/>
<use href="#gR" fill="#2d62ad" transform="matrix(0.01001,0,0,-0.00461,605.04,480.50)"/>
<use href="#gA" fill="#1a1a1a" transform="matrix(0.00896,0,0,-0.00312,606.68,484.90)"/>
<use href="#gI" fill="#1a1a1a" opacity="0.75" transform="matrix(0.01044,0,0,-0.00156,605.68,487.10)"/>
<use href="#gK" fill="#2d62ad" transform="matrix(0.00613,0,0,-0.00696,620.76,464.60)"/>
<use href="#gR" fill="#2d62ad" transform="matrix(0.01001,0,0,-0.00277,619.01,471.80)"/>
<use href="#gI" fill="#1a1a1a" transform="matrix(0.01044,0,0,-0.00227,619.65,475.00)"/>
<use href="#gA" fill="#1a1a1a" transform="matrix(0.00896,0,0,-0.00277,620.65,478.90)"/>
<use href="#gE" fill="#e3202f" transform="matrix(0.01096,0,0,-0.00220,618.85,482.00)"/>
<use href="#gV" fill="#1a1a1a" transform="matrix(0.00903,0,0,-0.00362,620.61,487.10)"/>
<use href="#gK" fill="#2d62ad" transform="matrix(0.00553,0,0,-0.00703,634.83,470.70)"/>
<use href="#gR" fill="#2d62ad" transform="matrix(0.01001,0,0,-0.00312,632.98,479.40)"/>
<use href="#gI" fill="#1a1a1a" transform="matrix(0.01044,0,0,-0.00234,633.62,482.70)"/>
<use href="#gA" fill="#1a1a1a" transform="matrix(0.00896,0,0,-0.00312,634.62,487.10)"/>
<use href="#gK" fill="#2d62ad" transform="matrix(0.01036,0,0,-0.00504,646.89,476.10)"/>
<use href="#gR" fill="#2d62ad" transform="matrix(0.01001,0,0,-0.00433,646.95,482.20)"/>
<use href="#gA" fill="#1a1a1a" transform="matrix(0.00896,0,0,-0.00348,648.59,487.10)"/>
<use href="#gK" fill="#2d62ad" transform="matrix(0.01036,0,0,-0.00348,660.86,475.00)"/>
<use href="#gA" fill="#1a1a1a" opacity="0.75" transform="matrix(0.00896,0,0,-0.00192,662.56,477.70)"/>
<use href="#gV" fill="#1a1a1a" opacity="0.75" transform="matrix(0.00903,0,0,-0.00199,662.52,480.50)"/>
<use href="#gD" fill="#2d62ad" transform="matrix(0.01003,0,0,-0.00213,660.91,483.50)"/>
<use href="#gI" fill="#1a1a1a" transform="matrix(0.01044,0,0,-0.00256,661.56,487.10)"/>
<use href="#gN" fill="#6a3cc0" opacity="0.75" transform="matrix(0.01064,0,0,-0.00142,381.41,505.50)"/>
<use href="#gT" fill="#1d9a4c" transform="matrix(0.01051,0,0,-0.00241,382.72,508.90)"/>
<use href="#gP" fill="#1a1a1a" transform="matrix(0.01117,0,0,-0.00390,381.32,514.40)"/>
<use href="#gS" fill="#1d9a4c" transform="matrix(0.01032,0,0,-0.00483,382.24,521.20)"/>
<use href="#gG" fill="#1d9a4c" transform="matrix(0.00910,0,0,-0.00263,396.23,507.20)"/>
<use href="#gP" fill="#1a1a1a" transform="matrix(0.01117,0,0,-0.00270,395.29,511.40)"/>
<use href="#gS" fill="#1d9a4c" transform="matrix(0.01032,0,0,-0.00483,396.21,518.20)"/>
<use href="#gD" fill="#2d62ad" opacity="0.75" transform="matrix(0.01003,0,0,-0.00177,409.45,506.00)"/>
<use href="#gN" fill="#6a3cc0" opacity="0.75" transform="matrix(0.01064,0,0,-0.00142,409.35,508.00)"/>
<use href="#gT" fill="#1d9a4c" transform="matrix(0.01051,0,0,-0.00213,410.66,511.00)"/>
<use href="#gP" fill="#1a1a1a" transform="matrix(0.01117,0,0,-0.00390,409.26,516.50)"/>
<use href="#gS" fill="#1d9a4c" transform="matrix(0.01032,0,0,-0.00539,410.18,524.10)"/>
<use href="#gD" fill="#2d62ad" transform="matrix(0.01003,0,0,-0.00248,423.42,507.00)"/>
<use href="#gN" fill="#6a3cc0" transform="matrix(0.01064,0,0,-0.00256,423.32,510.60)"/>
<use href="#gT" fill="#1d9a4c" opacity="0.75" transform="matrix(0.01051,0,0,-0.00206,424.63,513.50)"/>
<use href="#gP" fill="#1a1a1a" transform="matrix(0.01117,0,0,-0.00305,423.23,517.80)"/>
<use href="#gS" fill="#1d9a4c" transform="matrix(0.01032,0,0,-0.00539,424.15,525.40)"/>
<use href="#gG" fill="#1d9a4c" opacity="0.75" transform="matrix(0.00910,0,0,-0.00177,438.14,506.00)"/>
<use href="#gI" fill="#1a1a1a" opacity="0.75" transform="matrix(0.01044,0,0,-0.00177,438.04,508.50)"/>
<use href="#gT" fill="#1d9a4c" opacity="0.75" transform="matrix(0.01051,0,0,-0.00206,438.60,511.40)"/>
<use href="#gP" fill="#1a1a1a" transform="matrix(0.01117,0,0,-0.00390,437.20,516.90)"/>
<use href="#gS" fill="#1d9a4c" transform="matrix(0.01032,0,0,-0.00511,438.12,524.10)"/>
<use href="#gG" fill="#1d9a4c" opacity="0.75" transform="matrix(0.00910,0,0,-0.00085,452.11,504.70)"/>
<use href="#gS" fill="#1d9a4c" transform="matrix(0.01032,0,0,-0.00298,452.09,508.90)"/>
<use href="#gS" fill="#1d9a4c" transform="matrix(0.01032,0,0,-0.00362,452.09,514.00)"/>
<use href="#gP" fill="#1a1a1a" transform="matrix(0.01117,0,0,-0.00476,451.17,520.70)"/>
<use href="#gD" fill="#2d62ad" transform="matrix(0.01003,0,0,-0.00412,465.33,509.30)"/>
<use href="#gN" fill="#6a3cc0" opacity="0.75" transform="matrix(0.01064,0,0,-0.00156,465.23,511.50)"/>
<use href="#gT" fill="#1d9a4c" transform="matrix(0.01051,0,0,-0.00284,466.54,515.50)"/>
<use href="#gR" fill="#2d62ad" transform="matrix(0.01001,0,0,-0.00220,465.34,518.60)"/>
<use href="#gP" fill="#1a1a1a" transform="matrix(0.01117,0,0,-0.00305,465.14,522.90)"/>
<use href="#gS" fill="#1d9a4c" transform="matrix(0.01032,0,0,-0.00447,466.06,529.20)"/>
<use href="#gD" fill="#2d62ad" opacity="0.75" transform="matrix(0.01003,0,0,-0.00106,479.30,505.00)"/>
<use href="#gT" fill="#1d9a4c" opacity="0.75" transform="matrix(0.01051,0,0,-0.00142,480.51,507.00)"/>
<use href="#gI" fill="#1a1a1a" opacity="0.75" transform="matrix(0.01044,0,0,-0.00142,479.95,509.00)"/>
<use href="#gS" fill="#1d9a4c" transform="matrix(0.01032,0,0,-0.00355,480.03,514.00)"/>
<use href="#gS" fill="#1d9a4c" transform="matrix(0.01032,0,0,-0.00298,480.03,518.20)"/>
<use href="#gG" fill="#1d9a4c" opacity="0.75" transform="matrix(0.00910,0,0,-0.00199,494.02,506.40)"/>
<use href="#gS" fill="#1d9a4c" transform="matrix(0.01032,0,0,-0.00256,494.00,510.20)"/>
<use href="#gS" fill="#1d9a4c" transform="matrix(0.01032,0,0,-0.00256,494.00,513.80)"/>
<use href="#gT" fill="#1d9a4c" opacity="0.75" transform="matrix(0.01051,0,0,-0.00185,494.48,516.40)"/>
<use href="#gP" fill="#1a1a1a" transform="matrix(0.01117,0,0,-0.00759,493.08,527.10)"/>
<use href="#gG" fill="#1d9a4c" opacity="0.75" transform="matrix(0.00910,0,0,-0.00199,507.99,506.40)"/>
<use href="#gP" fill="#e3202f" transform="matrix(0.01117,0,0,-0.00405,507.05,512.30)"/>
<use href="#gE" fill="#e3202f" transform="matrix(0.01096,0,0,-0.00397,507.09,517.90)"/>
<use href="#gR" fill="#2d62ad" transform="matrix(0.00839,0,0,-0.00979,508.62,533.70)"/>
<use href="#gK" fill="#2d62ad" transform="matrix(0.01036,0,0,-0.01192,507.19,556.70)"/>
<use href="#gT" fill="#1d9a4c" transform="matrix(0.01051,0,0,-0.00362,536.39,508.70)"/>
<use href="#gS" fill="#1d9a4c" opacity="0.75" transform="matrix(0.01032,0,0,-0.00177,535.91,511.20)"/>
<use href="#gR" fill="#2d62ad" transform="matrix(0.01001,0,0,-0.00362,535.19,517.40)"/>
<use href="#gP" fill="#1a1a1a" transform="matrix(0.01117,0,0,-0.00504,534.99,525.00)"/>
<use href="#gK" fill="#2d62ad" transform="matrix(0.01036,0,0,-0.00582,535.13,534.20)"/>
<use href="#gG" fill="#1d9a4c" opacity="0.75" transform="matrix(0.00910,0,0,-0.00199,549.90,506.40)"/>
<use href="#gS" fill="#1d9a4c" transform="matrix(0.01032,0,0,-0.00376,549.88,511.70)"/>
<use href="#gS" fill="#1d9a4c" transform="matrix(0.01032,0,0,-0.00383,549.88,517.10)"/>
<use href="#gP" fill="#1a1a1a" transform="matrix(0.01117,0,0,-0.00561,548.96,525.00)"/>
<use href="#gN" fill="#6a3cc0" transform="matrix(0.01064,0,0,-0.00263,563.02,507.30)"/>
<use href="#gC" fill="#1d9a4c" opacity="0.75" transform="matrix(0.00938,0,0,-0.00177,563.83,509.80)"/>
<use href="#gT" fill="#1d9a4c" opacity="0.75" transform="matrix(0.01051,0,0,-0.00206,564.33,512.70)"/>
<use href="#gP" fill="#1a1a1a" transform="matrix(0.01117,0,0,-0.00419,562.93,518.60)"/>
<use href="#gS" fill="#1d9a4c" transform="matrix(0.01032,0,0,-0.00589,563.85,526.90)"/>
<use href="#gN" fill="#6a3cc0" opacity="0.75" transform="matrix(0.01064,0,0,-0.00170,576.99,506.00)"/>
<use href="#gC" fill="#1d9a4c" transform="matrix(0.00938,0,0,-0.00248,577.80,509.50)"/>
<use href="#gP" fill="#1a1a1a" transform="matrix(0.01117,0,0,-0.00348,576.90,514.70)"/>
<use href="#gS" fill="#1d9a4c" transform="matrix(0.01032,0,0,-0.00383,577.82,520.10)"/>
<use href="#gG" fill="#1d9a4c" opacity="0.75" transform="matrix(0.00910,0,0,-0.00206,591.81,506.50)"/>
<use href="#gC" fill="#1d9a4c" opacity="0.75" transform="matrix(0.00938,0,0,-0.00163,591.77,508.80)"/>
<use href="#gP" fill="#1a1a1a" transform="matrix(0.01117,0,0,-0.00731,590.87,519.10)"/>
<use href="#gS" fill="#1d9a4c" transform="matrix(0.01032,0,0,-0.00490,591.79,526.90)"/>
<use href="#gG" fill="#1d9a4c" opacity="0.75" transform="matrix(0.00910,0,0,-0.00128,605.78,505.50)"/>
<use href="#gP" fill="#1a1a1a" transform="matrix(0.01117,0,0,-0.00433,604.84,511.60)"/>
<use href="#gS" fill="#1d9a4c" transform="matrix(0.01032,0,0,-0.00632,605.76,520.50)"/>
<use href="#gN" fill="#6a3cc0" transform="matrix(0.01064,0,0,-0.00234,618.90,507.00)"/>
<use href="#gC" fill="#1d9a4c" transform="matrix(0.00938,0,0,-0.00234,619.71,510.50)"/>
<use href="#gP" fill="#1a1a1a" transform="matrix(0.01117,0,0,-0.00397,618.81,516.10)"/>
<use href="#gS" fill="#1d9a4c" transform="matrix(0.01032,0,0,-0.00554,619.73,523.90)"/>
<use href="#gN" fill="#6a3cc0" opacity="0.75" transform="matrix(0.01064,0,0,-0.00128,632.87,505.50)"/>
<use href="#gC" fill="#1d9a4c" transform="matrix(0.00938,0,0,-0.00241,633.68,508.90)"/>
<use href="#gP" fill="#1a1a1a" transform="matrix(0.01117,0,0,-0.00355,632.78,513.90)"/>
<use href="#gS" fill="#1d9a4c" transform="matrix(0.01032,0,0,-0.00546,633.70,521.60)"/>
<use href="#gG" fill="#1d9a4c" transform="matrix(0.00910,0,0,-0.00234,647.69,507.00)"/>
<use href="#gI" fill="#1a1a1a" opacity="0.75" transform="matrix(0.01044,0,0,-0.00092,647.59,508.30)"/>
<use href="#gS" fill="#1d9a4c" transform="matrix(0.01032,0,0,-0.00433,647.67,514.40)"/>
<use href="#gP" fill="#1a1a1a" transform="matrix(0.01117,0,0,-0.00511,646.75,521.60)"/>
<use href="#gN" fill="#6a3cc0" opacity="0.75" transform="matrix(0.01064,0,0,-0.00128,660.81,505.50)"/>
<use href="#gG" fill="#1d9a4c" opacity="0.75" transform="matrix(0.00910,0,0,-0.00199,661.66,508.30)"/>
<use href="#gP" fill="#1a1a1a" transform="matrix(0.01117,0,0,-0.00277,660.72,512.20)"/>
<use href="#gS" fill="#1d9a4c" transform="matrix(0.01032,0,0,-0.00589,661.64,520.50)"/>
<line x1="382.00" y1="404.20" x2="382.00" y2="487.80" stroke="#222" stroke-width="1.1" />
<line x1="382.00" y1="503.00" x2="382.00" y2="573.40" stroke="#222" stroke-width="1.1" />
<line x1="380.20" y1="404.60" x2="382.00" y2="404.60" stroke="#222" stroke-width="1.1" />
<text transform="translate(377.00,408.35) scale(1,1.04)" x="0" y="0" font-size="10.4" text-anchor="end" fill="#111" stroke="#111" stroke-width="0.28" >20</text>
<line x1="380.20" y1="425.00" x2="382.00" y2="425.00" stroke="#222" stroke-width="1.1" />
<text transform="translate(377.00,429.65) scale(1,1.04)" x="0" y="0" font-size="10.4" text-anchor="end" fill="#111" stroke="#111" stroke-width="0.28" >15</text>
<line x1="380.20" y1="445.40" x2="382.00" y2="445.40" stroke="#222" stroke-width="1.1" />
<text transform="translate(377.00,450.25) scale(1,1.04)" x="0" y="0" font-size="10.4" text-anchor="end" fill="#111" stroke="#111" stroke-width="0.28" >10</text>
<line x1="380.20" y1="465.80" x2="382.00" y2="465.80" stroke="#222" stroke-width="1.1" />
<text transform="translate(377.00,470.45) scale(1,1.04)" x="0" y="0" font-size="10.4" text-anchor="end" fill="#111" stroke="#111" stroke-width="0.28" >5</text>
<line x1="380.20" y1="487.20" x2="382.00" y2="487.20" stroke="#222" stroke-width="1.1" />
<text transform="translate(377.00,490.05) scale(1,1.04)" x="0" y="0" font-size="10.4" text-anchor="end" fill="#111" stroke="#111" stroke-width="0.28" >0</text>
<line x1="380.20" y1="503.40" x2="382.00" y2="503.40" stroke="#222" stroke-width="1.1" />
<text transform="translate(377.00,507.25) scale(1,1.04)" x="0" y="0" font-size="10.4" text-anchor="end" fill="#111" stroke="#111" stroke-width="0.28" >0</text>
<line x1="380.20" y1="521.00" x2="382.00" y2="521.00" stroke="#222" stroke-width="1.1" />
<text transform="translate(377.00,525.15) scale(1,1.04)" x="0" y="0" font-size="10.4" text-anchor="end" fill="#111" stroke="#111" stroke-width="0.28" >-5</text>
<line x1="380.20" y1="538.20" x2="382.00" y2="538.20" stroke="#222" stroke-width="1.1" />
<text transform="translate(377.00,542.25) scale(1,1.04)" x="0" y="0" font-size="10.4" text-anchor="end" fill="#111" stroke="#111" stroke-width="0.28" >-10</text>
<line x1="380.20" y1="555.50" x2="382.00" y2="555.50" stroke="#222" stroke-width="1.1" />
<text transform="translate(377.00,559.45) scale(1,1.04)" x="0" y="0" font-size="10.4" text-anchor="end" fill="#111" stroke="#111" stroke-width="0.28" >-15</text>
<line x1="380.20" y1="573.00" x2="382.00" y2="573.00" stroke="#222" stroke-width="1.1" />
<text transform="translate(377.00,577.05) scale(1,1.04)" x="0" y="0" font-size="10.4" text-anchor="end" fill="#111" stroke="#111" stroke-width="0.28" >-20</text>
<line x1="382.00" y1="487.30" x2="676.00" y2="487.30" stroke="#555" stroke-width="0.9" />
<rect x="382.00" y="488.30" width="293.90" height="14.70" fill="#fff" />
<line x1="382.00" y1="488.60" x2="675.90" y2="488.60" stroke="#aaa" stroke-width="0.8" />
<line x1="382.00" y1="503.10" x2="675.90" y2="503.10" stroke="#333" stroke-width="1.0" />
<line x1="382.30" y1="488.60" x2="382.30" y2="503.00" stroke="#c4c4c4" stroke-width="0.9" />
<line x1="396.27" y1="488.60" x2="396.27" y2="503.00" stroke="#c4c4c4" stroke-width="0.9" />
<line x1="410.24" y1="488.60" x2="410.24" y2="503.00" stroke="#c4c4c4" stroke-width="0.9" />
<line x1="424.21" y1="488.60" x2="424.21" y2="503.00" stroke="#c4c4c4" stroke-width="0.9" />
<line x1="438.18" y1="488.60" x2="438.18" y2="503.00" stroke="#c4c4c4" stroke-width="0.9" />
<line x1="452.15" y1="488.60" x2="452.15" y2="503.00" stroke="#c4c4c4" stroke-width="0.9" />
<line x1="466.12" y1="488.60" x2="466.12" y2="503.00" stroke="#c4c4c4" stroke-width="0.9" />
<line x1="480.09" y1="488.60" x2="480.09" y2="503.00" stroke="#c4c4c4" stroke-width="0.9" />
<line x1="494.06" y1="488.60" x2="494.06" y2="503.00" stroke="#c4c4c4" stroke-width="0.9" />
<line x1="508.03" y1="488.60" x2="508.03" y2="503.00" stroke="#c4c4c4" stroke-width="0.9" />
<line x1="522.00" y1="488.60" x2="522.00" y2="503.00" stroke="#c4c4c4" stroke-width="0.9" />
<line x1="535.97" y1="488.60" x2="535.97" y2="503.00" stroke="#444" stroke-width="1.2" />
<line x1="549.94" y1="488.60" x2="549.94" y2="503.00" stroke="#c4c4c4" stroke-width="0.9" />
<line x1="563.91" y1="488.60" x2="563.91" y2="503.00" stroke="#c4c4c4" stroke-width="0.9" />
<line x1="577.88" y1="488.60" x2="577.88" y2="503.00" stroke="#c4c4c4" stroke-width="0.9" />
<line x1="591.85" y1="488.60" x2="591.85" y2="503.00" stroke="#c4c4c4" stroke-width="0.9" />
<line x1="605.82" y1="488.60" x2="605.82" y2="503.00" stroke="#c4c4c4" stroke-width="0.9" />
<line x1="619.79" y1="488.60" x2="619.79" y2="503.00" stroke="#c4c4c4" stroke-width="0.9" />
<line x1="633.76" y1="488.60" x2="633.76" y2="503.00" stroke="#c4c4c4" stroke-width="0.9" />
<line x1="647.73" y1="488.60" x2="647.73" y2="503.00" stroke="#c4c4c4" stroke-width="0.9" />
<line x1="661.70" y1="488.60" x2="661.70" y2="503.00" stroke="#c4c4c4" stroke-width="0.9" />
<line x1="675.67" y1="488.60" x2="675.67" y2="503.00" stroke="#c4c4c4" stroke-width="0.9" />
<text transform="translate(389.49,500.1) scale(0.82,1.0)" x="0" y="0" font-size="11" text-anchor="middle" fill="#111" stroke="#111" stroke-width="0.28">-10</text>
<text transform="translate(403.45,500.1) scale(0.82,1.0)" x="0" y="0" font-size="11" text-anchor="middle" fill="#111" stroke="#111" stroke-width="0.28">-9</text>
<text transform="translate(417.43,500.1) scale(0.82,1.0)" x="0" y="0" font-size="11" text-anchor="middle" fill="#111" stroke="#111" stroke-width="0.28">-8</text>
<text transform="translate(431.40,500.1) scale(0.82,1.0)" x="0" y="0" font-size="11" text-anchor="middle" fill="#111" stroke="#111" stroke-width="0.28">-7</text>
<text transform="translate(445.37,500.1) scale(0.82,1.0)" x="0" y="0" font-size="11" text-anchor="middle" fill="#111" stroke="#111" stroke-width="0.28">-6</text>
<text transform="translate(459.33,500.1) scale(0.82,1.0)" x="0" y="0" font-size="11" text-anchor="middle" fill="#111" stroke="#111" stroke-width="0.28">-5</text>
<text transform="translate(473.31,500.1) scale(0.82,1.0)" x="0" y="0" font-size="11" text-anchor="middle" fill="#111" stroke="#111" stroke-width="0.28">-4</text>
<text transform="translate(487.28,500.1) scale(0.82,1.0)" x="0" y="0" font-size="11" text-anchor="middle" fill="#111" stroke="#111" stroke-width="0.28">-3</text>
<text transform="translate(501.25,500.1) scale(0.82,1.0)" x="0" y="0" font-size="11" text-anchor="middle" fill="#111" stroke="#111" stroke-width="0.28">-2</text>
<text transform="translate(515.22,500.1) scale(0.82,1.0)" x="0" y="0" font-size="11" text-anchor="middle" fill="#111" stroke="#111" stroke-width="0.28">-1</text>
<text transform="translate(529.19,500.1) scale(0.82,1.0)" x="0" y="0" font-size="11" text-anchor="middle" fill="#111" stroke="#111" stroke-width="0.28">0</text>
<text transform="translate(543.16,500.1) scale(0.82,1.0)" x="0" y="0" font-size="11" text-anchor="middle" fill="#111" stroke="#111" stroke-width="0.28">1</text>
<text transform="translate(557.13,500.1) scale(0.82,1.0)" x="0" y="0" font-size="11" text-anchor="middle" fill="#111" stroke="#111" stroke-width="0.28">2</text>
<text transform="translate(571.10,500.1) scale(0.82,1.0)" x="0" y="0" font-size="11" text-anchor="middle" fill="#111" stroke="#111" stroke-width="0.28">3</text>
<text transform="translate(585.07,500.1) scale(0.82,1.0)" x="0" y="0" font-size="11" text-anchor="middle" fill="#111" stroke="#111" stroke-width="0.28">4</text>
<text transform="translate(599.04,500.1) scale(0.82,1.0)" x="0" y="0" font-size="11" text-anchor="middle" fill="#111" stroke="#111" stroke-width="0.28">5</text>
<text transform="translate(613.01,500.1) scale(0.82,1.0)" x="0" y="0" font-size="11" text-anchor="middle" fill="#111" stroke="#111" stroke-width="0.28">6</text>
<text transform="translate(626.98,500.1) scale(0.82,1.0)" x="0" y="0" font-size="11" text-anchor="middle" fill="#111" stroke="#111" stroke-width="0.28">7</text>
<text transform="translate(640.95,500.1) scale(0.82,1.0)" x="0" y="0" font-size="11" text-anchor="middle" fill="#111" stroke="#111" stroke-width="0.28">8</text>
<text transform="translate(654.92,500.1) scale(0.82,1.0)" x="0" y="0" font-size="11" text-anchor="middle" fill="#111" stroke="#111" stroke-width="0.28">9</text>
<text transform="translate(668.89,500.1) scale(0.82,1.0)" x="0" y="0" font-size="11" text-anchor="middle" fill="#111" stroke="#111" stroke-width="0.28">10</text>
<text x="0" y="0" font-size="11.3" text-anchor="middle" fill="#111" transform="translate(356,486.8) rotate(-90)" stroke="#111" stroke-width="0.28"><tspan font-style="italic">P</tspan> value=0.05</text>
<text x="0" y="0" font-size="11.3" text-anchor="middle" fill="#111" transform="translate(368.8,486.4) rotate(-90)" stroke="#111" stroke-width="0.28">% difference</text>
<rect x="26.90" y="626.20" width="13.48" height="12.71" fill="#eb8a8f" />
<rect x="40.33" y="626.20" width="13.48" height="12.71" fill="#e76e75" />
<rect x="53.77" y="626.20" width="13.48" height="12.71" fill="#e3525a" />
<rect x="67.20" y="626.20" width="13.48" height="12.71" fill="#e76e75" />
<rect x="80.63" y="626.20" width="13.48" height="12.71" fill="#e3525a" />
<rect x="94.07" y="626.20" width="13.48" height="12.71" fill="#e3525a" />
<rect x="107.50" y="626.20" width="13.48" height="12.71" fill="#e3525a" />
<rect x="120.93" y="626.20" width="13.48" height="12.71" fill="#e3525a" />
<rect x="134.37" y="626.20" width="13.48" height="12.71" fill="#e3525a" />
<rect x="147.80" y="626.20" width="13.48" height="12.71" fill="#e3525a" />
<rect x="161.23" y="626.20" width="13.48" height="12.71" fill="#f8fafa" />
<rect x="174.67" y="626.20" width="13.48" height="12.71" fill="#e3525a" />
<rect x="188.10" y="626.20" width="13.48" height="12.71" fill="#f4cdcf" />
<rect x="201.53" y="626.20" width="13.48" height="12.71" fill="#e3525a" />
<rect x="214.97" y="626.20" width="13.48" height="12.71" fill="#e3525a" />
<rect x="228.40" y="626.20" width="13.48" height="12.71" fill="#e97f85" />
<rect x="241.83" y="626.20" width="13.48" height="12.71" fill="#e76e75" />
<rect x="255.27" y="626.20" width="13.48" height="12.71" fill="#e5636a" />
<rect x="268.70" y="626.20" width="13.48" height="12.71" fill="#f2c2c5" />
<rect x="282.13" y="626.20" width="13.48" height="12.71" fill="#eb8a8f" />
<rect x="295.57" y="626.20" width="13.48" height="12.71" fill="#f7e4e5" />
<text transform="translate(18.00,634.83) scale(1,1.0)" x="0" y="0" font-size="10.8" text-anchor="middle" fill="#111" stroke="#111" stroke-width="0.28" >A</text>
<rect x="26.90" y="638.86" width="13.48" height="12.71" fill="#39b49e" />
<rect x="40.33" y="638.86" width="13.48" height="12.71" fill="#39b49e" />
<rect x="53.77" y="638.86" width="13.48" height="12.71" fill="#39b49e" />
<rect x="67.20" y="638.86" width="13.48" height="12.71" fill="#39b49e" />
<rect x="80.63" y="638.86" width="13.48" height="12.71" fill="#39b49e" />
<rect x="94.07" y="638.86" width="13.48" height="12.71" fill="#39b49e" />
<rect x="107.50" y="638.86" width="13.48" height="12.71" fill="#39b49e" />
<rect x="120.93" y="638.86" width="13.48" height="12.71" fill="#39b49e" />
<rect x="134.37" y="638.86" width="13.48" height="12.71" fill="#39b49e" />
<rect x="147.80" y="638.86" width="13.48" height="12.71" fill="#39b49e" />
<rect x="161.23" y="638.86" width="13.48" height="12.71" fill="#f8fafa" />
<rect x="174.67" y="638.86" width="13.48" height="12.71" fill="#39b49e" />
<rect x="188.10" y="638.86" width="13.48" height="12.71" fill="#39b49e" />
<rect x="201.53" y="638.86" width="13.48" height="12.71" fill="#39b49e" />
<rect x="214.97" y="638.86" width="13.48" height="12.71" fill="#39b49e" />
<rect x="228.40" y="638.86" width="13.48" height="12.71" fill="#39b49e" />
<rect x="241.83" y="638.86" width="13.48" height="12.71" fill="#39b49e" />
<rect x="255.27" y="638.86" width="13.48" height="12.71" fill="#39b49e" />
<rect x="268.70" y="638.86" width="13.48" height="12.71" fill="#39b49e" />
<rect x="282.13" y="638.86" width="13.48" height="12.71" fill="#39b49e" />
<rect x="295.57" y="638.86" width="13.48" height="12.71" fill="#39b49e" />
<text transform="translate(18.00,647.49) scale(1,1.0)" x="0" y="0" font-size="10.8" text-anchor="middle" fill="#111" stroke="#111" stroke-width="0.28" >C</text>
<rect x="26.90" y="651.52" width="13.48" height="12.71" fill="#fafafa" />
<rect x="40.33" y="651.52" width="13.48" height="12.71" fill="#f8e9ea" />
<rect x="53.77" y="651.52" width="13.48" height="12.71" fill="#f9f4f5" />
<rect x="67.20" y="651.52" width="13.48" height="12.71" fill="#fafafa" />
<rect x="80.63" y="651.52" width="13.48" height="12.71" fill="#f8e9ea" />
<rect x="94.07" y="651.52" width="13.48" height="12.71" fill="#f4f8f7" />
<rect x="107.50" y="651.52" width="13.48" height="12.71" fill="#f7e4e5" />
<rect x="120.93" y="651.52" width="13.48" height="12.71" fill="#daeeeb" />
<rect x="134.37" y="651.52" width="13.48" height="12.71" fill="#e3525a" />
<rect x="147.80" y="651.52" width="13.48" height="12.71" fill="#39b49e" />
<rect x="161.23" y="651.52" width="13.48" height="12.71" fill="#f8fafa" />
<rect x="174.67" y="651.52" width="13.48" height="12.71" fill="#e3525a" />
<rect x="188.10" y="651.52" width="13.48" height="12.71" fill="#e8797f" />
<rect x="201.53" y="651.52" width="13.48" height="12.71" fill="#e3525a" />
<rect x="214.97" y="651.52" width="13.48" height="12.71" fill="#f8e9ea" />
<rect x="228.40" y="651.52" width="13.48" height="12.71" fill="#f7e4e5" />
<rect x="241.83" y="651.52" width="13.48" height="12.71" fill="#f5d8da" />
<rect x="255.27" y="651.52" width="13.48" height="12.71" fill="#c0e5de" />
<rect x="268.70" y="651.52" width="13.48" height="12.71" fill="#fafafa" />
<rect x="282.13" y="651.52" width="13.48" height="12.71" fill="#f6dedf" />
<rect x="295.57" y="651.52" width="13.48" height="12.71" fill="#faf7f7" />
<text transform="translate(18.00,660.15) scale(1,1.0)" x="0" y="0" font-size="10.8" text-anchor="middle" fill="#111" stroke="#111" stroke-width="0.28" >D</text>
<rect x="26.90" y="664.18" width="13.48" height="12.71" fill="#f8e9ea" />
<rect x="40.33" y="664.18" width="13.48" height="12.71" fill="#f9f4f5" />
<rect x="53.77" y="664.18" width="13.48" height="12.71" fill="#f8efef" />
<rect x="67.20" y="664.18" width="13.48" height="12.71" fill="#ec959a" />
<rect x="80.63" y="664.18" width="13.48" height="12.71" fill="#eea0a5" />
<rect x="94.07" y="664.18" width="13.48" height="12.71" fill="#f5d8da" />
<rect x="107.50" y="664.18" width="13.48" height="12.71" fill="#e3525a" />
<rect x="120.93" y="664.18" width="13.48" height="12.71" fill="#ec959a" />
<rect x="134.37" y="664.18" width="13.48" height="12.71" fill="#e0f1ee" />
<rect x="147.80" y="664.18" width="13.48" height="12.71" fill="#39b49e" />
<rect x="161.23" y="664.18" width="13.48" height="12.71" fill="#f8fafa" />
<rect x="174.67" y="664.18" width="13.48" height="12.71" fill="#e3525a" />
<rect x="188.10" y="664.18" width="13.48" height="12.71" fill="#e3525a" />
<rect x="201.53" y="664.18" width="13.48" height="12.71" fill="#e3525a" />
<rect x="214.97" y="664.18" width="13.48" height="12.71" fill="#efacaf" />
<rect x="228.40" y="664.18" width="13.48" height="12.71" fill="#e3525a" />
<rect x="241.83" y="664.18" width="13.48" height="12.71" fill="#f8efef" />
<rect x="255.27" y="664.18" width="13.48" height="12.71" fill="#e7f3f1" />
<rect x="268.70" y="664.18" width="13.48" height="12.71" fill="#f8e9ea" />
<rect x="282.13" y="664.18" width="13.48" height="12.71" fill="#f8e9ea" />
<rect x="295.57" y="664.18" width="13.48" height="12.71" fill="#f6dedf" />
<text transform="translate(18.00,672.81) scale(1,1.0)" x="0" y="0" font-size="10.8" text-anchor="middle" fill="#111" stroke="#111" stroke-width="0.28" >E</text>
<rect x="26.90" y="676.84" width="13.48" height="12.71" fill="#e0f1ee" />
<rect x="40.33" y="676.84" width="13.48" height="12.71" fill="#edf5f4" />
<rect x="53.77" y="676.84" width="13.48" height="12.71" fill="#f9f4f5" />
<rect x="67.20" y="676.84" width="13.48" height="12.71" fill="#f4f8f7" />
<rect x="80.63" y="676.84" width="13.48" height="12.71" fill="#e7f3f1" />
<rect x="94.07" y="676.84" width="13.48" height="12.71" fill="#fafafa" />
<rect x="107.50" y="676.84" width="13.48" height="12.71" fill="#eea6aa" />
<rect x="120.93" y="676.84" width="13.48" height="12.71" fill="#eb8a8f" />
<rect x="134.37" y="676.84" width="13.48" height="12.71" fill="#e3525a" />
<rect x="147.80" y="676.84" width="13.48" height="12.71" fill="#e3525a" />
<rect x="161.23" y="676.84" width="13.48" height="12.71" fill="#f8fafa" />
<rect x="174.67" y="676.84" width="13.48" height="12.71" fill="#d3ece8" />
<rect x="188.10" y="676.84" width="13.48" height="12.71" fill="#f8e9ea" />
<rect x="201.53" y="676.84" width="13.48" height="12.71" fill="#f8efef" />
<rect x="214.97" y="676.84" width="13.48" height="12.71" fill="#e8747a" />
<rect x="228.40" y="676.84" width="13.48" height="12.71" fill="#fafafa" />
<rect x="241.83" y="676.84" width="13.48" height="12.71" fill="#faf7f7" />
<rect x="255.27" y="676.84" width="13.48" height="12.71" fill="#ec959a" />
<rect x="268.70" y="676.84" width="13.48" height="12.71" fill="#fafafa" />
<rect x="282.13" y="676.84" width="13.48" height="12.71" fill="#f7e4e5" />
<rect x="295.57" y="676.84" width="13.48" height="12.71" fill="#f7e4e5" />
<text transform="translate(18.00,685.47) scale(1,1.0)" x="0" y="0" font-size="10.8" text-anchor="middle" fill="#111" stroke="#111" stroke-width="0.28" >F</text>
<rect x="26.90" y="689.50" width="13.48" height="12.71" fill="#added5" />
<rect x="40.33" y="689.50" width="13.48" height="12.71" fill="#f4f8f7" />
<rect x="53.77" y="689.50" width="13.48" height="12.71" fill="#c0e5de" />
<rect x="67.20" y="689.50" width="13.48" height="12.71" fill="#c0e5de" />
<rect x="80.63" y="689.50" width="13.48" height="12.71" fill="#f4f8f7" />
<rect x="94.07" y="689.50" width="13.48" height="12.71" fill="#c0e5de" />
<rect x="107.50" y="689.50" width="13.48" height="12.71" fill="#f8e9ea" />
<rect x="120.93" y="689.50" width="13.48" height="12.71" fill="#fafafa" />
<rect x="134.37" y="689.50" width="13.48" height="12.71" fill="#9ad7cc" />
<rect x="147.80" y="689.50" width="13.48" height="12.71" fill="#f4cdcf" />
<rect x="161.23" y="689.50" width="13.48" height="12.71" fill="#f8fafa" />
<rect x="174.67" y="689.50" width="13.48" height="12.71" fill="#f8e9ea" />
<rect x="188.10" y="689.50" width="13.48" height="12.71" fill="#added5" />
<rect x="201.53" y="689.50" width="13.48" height="12.71" fill="#e55d65" />
<rect x="214.97" y="689.50" width="13.48" height="12.71" fill="#fafafa" />
<rect x="228.40" y="689.50" width="13.48" height="12.71" fill="#fafafa" />
<rect x="241.83" y="689.50" width="13.48" height="12.71" fill="#f7f9f8" />
<rect x="255.27" y="689.50" width="13.48" height="12.71" fill="#daeeeb" />
<rect x="268.70" y="689.50" width="13.48" height="12.71" fill="#d3ece8" />
<rect x="282.13" y="689.50" width="13.48" height="12.71" fill="#f8e9ea" />
<rect x="295.57" y="689.50" width="13.48" height="12.71" fill="#fafafa" />
<text transform="translate(18.00,698.13) scale(1,1.0)" x="0" y="0" font-size="10.8" text-anchor="middle" fill="#111" stroke="#111" stroke-width="0.28" >G</text>
<rect x="26.90" y="702.16" width="13.48" height="12.71" fill="#93d5c9" />
<rect x="40.33" y="702.16" width="13.48" height="12.71" fill="#e7f3f1" />
<rect x="53.77" y="702.16" width="13.48" height="12.71" fill="#39b49e" />
<rect x="67.20" y="702.16" width="13.48" height="12.71" fill="#39b49e" />
<rect x="80.63" y="702.16" width="13.48" height="12.71" fill="#f7e4e5" />
<rect x="94.07" y="702.16" width="13.48" height="12.71" fill="#f3c8ca" />
<rect x="107.50" y="702.16" width="13.48" height="12.71" fill="#39b49e" />
<rect x="120.93" y="702.16" width="13.48" height="12.71" fill="#f2c2c5" />
<rect x="134.37" y="702.16" width="13.48" height="12.71" fill="#e3525a" />
<rect x="147.80" y="702.16" width="13.48" height="12.71" fill="#e3525a" />
<rect x="161.23" y="702.16" width="13.48" height="12.71" fill="#f8fafa" />
<rect x="174.67" y="702.16" width="13.48" height="12.71" fill="#f4f8f7" />
<rect x="188.10" y="702.16" width="13.48" height="12.71" fill="#f8efef" />
<rect x="201.53" y="702.16" width="13.48" height="12.71" fill="#f5d3d5" />
<rect x="214.97" y="702.16" width="13.48" height="12.71" fill="#f7f9f8" />
<rect x="228.40" y="702.16" width="13.48" height="12.71" fill="#fafafa" />
<rect x="241.83" y="702.16" width="13.48" height="12.71" fill="#f8e9ea" />
<rect x="255.27" y="702.16" width="13.48" height="12.71" fill="#e0f1ee" />
<rect x="268.70" y="702.16" width="13.48" height="12.71" fill="#e7f3f1" />
<rect x="282.13" y="702.16" width="13.48" height="12.71" fill="#edf5f4" />
<rect x="295.57" y="702.16" width="13.48" height="12.71" fill="#edf5f4" />
<text transform="translate(18.00,710.79) scale(1,1.0)" x="0" y="0" font-size="10.8" text-anchor="middle" fill="#111" stroke="#111" stroke-width="0.28" >H</text>
<rect x="26.90" y="714.82" width="13.48" height="12.71" fill="#eea6aa" />
<rect x="40.33" y="714.82" width="13.48" height="12.71" fill="#f5d8da" />
<rect x="53.77" y="714.82" width="13.48" height="12.71" fill="#e3525a" />
<rect x="67.20" y="714.82" width="13.48" height="12.71" fill="#e3525a" />
<rect x="80.63" y="714.82" width="13.48" height="12.71" fill="#eb8a8f" />
<rect x="94.07" y="714.82" width="13.48" height="12.71" fill="#f4cdcf" />
<rect x="107.50" y="714.82" width="13.48" height="12.71" fill="#e3525a" />
<rect x="120.93" y="714.82" width="13.48" height="12.71" fill="#ec959a" />
<rect x="134.37" y="714.82" width="13.48" height="12.71" fill="#f8efef" />
<rect x="147.80" y="714.82" width="13.48" height="12.71" fill="#f4f8f7" />
<rect x="161.23" y="714.82" width="13.48" height="12.71" fill="#f8fafa" />
<rect x="174.67" y="714.82" width="13.48" height="12.71" fill="#eb8a8f" />
<rect x="188.10" y="714.82" width="13.48" height="12.71" fill="#e3525a" />
<rect x="201.53" y="714.82" width="13.48" height="12.71" fill="#e3525a" />
<rect x="214.97" y="714.82" width="13.48" height="12.71" fill="#e3525a" />
<rect x="228.40" y="714.82" width="13.48" height="12.71" fill="#fafafa" />
<rect x="241.83" y="714.82" width="13.48" height="12.71" fill="#e3525a" />
<rect x="255.27" y="714.82" width="13.48" height="12.71" fill="#e3525a" />
<rect x="268.70" y="714.82" width="13.48" height="12.71" fill="#e3525a" />
<rect x="282.13" y="714.82" width="13.48" height="12.71" fill="#f4cdcf" />
<rect x="295.57" y="714.82" width="13.48" height="12.71" fill="#e3525a" />
<text transform="translate(18.00,723.45) scale(1,1.0)" x="0" y="0" font-size="10.8" text-anchor="middle" fill="#111" stroke="#111" stroke-width="0.28" >I</text>
<rect x="26.90" y="727.48" width="13.48" height="12.71" fill="#e3525a" />
<rect x="40.33" y="727.48" width="13.48" height="12.71" fill="#e3525a" />
<rect x="53.77" y="727.48" width="13.48" height="12.71" fill="#e3525a" />
<rect x="67.20" y="727.48" width="13.48" height="12.71" fill="#e3525a" />
<rect x="80.63" y="727.48" width="13.48" height="12.71" fill="#e3525a" />
<rect x="94.07" y="727.48" width="13.48" height="12.71" fill="#e3525a" />
<rect x="107.50" y="727.48" width="13.48" height="12.71" fill="#79cbbd" />
<rect x="120.93" y="727.48" width="13.48" height="12.71" fill="#bae3db" />
<rect x="134.37" y="727.48" width="13.48" height="12.71" fill="#e3525a" />
<rect x="147.80" y="727.48" width="13.48" height="12.71" fill="#39b49e" />
<rect x="161.23" y="727.48" width="13.48" height="12.71" fill="#f8fafa" />
<rect x="174.67" y="727.48" width="13.48" height="12.71" fill="#39b49e" />
<rect x="188.10" y="727.48" width="13.48" height="12.71" fill="#cdeae5" />
<rect x="201.53" y="727.48" width="13.48" height="12.71" fill="#d3ece8" />
<rect x="214.97" y="727.48" width="13.48" height="12.71" fill="#fafafa" />
<rect x="228.40" y="727.48" width="13.48" height="12.71" fill="#e3525a" />
<rect x="241.83" y="727.48" width="13.48" height="12.71" fill="#e3525a" />
<rect x="255.27" y="727.48" width="13.48" height="12.71" fill="#e3525a" />
<rect x="268.70" y="727.48" width="13.48" height="12.71" fill="#e3525a" />
<rect x="282.13" y="727.48" width="13.48" height="12.71" fill="#e3525a" />
<rect x="295.57" y="727.48" width="13.48" height="12.71" fill="#e3525a" />
<text transform="translate(18.00,736.11) scale(1,1.0)" x="0" y="0" font-size="10.8" text-anchor="middle" fill="#111" stroke="#111" stroke-width="0.28" >K</text>
<rect x="26.90" y="740.14" width="13.48" height="12.71" fill="#e0f1ee" />
<rect x="40.33" y="740.14" width="13.48" height="12.71" fill="#c0e5de" />
<rect x="53.77" y="740.14" width="13.48" height="12.71" fill="#fafafa" />
<rect x="67.20" y="740.14" width="13.48" height="12.71" fill="#f8efef" />
<rect x="80.63" y="740.14" width="13.48" height="12.71" fill="#93d5c9" />
<rect x="94.07" y="740.14" width="13.48" height="12.71" fill="#f6dedf" />
<rect x="107.50" y="740.14" width="13.48" height="12.71" fill="#e3525a" />
<rect x="120.93" y="740.14" width="13.48" height="12.71" fill="#f8e9ea" />
<rect x="134.37" y="740.14" width="13.48" height="12.71" fill="#f8efef" />
<rect x="147.80" y="740.14" width="13.48" height="12.71" fill="#e3525a" />
<rect x="161.23" y="740.14" width="13.48" height="12.71" fill="#f8fafa" />
<rect x="174.67" y="740.14" width="13.48" height="12.71" fill="#fafafa" />
<rect x="188.10" y="740.14" width="13.48" height="12.71" fill="#f1b7ba" />
<rect x="201.53" y="740.14" width="13.48" height="12.71" fill="#f8efef" />
<rect x="214.97" y="740.14" width="13.48" height="12.71" fill="#e3525a" />
<rect x="228.40" y="740.14" width="13.48" height="12.71" fill="#39b49e" />
<rect x="241.83" y="740.14" width="13.48" height="12.71" fill="#f4f8f7" />
<rect x="255.27" y="740.14" width="13.48" height="12.71" fill="#eea6aa" />
<rect x="268.70" y="740.14" width="13.48" height="12.71" fill="#f7f9f8" />
<rect x="282.13" y="740.14" width="13.48" height="12.71" fill="#c7e7e1" />
<rect x="295.57" y="740.14" width="13.48" height="12.71" fill="#f1b7ba" />
<text transform="translate(18.00,748.77) scale(1,1.0)" x="0" y="0" font-size="10.8" text-anchor="middle" fill="#111" stroke="#111" stroke-width="0.28" >L</text>
<rect x="26.90" y="752.80" width="13.48" height="12.71" fill="#e97f85" />
<rect x="40.33" y="752.80" width="13.48" height="12.71" fill="#f8e9ea" />
<rect x="53.77" y="752.80" width="13.48" height="12.71" fill="#eea6aa" />
<rect x="67.20" y="752.80" width="13.48" height="12.71" fill="#f7e4e5" />
<rect x="80.63" y="752.80" width="13.48" height="12.71" fill="#f3c8ca" />
<rect x="94.07" y="752.80" width="13.48" height="12.71" fill="#f8e9ea" />
<rect x="107.50" y="752.80" width="13.48" height="12.71" fill="#f6dedf" />
<rect x="120.93" y="752.80" width="13.48" height="12.71" fill="#f3c8ca" />
<rect x="134.37" y="752.80" width="13.48" height="12.71" fill="#f5d8da" />
<rect x="147.80" y="752.80" width="13.48" height="12.71" fill="#e3525a" />
<rect x="161.23" y="752.80" width="13.48" height="12.71" fill="#f8fafa" />
<rect x="174.67" y="752.80" width="13.48" height="12.71" fill="#fafafa" />
<rect x="188.10" y="752.80" width="13.48" height="12.71" fill="#eea0a5" />
<rect x="201.53" y="752.80" width="13.48" height="12.71" fill="#f7e4e5" />
<rect x="214.97" y="752.80" width="13.48" height="12.71" fill="#e3525a" />
<rect x="228.40" y="752.80" width="13.48" height="12.71" fill="#fafafa" />
<rect x="241.83" y="752.80" width="13.48" height="12.71" fill="#f8e9ea" />
<rect x="255.27" y="752.80" width="13.48" height="12.71" fill="#eea0a5" />
<rect x="268.70" y="752.80" width="13.48" height="12.71" fill="#f8efef" />
<rect x="282.13" y="752.80" width="13.48" height="12.71" fill="#f4cdcf" />
<rect x="295.57" y="752.80" width="13.48" height="12.71" fill="#e8797f" />
<text transform="translate(18.00,761.43) scale(1,1.0)" x="0" y="0" font-size="10.8" text-anchor="middle" fill="#111" stroke="#111" stroke-width="0.28" >M</text>
<rect x="26.90" y="765.46" width="13.48" height="12.71" fill="#c7e7e1" />
<rect x="40.33" y="765.46" width="13.48" height="12.71" fill="#e0f1ee" />
<rect x="53.77" y="765.46" width="13.48" height="12.71" fill="#e7f3f1" />
<rect x="67.20" y="765.46" width="13.48" height="12.71" fill="#39b49e" />
<rect x="80.63" y="765.46" width="13.48" height="12.71" fill="#e7f3f1" />
<rect x="94.07" y="765.46" width="13.48" height="12.71" fill="#f4f8f7" />
<rect x="107.50" y="765.46" width="13.48" height="12.71" fill="#a6dcd2" />
<rect x="120.93" y="765.46" width="13.48" height="12.71" fill="#efacaf" />
<rect x="134.37" y="765.46" width="13.48" height="12.71" fill="#e3525a" />
<rect x="147.80" y="765.46" width="13.48" height="12.71" fill="#fafafa" />
<rect x="161.23" y="765.46" width="13.48" height="12.71" fill="#f8fafa" />
<rect x="174.67" y="765.46" width="13.48" height="12.71" fill="#d3ece8" />
<rect x="188.10" y="765.46" width="13.48" height="12.71" fill="#c0e5de" />
<rect x="201.53" y="765.46" width="13.48" height="12.71" fill="#a0d9cf" />
<rect x="214.97" y="765.46" width="13.48" height="12.71" fill="#e0f1ee" />
<rect x="228.40" y="765.46" width="13.48" height="12.71" fill="#d3ece8" />
<rect x="241.83" y="765.46" width="13.48" height="12.71" fill="#e0f1ee" />
<rect x="255.27" y="765.46" width="13.48" height="12.71" fill="#e0f1ee" />
<rect x="268.70" y="765.46" width="13.48" height="12.71" fill="#added5" />
<rect x="282.13" y="765.46" width="13.48" height="12.71" fill="#f8e9ea" />
<rect x="295.57" y="765.46" width="13.48" height="12.71" fill="#f8efef" />
<text transform="translate(18.00,774.09) scale(1,1.0)" x="0" y="0" font-size="10.8" text-anchor="middle" fill="#111" stroke="#111" stroke-width="0.28" >N</text>
<rect x="26.90" y="778.12" width="13.48" height="12.71" fill="#39b49e" />
<rect x="40.33" y="778.12" width="13.48" height="12.71" fill="#39b49e" />
<rect x="53.77" y="778.12" width="13.48" height="12.71" fill="#39b49e" />
<rect x="67.20" y="778.12" width="13.48" height="12.71" fill="#39b49e" />
<rect x="80.63" y="778.12" width="13.48" height="12.71" fill="#39b49e" />
<rect x="94.07" y="778.12" width="13.48" height="12.71" fill="#39b49e" />
<rect x="107.50" y="778.12" width="13.48" height="12.71" fill="#39b49e" />
<rect x="120.93" y="778.12" width="13.48" height="12.71" fill="#39b49e" />
<rect x="134.37" y="778.12" width="13.48" height="12.71" fill="#39b49e" />
<rect x="147.80" y="778.12" width="13.48" height="12.71" fill="#e3525a" />
<rect x="161.23" y="778.12" width="13.48" height="12.71" fill="#f8fafa" />
<rect x="174.67" y="778.12" width="13.48" height="12.71" fill="#39b49e" />
<rect x="188.10" y="778.12" width="13.48" height="12.71" fill="#39b49e" />
<rect x="201.53" y="778.12" width="13.48" height="12.71" fill="#39b49e" />
<rect x="214.97" y="778.12" width="13.48" height="12.71" fill="#39b49e" />
<rect x="228.40" y="778.12" width="13.48" height="12.71" fill="#39b49e" />
<rect x="241.83" y="778.12" width="13.48" height="12.71" fill="#39b49e" />
<rect x="255.27" y="778.12" width="13.48" height="12.71" fill="#39b49e" />
<rect x="268.70" y="778.12" width="13.48" height="12.71" fill="#39b49e" />
<rect x="282.13" y="778.12" width="13.48" height="12.71" fill="#39b49e" />
<rect x="295.57" y="778.12" width="13.48" height="12.71" fill="#39b49e" />
<text transform="translate(18.00,786.75) scale(1,1.0)" x="0" y="0" font-size="10.8" text-anchor="middle" fill="#111" stroke="#111" stroke-width="0.28" >P</text>
<rect x="26.90" y="790.78" width="13.48" height="12.71" fill="#edf5f4" />
<rect x="40.33" y="790.78" width="13.48" height="12.71" fill="#daeeeb" />
<rect x="53.77" y="790.78" width="13.48" height="12.71" fill="#c0e5de" />
<rect x="67.20" y="790.78" width="13.48" height="12.71" fill="#8dd2c6" />
<rect x="80.63" y="790.78" width="13.48" height="12.71" fill="#e0f1ee" />
<rect x="94.07" y="790.78" width="13.48" height="12.71" fill="#e7f3f1" />
<rect x="107.50" y="790.78" width="13.48" height="12.71" fill="#39b49e" />
<rect x="120.93" y="790.78" width="13.48" height="12.71" fill="#e0f1ee" />
<rect x="134.37" y="790.78" width="13.48" height="12.71" fill="#f3c8ca" />
<rect x="147.80" y="790.78" width="13.48" height="12.71" fill="#f8e9ea" />
<rect x="161.23" y="790.78" width="13.48" height="12.71" fill="#f8fafa" />
<rect x="174.67" y="790.78" width="13.48" height="12.71" fill="#e3525a" />
<rect x="188.10" y="790.78" width="13.48" height="12.71" fill="#f6dedf" />
<rect x="201.53" y="790.78" width="13.48" height="12.71" fill="#c0e5de" />
<rect x="214.97" y="790.78" width="13.48" height="12.71" fill="#93d5c9" />
<rect x="228.40" y="790.78" width="13.48" height="12.71" fill="#eea6aa" />
<rect x="241.83" y="790.78" width="13.48" height="12.71" fill="#e7f3f1" />
<rect x="255.27" y="790.78" width="13.48" height="12.71" fill="#39b49e" />
<rect x="268.70" y="790.78" width="13.48" height="12.71" fill="#fafafa" />
<rect x="282.13" y="790.78" width="13.48" height="12.71" fill="#faf7f7" />
<rect x="295.57" y="790.78" width="13.48" height="12.71" fill="#bae3db" />
<text transform="translate(18.00,799.41) scale(1,1.0)" x="0" y="0" font-size="10.8" text-anchor="middle" fill="#111" stroke="#111" stroke-width="0.28" >Q</text>
<rect x="26.90" y="803.44" width="13.48" height="12.71" fill="#e3525a" />
<rect x="40.33" y="803.44" width="13.48" height="12.71" fill="#e3525a" />
<rect x="53.77" y="803.44" width="13.48" height="12.71" fill="#e3525a" />
<rect x="67.20" y="803.44" width="13.48" height="12.71" fill="#e3525a" />
<rect x="80.63" y="803.44" width="13.48" height="12.71" fill="#e3525a" />
<rect x="94.07" y="803.44" width="13.48" height="12.71" fill="#e3525a" />
<rect x="107.50" y="803.44" width="13.48" height="12.71" fill="#39b49e" />
<rect x="120.93" y="803.44" width="13.48" height="12.71" fill="#bae3db" />
<rect x="134.37" y="803.44" width="13.48" height="12.71" fill="#fafafa" />
<rect x="147.80" y="803.44" width="13.48" height="12.71" fill="#39b49e" />
<rect x="161.23" y="803.44" width="13.48" height="12.71" fill="#f8fafa" />
<rect x="174.67" y="803.44" width="13.48" height="12.71" fill="#39b49e" />
<rect x="188.10" y="803.44" width="13.48" height="12.71" fill="#f1b7ba" />
<rect x="201.53" y="803.44" width="13.48" height="12.71" fill="#fafafa" />
<rect x="214.97" y="803.44" width="13.48" height="12.71" fill="#e7f3f1" />
<rect x="228.40" y="803.44" width="13.48" height="12.71" fill="#e3525a" />
<rect x="241.83" y="803.44" width="13.48" height="12.71" fill="#e3525a" />
<rect x="255.27" y="803.44" width="13.48" height="12.71" fill="#e3525a" />
<rect x="268.70" y="803.44" width="13.48" height="12.71" fill="#e3525a" />
<rect x="282.13" y="803.44" width="13.48" height="12.71" fill="#e3525a" />
<rect x="295.57" y="803.44" width="13.48" height="12.71" fill="#ec959a" />
<text transform="translate(18.00,812.07) scale(1,1.0)" x="0" y="0" font-size="10.8" text-anchor="middle" fill="#111" stroke="#111" stroke-width="0.28" >R</text>
<rect x="26.90" y="816.10" width="13.48" height="12.71" fill="#39b49e" />
<rect x="40.33" y="816.10" width="13.48" height="12.71" fill="#39b49e" />
<rect x="53.77" y="816.10" width="13.48" height="12.71" fill="#39b49e" />
<rect x="67.20" y="816.10" width="13.48" height="12.71" fill="#39b49e" />
<rect x="80.63" y="816.10" width="13.48" height="12.71" fill="#39b49e" />
<rect x="94.07" y="816.10" width="13.48" height="12.71" fill="#39b49e" />
<rect x="107.50" y="816.10" width="13.48" height="12.71" fill="#39b49e" />
<rect x="120.93" y="816.10" width="13.48" height="12.71" fill="#39b49e" />
<rect x="134.37" y="816.10" width="13.48" height="12.71" fill="#39b49e" />
<rect x="147.80" y="816.10" width="13.48" height="12.71" fill="#f5d3d5" />
<rect x="161.23" y="816.10" width="13.48" height="12.71" fill="#f8fafa" />
<rect x="174.67" y="816.10" width="13.48" height="12.71" fill="#39b49e" />
<rect x="188.10" y="816.10" width="13.48" height="12.71" fill="#39b49e" />
<rect x="201.53" y="816.10" width="13.48" height="12.71" fill="#39b49e" />
<rect x="214.97" y="816.10" width="13.48" height="12.71" fill="#39b49e" />
<rect x="228.40" y="816.10" width="13.48" height="12.71" fill="#39b49e" />
<rect x="241.83" y="816.10" width="13.48" height="12.71" fill="#39b49e" />
<rect x="255.27" y="816.10" width="13.48" height="12.71" fill="#39b49e" />
<rect x="268.70" y="816.10" width="13.48" height="12.71" fill="#39b49e" />
<rect x="282.13" y="816.10" width="13.48" height="12.71" fill="#39b49e" />
<rect x="295.57" y="816.10" width="13.48" height="12.71" fill="#39b49e" />
<text transform="translate(18.00,824.73) scale(1,1.0)" x="0" y="0" font-size="10.8" text-anchor="middle" fill="#111" stroke="#111" stroke-width="0.28" >S</text>
<rect x="26.90" y="828.76" width="13.48" height="12.71" fill="#cdeae5" />
<rect x="40.33" y="828.76" width="13.48" height="12.71" fill="#a0d9cf" />
<rect x="53.77" y="828.76" width="13.48" height="12.71" fill="#daeeeb" />
<rect x="67.20" y="828.76" width="13.48" height="12.71" fill="#e0f1ee" />
<rect x="80.63" y="828.76" width="13.48" height="12.71" fill="#6cc7b7" />
<rect x="94.07" y="828.76" width="13.48" height="12.71" fill="#c7e7e1" />
<rect x="107.50" y="828.76" width="13.48" height="12.71" fill="#edf5f4" />
<rect x="120.93" y="828.76" width="13.48" height="12.71" fill="#6cc7b7" />
<rect x="134.37" y="828.76" width="13.48" height="12.71" fill="#86d0c3" />
<rect x="147.80" y="828.76" width="13.48" height="12.71" fill="#e3525a" />
<rect x="161.23" y="828.76" width="13.48" height="12.71" fill="#f8fafa" />
<rect x="174.67" y="828.76" width="13.48" height="12.71" fill="#fafafa" />
<rect x="188.10" y="828.76" width="13.48" height="12.71" fill="#c7e7e1" />
<rect x="201.53" y="828.76" width="13.48" height="12.71" fill="#59c0ad" />
<rect x="214.97" y="828.76" width="13.48" height="12.71" fill="#e7f3f1" />
<rect x="228.40" y="828.76" width="13.48" height="12.71" fill="#9ad7cc" />
<rect x="241.83" y="828.76" width="13.48" height="12.71" fill="#d3ece8" />
<rect x="255.27" y="828.76" width="13.48" height="12.71" fill="#cdeae5" />
<rect x="268.70" y="828.76" width="13.48" height="12.71" fill="#d3ece8" />
<rect x="282.13" y="828.76" width="13.48" height="12.71" fill="#cdeae5" />
<rect x="295.57" y="828.76" width="13.48" height="12.71" fill="#a6dcd2" />
<text transform="translate(18.00,837.39) scale(1,1.0)" x="0" y="0" font-size="10.8" text-anchor="middle" fill="#111" stroke="#111" stroke-width="0.28" >T</text>
<rect x="26.90" y="841.42" width="13.48" height="12.71" fill="#e97f85" />
<rect x="40.33" y="841.42" width="13.48" height="12.71" fill="#f0b1b5" />
<rect x="53.77" y="841.42" width="13.48" height="12.71" fill="#e6686f" />
<rect x="67.20" y="841.42" width="13.48" height="12.71" fill="#e97f85" />
<rect x="80.63" y="841.42" width="13.48" height="12.71" fill="#f8e9ea" />
<rect x="94.07" y="841.42" width="13.48" height="12.71" fill="#f0b1b5" />
<rect x="107.50" y="841.42" width="13.48" height="12.71" fill="#e3525a" />
<rect x="120.93" y="841.42" width="13.48" height="12.71" fill="#e55d65" />
<rect x="134.37" y="841.42" width="13.48" height="12.71" fill="#e97f85" />
<rect x="147.80" y="841.42" width="13.48" height="12.71" fill="#e3525a" />
<rect x="161.23" y="841.42" width="13.48" height="12.71" fill="#f8fafa" />
<rect x="174.67" y="841.42" width="13.48" height="12.71" fill="#e3525a" />
<rect x="188.10" y="841.42" width="13.48" height="12.71" fill="#e3525a" />
<rect x="201.53" y="841.42" width="13.48" height="12.71" fill="#eb8a8f" />
<rect x="214.97" y="841.42" width="13.48" height="12.71" fill="#eea6aa" />
<rect x="228.40" y="841.42" width="13.48" height="12.71" fill="#faf7f7" />
<rect x="241.83" y="841.42" width="13.48" height="12.71" fill="#f8efef" />
<rect x="255.27" y="841.42" width="13.48" height="12.71" fill="#f1b7ba" />
<rect x="268.70" y="841.42" width="13.48" height="12.71" fill="#f1b7ba" />
<rect x="282.13" y="841.42" width="13.48" height="12.71" fill="#f9f4f5" />
<rect x="295.57" y="841.42" width="13.48" height="12.71" fill="#eb8a8f" />
<text transform="translate(18.00,850.05) scale(1,1.0)" x="0" y="0" font-size="10.8" text-anchor="middle" fill="#111" stroke="#111" stroke-width="0.28" >V</text>
<rect x="26.90" y="854.08" width="13.48" height="12.71" fill="#edf5f4" />
<rect x="40.33" y="854.08" width="13.48" height="12.71" fill="#daeeeb" />
<rect x="53.77" y="854.08" width="13.48" height="12.71" fill="#e0f1ee" />
<rect x="67.20" y="854.08" width="13.48" height="12.71" fill="#cdeae5" />
<rect x="80.63" y="854.08" width="13.48" height="12.71" fill="#c0e5de" />
<rect x="94.07" y="854.08" width="13.48" height="12.71" fill="#daeeeb" />
<rect x="107.50" y="854.08" width="13.48" height="12.71" fill="#f4f8f7" />
<rect x="120.93" y="854.08" width="13.48" height="12.71" fill="#f8e9ea" />
<rect x="134.37" y="854.08" width="13.48" height="12.71" fill="#f5d8da" />
<rect x="147.80" y="854.08" width="13.48" height="12.71" fill="#e3525a" />
<rect x="161.23" y="854.08" width="13.48" height="12.71" fill="#f8fafa" />
<rect x="174.67" y="854.08" width="13.48" height="12.71" fill="#f6dedf" />
<rect x="188.10" y="854.08" width="13.48" height="12.71" fill="#ec959a" />
<rect x="201.53" y="854.08" width="13.48" height="12.71" fill="#fafafa" />
<rect x="214.97" y="854.08" width="13.48" height="12.71" fill="#f8e9ea" />
<rect x="228.40" y="854.08" width="13.48" height="12.71" fill="#e7f3f1" />
<rect x="241.83" y="854.08" width="13.48" height="12.71" fill="#faf7f7" />
<rect x="255.27" y="854.08" width="13.48" height="12.71" fill="#daeeeb" />
<rect x="268.70" y="854.08" width="13.48" height="12.71" fill="#fafafa" />
<rect x="282.13" y="854.08" width="13.48" height="12.71" fill="#bae3db" />
<rect x="295.57" y="854.08" width="13.48" height="12.71" fill="#e7f3f1" />
<text transform="translate(18.00,862.71) scale(1,1.0)" x="0" y="0" font-size="10.8" text-anchor="middle" fill="#111" stroke="#111" stroke-width="0.28" >W</text>
<rect x="26.90" y="866.74" width="13.48" height="12.71" fill="#f3c8ca" />
<rect x="40.33" y="866.74" width="13.48" height="12.71" fill="#f5d8da" />
<rect x="53.77" y="866.74" width="13.48" height="12.71" fill="#f9f4f5" />
<rect x="67.20" y="866.74" width="13.48" height="12.71" fill="#fafafa" />
<rect x="80.63" y="866.74" width="13.48" height="12.71" fill="#f1b7ba" />
<rect x="94.07" y="866.74" width="13.48" height="12.71" fill="#f8e9ea" />
<rect x="107.50" y="866.74" width="13.48" height="12.71" fill="#e0f1ee" />
<rect x="120.93" y="866.74" width="13.48" height="12.71" fill="#fafafa" />
<rect x="134.37" y="866.74" width="13.48" height="12.71" fill="#f2bcbf" />
<rect x="147.80" y="866.74" width="13.48" height="12.71" fill="#e3525a" />
<rect x="161.23" y="866.74" width="13.48" height="12.71" fill="#f8fafa" />
<rect x="174.67" y="866.74" width="13.48" height="12.71" fill="#39b49e" />
<rect x="188.10" y="866.74" width="13.48" height="12.71" fill="#f8e9ea" />
<rect x="201.53" y="866.74" width="13.48" height="12.71" fill="#f4cdcf" />
<rect x="214.97" y="866.74" width="13.48" height="12.71" fill="#d3ece8" />
<rect x="228.40" y="866.74" width="13.48" height="12.71" fill="#faf7f7" />
<rect x="241.83" y="866.74" width="13.48" height="12.71" fill="#f7e4e5" />
<rect x="255.27" y="866.74" width="13.48" height="12.71" fill="#f6dedf" />
<rect x="268.70" y="866.74" width="13.48" height="12.71" fill="#f7e4e5" />
<rect x="282.13" y="866.74" width="13.48" height="12.71" fill="#f8e9ea" />
<rect x="295.57" y="866.74" width="13.48" height="12.71" fill="#f8e9ea" />
<text transform="translate(18.00,875.37) scale(1,1.0)" x="0" y="0" font-size="10.8" text-anchor="middle" fill="#111" stroke="#111" stroke-width="0.28" >Y</text>
<line x1="26.90" y1="626.20" x2="26.90" y2="879.40" stroke="#ababab" stroke-width="0.7" opacity="0.9"/>
<line x1="40.33" y1="626.20" x2="40.33" y2="879.40" stroke="#ababab" stroke-width="0.7" opacity="0.9"/>
<line x1="53.77" y1="626.20" x2="53.77" y2="879.40" stroke="#ababab" stroke-width="0.7" opacity="0.9"/>
<line x1="67.20" y1="626.20" x2="67.20" y2="879.40" stroke="#ababab" stroke-width="0.7" opacity="0.9"/>
<line x1="80.63" y1="626.20" x2="80.63" y2="879.40" stroke="#ababab" stroke-width="0.7" opacity="0.9"/>
<line x1="94.07" y1="626.20" x2="94.07" y2="879.40" stroke="#ababab" stroke-width="0.7" opacity="0.9"/>
<line x1="107.50" y1="626.20" x2="107.50" y2="879.40" stroke="#ababab" stroke-width="0.7" opacity="0.9"/>
<line x1="120.93" y1="626.20" x2="120.93" y2="879.40" stroke="#ababab" stroke-width="0.7" opacity="0.9"/>
<line x1="134.37" y1="626.20" x2="134.37" y2="879.40" stroke="#ababab" stroke-width="0.7" opacity="0.9"/>
<line x1="147.80" y1="626.20" x2="147.80" y2="879.40" stroke="#ababab" stroke-width="0.7" opacity="0.9"/>
<line x1="161.23" y1="626.20" x2="161.23" y2="879.40" stroke="#ababab" stroke-width="0.7" opacity="0.9"/>
<line x1="174.67" y1="626.20" x2="174.67" y2="879.40" stroke="#ababab" stroke-width="0.7" opacity="0.9"/>
<line x1="188.10" y1="626.20" x2="188.10" y2="879.40" stroke="#ababab" stroke-width="0.7" opacity="0.9"/>
<line x1="201.53" y1="626.20" x2="201.53" y2="879.40" stroke="#ababab" stroke-width="0.7" opacity="0.9"/>
<line x1="214.97" y1="626.20" x2="214.97" y2="879.40" stroke="#ababab" stroke-width="0.7" opacity="0.9"/>
<line x1="228.40" y1="626.20" x2="228.40" y2="879.40" stroke="#ababab" stroke-width="0.7" opacity="0.9"/>
<line x1="241.83" y1="626.20" x2="241.83" y2="879.40" stroke="#ababab" stroke-width="0.7" opacity="0.9"/>
<line x1="255.27" y1="626.20" x2="255.27" y2="879.40" stroke="#ababab" stroke-width="0.7" opacity="0.9"/>
<line x1="268.70" y1="626.20" x2="268.70" y2="879.40" stroke="#ababab" stroke-width="0.7" opacity="0.9"/>
<line x1="282.13" y1="626.20" x2="282.13" y2="879.40" stroke="#ababab" stroke-width="0.7" opacity="0.9"/>
<line x1="295.57" y1="626.20" x2="295.57" y2="879.40" stroke="#ababab" stroke-width="0.7" opacity="0.9"/>
<line x1="309.00" y1="626.20" x2="309.00" y2="879.40" stroke="#ababab" stroke-width="0.7" opacity="0.9"/>
<line x1="26.90" y1="626.20" x2="309.00" y2="626.20" stroke="#ababab" stroke-width="0.7" opacity="0.9"/>
<line x1="26.90" y1="638.86" x2="309.00" y2="638.86" stroke="#ababab" stroke-width="0.7" opacity="0.9"/>
<line x1="26.90" y1="651.52" x2="309.00" y2="651.52" stroke="#ababab" stroke-width="0.7" opacity="0.9"/>
<line x1="26.90" y1="664.18" x2="309.00" y2="664.18" stroke="#ababab" stroke-width="0.7" opacity="0.9"/>
<line x1="26.90" y1="676.84" x2="309.00" y2="676.84" stroke="#ababab" stroke-width="0.7" opacity="0.9"/>
<line x1="26.90" y1="689.50" x2="309.00" y2="689.50" stroke="#ababab" stroke-width="0.7" opacity="0.9"/>
<line x1="26.90" y1="702.16" x2="309.00" y2="702.16" stroke="#ababab" stroke-width="0.7" opacity="0.9"/>
<line x1="26.90" y1="714.82" x2="309.00" y2="714.82" stroke="#ababab" stroke-width="0.7" opacity="0.9"/>
<line x1="26.90" y1="727.48" x2="309.00" y2="727.48" stroke="#ababab" stroke-width="0.7" opacity="0.9"/>
<line x1="26.90" y1="740.14" x2="309.00" y2="740.14" stroke="#ababab" stroke-width="0.7" opacity="0.9"/>
<line x1="26.90" y1="752.80" x2="309.00" y2="752.80" stroke="#ababab" stroke-width="0.7" opacity="0.9"/>
<line x1="26.90" y1="765.46" x2="309.00" y2="765.46" stroke="#ababab" stroke-width="0.7" opacity="0.9"/>
<line x1="26.90" y1="778.12" x2="309.00" y2="778.12" stroke="#ababab" stroke-width="0.7" opacity="0.9"/>
<line x1="26.90" y1="790.78" x2="309.00" y2="790.78" stroke="#ababab" stroke-width="0.7" opacity="0.9"/>
<line x1="26.90" y1="803.44" x2="309.00" y2="803.44" stroke="#ababab" stroke-width="0.7" opacity="0.9"/>
<line x1="26.90" y1="816.10" x2="309.00" y2="816.10" stroke="#ababab" stroke-width="0.7" opacity="0.9"/>
<line x1="26.90" y1="828.76" x2="309.00" y2="828.76" stroke="#ababab" stroke-width="0.7" opacity="0.9"/>
<line x1="26.90" y1="841.42" x2="309.00" y2="841.42" stroke="#ababab" stroke-width="0.7" opacity="0.9"/>
<line x1="26.90" y1="854.08" x2="309.00" y2="854.08" stroke="#ababab" stroke-width="0.7" opacity="0.9"/>
<line x1="26.90" y1="866.74" x2="309.00" y2="866.74" stroke="#ababab" stroke-width="0.7" opacity="0.9"/>
<line x1="26.90" y1="879.40" x2="309.00" y2="879.40" stroke="#ababab" stroke-width="0.7" opacity="0.9"/>
<text transform="translate(33.40,620.50) scale(1,1.0)" x="0" y="0" font-size="10.3" text-anchor="middle" fill="#111" stroke="#111" stroke-width="0.28" >-10</text>
<text transform="translate(47.90,620.50) scale(1,1.0)" x="0" y="0" font-size="10.3" text-anchor="middle" fill="#111" stroke="#111" stroke-width="0.28" >-9</text>
<text transform="translate(59.60,620.50) scale(1,1.0)" x="0" y="0" font-size="10.3" text-anchor="middle" fill="#111" stroke="#111" stroke-width="0.28" >-8</text>
<text transform="translate(72.40,620.50) scale(1,1.0)" x="0" y="0" font-size="10.3" text-anchor="middle" fill="#111" stroke="#111" stroke-width="0.28" >-7</text>
<text transform="translate(84.60,620.50) scale(1,1.0)" x="0" y="0" font-size="10.3" text-anchor="middle" fill="#111" stroke="#111" stroke-width="0.28" >-6</text>
<text transform="translate(95.80,620.50) scale(1,1.0)" x="0" y="0" font-size="10.3" text-anchor="middle" fill="#111" stroke="#111" stroke-width="0.28" >-5</text>
<text transform="translate(111.70,620.50) scale(1,1.0)" x="0" y="0" font-size="10.3" text-anchor="middle" fill="#111" stroke="#111" stroke-width="0.28" >-4</text>
<text transform="translate(123.80,620.50) scale(1,1.0)" x="0" y="0" font-size="10.3" text-anchor="middle" fill="#111" stroke="#111" stroke-width="0.28" >-3</text>
<text transform="translate(135.50,620.50) scale(1,1.0)" x="0" y="0" font-size="10.3" text-anchor="middle" fill="#111" stroke="#111" stroke-width="0.28" >-2</text>
<text transform="translate(150.40,620.50) scale(1,1.0)" x="0" y="0" font-size="10.3" text-anchor="middle" fill="#111" stroke="#111" stroke-width="0.28" >-1</text>
<text transform="translate(164.70,620.50) scale(1,1.0)" x="0" y="0" font-size="10.3" text-anchor="middle" fill="#111" stroke="#111" stroke-width="0.28" >K</text>
<text transform="translate(180.60,620.50) scale(1,1.0)" x="0" y="0" font-size="10.3" text-anchor="middle" fill="#111" stroke="#111" stroke-width="0.28" >+1</text>
<text transform="translate(194.60,620.50) scale(1,1.0)" x="0" y="0" font-size="10.3" text-anchor="middle" fill="#111" stroke="#111" stroke-width="0.28" >+2</text>
<text transform="translate(207.60,620.50) scale(1,1.0)" x="0" y="0" font-size="10.3" text-anchor="middle" fill="#111" stroke="#111" stroke-width="0.28" >+3</text>
<text transform="translate(219.80,620.50) scale(1,1.0)" x="0" y="0" font-size="10.3" text-anchor="middle" fill="#111" stroke="#111" stroke-width="0.28" >+4</text>
<text transform="translate(235.90,620.50) scale(1,1.0)" x="0" y="0" font-size="10.3" text-anchor="middle" fill="#111" stroke="#111" stroke-width="0.28" >+5</text>
<text transform="translate(249.70,620.50) scale(1,1.0)" x="0" y="0" font-size="10.3" text-anchor="middle" fill="#111" stroke="#111" stroke-width="0.28" >+6</text>
<text transform="translate(260.70,620.50) scale(1,1.0)" x="0" y="0" font-size="10.3" text-anchor="middle" fill="#111" stroke="#111" stroke-width="0.28" >+7</text>
<text transform="translate(271.90,620.50) scale(1,1.0)" x="0" y="0" font-size="10.3" text-anchor="middle" fill="#111" stroke="#111" stroke-width="0.28" >+8</text>
<text transform="translate(282.90,620.50) scale(1,1.0)" x="0" y="0" font-size="10.3" text-anchor="middle" fill="#111" stroke="#111" stroke-width="0.28" >+9</text>
<text transform="translate(298.30,620.50) scale(1,1.0)" x="0" y="0" font-size="10.3" text-anchor="middle" fill="#111" stroke="#111" stroke-width="0.28" >+10</text>
<defs><linearGradient id="cb" x1="0" x2="1" y1="0" y2="0"><stop offset="0" stop-color="#39b49e"/><stop offset="0.5" stop-color="#fafafa"/><stop offset="1" stop-color="#e3525a"/></linearGradient></defs>
<rect x="143.10" y="892.60" width="33.40" height="7.90" fill="url(#cb)" />
<text transform="translate(145.50,913.00) scale(1,1.08)" x="0" y="0" font-size="10.6" text-anchor="middle" fill="#111" stroke="#111" stroke-width="0.28" >-10</text>
<text transform="translate(160.50,913.00) scale(1,1.08)" x="0" y="0" font-size="10.6" text-anchor="middle" fill="#111" stroke="#111" stroke-width="0.28" >0</text>
<text transform="translate(173.00,913.00) scale(1,1.08)" x="0" y="0" font-size="10.6" text-anchor="middle" fill="#111" stroke="#111" stroke-width="0.28" >10</text>
<text transform="translate(89.10,895.00) scale(1,1.08)" x="0" y="0" font-size="11.3" text-anchor="middle" fill="#111" stroke="#111" stroke-width="0.28" >If fold increase &lt;1</text>
<text x="1.2" y="909.2" font-size="11.3" fill="#111" stroke="#111" stroke-width="0.28">Log<tspan font-size="7.5" dy="1.5">10</tspan><tspan dy="-1.5"> Fisher’s exact test </tspan><tspan font-style="italic">P</tspan></text>
<text transform="translate(186.20,894.90) scale(1,1.08)" x="0" y="0" font-size="11.3" text-anchor="start" fill="#111" stroke="#111" stroke-width="0.28" >If fold increase &gt;1</text>
<text x="186" y="909.2" font-size="11.3" fill="#111" stroke="#111" stroke-width="0.28">-Log<tspan font-size="7.5" dy="1.5">10</tspan><tspan dy="-1.5"> Fisher’s exact test </tspan><tspan font-style="italic">P</tspan></text>
<text transform="translate(534.70,621.80) scale(1,1.08)" x="0" y="0" font-size="11.7" text-anchor="middle" fill="#111" font-weight="bold" >Go enrichment of Kcr proteins</text>
<text x="554.0" y="648.6" font-size="11.9" text-anchor="end" fill="#111" stroke="#111" stroke-width="0.28">-Log<tspan font-size="8.2" dy="1.6">10</tspan><tspan dy="-1.6" font-style="italic">P</tspan></text>
<text transform="translate(560.50,648.20) scale(1,1.14)" x="0" y="0" font-size="10.6" text-anchor="middle" fill="#111" stroke="#111" stroke-width="0.28" >0</text>
<text transform="translate(605.84,648.20) scale(1,1.14)" x="0" y="0" font-size="10.6" text-anchor="middle" fill="#111" stroke="#111" stroke-width="0.28" >60</text>
<text transform="translate(651.17,648.20) scale(1,1.14)" x="0" y="0" font-size="10.6" text-anchor="middle" fill="#111" stroke="#111" stroke-width="0.28" >120</text>
<line x1="560.50" y1="657.90" x2="651.17" y2="657.90" stroke="#888" stroke-width="0.8" />
<line x1="560.50" y1="654.50" x2="560.50" y2="657.90" stroke="#888" stroke-width="0.8" />
<line x1="605.84" y1="654.50" x2="605.84" y2="657.90" stroke="#888" stroke-width="0.8" />
<line x1="651.17" y1="654.50" x2="651.17" y2="657.90" stroke="#888" stroke-width="0.8" />
<line x1="322.60" y1="657.90" x2="560.50" y2="657.90" stroke="#888" stroke-width="0.8" />
<line x1="560.50" y1="657.90" x2="560.50" y2="872.60" stroke="#888" stroke-width="0.8" />
<line x1="322.60" y1="765.60" x2="560.50" y2="765.60" stroke="#888" stroke-width="0.8" />
<line x1="322.60" y1="872.60" x2="560.50" y2="872.60" stroke="#888" stroke-width="0.8" />
<rect x="560.50" y="662.85" width="82.59" height="12.10" fill="#9c9ceb" />
<text transform="translate(550.70,673.10) scale(1,1.08)" x="0" y="0" font-size="11.7" text-anchor="end" fill="#111" stroke="#111" stroke-width="0.28" >Carboxylic acid metabolic process</text>
<text transform="translate(648.59,673.10) scale(1,1.08)" x="0" y="0" font-size="11.7" text-anchor="start" fill="#111" stroke="#111" stroke-width="0.28" >109.31</text>
<rect x="560.50" y="684.18" width="57.90" height="12.10" fill="#9c9ceb" />
<text transform="translate(550.70,694.43) scale(1,1.08)" x="0" y="0" font-size="11.7" text-anchor="end" fill="#111" stroke="#111" stroke-width="0.28" >Peptide metabolic process</text>
<text transform="translate(623.90,694.43) scale(1,1.08)" x="0" y="0" font-size="11.7" text-anchor="start" fill="#111" stroke="#111" stroke-width="0.28" >76.63</text>
<rect x="560.50" y="705.51" width="46.54" height="12.10" fill="#9c9ceb" />
<text transform="translate(550.70,715.76) scale(1,1.08)" x="0" y="0" font-size="11.7" text-anchor="end" fill="#111" stroke="#111" stroke-width="0.28" >Monocarboxylic acid metabolic process</text>
<text transform="translate(612.54,715.76) scale(1,1.08)" x="0" y="0" font-size="11.7" text-anchor="start" fill="#111" stroke="#111" stroke-width="0.28" >61.6</text>
<rect x="560.50" y="726.84" width="40.86" height="12.10" fill="#9c9ceb" />
<text transform="translate(550.70,737.09) scale(1,1.08)" x="0" y="0" font-size="11.7" text-anchor="end" fill="#111" stroke="#111" stroke-width="0.28" >Carboxylic acid catabolic process</text>
<text transform="translate(606.86,737.09) scale(1,1.08)" x="0" y="0" font-size="11.7" text-anchor="start" fill="#111" stroke="#111" stroke-width="0.28" >54.07</text>
<rect x="560.50" y="748.17" width="25.11" height="12.10" fill="#9c9ceb" />
<text transform="translate(550.70,758.42) scale(1,1.08)" x="0" y="0" font-size="11.7" text-anchor="end" fill="#111" stroke="#111" stroke-width="0.28" >Carboxylic acid biosynthetic process</text>
<text transform="translate(591.11,758.42) scale(1,1.08)" x="0" y="0" font-size="11.7" text-anchor="start" fill="#111" stroke="#111" stroke-width="0.28" >33.23</text>
<rect x="560.50" y="769.50" width="46.78" height="12.10" fill="#f9d25f" />
<text transform="translate(550.70,779.75) scale(1,1.08)" x="0" y="0" font-size="11.7" text-anchor="end" fill="#111" stroke="#111" stroke-width="0.28" >Oxidoreductase activity</text>
<text transform="translate(612.78,779.75) scale(1,1.08)" x="0" y="0" font-size="11.7" text-anchor="start" fill="#111" stroke="#111" stroke-width="0.28" >61.91</text>
<rect x="560.50" y="790.83" width="36.34" height="12.10" fill="#f9d25f" />
<text transform="translate(550.70,801.08) scale(1,1.08)" x="0" y="0" font-size="11.7" text-anchor="end" fill="#111" stroke="#111" stroke-width="0.28" >Structural constituent of ribosome</text>
<text transform="translate(602.34,801.08) scale(1,1.08)" x="0" y="0" font-size="11.7" text-anchor="start" fill="#111" stroke="#111" stroke-width="0.28" >48.09</text>
<rect x="560.50" y="812.16" width="36.04" height="12.10" fill="#f9d25f" />
<text transform="translate(550.70,822.41) scale(1,1.08)" x="0" y="0" font-size="11.7" text-anchor="end" fill="#111" stroke="#111" stroke-width="0.28" >Small molecule binding</text>
<text transform="translate(602.04,822.41) scale(1,1.08)" x="0" y="0" font-size="11.7" text-anchor="start" fill="#111" stroke="#111" stroke-width="0.28" >47.7</text>
<rect x="560.50" y="833.49" width="25.60" height="12.10" fill="#f9d25f" />
<text transform="translate(550.70,843.74) scale(1,1.08)" x="0" y="0" font-size="11.7" text-anchor="end" fill="#111" stroke="#111" stroke-width="0.28" >Nucleotide binding</text>
<text transform="translate(591.60,843.74) scale(1,1.08)" x="0" y="0" font-size="11.7" text-anchor="start" fill="#111" stroke="#111" stroke-width="0.28" >33.88</text>
<rect x="560.50" y="854.82" width="25.60" height="12.10" fill="#f9d25f" />
<text transform="translate(550.70,865.07) scale(1,1.08)" x="0" y="0" font-size="11.7" text-anchor="end" fill="#111" stroke="#111" stroke-width="0.28" >Nucleoside phosphate binding</text>
<text transform="translate(591.60,865.07) scale(1,1.08)" x="0" y="0" font-size="11.7" text-anchor="start" fill="#111" stroke="#111" stroke-width="0.28" >33.88</text>
<text x="0" y="0" font-size="11.7" text-anchor="middle" fill="#111" transform="translate(334.2,711.6) rotate(-90)" stroke="#111" stroke-width="0.28">Biological Process</text>
<text x="0" y="0" font-size="11.7" text-anchor="middle" fill="#111" transform="translate(334.2,819.2) rotate(-90)" stroke="#111" stroke-width="0.28">Molecular Function</text>
</svg>
</body></html>
